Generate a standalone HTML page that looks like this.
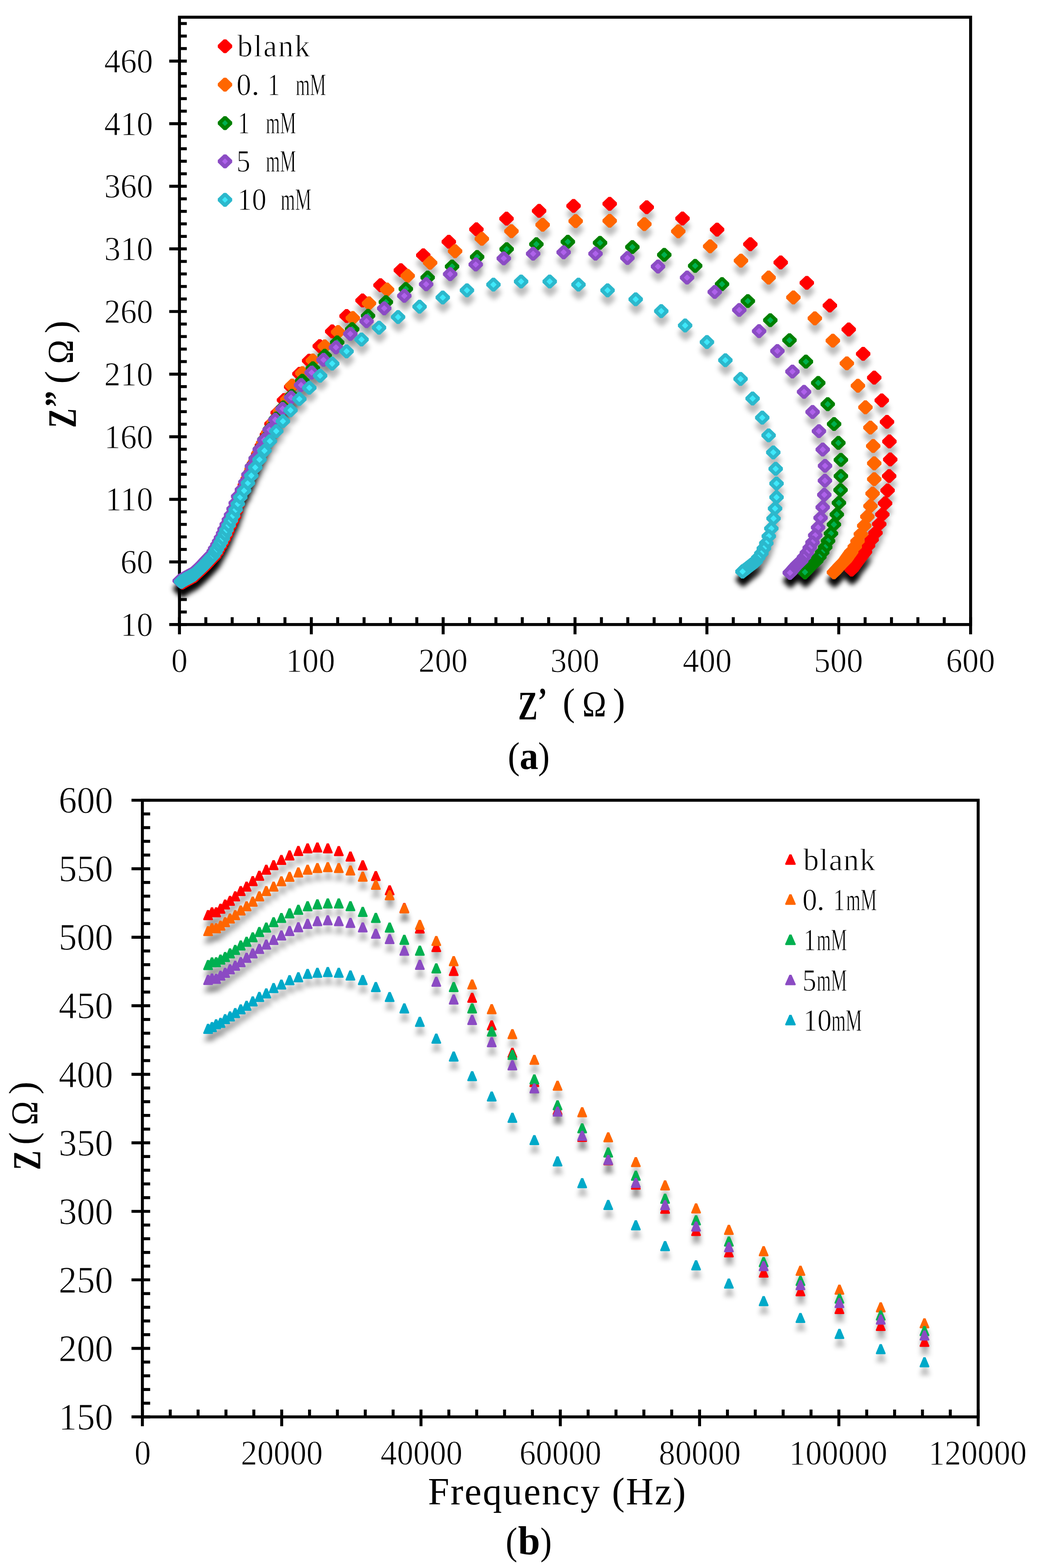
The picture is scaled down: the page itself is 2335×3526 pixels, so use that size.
<!DOCTYPE html>
<html><head><meta charset="utf-8"><title>EIS plots</title><style>html,body{margin:0;padding:0;background:#fff}svg{display:block}text{font-family:"Liberation Serif","Noto Serif CJK SC",serif}text.t{stroke:#fff;stroke-width:1.1px}</style></head><body>
<svg width="2335" height="3526" viewBox="0 0 2335 3526">
<defs><filter id="blur" x="-10%" y="-10%" width="120%" height="120%"><feGaussianBlur stdDeviation="5.5"/></filter></defs>
<rect width="2335" height="3526" fill="#fff"/>
<rect x="403.7" y="38.7" width="1779.7" height="1365.7" fill="none" stroke="#000" stroke-width="6.7"/>
<line x1="403.7" y1="1387.9" x2="403.7" y2="1426.4" stroke="#000" stroke-width="6.7"/><line x1="463.0" y1="1387.9" x2="463.0" y2="1404.4" stroke="#000" stroke-width="6.7"/><line x1="522.3" y1="1387.9" x2="522.3" y2="1404.4" stroke="#000" stroke-width="6.7"/><line x1="581.7" y1="1387.9" x2="581.7" y2="1404.4" stroke="#000" stroke-width="6.7"/><line x1="641.0" y1="1387.9" x2="641.0" y2="1404.4" stroke="#000" stroke-width="6.7"/><line x1="700.3" y1="1387.9" x2="700.3" y2="1426.4" stroke="#000" stroke-width="6.7"/><line x1="759.6" y1="1387.9" x2="759.6" y2="1404.4" stroke="#000" stroke-width="6.7"/><line x1="819.0" y1="1387.9" x2="819.0" y2="1404.4" stroke="#000" stroke-width="6.7"/><line x1="878.3" y1="1387.9" x2="878.3" y2="1404.4" stroke="#000" stroke-width="6.7"/><line x1="937.6" y1="1387.9" x2="937.6" y2="1404.4" stroke="#000" stroke-width="6.7"/><line x1="996.9" y1="1387.9" x2="996.9" y2="1426.4" stroke="#000" stroke-width="6.7"/><line x1="1056.3" y1="1387.9" x2="1056.3" y2="1404.4" stroke="#000" stroke-width="6.7"/><line x1="1115.6" y1="1387.9" x2="1115.6" y2="1404.4" stroke="#000" stroke-width="6.7"/><line x1="1174.9" y1="1387.9" x2="1174.9" y2="1404.4" stroke="#000" stroke-width="6.7"/><line x1="1234.2" y1="1387.9" x2="1234.2" y2="1404.4" stroke="#000" stroke-width="6.7"/><line x1="1293.5" y1="1387.9" x2="1293.5" y2="1426.4" stroke="#000" stroke-width="6.7"/><line x1="1352.9" y1="1387.9" x2="1352.9" y2="1404.4" stroke="#000" stroke-width="6.7"/><line x1="1412.2" y1="1387.9" x2="1412.2" y2="1404.4" stroke="#000" stroke-width="6.7"/><line x1="1471.5" y1="1387.9" x2="1471.5" y2="1404.4" stroke="#000" stroke-width="6.7"/><line x1="1530.8" y1="1387.9" x2="1530.8" y2="1404.4" stroke="#000" stroke-width="6.7"/><line x1="1590.2" y1="1387.9" x2="1590.2" y2="1426.4" stroke="#000" stroke-width="6.7"/><line x1="1649.5" y1="1387.9" x2="1649.5" y2="1404.4" stroke="#000" stroke-width="6.7"/><line x1="1708.8" y1="1387.9" x2="1708.8" y2="1404.4" stroke="#000" stroke-width="6.7"/><line x1="1768.1" y1="1387.9" x2="1768.1" y2="1404.4" stroke="#000" stroke-width="6.7"/><line x1="1827.5" y1="1387.9" x2="1827.5" y2="1404.4" stroke="#000" stroke-width="6.7"/><line x1="1886.8" y1="1387.9" x2="1886.8" y2="1426.4" stroke="#000" stroke-width="6.7"/><line x1="1946.1" y1="1387.9" x2="1946.1" y2="1404.4" stroke="#000" stroke-width="6.7"/><line x1="2005.4" y1="1387.9" x2="2005.4" y2="1404.4" stroke="#000" stroke-width="6.7"/><line x1="2064.8" y1="1387.9" x2="2064.8" y2="1404.4" stroke="#000" stroke-width="6.7"/><line x1="2124.1" y1="1387.9" x2="2124.1" y2="1404.4" stroke="#000" stroke-width="6.7"/><line x1="2183.4" y1="1387.9" x2="2183.4" y2="1426.4" stroke="#000" stroke-width="6.7"/><line x1="380.7" y1="1404.4" x2="420.2" y2="1404.4" stroke="#000" stroke-width="6.7"/><line x1="403.7" y1="1376.2" x2="420.2" y2="1376.2" stroke="#000" stroke-width="6.7"/><line x1="403.7" y1="1348.1" x2="420.2" y2="1348.1" stroke="#000" stroke-width="6.7"/><line x1="403.7" y1="1319.9" x2="420.2" y2="1319.9" stroke="#000" stroke-width="6.7"/><line x1="403.7" y1="1291.8" x2="420.2" y2="1291.8" stroke="#000" stroke-width="6.7"/><line x1="380.7" y1="1263.6" x2="420.2" y2="1263.6" stroke="#000" stroke-width="6.7"/><line x1="403.7" y1="1235.5" x2="420.2" y2="1235.5" stroke="#000" stroke-width="6.7"/><line x1="403.7" y1="1207.3" x2="420.2" y2="1207.3" stroke="#000" stroke-width="6.7"/><line x1="403.7" y1="1179.2" x2="420.2" y2="1179.2" stroke="#000" stroke-width="6.7"/><line x1="403.7" y1="1151.0" x2="420.2" y2="1151.0" stroke="#000" stroke-width="6.7"/><line x1="380.7" y1="1122.8" x2="420.2" y2="1122.8" stroke="#000" stroke-width="6.7"/><line x1="403.7" y1="1094.7" x2="420.2" y2="1094.7" stroke="#000" stroke-width="6.7"/><line x1="403.7" y1="1066.5" x2="420.2" y2="1066.5" stroke="#000" stroke-width="6.7"/><line x1="403.7" y1="1038.4" x2="420.2" y2="1038.4" stroke="#000" stroke-width="6.7"/><line x1="403.7" y1="1010.2" x2="420.2" y2="1010.2" stroke="#000" stroke-width="6.7"/><line x1="380.7" y1="982.1" x2="420.2" y2="982.1" stroke="#000" stroke-width="6.7"/><line x1="403.7" y1="953.9" x2="420.2" y2="953.9" stroke="#000" stroke-width="6.7"/><line x1="403.7" y1="925.7" x2="420.2" y2="925.7" stroke="#000" stroke-width="6.7"/><line x1="403.7" y1="897.6" x2="420.2" y2="897.6" stroke="#000" stroke-width="6.7"/><line x1="403.7" y1="869.4" x2="420.2" y2="869.4" stroke="#000" stroke-width="6.7"/><line x1="380.7" y1="841.3" x2="420.2" y2="841.3" stroke="#000" stroke-width="6.7"/><line x1="403.7" y1="813.1" x2="420.2" y2="813.1" stroke="#000" stroke-width="6.7"/><line x1="403.7" y1="785.0" x2="420.2" y2="785.0" stroke="#000" stroke-width="6.7"/><line x1="403.7" y1="756.8" x2="420.2" y2="756.8" stroke="#000" stroke-width="6.7"/><line x1="403.7" y1="728.7" x2="420.2" y2="728.7" stroke="#000" stroke-width="6.7"/><line x1="380.7" y1="700.5" x2="420.2" y2="700.5" stroke="#000" stroke-width="6.7"/><line x1="403.7" y1="672.3" x2="420.2" y2="672.3" stroke="#000" stroke-width="6.7"/><line x1="403.7" y1="644.2" x2="420.2" y2="644.2" stroke="#000" stroke-width="6.7"/><line x1="403.7" y1="616.0" x2="420.2" y2="616.0" stroke="#000" stroke-width="6.7"/><line x1="403.7" y1="587.9" x2="420.2" y2="587.9" stroke="#000" stroke-width="6.7"/><line x1="380.7" y1="559.7" x2="420.2" y2="559.7" stroke="#000" stroke-width="6.7"/><line x1="403.7" y1="531.6" x2="420.2" y2="531.6" stroke="#000" stroke-width="6.7"/><line x1="403.7" y1="503.4" x2="420.2" y2="503.4" stroke="#000" stroke-width="6.7"/><line x1="403.7" y1="475.3" x2="420.2" y2="475.3" stroke="#000" stroke-width="6.7"/><line x1="403.7" y1="447.1" x2="420.2" y2="447.1" stroke="#000" stroke-width="6.7"/><line x1="380.7" y1="418.9" x2="420.2" y2="418.9" stroke="#000" stroke-width="6.7"/><line x1="403.7" y1="390.8" x2="420.2" y2="390.8" stroke="#000" stroke-width="6.7"/><line x1="403.7" y1="362.6" x2="420.2" y2="362.6" stroke="#000" stroke-width="6.7"/><line x1="403.7" y1="334.5" x2="420.2" y2="334.5" stroke="#000" stroke-width="6.7"/><line x1="403.7" y1="306.3" x2="420.2" y2="306.3" stroke="#000" stroke-width="6.7"/><line x1="380.7" y1="278.2" x2="420.2" y2="278.2" stroke="#000" stroke-width="6.7"/><line x1="403.7" y1="250.0" x2="420.2" y2="250.0" stroke="#000" stroke-width="6.7"/><line x1="403.7" y1="221.8" x2="420.2" y2="221.8" stroke="#000" stroke-width="6.7"/><line x1="403.7" y1="193.7" x2="420.2" y2="193.7" stroke="#000" stroke-width="6.7"/><line x1="403.7" y1="165.5" x2="420.2" y2="165.5" stroke="#000" stroke-width="6.7"/><line x1="380.7" y1="137.4" x2="420.2" y2="137.4" stroke="#000" stroke-width="6.7"/><line x1="403.7" y1="109.2" x2="420.2" y2="109.2" stroke="#000" stroke-width="6.7"/><line x1="403.7" y1="81.1" x2="420.2" y2="81.1" stroke="#000" stroke-width="6.7"/><line x1="403.7" y1="52.9" x2="420.2" y2="52.9" stroke="#000" stroke-width="6.7"/>
<rect x="320.3" y="1799.5" width="1880.1" height="1386.7" fill="none" stroke="#000" stroke-width="6.7"/>
<line x1="320.3" y1="3169.7" x2="320.3" y2="3207.2" stroke="#000" stroke-width="6.7"/><line x1="383.0" y1="3169.7" x2="383.0" y2="3186.2" stroke="#000" stroke-width="6.7"/><line x1="445.6" y1="3169.7" x2="445.6" y2="3186.2" stroke="#000" stroke-width="6.7"/><line x1="508.3" y1="3169.7" x2="508.3" y2="3186.2" stroke="#000" stroke-width="6.7"/><line x1="571.0" y1="3169.7" x2="571.0" y2="3186.2" stroke="#000" stroke-width="6.7"/><line x1="633.7" y1="3169.7" x2="633.7" y2="3207.2" stroke="#000" stroke-width="6.7"/><line x1="696.3" y1="3169.7" x2="696.3" y2="3186.2" stroke="#000" stroke-width="6.7"/><line x1="759.0" y1="3169.7" x2="759.0" y2="3186.2" stroke="#000" stroke-width="6.7"/><line x1="821.7" y1="3169.7" x2="821.7" y2="3186.2" stroke="#000" stroke-width="6.7"/><line x1="884.3" y1="3169.7" x2="884.3" y2="3186.2" stroke="#000" stroke-width="6.7"/><line x1="947.0" y1="3169.7" x2="947.0" y2="3207.2" stroke="#000" stroke-width="6.7"/><line x1="1009.7" y1="3169.7" x2="1009.7" y2="3186.2" stroke="#000" stroke-width="6.7"/><line x1="1072.3" y1="3169.7" x2="1072.3" y2="3186.2" stroke="#000" stroke-width="6.7"/><line x1="1135.0" y1="3169.7" x2="1135.0" y2="3186.2" stroke="#000" stroke-width="6.7"/><line x1="1197.7" y1="3169.7" x2="1197.7" y2="3186.2" stroke="#000" stroke-width="6.7"/><line x1="1260.4" y1="3169.7" x2="1260.4" y2="3207.2" stroke="#000" stroke-width="6.7"/><line x1="1323.0" y1="3169.7" x2="1323.0" y2="3186.2" stroke="#000" stroke-width="6.7"/><line x1="1385.7" y1="3169.7" x2="1385.7" y2="3186.2" stroke="#000" stroke-width="6.7"/><line x1="1448.4" y1="3169.7" x2="1448.4" y2="3186.2" stroke="#000" stroke-width="6.7"/><line x1="1511.0" y1="3169.7" x2="1511.0" y2="3186.2" stroke="#000" stroke-width="6.7"/><line x1="1573.7" y1="3169.7" x2="1573.7" y2="3207.2" stroke="#000" stroke-width="6.7"/><line x1="1636.4" y1="3169.7" x2="1636.4" y2="3186.2" stroke="#000" stroke-width="6.7"/><line x1="1699.0" y1="3169.7" x2="1699.0" y2="3186.2" stroke="#000" stroke-width="6.7"/><line x1="1761.7" y1="3169.7" x2="1761.7" y2="3186.2" stroke="#000" stroke-width="6.7"/><line x1="1824.4" y1="3169.7" x2="1824.4" y2="3186.2" stroke="#000" stroke-width="6.7"/><line x1="1887.0" y1="3169.7" x2="1887.0" y2="3207.2" stroke="#000" stroke-width="6.7"/><line x1="1949.7" y1="3169.7" x2="1949.7" y2="3186.2" stroke="#000" stroke-width="6.7"/><line x1="2012.4" y1="3169.7" x2="2012.4" y2="3186.2" stroke="#000" stroke-width="6.7"/><line x1="2075.1" y1="3169.7" x2="2075.1" y2="3186.2" stroke="#000" stroke-width="6.7"/><line x1="2137.7" y1="3169.7" x2="2137.7" y2="3186.2" stroke="#000" stroke-width="6.7"/><line x1="2200.4" y1="3169.7" x2="2200.4" y2="3207.2" stroke="#000" stroke-width="6.7"/><line x1="295.8" y1="3186.2" x2="337.8" y2="3186.2" stroke="#000" stroke-width="6.7"/><line x1="320.3" y1="3155.4" x2="337.8" y2="3155.4" stroke="#000" stroke-width="6.7"/><line x1="320.3" y1="3124.6" x2="337.8" y2="3124.6" stroke="#000" stroke-width="6.7"/><line x1="320.3" y1="3093.8" x2="337.8" y2="3093.8" stroke="#000" stroke-width="6.7"/><line x1="320.3" y1="3062.9" x2="337.8" y2="3062.9" stroke="#000" stroke-width="6.7"/><line x1="295.8" y1="3032.1" x2="337.8" y2="3032.1" stroke="#000" stroke-width="6.7"/><line x1="320.3" y1="3001.3" x2="337.8" y2="3001.3" stroke="#000" stroke-width="6.7"/><line x1="320.3" y1="2970.5" x2="337.8" y2="2970.5" stroke="#000" stroke-width="6.7"/><line x1="320.3" y1="2939.7" x2="337.8" y2="2939.7" stroke="#000" stroke-width="6.7"/><line x1="320.3" y1="2908.9" x2="337.8" y2="2908.9" stroke="#000" stroke-width="6.7"/><line x1="295.8" y1="2878.0" x2="337.8" y2="2878.0" stroke="#000" stroke-width="6.7"/><line x1="320.3" y1="2847.2" x2="337.8" y2="2847.2" stroke="#000" stroke-width="6.7"/><line x1="320.3" y1="2816.4" x2="337.8" y2="2816.4" stroke="#000" stroke-width="6.7"/><line x1="320.3" y1="2785.6" x2="337.8" y2="2785.6" stroke="#000" stroke-width="6.7"/><line x1="320.3" y1="2754.8" x2="337.8" y2="2754.8" stroke="#000" stroke-width="6.7"/><line x1="295.8" y1="2724.0" x2="337.8" y2="2724.0" stroke="#000" stroke-width="6.7"/><line x1="320.3" y1="2693.2" x2="337.8" y2="2693.2" stroke="#000" stroke-width="6.7"/><line x1="320.3" y1="2662.3" x2="337.8" y2="2662.3" stroke="#000" stroke-width="6.7"/><line x1="320.3" y1="2631.5" x2="337.8" y2="2631.5" stroke="#000" stroke-width="6.7"/><line x1="320.3" y1="2600.7" x2="337.8" y2="2600.7" stroke="#000" stroke-width="6.7"/><line x1="295.8" y1="2569.9" x2="337.8" y2="2569.9" stroke="#000" stroke-width="6.7"/><line x1="320.3" y1="2539.1" x2="337.8" y2="2539.1" stroke="#000" stroke-width="6.7"/><line x1="320.3" y1="2508.3" x2="337.8" y2="2508.3" stroke="#000" stroke-width="6.7"/><line x1="320.3" y1="2477.4" x2="337.8" y2="2477.4" stroke="#000" stroke-width="6.7"/><line x1="320.3" y1="2446.6" x2="337.8" y2="2446.6" stroke="#000" stroke-width="6.7"/><line x1="295.8" y1="2415.8" x2="337.8" y2="2415.8" stroke="#000" stroke-width="6.7"/><line x1="320.3" y1="2385.0" x2="337.8" y2="2385.0" stroke="#000" stroke-width="6.7"/><line x1="320.3" y1="2354.2" x2="337.8" y2="2354.2" stroke="#000" stroke-width="6.7"/><line x1="320.3" y1="2323.4" x2="337.8" y2="2323.4" stroke="#000" stroke-width="6.7"/><line x1="320.3" y1="2292.5" x2="337.8" y2="2292.5" stroke="#000" stroke-width="6.7"/><line x1="295.8" y1="2261.7" x2="337.8" y2="2261.7" stroke="#000" stroke-width="6.7"/><line x1="320.3" y1="2230.9" x2="337.8" y2="2230.9" stroke="#000" stroke-width="6.7"/><line x1="320.3" y1="2200.1" x2="337.8" y2="2200.1" stroke="#000" stroke-width="6.7"/><line x1="320.3" y1="2169.3" x2="337.8" y2="2169.3" stroke="#000" stroke-width="6.7"/><line x1="320.3" y1="2138.5" x2="337.8" y2="2138.5" stroke="#000" stroke-width="6.7"/><line x1="295.8" y1="2107.7" x2="337.8" y2="2107.7" stroke="#000" stroke-width="6.7"/><line x1="320.3" y1="2076.8" x2="337.8" y2="2076.8" stroke="#000" stroke-width="6.7"/><line x1="320.3" y1="2046.0" x2="337.8" y2="2046.0" stroke="#000" stroke-width="6.7"/><line x1="320.3" y1="2015.2" x2="337.8" y2="2015.2" stroke="#000" stroke-width="6.7"/><line x1="320.3" y1="1984.4" x2="337.8" y2="1984.4" stroke="#000" stroke-width="6.7"/><line x1="295.8" y1="1953.6" x2="337.8" y2="1953.6" stroke="#000" stroke-width="6.7"/><line x1="320.3" y1="1922.8" x2="337.8" y2="1922.8" stroke="#000" stroke-width="6.7"/><line x1="320.3" y1="1891.9" x2="337.8" y2="1891.9" stroke="#000" stroke-width="6.7"/><line x1="320.3" y1="1861.1" x2="337.8" y2="1861.1" stroke="#000" stroke-width="6.7"/><line x1="320.3" y1="1830.3" x2="337.8" y2="1830.3" stroke="#000" stroke-width="6.7"/><line x1="295.8" y1="1799.5" x2="337.8" y2="1799.5" stroke="#000" stroke-width="6.7"/>
<g filter="url(#blur)" fill="#000" fill-opacity="0.26"><path d="M408.7,1312.4L414.2,1312.4L427.7,1325.4L427.7,1330.7L414.2,1343.7L408.7,1343.7L395.3,1330.7L395.3,1325.4Z"/><path d="M408.7,1312.4L414.2,1312.4L427.7,1325.4L427.7,1330.7L414.2,1343.7L408.7,1343.7L395.3,1330.7L395.3,1325.4Z"/><path d="M408.7,1312.4L414.2,1312.4L427.7,1325.4L427.7,1330.7L414.2,1343.7L408.7,1343.7L395.3,1330.7L395.3,1325.4Z"/><path d="M408.7,1312.4L414.2,1312.4L427.7,1325.4L427.7,1330.7L414.2,1343.7L408.7,1343.7L395.3,1330.7L395.3,1325.4Z"/><path d="M408.7,1312.4L414.2,1312.4L427.7,1325.4L427.7,1330.7L414.2,1343.7L408.7,1343.7L395.3,1330.7L395.3,1325.4Z"/><path d="M408.7,1312.4L414.2,1312.4L427.7,1325.4L427.7,1330.7L414.2,1343.7L408.7,1343.7L395.3,1330.7L395.3,1325.4Z"/><path d="M408.7,1312.4L414.2,1312.4L427.7,1325.4L427.7,1330.7L414.2,1343.7L408.7,1343.7L395.3,1330.7L395.3,1325.4Z"/><path d="M408.7,1312.4L414.2,1312.4L427.7,1325.4L427.7,1330.7L414.2,1343.7L408.7,1343.7L395.3,1330.7L395.3,1325.4Z"/><path d="M408.7,1312.4L414.2,1312.4L427.7,1325.4L427.7,1330.7L414.2,1343.7L408.7,1343.7L395.3,1330.7L395.3,1325.4Z"/><path d="M411.3,1310.9L416.8,1310.9L430.2,1323.9L430.2,1329.2L416.8,1342.2L411.3,1342.2L397.8,1329.2L397.8,1323.9Z"/><path d="M413.9,1309.4L419.4,1309.4L432.8,1322.4L432.8,1327.7L419.4,1340.7L413.9,1340.7L400.4,1327.7L400.4,1322.4Z"/><path d="M416.5,1307.9L422.0,1307.9L435.4,1320.9L435.4,1326.2L422.0,1339.2L416.5,1339.2L403.0,1326.2L403.0,1320.9Z"/><path d="M419.1,1306.4L424.6,1306.4L438.0,1319.4L438.0,1324.7L424.6,1337.7L419.1,1337.7L405.6,1324.7L405.6,1319.4Z"/><path d="M421.7,1305.0L427.2,1305.0L440.6,1317.9L440.6,1323.3L427.2,1336.2L421.7,1336.2L408.2,1323.3L408.2,1317.9Z"/><path d="M424.3,1303.6L429.8,1303.6L443.3,1316.6L443.3,1321.9L429.8,1334.8L424.3,1334.8L410.9,1321.9L410.9,1316.6Z"/><path d="M427.0,1302.2L432.5,1302.2L445.9,1315.2L445.9,1320.5L432.5,1333.4L427.0,1333.4L413.5,1320.5L413.5,1315.2Z"/><path d="M429.6,1300.8L435.1,1300.8L448.6,1313.8L448.6,1319.1L435.1,1332.0L429.6,1332.0L416.2,1319.1L416.2,1313.8Z"/><path d="M432.3,1299.4L437.8,1299.4L451.2,1312.4L451.2,1317.7L437.8,1330.6L432.3,1330.6L418.8,1317.7L418.8,1312.4Z"/><path d="M434.9,1298.0L440.4,1298.0L453.8,1311.0L453.8,1316.3L440.4,1329.3L434.9,1329.3L421.4,1316.3L421.4,1311.0Z"/><path d="M437.5,1296.5L443.0,1296.5L456.4,1309.5L456.4,1314.8L443.0,1327.7L437.5,1327.7L424.0,1314.8L424.0,1309.5Z"/><path d="M439.7,1294.4L445.2,1294.4L458.6,1307.4L458.6,1312.7L445.2,1325.7L439.7,1325.7L426.2,1312.7L426.2,1307.4Z"/><path d="M441.8,1292.4L447.3,1292.4L460.8,1305.4L460.8,1310.7L447.3,1323.7L441.8,1323.7L428.4,1310.7L428.4,1305.4Z"/><path d="M444.0,1290.4L449.5,1290.4L463.0,1303.4L463.0,1308.7L449.5,1321.6L444.0,1321.6L430.6,1308.7L430.6,1303.4Z"/><path d="M446.2,1288.4L451.7,1288.4L465.2,1301.3L465.2,1306.6L451.7,1319.6L446.2,1319.6L432.8,1306.6L432.8,1301.3Z"/><path d="M448.4,1286.3L453.9,1286.3L467.4,1299.3L467.4,1304.6L453.9,1317.6L448.4,1317.6L435.0,1304.6L435.0,1299.3Z"/><path d="M450.6,1284.3L456.1,1284.3L469.6,1297.3L469.6,1302.6L456.1,1315.6L450.6,1315.6L437.2,1302.6L437.2,1297.3Z"/><path d="M452.8,1282.3L458.3,1282.3L471.7,1295.2L471.7,1300.5L458.3,1313.5L452.8,1313.5L439.3,1300.5L439.3,1295.2Z"/><path d="M455.0,1280.2L460.5,1280.2L473.9,1293.2L473.9,1298.5L460.5,1311.5L455.0,1311.5L441.5,1298.5L441.5,1293.2Z"/><path d="M457.1,1278.1L462.6,1278.1L476.0,1291.1L476.0,1296.4L462.6,1309.4L457.1,1309.4L443.6,1296.4L443.6,1291.1Z"/><path d="M459.1,1275.9L464.6,1275.9L478.1,1288.9L478.1,1294.2L464.6,1307.2L459.1,1307.2L445.7,1294.2L445.7,1288.9Z"/><path d="M461.2,1273.7L466.7,1273.7L480.1,1286.7L480.1,1292.0L466.7,1305.0L461.2,1305.0L447.7,1292.0L447.7,1286.7Z"/><path d="M463.2,1271.6L468.7,1271.6L482.2,1284.6L482.2,1289.9L468.7,1302.8L463.2,1302.8L449.8,1289.9L449.8,1284.6Z"/><path d="M465.2,1269.4L470.7,1269.4L484.2,1282.4L484.2,1287.7L470.7,1300.7L465.2,1300.7L451.8,1287.7L451.8,1282.4Z"/><path d="M467.3,1267.2L472.8,1267.2L486.2,1280.2L486.2,1285.5L472.8,1298.5L467.3,1298.5L453.8,1285.5L453.8,1280.2Z"/><path d="M469.3,1265.0L474.8,1265.0L488.3,1278.0L488.3,1283.3L474.8,1296.3L469.3,1296.3L455.9,1283.3L455.9,1278.0Z"/><path d="M471.4,1262.9L476.9,1262.9L490.3,1275.9L490.3,1281.2L476.9,1294.2L471.4,1294.2L457.9,1281.2L457.9,1275.9Z"/><path d="M473.5,1260.7L479.0,1260.7L492.4,1273.7L492.4,1279.0L479.0,1292.0L473.5,1292.0L460.0,1279.0L460.0,1273.7Z"/><path d="M475.6,1258.6L481.1,1258.6L494.5,1271.6L494.5,1276.9L481.1,1289.9L475.6,1289.9L462.1,1276.9L462.1,1271.6Z"/><path d="M477.6,1256.5L483.1,1256.5L496.6,1269.4L496.6,1274.8L483.1,1287.7L477.6,1287.7L464.2,1274.8L464.2,1269.4Z"/><path d="M480.0,1254.0L485.5,1254.0L499.0,1267.0L499.0,1272.3L485.5,1285.3L480.0,1285.3L466.6,1272.3L466.6,1267.0Z"/><path d="M485.0,1246.6L490.5,1246.6L504.0,1259.5L504.0,1264.8L490.5,1277.8L485.0,1277.8L471.6,1264.8L471.6,1259.5Z"/><path d="M488.3,1240.0L493.8,1240.0L507.2,1253.0L507.2,1258.3L493.8,1271.3L488.3,1271.3L474.8,1258.3L474.8,1253.0Z"/><path d="M493.3,1231.7L498.8,1231.7L512.2,1244.7L512.2,1250.0L498.8,1263.0L493.3,1263.0L479.8,1250.0L479.8,1244.7Z"/><path d="M497.3,1224.3L502.8,1224.3L516.3,1237.3L516.3,1242.6L502.8,1255.6L497.3,1255.6L483.9,1242.6L483.9,1237.3Z"/><path d="M501.5,1216.0L507.0,1216.0L520.5,1229.0L520.5,1234.3L507.0,1247.3L501.5,1247.3L488.1,1234.3L488.1,1229.0Z"/><path d="M506.4,1206.2L511.9,1206.2L525.3,1219.2L525.3,1224.5L511.9,1237.5L506.4,1237.5L492.9,1224.5L492.9,1219.2Z"/><path d="M509.7,1197.1L515.2,1197.1L528.7,1210.0L528.7,1215.4L515.2,1228.3L509.7,1228.3L496.3,1215.4L496.3,1210.0Z"/><path d="M514.6,1186.4L520.1,1186.4L533.6,1199.4L533.6,1204.7L520.1,1217.7L514.6,1217.7L501.2,1204.7L501.2,1199.4Z"/><path d="M519.6,1175.7L525.1,1175.7L538.5,1188.7L538.5,1194.0L525.1,1207.0L519.6,1207.0L506.1,1194.0L506.1,1188.7Z"/><path d="M524.5,1165.0L530.0,1165.0L543.5,1177.9L543.5,1183.3L530.0,1196.2L524.5,1196.2L511.1,1183.3L511.1,1177.9Z"/><path d="M528.7,1151.7L534.2,1151.7L547.7,1164.6L547.7,1170.0L534.2,1182.9L528.7,1182.9L515.3,1170.0L515.3,1164.6Z"/><path d="M532.1,1138.5L537.6,1138.5L551.0,1151.4L551.0,1156.8L537.6,1169.7L532.1,1169.7L518.6,1156.8L518.6,1151.4Z"/><path d="M535.8,1123.5L541.3,1123.5L554.8,1136.4L554.8,1141.8L541.3,1154.7L535.8,1154.7L522.4,1141.8L522.4,1136.4Z"/><path d="M542.8,1108.6L548.3,1108.6L561.7,1121.5L561.7,1126.9L548.3,1139.8L542.8,1139.8L529.3,1126.9L529.3,1121.5Z"/><path d="M549.1,1093.2L554.6,1093.2L568.0,1106.2L568.0,1111.5L554.6,1124.5L549.1,1124.5L535.6,1111.5L535.6,1106.2Z"/><path d="M555.4,1079.3L560.9,1079.3L574.4,1092.3L574.4,1097.6L560.9,1110.6L555.4,1110.6L542.0,1097.6L542.0,1092.3Z"/><path d="M563.2,1062.6L568.7,1062.6L582.1,1075.6L582.1,1080.9L568.7,1093.9L563.2,1093.9L549.7,1080.9L549.7,1075.6Z"/><path d="M569.6,1044.8L575.1,1044.8L588.6,1057.8L588.6,1063.1L575.1,1076.0L569.6,1076.0L556.2,1063.1L556.2,1057.8Z"/><path d="M579.2,1023.2L584.7,1023.2L598.1,1036.2L598.1,1041.5L584.7,1054.5L579.2,1054.5L565.7,1041.5L565.7,1036.2Z"/><path d="M587.4,1004.0L592.9,1004.0L606.3,1016.9L606.3,1022.3L592.9,1035.2L587.4,1035.2L573.9,1022.3L573.9,1016.9Z"/><path d="M598.8,979.7L604.3,979.7L617.7,992.7L617.7,998.0L604.3,1011.0L598.8,1011.0L585.3,998.0L585.3,992.7Z"/><path d="M609.0,955.4L614.5,955.4L627.9,968.4L627.9,973.7L614.5,986.7L609.0,986.7L595.5,973.7L595.5,968.4Z"/><path d="M622.8,930.4L628.3,930.4L641.8,943.4L641.8,948.7L628.3,961.6L622.8,961.6L609.4,948.7L609.4,943.4Z"/><path d="M637.1,901.9L642.6,901.9L656.0,914.9L656.0,920.2L642.6,933.2L637.1,933.2L623.6,920.2L623.6,914.9Z"/><path d="M653.2,872.4L658.8,872.4L672.2,885.3L672.2,890.7L658.8,903.6L653.2,903.6L639.8,890.7L639.8,885.3Z"/><path d="M671.8,843.0L677.2,843.0L690.7,855.9L690.7,861.3L677.2,874.2L671.8,874.2L658.3,861.3L658.3,855.9Z"/><path d="M693.6,813.6L699.1,813.6L712.6,826.5L712.6,831.9L699.1,844.8L693.6,844.8L680.2,831.9L680.2,826.5Z"/><path d="M717.5,780.7L723.0,780.7L736.5,793.6L736.5,799.0L723.0,811.9L717.5,811.9L704.1,799.0L704.1,793.6Z"/><path d="M745.5,747.6L751.0,747.6L764.5,760.5L764.5,765.9L751.0,778.8L745.5,778.8L732.1,765.9L732.1,760.5Z"/><path d="M777.9,713.1L783.4,713.1L796.8,726.0L796.8,731.4L783.4,744.3L777.9,744.3L764.4,731.4L764.4,726.0Z"/><path d="M813.8,678.0L819.2,678.0L832.7,690.9L832.7,696.3L819.2,709.2L813.8,709.2L800.3,696.3L800.3,690.9Z"/><path d="M854.1,643.8L859.6,643.8L873.1,656.7L873.1,662.1L859.6,675.0L854.1,675.0L840.7,662.1L840.7,656.7Z"/><path d="M900.0,610.1L905.5,610.1L918.9,623.0L918.9,628.4L905.5,641.3L900.0,641.3L886.5,628.4L886.5,623.0Z"/><path d="M950.5,576.4L956.0,576.4L969.4,589.3L969.4,594.7L956.0,607.6L950.5,607.6L937.0,594.7L937.0,589.3Z"/><path d="M1007.9,546.1L1013.4,546.1L1026.8,559.0L1026.8,564.4L1013.4,577.3L1007.9,577.3L994.4,564.4L994.4,559.0Z"/><path d="M1070.0,518.1L1075.5,518.1L1088.9,531.0L1088.9,536.4L1075.5,549.3L1070.0,549.3L1056.5,536.4L1056.5,531.0Z"/><path d="M1137.7,494.1L1143.2,494.1L1156.6,507.0L1156.6,512.4L1143.2,525.3L1137.7,525.3L1124.2,512.4L1124.2,507.0Z"/><path d="M1211.0,476.6L1216.5,476.6L1229.9,489.5L1229.9,494.9L1216.5,507.8L1211.0,507.8L1197.5,494.9L1197.5,489.5Z"/><path d="M1288.5,465.4L1294.0,465.4L1307.4,478.3L1307.4,483.7L1294.0,496.6L1288.5,496.6L1275.0,483.7L1275.0,478.3Z"/><path d="M1369.8,460.7L1375.2,460.7L1388.7,473.6L1388.7,479.0L1375.2,491.9L1369.8,491.9L1356.3,479.0L1356.3,473.6Z"/><path d="M1453.0,468.4L1458.5,468.4L1472.0,481.3L1472.0,486.7L1458.5,499.6L1453.0,499.6L1439.6,486.7L1439.6,481.3Z"/><path d="M1533.5,493.7L1539.0,493.7L1552.5,506.6L1552.5,512.0L1539.0,524.9L1533.5,524.9L1520.1,512.0L1520.1,506.6Z"/><path d="M1611.3,518.7L1616.8,518.7L1630.3,531.6L1630.3,537.0L1616.8,549.9L1611.3,549.9L1597.9,537.0L1597.9,531.6Z"/><path d="M1686.2,551.5L1691.7,551.5L1705.1,564.4L1705.1,569.8L1691.7,582.7L1686.2,582.7L1672.7,569.8L1672.7,564.4Z"/><path d="M1754.5,592.6L1760.0,592.6L1773.4,605.5L1773.4,610.9L1760.0,623.8L1754.5,623.8L1741.0,610.9L1741.0,605.5Z"/><path d="M1813.2,638.4L1818.7,638.4L1832.1,651.3L1832.1,656.7L1818.7,669.6L1813.2,669.6L1799.7,656.7L1799.7,651.3Z"/><path d="M1865.0,689.4L1870.5,689.4L1884.0,702.3L1884.0,707.7L1870.5,720.6L1865.0,720.6L1851.6,707.7L1851.6,702.3Z"/><path d="M1907.5,743.2L1913.0,743.2L1926.4,756.1L1926.4,761.5L1913.0,774.4L1907.5,774.4L1894.0,761.5L1894.0,756.1Z"/><path d="M1940.0,798.1L1945.5,798.1L1958.9,811.0L1958.9,816.4L1945.5,829.3L1940.0,829.3L1926.5,816.4L1926.5,811.0Z"/><path d="M1964.8,851.6L1970.3,851.6L1983.8,864.5L1983.8,869.9L1970.3,882.8L1964.8,882.8L1951.4,869.9L1951.4,864.5Z"/><path d="M1981.8,902.7L1987.2,902.7L2000.7,915.6L2000.7,921.0L1987.2,933.9L1981.8,933.9L1968.3,921.0L1968.3,915.6Z"/><path d="M1993.5,951.1L1999.0,951.1L2012.5,964.0L2012.5,969.4L1999.0,982.3L1993.5,982.3L1980.1,969.4L1980.1,964.0Z"/><path d="M1999.0,995.1L2004.5,995.1L2017.9,1008.0L2017.9,1013.4L2004.5,1026.3L1999.0,1026.3L1985.5,1013.4L1985.5,1008.0Z"/><path d="M2000.8,1035.6L2006.3,1035.6L2019.8,1048.5L2019.8,1053.9L2006.3,1066.8L2000.8,1066.8L1987.4,1053.9L1987.4,1048.5Z"/><path d="M1998.5,1072.9L2004.0,1072.9L2017.4,1085.8L2017.4,1091.2L2004.0,1104.1L1998.5,1104.1L1985.0,1091.2L1985.0,1085.8Z"/><path d="M1994.8,1105.2L2000.3,1105.2L2013.8,1118.1L2013.8,1123.5L2000.3,1136.4L1994.8,1136.4L1981.4,1123.5L1981.4,1118.1Z"/><path d="M1989.2,1134.1L1994.8,1134.1L2008.2,1147.0L2008.2,1152.4L1994.8,1165.3L1989.2,1165.3L1975.8,1152.4L1975.8,1147.0Z"/><path d="M1983.0,1159.3L1988.5,1159.3L2002.0,1172.2L2002.0,1177.6L1988.5,1190.5L1983.0,1190.5L1969.6,1177.6L1969.6,1172.2Z"/><path d="M1976.0,1180.9L1981.5,1180.9L1995.0,1193.8L1995.0,1199.2L1981.5,1212.1L1976.0,1212.1L1962.6,1199.2L1962.6,1193.8Z"/><path d="M1967.7,1200.6L1973.2,1200.6L1986.6,1213.5L1986.6,1218.9L1973.2,1231.8L1967.7,1231.8L1954.2,1218.9L1954.2,1213.5Z"/><path d="M1959.0,1215.9L1964.5,1215.9L1977.9,1228.8L1977.9,1234.2L1964.5,1247.1L1959.0,1247.1L1945.5,1234.2L1945.5,1228.8Z"/><path d="M1950.8,1229.6L1956.3,1229.6L1969.8,1242.5L1969.8,1247.9L1956.3,1260.8L1950.8,1260.8L1937.4,1247.9L1937.4,1242.5Z"/><path d="M1944.0,1243.4L1949.5,1243.4L1962.9,1256.3L1962.9,1261.7L1949.5,1274.6L1944.0,1274.6L1930.5,1261.7L1930.5,1256.3Z"/><path d="M1941.8,1246.1L1947.3,1246.1L1960.7,1259.1L1960.7,1264.4L1947.3,1277.4L1941.8,1277.4L1928.3,1264.4L1928.3,1259.1Z"/><path d="M1939.6,1248.9L1945.1,1248.9L1958.6,1261.9L1958.6,1267.2L1945.1,1280.1L1939.6,1280.1L1926.2,1267.2L1926.2,1261.9Z"/><path d="M1937.5,1251.6L1943.0,1251.6L1956.4,1264.6L1956.4,1269.9L1943.0,1282.9L1937.5,1282.9L1924.0,1269.9L1924.0,1264.6Z"/><path d="M1935.3,1254.4L1940.8,1254.4L1954.3,1267.4L1954.3,1272.7L1940.8,1285.7L1935.3,1285.7L1921.9,1272.7L1921.9,1267.4Z"/><path d="M1933.2,1257.1L1938.7,1257.1L1952.1,1270.1L1952.1,1275.4L1938.7,1288.4L1933.2,1288.4L1919.7,1275.4L1919.7,1270.1Z"/><path d="M1931.0,1259.9L1936.5,1259.9L1950.0,1272.9L1950.0,1278.2L1936.5,1291.2L1931.0,1291.2L1917.6,1278.2L1917.6,1272.9Z"/><path d="M1928.9,1262.7L1934.4,1262.7L1947.9,1275.7L1947.9,1281.0L1934.4,1294.0L1928.9,1294.0L1915.5,1281.0L1915.5,1275.7Z"/><path d="M1926.8,1265.5L1932.3,1265.5L1945.8,1278.5L1945.8,1283.8L1932.3,1296.8L1926.8,1296.8L1913.4,1283.8L1913.4,1278.5Z"/><path d="M1924.8,1268.3L1930.3,1268.3L1943.7,1281.3L1943.7,1286.6L1930.3,1299.6L1924.8,1299.6L1911.3,1286.6L1911.3,1281.3Z"/><path d="M1922.7,1271.2L1928.2,1271.2L1941.6,1284.1L1941.6,1289.5L1928.2,1302.4L1922.7,1302.4L1909.2,1289.5L1909.2,1284.1Z"/><path d="M1920.7,1274.0L1926.2,1274.0L1939.6,1287.0L1939.6,1292.3L1926.2,1305.3L1920.7,1305.3L1907.2,1292.3L1907.2,1287.0Z"/><path d="M1918.6,1276.9L1924.1,1276.9L1937.6,1289.9L1937.6,1295.2L1924.1,1308.1L1918.6,1308.1L1905.2,1295.2L1905.2,1289.9Z"/><path d="M1916.6,1279.7L1922.1,1279.7L1935.6,1292.7L1935.6,1298.0L1922.1,1311.0L1916.6,1311.0L1903.2,1298.0L1903.2,1292.7Z"/><path d="M1914.6,1282.6L1920.1,1282.6L1933.5,1295.6L1933.5,1300.9L1920.1,1313.9L1914.6,1313.9L1901.1,1300.9L1901.1,1295.6Z"/><path d="M1914.0,1283.4L1919.5,1283.4L1933.0,1296.3L1933.0,1301.7L1919.5,1314.6L1914.0,1314.6L1900.6,1301.7L1900.6,1296.3Z"/><path d="M1914.0,1283.4L1919.5,1283.4L1933.0,1296.3L1933.0,1301.7L1919.5,1314.6L1914.0,1314.6L1900.6,1301.7L1900.6,1296.3Z"/><path d="M1914.0,1283.4L1919.5,1283.4L1933.0,1296.3L1933.0,1301.7L1919.5,1314.6L1914.0,1314.6L1900.6,1301.7L1900.6,1296.3Z"/><path d="M1914.0,1283.4L1919.5,1283.4L1933.0,1296.3L1933.0,1301.7L1919.5,1314.6L1914.0,1314.6L1900.6,1301.7L1900.6,1296.3Z"/><path d="M1914.0,1283.4L1919.5,1283.4L1933.0,1296.3L1933.0,1301.7L1919.5,1314.6L1914.0,1314.6L1900.6,1301.7L1900.6,1296.3Z"/><path d="M1914.0,1283.4L1919.5,1283.4L1933.0,1296.3L1933.0,1301.7L1919.5,1314.6L1914.0,1314.6L1900.6,1301.7L1900.6,1296.3Z"/><path d="M1914.0,1283.4L1919.5,1283.4L1933.0,1296.3L1933.0,1301.7L1919.5,1314.6L1914.0,1314.6L1900.6,1301.7L1900.6,1296.3Z"/><path d="M1914.0,1283.4L1919.5,1283.4L1933.0,1296.3L1933.0,1301.7L1919.5,1314.6L1914.0,1314.6L1900.6,1301.7L1900.6,1296.3Z"/><path d="M1914.0,1283.4L1919.5,1283.4L1933.0,1296.3L1933.0,1301.7L1919.5,1314.6L1914.0,1314.6L1900.6,1301.7L1900.6,1296.3Z"/><path d="M406.2,1310.4L411.8,1310.4L425.2,1323.4L425.2,1328.7L411.8,1341.7L406.2,1341.7L392.8,1328.7L392.8,1323.4Z"/><path d="M406.2,1310.4L411.8,1310.4L425.2,1323.4L425.2,1328.7L411.8,1341.7L406.2,1341.7L392.8,1328.7L392.8,1323.4Z"/><path d="M406.2,1310.4L411.8,1310.4L425.2,1323.4L425.2,1328.7L411.8,1341.7L406.2,1341.7L392.8,1328.7L392.8,1323.4Z"/><path d="M406.2,1310.4L411.8,1310.4L425.2,1323.4L425.2,1328.7L411.8,1341.7L406.2,1341.7L392.8,1328.7L392.8,1323.4Z"/><path d="M406.2,1310.4L411.8,1310.4L425.2,1323.4L425.2,1328.7L411.8,1341.7L406.2,1341.7L392.8,1328.7L392.8,1323.4Z"/><path d="M406.2,1310.4L411.8,1310.4L425.2,1323.4L425.2,1328.7L411.8,1341.7L406.2,1341.7L392.8,1328.7L392.8,1323.4Z"/><path d="M406.2,1310.4L411.8,1310.4L425.2,1323.4L425.2,1328.7L411.8,1341.7L406.2,1341.7L392.8,1328.7L392.8,1323.4Z"/><path d="M406.2,1310.4L411.8,1310.4L425.2,1323.4L425.2,1328.7L411.8,1341.7L406.2,1341.7L392.8,1328.7L392.8,1323.4Z"/><path d="M406.2,1310.4L411.8,1310.4L425.2,1323.4L425.2,1328.7L411.8,1341.7L406.2,1341.7L392.8,1328.7L392.8,1323.4Z"/><path d="M408.8,1308.9L414.3,1308.9L427.8,1321.9L427.8,1327.2L414.3,1340.2L408.8,1340.2L395.4,1327.2L395.4,1321.9Z"/><path d="M411.4,1307.4L416.9,1307.4L430.4,1320.4L430.4,1325.7L416.9,1338.7L411.4,1338.7L398.0,1325.7L398.0,1320.4Z"/><path d="M414.0,1305.9L419.5,1305.9L433.0,1318.9L433.0,1324.2L419.5,1337.1L414.0,1337.1L400.6,1324.2L400.6,1318.9Z"/><path d="M416.6,1304.4L422.1,1304.4L435.6,1317.4L435.6,1322.7L422.1,1335.6L416.6,1335.6L403.2,1322.7L403.2,1317.4Z"/><path d="M419.2,1302.9L424.7,1302.9L438.2,1315.9L438.2,1321.2L424.7,1334.2L419.2,1334.2L405.8,1321.2L405.8,1315.9Z"/><path d="M421.9,1301.5L427.4,1301.5L440.8,1314.5L440.8,1319.8L427.4,1332.8L421.9,1332.8L408.4,1319.8L408.4,1314.5Z"/><path d="M424.5,1300.1L430.0,1300.1L443.5,1313.1L443.5,1318.4L430.0,1331.4L424.5,1331.4L411.1,1318.4L411.1,1313.1Z"/><path d="M427.2,1298.7L432.7,1298.7L446.1,1311.7L446.1,1317.0L432.7,1330.0L427.2,1330.0L413.7,1317.0L413.7,1311.7Z"/><path d="M429.8,1297.3L435.3,1297.3L448.8,1310.3L448.8,1315.6L435.3,1328.6L429.8,1328.6L416.4,1315.6L416.4,1310.3Z"/><path d="M432.5,1295.9L438.0,1295.9L451.4,1308.9L451.4,1314.2L438.0,1327.2L432.5,1327.2L419.0,1314.2L419.0,1308.9Z"/><path d="M435.0,1294.4L440.5,1294.4L454.0,1307.4L454.0,1312.7L440.5,1325.7L435.0,1325.7L421.6,1312.7L421.6,1307.4Z"/><path d="M437.2,1292.3L442.7,1292.3L456.2,1305.3L456.2,1310.6L442.7,1323.6L437.2,1323.6L423.8,1310.6L423.8,1305.3Z"/><path d="M439.4,1290.3L444.9,1290.3L458.4,1303.3L458.4,1308.6L444.9,1321.6L439.4,1321.6L426.0,1308.6L426.0,1303.3Z"/><path d="M441.6,1288.3L447.1,1288.3L460.6,1301.3L460.6,1306.6L447.1,1319.5L441.6,1319.5L428.2,1306.6L428.2,1301.3Z"/><path d="M443.8,1286.2L449.3,1286.2L462.8,1299.2L462.8,1304.5L449.3,1317.5L443.8,1317.5L430.4,1304.5L430.4,1299.2Z"/><path d="M446.0,1284.2L451.5,1284.2L465.0,1297.2L465.0,1302.5L451.5,1315.5L446.0,1315.5L432.6,1302.5L432.6,1297.2Z"/><path d="M448.2,1282.2L453.7,1282.2L467.2,1295.1L467.2,1300.5L453.7,1313.4L448.2,1313.4L434.8,1300.5L434.8,1295.1Z"/><path d="M450.4,1280.1L455.9,1280.1L469.4,1293.1L469.4,1298.4L455.9,1311.4L450.4,1311.4L437.0,1298.4L437.0,1293.1Z"/><path d="M452.6,1278.1L458.1,1278.1L471.6,1291.1L471.6,1296.4L458.1,1309.4L452.6,1309.4L439.2,1296.4L439.2,1291.1Z"/><path d="M454.7,1276.0L460.2,1276.0L473.7,1288.9L473.7,1294.2L460.2,1307.2L454.7,1307.2L441.3,1294.2L441.3,1288.9Z"/><path d="M456.8,1273.8L462.3,1273.8L475.7,1286.7L475.7,1292.1L462.3,1305.0L456.8,1305.0L443.3,1292.1L443.3,1286.7Z"/><path d="M458.8,1271.6L464.3,1271.6L477.8,1284.6L477.8,1289.9L464.3,1302.9L458.8,1302.9L445.4,1289.9L445.4,1284.6Z"/><path d="M460.9,1269.4L466.4,1269.4L479.8,1282.4L479.8,1287.7L466.4,1300.7L460.9,1300.7L447.4,1287.7L447.4,1282.4Z"/><path d="M462.9,1267.2L468.4,1267.2L481.9,1280.2L481.9,1285.5L468.4,1298.5L462.9,1298.5L449.5,1285.5L449.5,1280.2Z"/><path d="M465.0,1265.0L470.5,1265.0L483.9,1278.0L483.9,1283.3L470.5,1296.3L465.0,1296.3L451.5,1283.3L451.5,1278.0Z"/><path d="M467.0,1262.9L472.5,1262.9L486.0,1275.8L486.0,1281.1L472.5,1294.1L467.0,1294.1L453.6,1281.1L453.6,1275.8Z"/><path d="M469.1,1260.7L474.6,1260.7L488.0,1273.7L488.0,1279.0L474.6,1292.0L469.1,1292.0L455.6,1279.0L455.6,1273.7Z"/><path d="M471.2,1258.5L476.7,1258.5L490.1,1271.5L490.1,1276.8L476.7,1289.8L471.2,1289.8L457.7,1276.8L457.7,1271.5Z"/><path d="M473.3,1256.4L478.8,1256.4L492.2,1269.4L492.2,1274.7L478.8,1287.7L473.3,1287.7L459.8,1274.7L459.8,1269.4Z"/><path d="M475.4,1254.3L480.9,1254.3L494.3,1267.2L494.3,1272.5L480.9,1285.5L475.4,1285.5L461.9,1272.5L461.9,1267.2Z"/><path d="M477.8,1251.8L483.2,1251.8L496.7,1264.8L496.7,1270.1L483.2,1283.1L477.8,1283.1L464.3,1270.1L464.3,1264.8Z"/><path d="M482.8,1244.3L488.2,1244.3L501.7,1257.3L501.7,1262.6L488.2,1275.6L482.8,1275.6L469.3,1262.6L469.3,1257.3Z"/><path d="M486.1,1237.7L491.6,1237.7L505.0,1250.7L505.0,1256.0L491.6,1269.0L486.1,1269.0L472.6,1256.0L472.6,1250.7Z"/><path d="M491.1,1229.5L496.6,1229.5L510.0,1242.4L510.0,1247.7L496.6,1260.7L491.1,1260.7L477.6,1247.7L477.6,1242.4Z"/><path d="M495.1,1222.0L500.6,1222.0L514.1,1235.0L514.1,1240.3L500.6,1253.2L495.1,1253.2L481.7,1240.3L481.7,1235.0Z"/><path d="M499.4,1213.7L504.9,1213.7L518.3,1226.7L518.3,1232.0L504.9,1245.0L499.4,1245.0L485.9,1232.0L485.9,1226.7Z"/><path d="M504.2,1203.8L509.8,1203.8L523.2,1216.8L523.2,1222.1L509.8,1235.1L504.2,1235.1L490.8,1222.1L490.8,1216.8Z"/><path d="M507.6,1194.7L513.1,1194.7L526.6,1207.6L526.6,1213.0L513.1,1225.9L507.6,1225.9L494.2,1213.0L494.2,1207.6Z"/><path d="M512.5,1184.0L518.0,1184.0L531.5,1197.0L531.5,1202.3L518.0,1215.3L512.5,1215.3L499.1,1202.3L499.1,1197.0Z"/><path d="M517.5,1173.2L523.0,1173.2L536.5,1186.2L536.5,1191.5L523.0,1204.5L517.5,1204.5L504.1,1191.5L504.1,1186.2Z"/><path d="M522.5,1162.5L528.0,1162.5L541.5,1175.5L541.5,1180.8L528.0,1193.7L522.5,1193.7L509.1,1180.8L509.1,1175.5Z"/><path d="M527.6,1149.5L533.1,1149.5L546.6,1162.5L546.6,1167.8L533.1,1180.8L527.6,1180.8L514.2,1167.8L514.2,1162.5Z"/><path d="M531.8,1136.7L537.3,1136.7L550.8,1149.7L550.8,1155.0L537.3,1167.9L531.8,1167.9L518.4,1155.0L518.4,1149.7Z"/><path d="M536.5,1122.1L542.0,1122.1L555.5,1135.0L555.5,1140.4L542.0,1153.3L536.5,1153.3L523.1,1140.4L523.1,1135.0Z"/><path d="M544.5,1107.6L550.0,1107.6L563.4,1120.5L563.4,1125.8L550.0,1138.8L544.5,1138.8L531.0,1125.8L531.0,1120.5Z"/><path d="M551.3,1091.4L556.8,1091.4L570.2,1104.4L570.2,1109.7L556.8,1122.6L551.3,1122.6L537.8,1109.7L537.8,1104.4Z"/><path d="M557.2,1075.4L562.7,1075.4L576.2,1088.4L576.2,1093.7L562.7,1106.7L557.2,1106.7L543.8,1093.7L543.8,1088.4Z"/><path d="M564.2,1057.8L569.7,1057.8L583.1,1070.8L583.1,1076.1L569.7,1089.1L564.2,1089.1L550.7,1076.1L550.7,1070.8Z"/><path d="M572.0,1040.8L577.5,1040.8L591.0,1053.8L591.0,1059.1L577.5,1072.1L572.0,1072.1L558.5,1059.1L558.5,1053.8Z"/><path d="M580.7,1020.2L586.2,1020.2L599.6,1033.2L599.6,1038.5L586.2,1051.5L580.7,1051.5L567.2,1038.5L567.2,1033.2Z"/><path d="M590.1,997.9L595.6,997.9L609.1,1010.9L609.1,1016.2L595.6,1029.2L590.1,1029.2L576.7,1016.2L576.7,1010.9Z"/><path d="M601.5,974.8L607.0,974.8L620.5,987.7L620.5,993.0L607.0,1006.0L601.5,1006.0L588.1,993.0L588.1,987.7Z"/><path d="M613.7,951.6L619.2,951.6L632.6,964.6L632.6,969.9L619.2,982.8L613.7,982.8L600.2,969.9L600.2,964.6Z"/><path d="M627.8,926.4L633.3,926.4L646.8,939.4L646.8,944.7L633.3,957.6L627.8,957.6L614.4,944.7L614.4,939.4Z"/><path d="M644.7,900.4L650.2,900.4L663.6,913.4L663.6,918.7L650.2,931.6L644.7,931.6L631.2,918.7L631.2,913.4Z"/><path d="M655.2,869.4L660.8,869.4L674.2,882.3L674.2,887.7L660.8,900.6L655.2,900.6L641.8,887.7L641.8,882.3Z"/><path d="M678.2,841.6L683.8,841.6L697.2,854.5L697.2,859.9L683.8,872.8L678.2,872.8L664.8,859.9L664.8,854.5Z"/><path d="M702.0,813.0L707.5,813.0L721.0,825.9L721.0,831.3L707.5,844.2L702.0,844.2L688.6,831.3L688.6,825.9Z"/><path d="M728.8,781.3L734.2,781.3L747.7,794.2L747.7,799.6L734.2,812.5L728.8,812.5L715.3,799.6L715.3,794.2Z"/><path d="M758.8,749.0L764.2,749.0L777.7,761.9L777.7,767.3L764.2,780.2L758.8,780.2L745.3,767.3L745.3,761.9Z"/><path d="M791.9,717.6L797.4,717.6L810.8,730.5L810.8,735.9L797.4,748.8L791.9,748.8L778.4,735.9L778.4,730.5Z"/><path d="M828.4,684.5L833.9,684.5L847.3,697.4L847.3,702.8L833.9,715.7L828.4,715.7L814.9,702.8L814.9,697.4Z"/><path d="M869.0,653.6L874.5,653.6L888.0,666.5L888.0,671.9L874.5,684.8L869.0,684.8L855.6,671.9L855.6,666.5Z"/><path d="M915.4,622.7L920.9,622.7L934.3,635.6L934.3,641.0L920.9,653.9L915.4,653.9L901.9,641.0L901.9,635.6Z"/><path d="M965.9,593.3L971.4,593.3L984.8,606.2L984.8,611.6L971.4,624.5L965.9,624.5L952.4,611.6L952.4,606.2Z"/><path d="M1022.0,567.2L1027.5,567.2L1041.0,580.1L1041.0,585.5L1027.5,598.4L1022.0,598.4L1008.6,585.5L1008.6,580.1Z"/><path d="M1082.2,539.4L1087.7,539.4L1101.1,552.3L1101.1,557.7L1087.7,570.6L1082.2,570.6L1068.7,557.7L1068.7,552.3Z"/><path d="M1148.8,522.2L1154.2,522.2L1167.7,535.1L1167.7,540.5L1154.2,553.4L1148.8,553.4L1135.3,540.5L1135.3,535.1Z"/><path d="M1219.0,507.9L1224.5,507.9L1237.9,520.8L1237.9,526.2L1224.5,539.1L1219.0,539.1L1205.5,526.2L1205.5,520.8Z"/><path d="M1293.2,499.6L1298.8,499.6L1312.2,512.5L1312.2,517.9L1298.8,530.8L1293.2,530.8L1279.8,517.9L1279.8,512.5Z"/><path d="M1369.8,498.9L1375.2,498.9L1388.7,511.8L1388.7,517.2L1375.2,530.1L1369.8,530.1L1356.3,517.2L1356.3,511.8Z"/><path d="M1447.8,506.4L1453.2,506.4L1466.7,519.3L1466.7,524.7L1453.2,537.6L1447.8,537.6L1434.3,524.7L1434.3,519.3Z"/><path d="M1524.0,522.5L1529.5,522.5L1542.9,535.4L1542.9,540.8L1529.5,553.7L1524.0,553.7L1510.5,540.8L1510.5,535.4Z"/><path d="M1595.8,556.2L1601.2,556.2L1614.7,569.1L1614.7,574.5L1601.2,587.4L1595.8,587.4L1582.3,574.5L1582.3,569.1Z"/><path d="M1665.0,588.5L1670.5,588.5L1684.0,601.4L1684.0,606.8L1670.5,619.7L1665.0,619.7L1651.6,606.8L1651.6,601.4Z"/><path d="M1727.2,626.6L1732.8,626.6L1746.2,639.5L1746.2,644.9L1732.8,657.8L1727.2,657.8L1713.8,644.9L1713.8,639.5Z"/><path d="M1783.0,671.2L1788.5,671.2L1801.9,684.1L1801.9,689.5L1788.5,702.4L1783.0,702.4L1769.5,689.5L1769.5,684.1Z"/><path d="M1831.2,718.2L1836.8,718.2L1850.2,731.1L1850.2,736.5L1836.8,749.4L1831.2,749.4L1817.8,736.5L1817.8,731.1Z"/><path d="M1871.8,768.4L1877.2,768.4L1890.7,781.3L1890.7,786.7L1877.2,799.6L1871.8,799.6L1858.3,786.7L1858.3,781.3Z"/><path d="M1903.2,819.4L1908.8,819.4L1922.2,832.3L1922.2,837.7L1908.8,850.6L1903.2,850.6L1889.8,837.7L1889.8,832.3Z"/><path d="M1928.2,869.8L1933.7,869.8L1947.1,882.7L1947.1,888.1L1933.7,901.0L1928.2,901.0L1914.7,888.1L1914.7,882.7Z"/><path d="M1945.0,918.3L1950.5,918.3L1964.0,931.2L1964.0,936.6L1950.5,949.5L1945.0,949.5L1931.6,936.6L1931.6,931.2Z"/><path d="M1956.2,963.9L1961.8,963.9L1975.2,976.8L1975.2,982.2L1961.8,995.1L1956.2,995.1L1942.8,982.2L1942.8,976.8Z"/><path d="M1962.5,1005.3L1968.0,1005.3L1981.5,1018.2L1981.5,1023.6L1968.0,1036.5L1962.5,1036.5L1949.1,1023.6L1949.1,1018.2Z"/><path d="M1964.8,1044.2L1970.3,1044.2L1983.8,1057.1L1983.8,1062.5L1970.3,1075.4L1964.8,1075.4L1951.4,1062.5L1951.4,1057.1Z"/><path d="M1964.8,1079.9L1970.3,1079.9L1983.8,1092.8L1983.8,1098.2L1970.3,1111.1L1964.8,1111.1L1951.4,1098.2L1951.4,1092.8Z"/><path d="M1961.2,1112.2L1966.7,1112.2L1980.1,1125.1L1980.1,1130.5L1966.7,1143.4L1961.2,1143.4L1947.7,1130.5L1947.7,1125.1Z"/><path d="M1956.3,1140.3L1961.8,1140.3L1975.3,1153.2L1975.3,1158.6L1961.8,1171.5L1956.3,1171.5L1942.9,1158.6L1942.9,1153.2Z"/><path d="M1949.3,1164.1L1954.8,1164.1L1968.3,1177.0L1968.3,1182.4L1954.8,1195.3L1949.3,1195.3L1935.9,1182.4L1935.9,1177.0Z"/><path d="M1942.3,1184.6L1947.8,1184.6L1961.3,1197.5L1961.3,1202.9L1947.8,1215.8L1942.3,1215.8L1928.9,1202.9L1928.9,1197.5Z"/><path d="M1934.8,1203.4L1940.2,1203.4L1953.7,1216.3L1953.7,1221.7L1940.2,1234.6L1934.8,1234.6L1921.3,1221.7L1921.3,1216.3Z"/><path d="M1927.2,1219.4L1932.8,1219.4L1946.2,1232.3L1946.2,1237.7L1932.8,1250.6L1927.2,1250.6L1913.8,1237.7L1913.8,1232.3Z"/><path d="M1921.0,1231.9L1926.5,1231.9L1940.0,1244.8L1940.0,1250.2L1926.5,1263.1L1921.0,1263.1L1907.6,1250.2L1907.6,1244.8Z"/><path d="M1913.0,1243.4L1918.5,1243.4L1932.0,1256.3L1932.0,1261.7L1918.5,1274.6L1913.0,1274.6L1899.6,1261.7L1899.6,1256.3Z"/><path d="M1911.0,1246.2L1916.5,1246.2L1930.0,1259.2L1930.0,1264.5L1916.5,1277.5L1911.0,1277.5L1897.6,1264.5L1897.6,1259.2Z"/><path d="M1909.0,1249.1L1914.5,1249.1L1928.0,1262.1L1928.0,1267.4L1914.5,1280.3L1909.0,1280.3L1895.6,1267.4L1895.6,1262.1Z"/><path d="M1907.0,1251.9L1912.5,1251.9L1925.9,1264.9L1925.9,1270.2L1912.5,1283.2L1907.0,1283.2L1893.5,1270.2L1893.5,1264.9Z"/><path d="M1905.0,1254.8L1910.5,1254.8L1923.9,1267.8L1923.9,1273.1L1910.5,1286.1L1905.0,1286.1L1891.5,1273.1L1891.5,1267.8Z"/><path d="M1902.9,1257.7L1908.4,1257.7L1921.9,1270.6L1921.9,1275.9L1908.4,1288.9L1902.9,1288.9L1889.5,1275.9L1889.5,1270.6Z"/><path d="M1900.9,1260.5L1906.4,1260.5L1919.9,1273.5L1919.9,1278.8L1906.4,1291.8L1900.9,1291.8L1887.5,1278.8L1887.5,1273.5Z"/><path d="M1898.8,1263.3L1904.3,1263.3L1917.8,1276.3L1917.8,1281.6L1904.3,1294.6L1898.8,1294.6L1885.4,1281.6L1885.4,1276.3Z"/><path d="M1896.4,1265.8L1901.9,1265.8L1915.3,1278.8L1915.3,1284.1L1901.9,1297.1L1896.4,1297.1L1882.9,1284.1L1882.9,1278.8Z"/><path d="M1893.9,1268.3L1899.4,1268.3L1912.8,1281.3L1912.8,1286.6L1899.4,1299.5L1893.9,1299.5L1880.4,1286.6L1880.4,1281.3Z"/><path d="M1891.4,1270.8L1896.9,1270.8L1910.4,1283.7L1910.4,1289.0L1896.9,1302.0L1891.4,1302.0L1878.0,1289.0L1878.0,1283.7Z"/><path d="M1889.0,1273.2L1894.5,1273.2L1907.9,1286.2L1907.9,1291.5L1894.5,1304.5L1889.0,1304.5L1875.5,1291.5L1875.5,1286.2Z"/><path d="M1886.6,1275.8L1892.1,1275.8L1905.6,1288.8L1905.6,1294.1L1892.1,1307.1L1886.6,1307.1L1873.2,1294.1L1873.2,1288.8Z"/><path d="M1884.2,1278.4L1889.7,1278.4L1903.2,1291.4L1903.2,1296.7L1889.7,1309.7L1884.2,1309.7L1870.8,1296.7L1870.8,1291.4Z"/><path d="M1881.9,1281.0L1887.4,1281.0L1900.8,1294.0L1900.8,1299.3L1887.4,1312.3L1881.9,1312.3L1868.4,1299.3L1868.4,1294.0Z"/><path d="M1879.5,1283.6L1885.0,1283.6L1898.5,1296.6L1898.5,1301.9L1885.0,1314.9L1879.5,1314.9L1866.1,1301.9L1866.1,1296.6Z"/><path d="M1877.2,1286.2L1882.7,1286.2L1896.1,1299.2L1896.1,1304.5L1882.7,1317.4L1877.2,1317.4L1863.7,1304.5L1863.7,1299.2Z"/><path d="M1874.8,1288.8L1880.3,1288.8L1893.8,1301.7L1893.8,1307.0L1880.3,1320.0L1874.8,1320.0L1861.4,1307.0L1861.4,1301.7Z"/><path d="M1874.2,1289.4L1879.8,1289.4L1893.2,1302.3L1893.2,1307.7L1879.8,1320.6L1874.2,1320.6L1860.8,1307.7L1860.8,1302.3Z"/><path d="M1874.2,1289.4L1879.8,1289.4L1893.2,1302.3L1893.2,1307.7L1879.8,1320.6L1874.2,1320.6L1860.8,1307.7L1860.8,1302.3Z"/><path d="M1874.2,1289.4L1879.8,1289.4L1893.2,1302.3L1893.2,1307.7L1879.8,1320.6L1874.2,1320.6L1860.8,1307.7L1860.8,1302.3Z"/><path d="M1874.2,1289.4L1879.8,1289.4L1893.2,1302.3L1893.2,1307.7L1879.8,1320.6L1874.2,1320.6L1860.8,1307.7L1860.8,1302.3Z"/><path d="M1874.2,1289.4L1879.8,1289.4L1893.2,1302.3L1893.2,1307.7L1879.8,1320.6L1874.2,1320.6L1860.8,1307.7L1860.8,1302.3Z"/><path d="M1874.2,1289.4L1879.8,1289.4L1893.2,1302.3L1893.2,1307.7L1879.8,1320.6L1874.2,1320.6L1860.8,1307.7L1860.8,1302.3Z"/><path d="M1874.2,1289.4L1879.8,1289.4L1893.2,1302.3L1893.2,1307.7L1879.8,1320.6L1874.2,1320.6L1860.8,1307.7L1860.8,1302.3Z"/><path d="M1874.2,1289.4L1879.8,1289.4L1893.2,1302.3L1893.2,1307.7L1879.8,1320.6L1874.2,1320.6L1860.8,1307.7L1860.8,1302.3Z"/><path d="M1874.2,1289.4L1879.8,1289.4L1893.2,1302.3L1893.2,1307.7L1879.8,1320.6L1874.2,1320.6L1860.8,1307.7L1860.8,1302.3Z"/><path d="M405.1,1309.3L410.6,1309.3L424.0,1322.3L424.0,1327.6L410.6,1340.6L405.1,1340.6L391.6,1327.6L391.6,1322.3Z"/><path d="M405.1,1309.3L410.6,1309.3L424.0,1322.3L424.0,1327.6L410.6,1340.6L405.1,1340.6L391.6,1327.6L391.6,1322.3Z"/><path d="M405.1,1309.3L410.6,1309.3L424.0,1322.3L424.0,1327.6L410.6,1340.6L405.1,1340.6L391.6,1327.6L391.6,1322.3Z"/><path d="M405.1,1309.3L410.6,1309.3L424.0,1322.3L424.0,1327.6L410.6,1340.6L405.1,1340.6L391.6,1327.6L391.6,1322.3Z"/><path d="M405.1,1309.3L410.6,1309.3L424.0,1322.3L424.0,1327.6L410.6,1340.6L405.1,1340.6L391.6,1327.6L391.6,1322.3Z"/><path d="M405.1,1309.3L410.6,1309.3L424.0,1322.3L424.0,1327.6L410.6,1340.6L405.1,1340.6L391.6,1327.6L391.6,1322.3Z"/><path d="M405.1,1309.3L410.6,1309.3L424.0,1322.3L424.0,1327.6L410.6,1340.6L405.1,1340.6L391.6,1327.6L391.6,1322.3Z"/><path d="M405.1,1309.3L410.6,1309.3L424.0,1322.3L424.0,1327.6L410.6,1340.6L405.1,1340.6L391.6,1327.6L391.6,1322.3Z"/><path d="M405.1,1309.3L410.6,1309.3L424.0,1322.3L424.0,1327.6L410.6,1340.6L405.1,1340.6L391.6,1327.6L391.6,1322.3Z"/><path d="M407.7,1307.8L413.2,1307.8L426.6,1320.8L426.6,1326.1L413.2,1339.1L407.7,1339.1L394.2,1326.1L394.2,1320.8Z"/><path d="M410.2,1306.3L415.7,1306.3L429.2,1319.3L429.2,1324.6L415.7,1337.5L410.2,1337.5L396.8,1324.6L396.8,1319.3Z"/><path d="M412.8,1304.8L418.3,1304.8L431.7,1317.7L431.7,1323.0L418.3,1336.0L412.8,1336.0L399.3,1323.0L399.3,1317.7Z"/><path d="M415.4,1303.2L420.9,1303.2L434.3,1316.2L434.3,1321.5L420.9,1334.5L415.4,1334.5L401.9,1321.5L401.9,1316.2Z"/><path d="M418.0,1301.8L423.5,1301.8L436.9,1314.7L436.9,1320.0L423.5,1333.0L418.0,1333.0L404.5,1320.0L404.5,1314.7Z"/><path d="M420.6,1300.3L426.1,1300.3L439.5,1313.3L439.5,1318.6L426.1,1331.6L420.6,1331.6L407.1,1318.6L407.1,1313.3Z"/><path d="M423.2,1298.9L428.7,1298.9L442.2,1311.9L442.2,1317.2L428.7,1330.2L423.2,1330.2L409.8,1317.2L409.8,1311.9Z"/><path d="M425.9,1297.5L431.4,1297.5L444.8,1310.5L444.8,1315.8L431.4,1328.8L425.9,1328.8L412.4,1315.8L412.4,1310.5Z"/><path d="M428.5,1296.1L434.0,1296.1L447.4,1309.1L447.4,1314.4L434.0,1327.4L428.5,1327.4L415.0,1314.4L415.0,1309.1Z"/><path d="M431.1,1294.7L436.6,1294.7L450.1,1307.7L450.1,1313.0L436.6,1326.0L431.1,1326.0L417.7,1313.0L417.7,1307.7Z"/><path d="M433.7,1293.2L439.2,1293.2L452.6,1306.1L452.6,1311.5L439.2,1324.4L433.7,1324.4L420.2,1311.5L420.2,1306.1Z"/><path d="M435.8,1291.1L441.3,1291.1L454.8,1304.1L454.8,1309.4L441.3,1322.4L435.8,1322.4L422.4,1309.4L422.4,1304.1Z"/><path d="M438.0,1289.1L443.5,1289.1L456.9,1302.0L456.9,1307.3L443.5,1320.3L438.0,1320.3L424.5,1307.3L424.5,1302.0Z"/><path d="M440.2,1287.0L445.7,1287.0L459.1,1300.0L459.1,1305.3L445.7,1318.3L440.2,1318.3L426.7,1305.3L426.7,1300.0Z"/><path d="M442.3,1285.0L447.8,1285.0L461.3,1297.9L461.3,1303.2L447.8,1316.2L442.3,1316.2L428.9,1303.2L428.9,1297.9Z"/><path d="M444.5,1282.9L450.0,1282.9L463.5,1295.9L463.5,1301.2L450.0,1314.2L444.5,1314.2L431.1,1301.2L431.1,1295.9Z"/><path d="M446.7,1280.9L452.2,1280.9L465.6,1293.8L465.6,1299.1L452.2,1312.1L446.7,1312.1L433.2,1299.1L433.2,1293.8Z"/><path d="M448.8,1278.8L454.3,1278.8L467.8,1291.8L467.8,1297.1L454.3,1310.1L448.8,1310.1L435.4,1297.1L435.4,1291.8Z"/><path d="M451.0,1276.7L456.5,1276.7L470.0,1289.7L470.0,1295.0L456.5,1308.0L451.0,1308.0L437.6,1295.0L437.6,1289.7Z"/><path d="M453.1,1274.6L458.6,1274.6L472.0,1287.6L472.0,1292.9L458.6,1305.9L453.1,1305.9L439.6,1292.9L439.6,1287.6Z"/><path d="M455.1,1272.4L460.6,1272.4L474.0,1285.4L474.0,1290.7L460.6,1303.7L455.1,1303.7L441.6,1290.7L441.6,1285.4Z"/><path d="M457.1,1270.2L462.6,1270.2L476.1,1283.2L476.1,1288.5L462.6,1301.5L457.1,1301.5L443.7,1288.5L443.7,1283.2Z"/><path d="M459.1,1268.0L464.6,1268.0L478.1,1281.0L478.1,1286.3L464.6,1299.3L459.1,1299.3L445.7,1286.3L445.7,1281.0Z"/><path d="M461.2,1265.8L466.7,1265.8L480.1,1278.8L480.1,1284.1L466.7,1297.1L461.2,1297.1L447.7,1284.1L447.7,1278.8Z"/><path d="M463.2,1263.6L468.7,1263.6L482.1,1276.6L482.1,1281.9L468.7,1294.9L463.2,1294.9L449.7,1281.9L449.7,1276.6Z"/><path d="M465.2,1261.4L470.7,1261.4L484.2,1274.4L484.2,1279.7L470.7,1292.7L465.2,1292.7L451.8,1279.7L451.8,1274.4Z"/><path d="M467.2,1259.2L472.7,1259.2L486.2,1272.2L486.2,1277.5L472.7,1290.5L467.2,1290.5L453.8,1277.5L453.8,1272.2Z"/><path d="M469.3,1257.0L474.8,1257.0L488.2,1270.0L488.2,1275.3L474.8,1288.3L469.3,1288.3L455.8,1275.3L455.8,1270.0Z"/><path d="M471.4,1254.9L476.9,1254.9L490.3,1267.9L490.3,1273.2L476.9,1286.2L471.4,1286.2L457.9,1273.2L457.9,1267.9Z"/><path d="M473.4,1252.7L478.9,1252.7L492.4,1265.7L492.4,1271.0L478.9,1284.0L473.4,1284.0L460.0,1271.0L460.0,1265.7Z"/><path d="M475.8,1250.2L481.3,1250.2L494.7,1263.2L494.7,1268.5L481.3,1281.5L475.8,1281.5L462.3,1268.5L462.3,1263.2Z"/><path d="M480.7,1242.7L486.2,1242.7L499.6,1255.7L499.6,1261.0L486.2,1274.0L480.7,1274.0L467.2,1261.0L467.2,1255.7Z"/><path d="M483.9,1236.1L489.4,1236.1L502.8,1249.1L502.8,1254.4L489.4,1267.3L483.9,1267.3L470.4,1254.4L470.4,1249.1Z"/><path d="M488.8,1227.7L494.3,1227.7L507.7,1240.7L507.7,1246.0L494.3,1259.0L488.8,1259.0L475.3,1246.0L475.3,1240.7Z"/><path d="M492.8,1220.2L498.3,1220.2L511.7,1233.2L511.7,1238.5L498.3,1251.5L492.8,1251.5L479.3,1238.5L479.3,1233.2Z"/><path d="M496.8,1211.9L502.3,1211.9L515.8,1224.8L515.8,1230.2L502.3,1243.1L496.8,1243.1L483.4,1230.2L483.4,1224.8Z"/><path d="M501.6,1201.9L507.1,1201.9L520.6,1214.9L520.6,1220.2L507.1,1233.2L501.6,1233.2L488.2,1220.2L488.2,1214.9Z"/><path d="M504.9,1192.7L510.4,1192.7L523.8,1205.7L523.8,1211.0L510.4,1223.9L504.9,1223.9L491.4,1211.0L491.4,1205.7Z"/><path d="M509.6,1181.9L515.1,1181.9L528.6,1194.9L528.6,1200.2L515.1,1213.2L509.6,1213.2L496.2,1200.2L496.2,1194.9Z"/><path d="M514.5,1171.1L520.0,1171.1L533.4,1184.1L533.4,1189.4L520.0,1202.3L514.5,1202.3L501.0,1189.4L501.0,1184.1Z"/><path d="M519.3,1160.2L524.8,1160.2L538.3,1173.2L538.3,1178.5L524.8,1191.5L519.3,1191.5L505.9,1178.5L505.9,1173.2Z"/><path d="M524.9,1146.9L530.4,1146.9L543.9,1159.8L543.9,1165.2L530.4,1178.1L524.9,1178.1L511.5,1165.2L511.5,1159.8Z"/><path d="M529.7,1133.6L535.2,1133.6L548.6,1146.6L548.6,1151.9L535.2,1164.9L529.7,1164.9L516.2,1151.9L516.2,1146.6Z"/><path d="M535.0,1118.5L540.5,1118.5L553.9,1131.5L553.9,1136.8L540.5,1149.8L535.0,1149.8L521.5,1136.8L521.5,1131.5Z"/><path d="M543.5,1103.6L549.0,1103.6L562.4,1116.5L562.4,1121.9L549.0,1134.8L543.5,1134.8L530.0,1121.9L530.0,1116.5Z"/><path d="M551.0,1086.3L556.5,1086.3L569.9,1099.3L569.9,1104.6L556.5,1117.6L551.0,1117.6L537.5,1104.6L537.5,1099.3Z"/><path d="M557.6,1069.3L563.1,1069.3L576.6,1082.2L576.6,1087.5L563.1,1100.5L557.6,1100.5L544.2,1087.5L544.2,1082.2Z"/><path d="M565.4,1050.5L570.9,1050.5L584.3,1063.4L584.3,1068.7L570.9,1081.7L565.4,1081.7L551.9,1068.7L551.9,1063.4Z"/><path d="M574.0,1032.4L579.5,1032.4L592.9,1045.4L592.9,1050.7L579.5,1063.6L574.0,1063.6L560.5,1050.7L560.5,1045.4Z"/><path d="M583.4,1011.8L588.9,1011.8L602.4,1024.8L602.4,1030.1L588.9,1043.1L583.4,1043.1L570.0,1030.1L570.0,1024.8Z"/><path d="M593.8,989.7L599.3,989.7L612.7,1002.7L612.7,1008.0L599.3,1020.9L593.8,1020.9L580.3,1008.0L580.3,1002.7Z"/><path d="M606.1,966.6L611.6,966.6L625.1,979.6L625.1,984.9L611.6,997.9L606.1,997.9L592.7,984.9L592.7,979.6Z"/><path d="M619.2,943.6L624.7,943.6L638.1,956.6L638.1,961.9L624.7,974.8L619.2,974.8L605.7,961.9L605.7,956.6Z"/><path d="M635.5,918.5L641.0,918.5L654.5,931.5L654.5,936.8L641.0,949.7L635.5,949.7L622.1,936.8L622.1,931.5Z"/><path d="M654.7,892.6L660.2,892.6L673.6,905.6L673.6,910.9L660.2,923.8L654.7,923.8L641.2,910.9L641.2,905.6Z"/><path d="M678.2,858.4L683.8,858.4L697.2,871.3L697.2,876.7L683.8,889.6L678.2,889.6L664.8,876.7L664.8,871.3Z"/><path d="M702.0,830.4L707.5,830.4L721.0,843.3L721.0,848.7L707.5,861.6L702.0,861.6L688.6,848.7L688.6,843.3Z"/><path d="M728.8,802.3L734.2,802.3L747.7,815.2L747.7,820.6L734.2,833.5L728.8,833.5L715.3,820.6L715.3,815.2Z"/><path d="M756.8,772.3L762.2,772.3L775.7,785.2L775.7,790.6L762.2,803.5L756.8,803.5L743.3,790.6L743.3,785.2Z"/><path d="M790.5,742.6L796.0,742.6L809.4,755.5L809.4,760.9L796.0,773.8L790.5,773.8L777.0,760.9L777.0,755.5Z"/><path d="M826.1,712.5L831.6,712.5L845.1,725.4L845.1,730.8L831.6,743.7L826.1,743.7L812.7,730.8L812.7,725.4Z"/><path d="M866.2,681.7L871.8,681.7L885.2,694.6L885.2,700.0L871.8,712.9L866.2,712.9L852.8,700.0L852.8,694.6Z"/><path d="M911.1,652.2L916.6,652.2L930.1,665.1L930.1,670.5L916.6,683.4L911.1,683.4L897.7,670.5L897.7,665.1Z"/><path d="M960.2,626.4L965.8,626.4L979.2,639.3L979.2,644.7L965.8,657.6L960.2,657.6L946.8,644.7L946.8,639.3Z"/><path d="M1015.1,601.7L1020.6,601.7L1034.1,614.6L1034.1,620.0L1020.6,632.9L1015.1,632.9L1001.7,620.0L1001.7,614.6Z"/><path d="M1071.5,580.2L1077.0,580.2L1090.5,593.1L1090.5,598.5L1077.0,611.4L1071.5,611.4L1058.1,598.5L1058.1,593.1Z"/><path d="M1138.0,562.7L1143.5,562.7L1156.9,575.6L1156.9,581.0L1143.5,593.9L1138.0,593.9L1124.5,581.0L1124.5,575.6Z"/><path d="M1204.8,551.5L1210.3,551.5L1223.8,564.4L1223.8,569.8L1210.3,582.7L1204.8,582.7L1191.4,569.8L1191.4,564.4Z"/><path d="M1275.7,546.1L1281.2,546.1L1294.6,559.0L1294.6,564.4L1281.2,577.3L1275.7,577.3L1262.2,564.4L1262.2,559.0Z"/><path d="M1348.0,548.4L1353.5,548.4L1367.0,561.3L1367.0,566.7L1353.5,579.6L1348.0,579.6L1334.6,566.7L1334.6,561.3Z"/><path d="M1420.8,557.9L1426.2,557.9L1439.7,570.8L1439.7,576.2L1426.2,589.1L1420.8,589.1L1407.3,576.2L1407.3,570.8Z"/><path d="M1492.5,575.4L1498.0,575.4L1511.5,588.3L1511.5,593.7L1498.0,606.6L1492.5,606.6L1479.1,593.7L1479.1,588.3Z"/><path d="M1562.0,600.2L1567.5,600.2L1581.0,613.1L1581.0,618.5L1567.5,631.4L1562.0,631.4L1548.6,618.5L1548.6,613.1Z"/><path d="M1622.5,641.3L1628.0,641.3L1641.4,654.2L1641.4,659.6L1628.0,672.5L1622.5,672.5L1609.0,659.6L1609.0,654.2Z"/><path d="M1680.5,679.4L1686.0,679.4L1699.5,692.3L1699.5,697.7L1686.0,710.6L1680.5,710.6L1667.1,697.7L1667.1,692.3Z"/><path d="M1731.0,722.4L1736.5,722.4L1750.0,735.3L1750.0,740.7L1736.5,753.6L1731.0,753.6L1717.6,740.7L1717.6,735.3Z"/><path d="M1774.2,767.4L1779.7,767.4L1793.1,780.3L1793.1,785.7L1779.7,798.6L1774.2,798.6L1760.7,785.7L1760.7,780.3Z"/><path d="M1811.2,815.6L1816.7,815.6L1830.1,828.5L1830.1,833.9L1816.7,846.8L1811.2,846.8L1797.7,833.9L1797.7,828.5Z"/><path d="M1838.8,863.4L1844.3,863.4L1857.8,876.3L1857.8,881.7L1844.3,894.6L1838.8,894.6L1825.4,881.7L1825.4,876.3Z"/><path d="M1860.2,911.3L1865.8,911.3L1879.2,924.2L1879.2,929.6L1865.8,942.5L1860.2,942.5L1846.8,929.6L1846.8,924.2Z"/><path d="M1874.5,955.9L1880.0,955.9L1893.5,968.8L1893.5,974.2L1880.0,987.1L1874.5,987.1L1861.1,974.2L1861.1,968.8Z"/><path d="M1884.2,998.3L1889.7,998.3L1903.1,1011.2L1903.1,1016.6L1889.7,1029.5L1884.2,1029.5L1870.7,1016.6L1870.7,1011.2Z"/><path d="M1889.8,1036.5L1895.3,1036.5L1908.8,1049.4L1908.8,1054.8L1895.3,1067.7L1889.8,1067.7L1876.4,1054.8L1876.4,1049.4Z"/><path d="M1889.8,1072.9L1895.3,1072.9L1908.8,1085.8L1908.8,1091.2L1895.3,1104.1L1889.8,1104.1L1876.4,1091.2L1876.4,1085.8Z"/><path d="M1889.0,1104.3L1894.5,1104.3L1908.0,1117.2L1908.0,1122.6L1894.5,1135.5L1889.0,1135.5L1875.6,1122.6L1875.6,1117.2Z"/><path d="M1885.3,1133.2L1890.8,1133.2L1904.3,1146.1L1904.3,1151.5L1890.8,1164.4L1885.3,1164.4L1871.9,1151.5L1871.9,1146.1Z"/><path d="M1880.7,1159.3L1886.2,1159.3L1899.6,1172.2L1899.6,1177.6L1886.2,1190.5L1880.7,1190.5L1867.2,1177.6L1867.2,1172.2Z"/><path d="M1874.2,1181.8L1879.7,1181.8L1893.1,1194.7L1893.1,1200.1L1879.7,1213.0L1874.2,1213.0L1860.7,1200.1L1860.7,1194.7Z"/><path d="M1867.5,1202.0L1873.0,1202.0L1886.4,1214.9L1886.4,1220.3L1873.0,1233.2L1867.5,1233.2L1854.0,1220.3L1854.0,1214.9Z"/><path d="M1861.0,1218.8L1866.5,1218.8L1879.9,1231.7L1879.9,1237.1L1866.5,1250.0L1861.0,1250.0L1847.5,1237.1L1847.5,1231.7Z"/><path d="M1854.5,1232.9L1860.0,1232.9L1873.5,1245.8L1873.5,1251.2L1860.0,1264.1L1854.5,1264.1L1841.1,1251.2L1841.1,1245.8Z"/><path d="M1847.8,1244.6L1853.2,1244.6L1866.7,1257.5L1866.7,1262.9L1853.2,1275.8L1847.8,1275.8L1834.3,1262.9L1834.3,1257.5Z"/><path d="M1841.3,1254.7L1846.8,1254.7L1860.3,1267.6L1860.3,1273.0L1846.8,1285.9L1841.3,1285.9L1827.9,1273.0L1827.9,1267.6Z"/><path d="M1834.3,1263.7L1839.8,1263.7L1853.3,1276.6L1853.3,1282.0L1839.8,1294.9L1834.3,1294.9L1820.9,1282.0L1820.9,1276.6Z"/><path d="M1832.1,1265.6L1837.6,1265.6L1851.0,1278.6L1851.0,1283.9L1837.6,1296.9L1832.1,1296.9L1818.6,1283.9L1818.6,1278.6Z"/><path d="M1829.8,1267.6L1835.3,1267.6L1848.8,1280.6L1848.8,1285.9L1835.3,1298.8L1829.8,1298.8L1816.4,1285.9L1816.4,1280.6Z"/><path d="M1827.5,1269.5L1833.0,1269.5L1846.5,1282.5L1846.5,1287.8L1833.0,1300.8L1827.5,1300.8L1814.1,1287.8L1814.1,1282.5Z"/><path d="M1825.3,1271.5L1830.8,1271.5L1844.2,1284.5L1844.2,1289.8L1830.8,1302.8L1825.3,1302.8L1811.8,1289.8L1811.8,1284.5Z"/><path d="M1823.1,1273.6L1828.6,1273.6L1842.1,1286.6L1842.1,1291.9L1828.6,1304.9L1823.1,1304.9L1809.7,1291.9L1809.7,1286.6Z"/><path d="M1821.1,1275.9L1826.6,1275.9L1840.1,1288.8L1840.1,1294.1L1826.6,1307.1L1821.1,1307.1L1807.7,1294.1L1807.7,1288.8Z"/><path d="M1819.2,1278.1L1824.7,1278.1L1838.1,1291.1L1838.1,1296.4L1824.7,1309.4L1819.2,1309.4L1805.7,1296.4L1805.7,1291.1Z"/><path d="M1817.2,1280.3L1822.7,1280.3L1836.1,1293.3L1836.1,1298.6L1822.7,1311.6L1817.2,1311.6L1803.7,1298.6L1803.7,1293.3Z"/><path d="M1815.1,1282.5L1820.6,1282.5L1834.1,1295.5L1834.1,1300.8L1820.6,1313.8L1815.1,1313.8L1801.7,1300.8L1801.7,1295.5Z"/><path d="M1813.1,1284.7L1818.6,1284.7L1832.0,1297.7L1832.0,1303.0L1818.6,1316.0L1813.1,1316.0L1799.6,1303.0L1799.6,1297.7Z"/><path d="M1811.0,1286.9L1816.5,1286.9L1830.0,1299.9L1830.0,1305.2L1816.5,1318.2L1811.0,1318.2L1797.6,1305.2L1797.6,1299.9Z"/><path d="M1809.0,1289.0L1814.5,1289.0L1828.0,1301.9L1828.0,1307.3L1814.5,1320.2L1809.0,1320.2L1795.6,1307.3L1795.6,1301.9Z"/><path d="M1809.0,1289.0L1814.5,1289.0L1828.0,1301.9L1828.0,1307.3L1814.5,1320.2L1809.0,1320.2L1795.6,1307.3L1795.6,1301.9Z"/><path d="M1809.0,1289.0L1814.5,1289.0L1828.0,1301.9L1828.0,1307.3L1814.5,1320.2L1809.0,1320.2L1795.6,1307.3L1795.6,1301.9Z"/><path d="M1809.0,1289.0L1814.5,1289.0L1828.0,1301.9L1828.0,1307.3L1814.5,1320.2L1809.0,1320.2L1795.6,1307.3L1795.6,1301.9Z"/><path d="M1809.0,1289.0L1814.5,1289.0L1828.0,1301.9L1828.0,1307.3L1814.5,1320.2L1809.0,1320.2L1795.6,1307.3L1795.6,1301.9Z"/><path d="M1809.0,1289.0L1814.5,1289.0L1828.0,1301.9L1828.0,1307.3L1814.5,1320.2L1809.0,1320.2L1795.6,1307.3L1795.6,1301.9Z"/><path d="M1809.0,1289.0L1814.5,1289.0L1828.0,1301.9L1828.0,1307.3L1814.5,1320.2L1809.0,1320.2L1795.6,1307.3L1795.6,1301.9Z"/><path d="M1809.0,1289.0L1814.5,1289.0L1828.0,1301.9L1828.0,1307.3L1814.5,1320.2L1809.0,1320.2L1795.6,1307.3L1795.6,1301.9Z"/><path d="M1809.0,1289.0L1814.5,1289.0L1828.0,1301.9L1828.0,1307.3L1814.5,1320.2L1809.0,1320.2L1795.6,1307.3L1795.6,1301.9Z"/><path d="M403.1,1308.4L408.6,1308.4L422.1,1321.3L422.1,1326.7L408.6,1339.6L403.1,1339.6L389.7,1326.7L389.7,1321.3Z"/><path d="M403.1,1308.4L408.6,1308.4L422.1,1321.3L422.1,1326.7L408.6,1339.6L403.1,1339.6L389.7,1326.7L389.7,1321.3Z"/><path d="M403.1,1308.4L408.6,1308.4L422.1,1321.3L422.1,1326.7L408.6,1339.6L403.1,1339.6L389.7,1326.7L389.7,1321.3Z"/><path d="M403.1,1308.4L408.6,1308.4L422.1,1321.3L422.1,1326.7L408.6,1339.6L403.1,1339.6L389.7,1326.7L389.7,1321.3Z"/><path d="M403.1,1308.4L408.6,1308.4L422.1,1321.3L422.1,1326.7L408.6,1339.6L403.1,1339.6L389.7,1326.7L389.7,1321.3Z"/><path d="M403.1,1308.4L408.6,1308.4L422.1,1321.3L422.1,1326.7L408.6,1339.6L403.1,1339.6L389.7,1326.7L389.7,1321.3Z"/><path d="M403.1,1308.4L408.6,1308.4L422.1,1321.3L422.1,1326.7L408.6,1339.6L403.1,1339.6L389.7,1326.7L389.7,1321.3Z"/><path d="M403.1,1308.4L408.6,1308.4L422.1,1321.3L422.1,1326.7L408.6,1339.6L403.1,1339.6L389.7,1326.7L389.7,1321.3Z"/><path d="M403.1,1308.4L408.6,1308.4L422.1,1321.3L422.1,1326.7L408.6,1339.6L403.1,1339.6L389.7,1326.7L389.7,1321.3Z"/><path d="M405.7,1306.9L411.2,1306.9L424.7,1319.8L424.7,1325.1L411.2,1338.1L405.7,1338.1L392.3,1325.1L392.3,1319.8Z"/><path d="M408.3,1305.3L413.8,1305.3L427.2,1318.3L427.2,1323.6L413.8,1336.6L408.3,1336.6L394.8,1323.6L394.8,1318.3Z"/><path d="M410.9,1303.8L416.4,1303.8L429.8,1316.8L429.8,1322.1L416.4,1335.1L410.9,1335.1L397.4,1322.1L397.4,1316.8Z"/><path d="M413.5,1302.3L419.0,1302.3L432.4,1315.3L432.4,1320.6L419.0,1333.6L413.5,1333.6L400.0,1320.6L400.0,1315.3Z"/><path d="M416.1,1300.8L421.6,1300.8L435.0,1313.8L435.0,1319.1L421.6,1332.1L416.1,1332.1L402.6,1319.1L402.6,1313.8Z"/><path d="M418.7,1299.4L424.2,1299.4L437.6,1312.4L437.6,1317.7L424.2,1330.7L418.7,1330.7L405.2,1317.7L405.2,1312.4Z"/><path d="M421.3,1298.0L426.8,1298.0L440.3,1311.0L440.3,1316.3L426.8,1329.3L421.3,1329.3L407.9,1316.3L407.9,1311.0Z"/><path d="M424.0,1296.6L429.5,1296.6L442.9,1309.6L442.9,1314.9L429.5,1327.9L424.0,1327.9L410.5,1314.9L410.5,1309.6Z"/><path d="M426.6,1295.2L432.1,1295.2L445.6,1308.2L445.6,1313.5L432.1,1326.5L426.6,1326.5L413.2,1313.5L413.2,1308.2Z"/><path d="M429.2,1293.8L434.7,1293.8L448.2,1306.8L448.2,1312.1L434.7,1325.1L429.2,1325.1L415.8,1312.1L415.8,1306.8Z"/><path d="M431.8,1292.3L437.3,1292.3L450.7,1305.3L450.7,1310.6L437.3,1323.6L431.8,1323.6L418.3,1310.6L418.3,1305.3Z"/><path d="M434.0,1290.3L439.5,1290.3L452.9,1303.2L452.9,1308.5L439.5,1321.5L434.0,1321.5L420.5,1308.5L420.5,1303.2Z"/><path d="M436.1,1288.2L441.6,1288.2L455.1,1301.2L455.1,1306.5L441.6,1319.5L436.1,1319.5L422.7,1306.5L422.7,1301.2Z"/><path d="M438.3,1286.2L443.8,1286.2L457.3,1299.1L457.3,1304.5L443.8,1317.4L438.3,1317.4L424.9,1304.5L424.9,1299.1Z"/><path d="M440.5,1284.1L446.0,1284.1L459.5,1297.1L459.5,1302.4L446.0,1315.4L440.5,1315.4L427.1,1302.4L427.1,1297.1Z"/><path d="M442.7,1282.1L448.2,1282.1L461.6,1295.1L461.6,1300.4L448.2,1313.3L442.7,1313.3L429.2,1300.4L429.2,1295.1Z"/><path d="M444.9,1280.0L450.4,1280.0L463.8,1293.0L463.8,1298.3L450.4,1311.3L444.9,1311.3L431.4,1298.3L431.4,1293.0Z"/><path d="M447.0,1278.0L452.5,1278.0L466.0,1291.0L466.0,1296.3L452.5,1309.3L447.0,1309.3L433.6,1296.3L433.6,1291.0Z"/><path d="M449.2,1276.0L454.7,1276.0L468.2,1288.9L468.2,1294.2L454.7,1307.2L449.2,1307.2L435.8,1294.2L435.8,1288.9Z"/><path d="M451.3,1273.8L456.8,1273.8L470.2,1286.8L470.2,1292.1L456.8,1305.1L451.3,1305.1L437.8,1292.1L437.8,1286.8Z"/><path d="M453.3,1271.6L458.8,1271.6L472.3,1284.6L472.3,1289.9L458.8,1302.9L453.3,1302.9L439.9,1289.9L439.9,1284.6Z"/><path d="M455.4,1269.4L460.9,1269.4L474.3,1282.4L474.3,1287.7L460.9,1300.7L455.4,1300.7L441.9,1287.7L441.9,1282.4Z"/><path d="M457.4,1267.2L462.9,1267.2L476.3,1280.2L476.3,1285.5L462.9,1298.5L457.4,1298.5L443.9,1285.5L443.9,1280.2Z"/><path d="M459.4,1265.1L464.9,1265.1L478.4,1278.0L478.4,1283.3L464.9,1296.3L459.4,1296.3L446.0,1283.3L446.0,1278.0Z"/><path d="M461.5,1262.9L467.0,1262.9L480.4,1275.8L480.4,1281.1L467.0,1294.1L461.5,1294.1L448.0,1281.1L448.0,1275.8Z"/><path d="M463.5,1260.7L469.0,1260.7L482.4,1273.7L482.4,1279.0L469.0,1291.9L463.5,1291.9L450.0,1279.0L450.0,1273.7Z"/><path d="M465.5,1258.5L471.0,1258.5L484.5,1271.5L484.5,1276.8L471.0,1289.8L465.5,1289.8L452.1,1276.8L452.1,1271.5Z"/><path d="M467.6,1256.3L473.1,1256.3L486.5,1269.3L486.5,1274.6L473.1,1287.6L467.6,1287.6L454.1,1274.6L454.1,1269.3Z"/><path d="M469.7,1254.2L475.2,1254.2L488.6,1267.2L488.6,1272.5L475.2,1285.5L469.7,1285.5L456.2,1272.5L456.2,1267.2Z"/><path d="M471.7,1252.0L477.2,1252.0L490.7,1265.0L490.7,1270.3L477.2,1283.3L471.7,1283.3L458.3,1270.3L458.3,1265.0Z"/><path d="M474.1,1249.6L479.6,1249.6L493.1,1262.5L493.1,1267.9L479.6,1280.8L474.1,1280.8L460.7,1267.9L460.7,1262.5Z"/><path d="M479.0,1242.1L484.5,1242.1L498.0,1255.0L498.0,1260.4L484.5,1273.3L479.0,1273.3L465.6,1260.4L465.6,1255.0Z"/><path d="M482.3,1235.5L487.8,1235.5L501.2,1248.4L501.2,1253.8L487.8,1266.7L482.3,1266.7L468.8,1253.8L468.8,1248.4Z"/><path d="M487.2,1227.2L492.7,1227.2L506.2,1240.1L506.2,1245.5L492.7,1258.4L487.2,1258.4L473.8,1245.5L473.8,1240.1Z"/><path d="M491.2,1219.7L496.7,1219.7L510.2,1232.6L510.2,1238.0L496.7,1250.9L491.2,1250.9L477.8,1238.0L477.8,1232.6Z"/><path d="M495.4,1211.4L500.9,1211.4L514.3,1224.3L514.3,1229.7L500.9,1242.6L495.4,1242.6L481.9,1229.7L481.9,1224.3Z"/><path d="M500.2,1201.5L505.7,1201.5L519.1,1214.4L519.1,1219.8L505.7,1232.7L500.2,1232.7L486.7,1219.8L486.7,1214.4Z"/><path d="M503.5,1192.3L509.0,1192.3L522.4,1205.2L522.4,1210.6L509.0,1223.5L503.5,1223.5L490.0,1210.6L490.0,1205.2Z"/><path d="M508.3,1181.6L513.8,1181.6L527.2,1194.5L527.2,1199.9L513.8,1212.8L508.3,1212.8L494.8,1199.9L494.8,1194.5Z"/><path d="M513.2,1170.8L518.7,1170.8L532.1,1183.7L532.1,1189.1L518.7,1202.0L513.2,1202.0L499.7,1189.1L499.7,1183.7Z"/><path d="M518.1,1160.0L523.6,1160.0L537.0,1172.9L537.0,1178.3L523.6,1191.2L518.1,1191.2L504.6,1178.3L504.6,1172.9Z"/><path d="M523.8,1146.7L529.3,1146.7L542.7,1159.6L542.7,1165.0L529.3,1177.9L523.8,1177.9L510.3,1165.0L510.3,1159.6Z"/><path d="M528.6,1133.5L534.1,1133.5L547.5,1146.4L547.5,1151.8L534.1,1164.7L528.6,1164.7L515.1,1151.8L515.1,1146.4Z"/><path d="M533.9,1118.5L539.4,1118.5L552.9,1131.4L552.9,1136.8L539.4,1149.7L533.9,1149.7L520.5,1136.8L520.5,1131.4Z"/><path d="M542.5,1103.6L548.0,1103.6L561.4,1116.5L561.4,1121.9L548.0,1134.8L542.5,1134.8L529.0,1121.9L529.0,1116.5Z"/><path d="M550.3,1086.6L555.8,1086.6L569.2,1099.5L569.2,1104.8L555.8,1117.8L550.3,1117.8L536.8,1104.8L536.8,1099.5Z"/><path d="M557.0,1069.7L562.5,1069.7L576.0,1082.7L576.0,1088.0L562.5,1101.0L557.0,1101.0L543.6,1088.0L543.6,1082.7Z"/><path d="M564.9,1051.2L570.4,1051.2L583.9,1064.1L583.9,1069.4L570.4,1082.4L564.9,1082.4L551.5,1069.4L551.5,1064.1Z"/><path d="M573.3,1033.3L578.8,1033.3L592.3,1046.3L592.3,1051.6L578.8,1064.6L573.3,1064.6L559.9,1051.6L559.9,1046.3Z"/><path d="M582.5,1013.1L588.0,1013.1L601.5,1026.1L601.5,1031.4L588.0,1044.4L582.5,1044.4L569.1,1031.4L569.1,1026.1Z"/><path d="M592.6,991.5L598.1,991.5L611.6,1004.4L611.6,1009.7L598.1,1022.7L592.6,1022.7L579.2,1009.7L579.2,1004.4Z"/><path d="M604.7,968.9L610.2,968.9L623.6,981.8L623.6,987.1L610.2,1000.1L604.7,1000.1L591.2,987.1L591.2,981.8Z"/><path d="M617.5,946.3L623.0,946.3L636.4,959.2L636.4,964.6L623.0,977.5L617.5,977.5L604.0,964.6L604.0,959.2Z"/><path d="M633.9,921.7L639.4,921.7L652.9,934.6L652.9,940.0L639.4,952.9L633.9,952.9L620.5,940.0L620.5,934.6Z"/><path d="M653.2,896.3L658.7,896.3L672.1,909.2L672.1,914.6L658.7,927.5L653.2,927.5L639.7,914.6L639.7,909.2Z"/><path d="M675.5,868.3L681.0,868.3L694.4,881.2L694.4,886.6L681.0,899.5L675.5,899.5L662.0,886.6L662.0,881.2Z"/><path d="M699.2,840.2L704.8,840.2L718.2,853.1L718.2,858.5L704.8,871.4L699.2,871.4L685.8,858.5L685.8,853.1Z"/><path d="M726.0,811.6L731.5,811.6L744.9,824.5L744.9,829.9L731.5,842.8L726.0,842.8L712.5,829.9L712.5,824.5Z"/><path d="M754.0,783.5L759.5,783.5L772.9,796.4L772.9,801.8L759.5,814.7L754.0,814.7L740.5,801.8L740.5,796.4Z"/><path d="M786.2,753.2L791.8,753.2L805.2,766.1L805.2,771.5L791.8,784.4L786.2,784.4L772.8,771.5L772.8,766.1Z"/><path d="M822.8,724.6L828.2,724.6L841.7,737.5L841.7,742.9L828.2,755.8L822.8,755.8L809.3,742.9L809.3,737.5Z"/><path d="M862.5,695.7L868.0,695.7L881.5,708.6L881.5,714.0L868.0,726.9L862.5,726.9L849.1,714.0L849.1,708.6Z"/><path d="M907.8,667.6L913.2,667.6L926.7,680.5L926.7,685.9L913.2,698.8L907.8,698.8L894.3,685.9L894.3,680.5Z"/><path d="M956.9,641.5L962.4,641.5L975.8,654.4L975.8,659.8L962.4,672.7L956.9,672.7L943.4,659.8L943.4,654.4Z"/><path d="M1010.9,618.8L1016.4,618.8L1029.8,631.7L1029.8,637.1L1016.4,650.0L1010.9,650.0L997.4,637.1L997.4,631.7Z"/><path d="M1068.5,597.1L1074.0,597.1L1087.4,610.0L1087.4,615.4L1074.0,628.3L1068.5,628.3L1055.0,615.4L1055.0,610.0Z"/><path d="M1131.5,583.4L1137.0,583.4L1150.5,596.3L1150.5,601.7L1137.0,614.6L1131.5,614.6L1118.1,601.7L1118.1,596.3Z"/><path d="M1197.5,572.9L1203.0,572.9L1216.5,585.8L1216.5,591.2L1203.0,604.1L1197.5,604.1L1184.1,591.2L1184.1,585.8Z"/><path d="M1266.2,569.7L1271.7,569.7L1285.1,582.6L1285.1,588.0L1271.7,600.9L1266.2,600.9L1252.7,588.0L1252.7,582.6Z"/><path d="M1337.8,572.9L1343.3,572.9L1356.8,585.8L1356.8,591.2L1343.3,604.1L1337.8,604.1L1324.4,591.2L1324.4,585.8Z"/><path d="M1409.7,582.5L1415.2,582.5L1428.6,595.4L1428.6,600.8L1415.2,613.7L1409.7,613.7L1396.2,600.8L1396.2,595.4Z"/><path d="M1478.5,601.7L1484.0,601.7L1497.4,614.6L1497.4,620.0L1484.0,632.9L1478.5,632.9L1465.0,620.0L1465.0,614.6Z"/><path d="M1543.8,626.6L1549.3,626.6L1562.8,639.5L1562.8,644.9L1549.3,657.8L1543.8,657.8L1530.4,644.9L1530.4,639.5Z"/><path d="M1606.0,658.9L1611.5,658.9L1625.0,671.8L1625.0,677.2L1611.5,690.1L1606.0,690.1L1592.6,677.2L1592.6,671.8Z"/><path d="M1661.2,699.4L1666.8,699.4L1680.2,712.3L1680.2,717.7L1666.8,730.6L1661.2,730.6L1647.8,717.7L1647.8,712.3Z"/><path d="M1705.8,747.0L1711.3,747.0L1724.8,759.9L1724.8,765.3L1711.3,778.2L1705.8,778.2L1692.4,765.3L1692.4,759.9Z"/><path d="M1747.0,791.7L1752.5,791.7L1766.0,804.6L1766.0,810.0L1752.5,822.9L1747.0,822.9L1733.6,810.0L1733.6,804.6Z"/><path d="M1780.8,837.9L1786.3,837.9L1799.8,850.8L1799.8,856.2L1786.3,869.1L1780.8,869.1L1767.4,856.2L1767.4,850.8Z"/><path d="M1807.0,883.5L1812.5,883.5L1825.9,896.4L1825.9,901.8L1812.5,914.7L1807.0,914.7L1793.5,901.8L1793.5,896.4Z"/><path d="M1826.2,928.8L1831.7,928.8L1845.1,941.7L1845.1,947.1L1831.7,960.0L1826.2,960.0L1812.7,947.1L1812.7,941.7Z"/><path d="M1840.5,971.9L1846.0,971.9L1859.4,984.8L1859.4,990.2L1846.0,1003.1L1840.5,1003.1L1827.0,990.2L1827.0,984.8Z"/><path d="M1849.0,1013.3L1854.5,1013.3L1868.0,1026.2L1868.0,1031.6L1854.5,1044.5L1849.0,1044.5L1835.6,1031.6L1835.6,1026.2Z"/><path d="M1854.2,1049.9L1859.7,1049.9L1873.1,1062.8L1873.1,1068.2L1859.7,1081.1L1854.2,1081.1L1840.7,1068.2L1840.7,1062.8Z"/><path d="M1854.0,1083.3L1859.5,1083.3L1872.9,1096.2L1872.9,1101.6L1859.5,1114.5L1854.0,1114.5L1840.5,1101.6L1840.5,1096.2Z"/><path d="M1852.5,1115.0L1858.0,1115.0L1871.5,1127.9L1871.5,1133.3L1858.0,1146.2L1852.5,1146.2L1839.1,1133.3L1839.1,1127.9Z"/><path d="M1849.0,1143.1L1854.5,1143.1L1867.9,1156.0L1867.9,1161.4L1854.5,1174.3L1849.0,1174.3L1835.5,1161.4L1835.5,1156.0Z"/><path d="M1844.2,1166.9L1849.7,1166.9L1863.1,1179.8L1863.1,1185.2L1849.7,1198.1L1844.2,1198.1L1830.7,1185.2L1830.7,1179.8Z"/><path d="M1838.5,1188.5L1844.0,1188.5L1857.5,1201.4L1857.5,1206.8L1844.0,1219.7L1838.5,1219.7L1825.1,1206.8L1825.1,1201.4Z"/><path d="M1832.0,1206.2L1837.5,1206.2L1851.0,1219.1L1851.0,1224.5L1837.5,1237.4L1832.0,1237.4L1818.6,1224.5L1818.6,1219.1Z"/><path d="M1826.0,1222.2L1831.5,1222.2L1844.9,1235.1L1844.9,1240.5L1831.5,1253.4L1826.0,1253.4L1812.5,1240.5L1812.5,1235.1Z"/><path d="M1819.8,1234.3L1825.2,1234.3L1838.7,1247.2L1838.7,1252.6L1825.2,1265.5L1819.8,1265.5L1806.3,1252.6L1806.3,1247.2Z"/><path d="M1813.2,1245.5L1818.8,1245.5L1832.2,1258.4L1832.2,1263.8L1818.8,1276.7L1813.2,1276.7L1799.8,1263.8L1799.8,1258.4Z"/><path d="M1806.8,1255.3L1812.3,1255.3L1825.8,1268.2L1825.8,1273.6L1812.3,1286.5L1806.8,1286.5L1793.4,1273.6L1793.4,1268.2Z"/><path d="M1800.7,1263.7L1806.2,1263.7L1819.6,1276.6L1819.6,1282.0L1806.2,1294.9L1800.7,1294.9L1787.2,1282.0L1787.2,1276.6Z"/><path d="M1798.5,1265.7L1804.0,1265.7L1817.4,1278.7L1817.4,1284.0L1804.0,1297.0L1798.5,1297.0L1785.0,1284.0L1785.0,1278.7Z"/><path d="M1796.3,1267.8L1801.8,1267.8L1815.2,1280.7L1815.2,1286.0L1801.8,1299.0L1796.3,1299.0L1782.8,1286.0L1782.8,1280.7Z"/><path d="M1794.1,1269.8L1799.6,1269.8L1813.0,1282.8L1813.0,1288.1L1799.6,1301.1L1794.1,1301.1L1780.6,1288.1L1780.6,1282.8Z"/><path d="M1791.9,1271.9L1797.4,1271.9L1810.8,1284.8L1810.8,1290.1L1797.4,1303.1L1791.9,1303.1L1778.4,1290.1L1778.4,1284.8Z"/><path d="M1789.7,1273.9L1795.2,1273.9L1808.7,1286.9L1808.7,1292.2L1795.2,1305.2L1789.7,1305.2L1776.3,1292.2L1776.3,1286.9Z"/><path d="M1787.7,1276.2L1793.2,1276.2L1806.7,1289.2L1806.7,1294.5L1793.2,1307.5L1787.7,1307.5L1774.3,1294.5L1774.3,1289.2Z"/><path d="M1785.7,1278.4L1791.2,1278.4L1804.7,1291.4L1804.7,1296.7L1791.2,1309.7L1785.7,1309.7L1772.3,1296.7L1772.3,1291.4Z"/><path d="M1783.8,1280.7L1789.3,1280.7L1802.7,1293.7L1802.7,1299.0L1789.3,1311.9L1783.8,1311.9L1770.3,1299.0L1770.3,1293.7Z"/><path d="M1781.8,1282.9L1787.3,1282.9L1800.7,1295.9L1800.7,1301.2L1787.3,1314.2L1781.8,1314.2L1768.3,1301.2L1768.3,1295.9Z"/><path d="M1779.8,1285.2L1785.3,1285.2L1798.8,1298.2L1798.8,1303.5L1785.3,1316.5L1779.8,1316.5L1766.4,1303.5L1766.4,1298.2Z"/><path d="M1777.8,1287.5L1783.3,1287.5L1796.8,1300.4L1796.8,1305.8L1783.3,1318.7L1777.8,1318.7L1764.4,1305.8L1764.4,1300.4Z"/><path d="M1775.9,1289.7L1781.4,1289.7L1794.8,1302.7L1794.8,1308.0L1781.4,1321.0L1775.9,1321.0L1762.4,1308.0L1762.4,1302.7Z"/><path d="M1775.3,1290.4L1780.8,1290.4L1794.3,1303.3L1794.3,1308.7L1780.8,1321.6L1775.3,1321.6L1761.9,1308.7L1761.9,1303.3Z"/><path d="M1775.3,1290.4L1780.8,1290.4L1794.3,1303.3L1794.3,1308.7L1780.8,1321.6L1775.3,1321.6L1761.9,1308.7L1761.9,1303.3Z"/><path d="M1775.3,1290.4L1780.8,1290.4L1794.3,1303.3L1794.3,1308.7L1780.8,1321.6L1775.3,1321.6L1761.9,1308.7L1761.9,1303.3Z"/><path d="M1775.3,1290.4L1780.8,1290.4L1794.3,1303.3L1794.3,1308.7L1780.8,1321.6L1775.3,1321.6L1761.9,1308.7L1761.9,1303.3Z"/><path d="M1775.3,1290.4L1780.8,1290.4L1794.3,1303.3L1794.3,1308.7L1780.8,1321.6L1775.3,1321.6L1761.9,1308.7L1761.9,1303.3Z"/><path d="M1775.3,1290.4L1780.8,1290.4L1794.3,1303.3L1794.3,1308.7L1780.8,1321.6L1775.3,1321.6L1761.9,1308.7L1761.9,1303.3Z"/><path d="M1775.3,1290.4L1780.8,1290.4L1794.3,1303.3L1794.3,1308.7L1780.8,1321.6L1775.3,1321.6L1761.9,1308.7L1761.9,1303.3Z"/><path d="M1775.3,1290.4L1780.8,1290.4L1794.3,1303.3L1794.3,1308.7L1780.8,1321.6L1775.3,1321.6L1761.9,1308.7L1761.9,1303.3Z"/><path d="M1775.3,1290.4L1780.8,1290.4L1794.3,1303.3L1794.3,1308.7L1780.8,1321.6L1775.3,1321.6L1761.9,1308.7L1761.9,1303.3Z"/><path d="M406.2,1310.4L411.8,1310.4L425.2,1323.3L425.2,1328.7L411.8,1341.6L406.2,1341.6L392.8,1328.7L392.8,1323.3Z"/><path d="M406.2,1310.4L411.8,1310.4L425.2,1323.3L425.2,1328.7L411.8,1341.6L406.2,1341.6L392.8,1328.7L392.8,1323.3Z"/><path d="M406.2,1310.4L411.8,1310.4L425.2,1323.3L425.2,1328.7L411.8,1341.6L406.2,1341.6L392.8,1328.7L392.8,1323.3Z"/><path d="M406.2,1310.4L411.8,1310.4L425.2,1323.3L425.2,1328.7L411.8,1341.6L406.2,1341.6L392.8,1328.7L392.8,1323.3Z"/><path d="M406.2,1310.4L411.8,1310.4L425.2,1323.3L425.2,1328.7L411.8,1341.6L406.2,1341.6L392.8,1328.7L392.8,1323.3Z"/><path d="M406.2,1310.4L411.8,1310.4L425.2,1323.3L425.2,1328.7L411.8,1341.6L406.2,1341.6L392.8,1328.7L392.8,1323.3Z"/><path d="M406.2,1310.4L411.8,1310.4L425.2,1323.3L425.2,1328.7L411.8,1341.6L406.2,1341.6L392.8,1328.7L392.8,1323.3Z"/><path d="M406.2,1310.4L411.8,1310.4L425.2,1323.3L425.2,1328.7L411.8,1341.6L406.2,1341.6L392.8,1328.7L392.8,1323.3Z"/><path d="M406.2,1310.4L411.8,1310.4L425.2,1323.3L425.2,1328.7L411.8,1341.6L406.2,1341.6L392.8,1328.7L392.8,1323.3Z"/><path d="M408.8,1308.9L414.3,1308.9L427.8,1321.8L427.8,1327.1L414.3,1340.1L408.8,1340.1L395.4,1327.1L395.4,1321.8Z"/><path d="M411.4,1307.3L416.9,1307.3L430.4,1320.3L430.4,1325.6L416.9,1338.6L411.4,1338.6L398.0,1325.6L398.0,1320.3Z"/><path d="M414.0,1305.8L419.5,1305.8L433.0,1318.8L433.0,1324.1L419.5,1337.1L414.0,1337.1L400.6,1324.1L400.6,1318.8Z"/><path d="M416.6,1304.3L422.1,1304.3L435.6,1317.3L435.6,1322.6L422.1,1335.6L416.6,1335.6L403.2,1322.6L403.2,1317.3Z"/><path d="M419.2,1302.8L424.7,1302.8L438.2,1315.8L438.2,1321.1L424.7,1334.1L419.2,1334.1L405.8,1321.1L405.8,1315.8Z"/><path d="M421.9,1301.4L427.4,1301.4L440.8,1314.4L440.8,1319.7L427.4,1332.7L421.9,1332.7L408.4,1319.7L408.4,1314.4Z"/><path d="M424.5,1300.0L430.0,1300.0L443.5,1313.0L443.5,1318.3L430.0,1331.3L424.5,1331.3L411.1,1318.3L411.1,1313.0Z"/><path d="M427.2,1298.6L432.7,1298.6L446.1,1311.6L446.1,1316.9L432.7,1329.9L427.2,1329.9L413.7,1316.9L413.7,1311.6Z"/><path d="M429.8,1297.2L435.3,1297.2L448.8,1310.2L448.8,1315.5L435.3,1328.5L429.8,1328.5L416.4,1315.5L416.4,1310.2Z"/><path d="M432.5,1295.8L438.0,1295.8L451.4,1308.8L451.4,1314.1L438.0,1327.1L432.5,1327.1L419.0,1314.1L419.0,1308.8Z"/><path d="M435.0,1294.3L440.5,1294.3L454.0,1307.3L454.0,1312.6L440.5,1325.6L435.0,1325.6L421.6,1312.6L421.6,1307.3Z"/><path d="M437.2,1292.3L442.7,1292.3L456.2,1305.2L456.2,1310.5L442.7,1323.5L437.2,1323.5L423.8,1310.5L423.8,1305.2Z"/><path d="M439.4,1290.2L444.9,1290.2L458.4,1303.2L458.4,1308.5L444.9,1321.5L439.4,1321.5L426.0,1308.5L426.0,1303.2Z"/><path d="M441.6,1288.2L447.1,1288.2L460.6,1301.1L460.6,1306.5L447.1,1319.4L441.6,1319.4L428.2,1306.5L428.2,1301.1Z"/><path d="M443.8,1286.1L449.3,1286.1L462.8,1299.1L462.8,1304.4L449.3,1317.4L443.8,1317.4L430.4,1304.4L430.4,1299.1Z"/><path d="M446.0,1284.1L451.5,1284.1L465.0,1297.1L465.0,1302.4L451.5,1315.3L446.0,1315.3L432.6,1302.4L432.6,1297.1Z"/><path d="M448.2,1282.0L453.7,1282.0L467.2,1295.0L467.2,1300.3L453.7,1313.3L448.2,1313.3L434.8,1300.3L434.8,1295.0Z"/><path d="M450.4,1280.0L455.9,1280.0L469.4,1293.0L469.4,1298.3L455.9,1311.3L450.4,1311.3L437.0,1298.3L437.0,1293.0Z"/><path d="M452.6,1278.0L458.1,1278.0L471.6,1290.9L471.6,1296.2L458.1,1309.2L452.6,1309.2L439.2,1296.2L439.2,1290.9Z"/><path d="M454.7,1275.8L460.2,1275.8L473.7,1288.8L473.7,1294.1L460.2,1307.1L454.7,1307.1L441.3,1294.1L441.3,1288.8Z"/><path d="M456.8,1273.6L462.3,1273.6L475.7,1286.6L475.7,1291.9L462.3,1304.9L456.8,1304.9L443.3,1291.9L443.3,1286.6Z"/><path d="M458.8,1271.4L464.3,1271.4L477.8,1284.4L477.8,1289.7L464.3,1302.7L458.8,1302.7L445.4,1289.7L445.4,1284.4Z"/><path d="M460.9,1269.2L466.4,1269.2L479.8,1282.2L479.8,1287.5L466.4,1300.5L460.9,1300.5L447.4,1287.5L447.4,1282.2Z"/><path d="M462.9,1267.1L468.4,1267.1L481.9,1280.0L481.9,1285.3L468.4,1298.3L462.9,1298.3L449.5,1285.3L449.5,1280.0Z"/><path d="M465.0,1264.9L470.5,1264.9L483.9,1277.8L483.9,1283.1L470.5,1296.1L465.0,1296.1L451.5,1283.1L451.5,1277.8Z"/><path d="M467.0,1262.7L472.5,1262.7L486.0,1275.7L486.0,1281.0L472.5,1293.9L467.0,1293.9L453.6,1281.0L453.6,1275.7Z"/><path d="M469.1,1260.5L474.6,1260.5L488.0,1273.5L488.0,1278.8L474.6,1291.8L469.1,1291.8L455.6,1278.8L455.6,1273.5Z"/><path d="M471.2,1258.3L476.7,1258.3L490.1,1271.3L490.1,1276.6L476.7,1289.6L471.2,1289.6L457.7,1276.6L457.7,1271.3Z"/><path d="M473.3,1256.2L478.8,1256.2L492.2,1269.2L492.2,1274.5L478.8,1287.5L473.3,1287.5L459.8,1274.5L459.8,1269.2Z"/><path d="M475.4,1254.0L480.9,1254.0L494.3,1267.0L494.3,1272.3L480.9,1285.3L475.4,1285.3L461.9,1272.3L461.9,1267.0Z"/><path d="M477.8,1251.6L483.2,1251.6L496.7,1264.5L496.7,1269.9L483.2,1282.8L477.8,1282.8L464.3,1269.9L464.3,1264.5Z"/><path d="M482.8,1244.1L488.2,1244.1L501.7,1257.0L501.7,1262.4L488.2,1275.3L482.8,1275.3L469.3,1262.4L469.3,1257.0Z"/><path d="M486.1,1237.5L491.6,1237.5L505.0,1250.4L505.0,1255.8L491.6,1268.7L486.1,1268.7L472.6,1255.8L472.6,1250.4Z"/><path d="M491.1,1229.2L496.6,1229.2L510.0,1242.1L510.0,1247.5L496.6,1260.4L491.1,1260.4L477.6,1247.5L477.6,1242.1Z"/><path d="M495.1,1221.7L500.6,1221.7L514.1,1234.6L514.1,1240.0L500.6,1252.9L495.1,1252.9L481.7,1240.0L481.7,1234.6Z"/><path d="M499.4,1213.4L504.9,1213.4L518.3,1226.3L518.3,1231.7L504.9,1244.6L499.4,1244.6L485.9,1231.7L485.9,1226.3Z"/><path d="M504.2,1203.5L509.8,1203.5L523.2,1216.4L523.2,1221.8L509.8,1234.7L504.2,1234.7L490.8,1221.8L490.8,1216.4Z"/><path d="M507.6,1194.3L513.1,1194.3L526.6,1207.2L526.6,1212.6L513.1,1225.5L507.6,1225.5L494.2,1212.6L494.2,1207.2Z"/><path d="M512.5,1183.6L518.0,1183.6L531.5,1196.5L531.5,1201.9L518.0,1214.8L512.5,1214.8L499.1,1201.9L499.1,1196.5Z"/><path d="M517.5,1172.8L523.0,1172.8L536.5,1185.7L536.5,1191.1L523.0,1204.0L517.5,1204.0L504.1,1191.1L504.1,1185.7Z"/><path d="M522.5,1162.0L528.0,1162.0L541.5,1174.9L541.5,1180.3L528.0,1193.2L522.5,1193.2L509.1,1180.3L509.1,1174.9Z"/><path d="M528.4,1148.7L533.9,1148.7L547.3,1161.6L547.3,1167.0L533.9,1179.9L528.4,1179.9L514.9,1167.0L514.9,1161.6Z"/><path d="M533.2,1135.5L538.8,1135.5L552.2,1148.4L552.2,1153.8L538.8,1166.7L533.2,1166.7L519.8,1153.8L519.8,1148.4Z"/><path d="M538.8,1120.5L544.2,1120.5L557.7,1133.4L557.7,1138.8L544.2,1151.7L538.8,1151.7L525.3,1138.8L525.3,1133.4Z"/><path d="M547.5,1105.6L553.0,1105.6L566.4,1118.5L566.4,1123.9L553.0,1136.8L547.5,1136.8L534.0,1123.9L534.0,1118.5Z"/><path d="M556.0,1088.7L561.5,1088.7L574.9,1101.6L574.9,1107.0L561.5,1119.9L556.0,1119.9L542.5,1107.0L542.5,1101.6Z"/><path d="M563.5,1072.0L569.0,1072.0L582.5,1084.9L582.5,1090.3L569.0,1103.2L563.5,1103.2L550.1,1090.3L550.1,1084.9Z"/><path d="M572.4,1053.6L577.9,1053.6L591.3,1066.5L591.3,1071.9L577.9,1084.8L572.4,1084.8L558.9,1071.9L558.9,1066.5Z"/><path d="M582.0,1035.9L587.5,1035.9L600.9,1048.8L600.9,1054.2L587.5,1067.1L582.0,1067.1L568.5,1054.2L568.5,1048.8Z"/><path d="M593.1,1015.9L598.6,1015.9L612.1,1028.8L612.1,1034.2L598.6,1047.1L593.1,1047.1L579.7,1034.2L579.7,1028.8Z"/><path d="M605.4,994.4L610.9,994.4L624.3,1007.3L624.3,1012.7L610.9,1025.6L605.4,1025.6L591.9,1012.7L591.9,1007.3Z"/><path d="M619.6,972.0L625.1,972.0L638.6,984.9L638.6,990.3L625.1,1003.2L619.6,1003.2L606.2,990.3L606.2,984.9Z"/><path d="M634.6,949.6L640.1,949.6L653.6,962.5L653.6,967.9L640.1,980.8L634.6,980.8L621.2,967.9L621.2,962.5Z"/><path d="M651.8,925.0L657.2,925.0L670.7,937.9L670.7,943.3L657.2,956.2L651.8,956.2L638.3,943.3L638.3,937.9Z"/><path d="M671.6,899.6L677.1,899.6L690.6,912.5L690.6,917.9L677.1,930.8L671.6,930.8L658.2,917.9L658.2,912.5Z"/><path d="M694.0,874.4L699.5,874.4L713.0,887.3L713.0,892.7L699.5,905.6L694.0,905.6L680.6,892.7L680.6,887.3Z"/><path d="M718.4,847.2L723.9,847.2L737.3,860.1L737.3,865.5L723.9,878.4L718.4,878.4L704.9,865.5L704.9,860.1Z"/><path d="M745.5,820.0L751.0,820.0L764.5,832.9L764.5,838.3L751.0,851.2L745.5,851.2L732.1,838.3L732.1,832.9Z"/><path d="M777.9,792.5L783.4,792.5L796.8,805.4L796.8,810.8L783.4,823.7L777.9,823.7L764.4,810.8L764.4,805.4Z"/><path d="M811.5,765.8L817.0,765.8L830.5,778.7L830.5,784.1L817.0,797.0L811.5,797.0L798.1,784.1L798.1,778.7Z"/><path d="M850.9,739.2L856.4,739.2L869.8,752.1L869.8,757.5L856.4,770.4L850.9,770.4L837.4,757.5L837.4,752.1Z"/><path d="M893.8,715.3L899.2,715.3L912.7,728.2L912.7,733.6L899.2,746.5L893.8,746.5L880.3,733.6L880.3,728.2Z"/><path d="M942.0,692.0L947.5,692.0L961.0,704.9L961.0,710.3L947.5,723.2L942.0,723.2L928.6,710.3L928.6,704.9Z"/><path d="M994.2,671.4L999.8,671.4L1013.2,684.3L1013.2,689.7L999.8,702.6L994.2,702.6L980.8,689.7L980.8,684.3Z"/><path d="M1048.7,655.2L1054.2,655.2L1067.6,668.1L1067.6,673.5L1054.2,686.4L1048.7,686.4L1035.2,673.5L1035.2,668.1Z"/><path d="M1108.2,642.4L1113.8,642.4L1127.2,655.3L1127.2,660.7L1113.8,673.6L1108.2,673.6L1094.8,660.7L1094.8,655.3Z"/><path d="M1170.5,635.4L1176.0,635.4L1189.4,648.3L1189.4,653.7L1176.0,666.6L1170.5,666.6L1157.0,653.7L1157.0,648.3Z"/><path d="M1234.8,635.4L1240.3,635.4L1253.8,648.3L1253.8,653.7L1240.3,666.6L1234.8,666.6L1221.4,653.7L1221.4,648.3Z"/><path d="M1299.5,642.4L1305.0,642.4L1318.5,655.3L1318.5,660.7L1305.0,673.6L1299.5,673.6L1286.1,660.7L1286.1,655.3Z"/><path d="M1365.0,655.2L1370.5,655.2L1383.9,668.1L1383.9,673.5L1370.5,686.4L1365.0,686.4L1351.5,673.5L1351.5,668.1Z"/><path d="M1428.2,675.4L1433.8,675.4L1447.2,688.3L1447.2,693.7L1433.8,706.6L1428.2,706.6L1414.8,693.7L1414.8,688.3Z"/><path d="M1485.8,702.0L1491.2,702.0L1504.7,714.9L1504.7,720.3L1491.2,733.2L1485.8,733.2L1472.3,720.3L1472.3,714.9Z"/><path d="M1539.5,734.3L1545.0,734.3L1558.4,747.2L1558.4,752.6L1545.0,765.5L1539.5,765.5L1526.0,752.6L1526.0,747.2Z"/><path d="M1588.5,771.6L1594.0,771.6L1607.5,784.5L1607.5,789.9L1594.0,802.8L1588.5,802.8L1575.1,789.9L1575.1,784.5Z"/><path d="M1630.0,812.4L1635.5,812.4L1648.9,825.3L1648.9,830.7L1635.5,843.6L1630.0,843.6L1616.5,830.7L1616.5,825.3Z"/><path d="M1664.2,854.5L1669.7,854.5L1683.1,867.4L1683.1,872.8L1669.7,885.7L1664.2,885.7L1650.7,872.8L1650.7,867.4Z"/><path d="M1691.2,898.5L1696.8,898.5L1710.2,911.4L1710.2,916.8L1696.8,929.7L1691.2,929.7L1677.8,916.8L1677.8,911.4Z"/><path d="M1713.0,941.6L1718.5,941.6L1731.9,954.5L1731.9,959.9L1718.5,972.8L1713.0,972.8L1699.5,959.9L1699.5,954.5Z"/><path d="M1727.2,981.4L1732.8,981.4L1746.2,994.3L1746.2,999.7L1732.8,1012.6L1727.2,1012.6L1713.8,999.7L1713.8,994.3Z"/><path d="M1737.8,1019.7L1743.2,1019.7L1756.7,1032.6L1756.7,1038.0L1743.2,1050.9L1737.8,1050.9L1724.3,1038.0L1724.3,1032.6Z"/><path d="M1743.2,1056.6L1748.7,1056.6L1762.1,1069.5L1762.1,1074.9L1748.7,1087.8L1743.2,1087.8L1729.7,1074.9L1729.7,1069.5Z"/><path d="M1745.0,1089.7L1750.5,1089.7L1764.0,1102.6L1764.0,1108.0L1750.5,1120.9L1745.0,1120.9L1731.6,1108.0L1731.6,1102.6Z"/><path d="M1745.0,1120.6L1750.5,1120.6L1764.0,1133.5L1764.0,1138.9L1750.5,1151.8L1745.0,1151.8L1731.6,1138.9L1731.6,1133.5Z"/><path d="M1741.8,1145.9L1747.2,1145.9L1760.7,1158.8L1760.7,1164.2L1747.2,1177.1L1741.8,1177.1L1728.3,1164.2L1728.3,1158.8Z"/><path d="M1738.3,1168.3L1743.8,1168.3L1757.3,1181.2L1757.3,1186.6L1743.8,1199.5L1738.3,1199.5L1724.9,1186.6L1724.9,1181.2Z"/><path d="M1733.3,1190.8L1738.8,1190.8L1752.3,1203.7L1752.3,1209.1L1738.8,1222.0L1733.3,1222.0L1719.9,1209.1L1719.9,1203.7Z"/><path d="M1727.7,1208.2L1733.2,1208.2L1746.6,1221.1L1746.6,1226.5L1733.2,1239.4L1727.7,1239.4L1714.2,1226.5L1714.2,1221.1Z"/><path d="M1722.0,1223.9L1727.5,1223.9L1741.0,1236.8L1741.0,1242.2L1727.5,1255.1L1722.0,1255.1L1708.6,1242.2L1708.6,1236.8Z"/><path d="M1716.5,1235.7L1722.0,1235.7L1735.4,1248.6L1735.4,1254.0L1722.0,1266.9L1716.5,1266.9L1703.0,1254.0L1703.0,1248.6Z"/><path d="M1710.8,1246.9L1716.3,1246.9L1729.8,1259.8L1729.8,1265.2L1716.3,1278.1L1710.8,1278.1L1697.4,1265.2L1697.4,1259.8Z"/><path d="M1703.8,1256.7L1709.3,1256.7L1722.8,1269.6L1722.8,1275.0L1709.3,1287.9L1703.8,1287.9L1690.4,1275.0L1690.4,1269.6Z"/><path d="M1698.2,1265.1L1703.8,1265.1L1717.2,1278.0L1717.2,1283.4L1703.8,1296.3L1698.2,1296.3L1684.8,1283.4L1684.8,1278.0Z"/><path d="M1695.8,1266.8L1701.3,1266.8L1714.8,1279.8L1714.8,1285.1L1701.3,1298.1L1695.8,1298.1L1682.4,1285.1L1682.4,1279.8Z"/><path d="M1693.4,1268.6L1698.9,1268.6L1712.4,1281.6L1712.4,1286.9L1698.9,1299.9L1693.4,1299.9L1680.0,1286.9L1680.0,1281.6Z"/><path d="M1691.0,1270.4L1696.5,1270.4L1709.9,1283.4L1709.9,1288.7L1696.5,1301.6L1691.0,1301.6L1677.5,1288.7L1677.5,1283.4Z"/><path d="M1688.6,1272.1L1694.1,1272.1L1707.5,1285.1L1707.5,1290.4L1694.1,1303.4L1688.6,1303.4L1675.1,1290.4L1675.1,1285.1Z"/><path d="M1686.2,1274.0L1691.7,1274.0L1705.2,1287.0L1705.2,1292.3L1691.7,1305.3L1686.2,1305.3L1672.8,1292.3L1672.8,1287.0Z"/><path d="M1683.9,1275.9L1689.4,1275.9L1702.8,1288.9L1702.8,1294.2L1689.4,1307.1L1683.9,1307.1L1670.4,1294.2L1670.4,1288.9Z"/><path d="M1681.5,1277.8L1687.0,1277.8L1700.5,1290.7L1700.5,1296.0L1687.0,1309.0L1681.5,1309.0L1668.1,1296.0L1668.1,1290.7Z"/><path d="M1679.2,1279.6L1684.7,1279.6L1698.1,1292.6L1698.1,1297.9L1684.7,1310.9L1679.2,1310.9L1665.7,1297.9L1665.7,1292.6Z"/><path d="M1676.8,1281.5L1682.3,1281.5L1695.8,1294.4L1695.8,1299.7L1682.3,1312.7L1676.8,1312.7L1663.4,1299.7L1663.4,1294.4Z"/><path d="M1674.4,1283.3L1679.9,1283.3L1693.4,1296.3L1693.4,1301.6L1679.9,1314.5L1674.4,1314.5L1661.0,1301.6L1661.0,1296.3Z"/><path d="M1672.0,1285.1L1677.5,1285.1L1691.0,1298.1L1691.0,1303.4L1677.5,1316.4L1672.0,1316.4L1658.6,1303.4L1658.6,1298.1Z"/><path d="M1669.6,1286.9L1675.1,1286.9L1688.6,1299.9L1688.6,1305.2L1675.1,1318.2L1669.6,1318.2L1656.2,1305.2L1656.2,1299.9Z"/><path d="M1668.8,1287.6L1674.2,1287.6L1687.7,1300.5L1687.7,1305.9L1674.2,1318.8L1668.8,1318.8L1655.3,1305.9L1655.3,1300.5Z"/><path d="M1668.8,1287.6L1674.2,1287.6L1687.7,1300.5L1687.7,1305.9L1674.2,1318.8L1668.8,1318.8L1655.3,1305.9L1655.3,1300.5Z"/><path d="M1668.8,1287.6L1674.2,1287.6L1687.7,1300.5L1687.7,1305.9L1674.2,1318.8L1668.8,1318.8L1655.3,1305.9L1655.3,1300.5Z"/><path d="M1668.8,1287.6L1674.2,1287.6L1687.7,1300.5L1687.7,1305.9L1674.2,1318.8L1668.8,1318.8L1655.3,1305.9L1655.3,1300.5Z"/><path d="M1668.8,1287.6L1674.2,1287.6L1687.7,1300.5L1687.7,1305.9L1674.2,1318.8L1668.8,1318.8L1655.3,1305.9L1655.3,1300.5Z"/><path d="M1668.8,1287.6L1674.2,1287.6L1687.7,1300.5L1687.7,1305.9L1674.2,1318.8L1668.8,1318.8L1655.3,1305.9L1655.3,1300.5Z"/><path d="M1668.8,1287.6L1674.2,1287.6L1687.7,1300.5L1687.7,1305.9L1674.2,1318.8L1668.8,1318.8L1655.3,1305.9L1655.3,1300.5Z"/><path d="M1668.8,1287.6L1674.2,1287.6L1687.7,1300.5L1687.7,1305.9L1674.2,1318.8L1668.8,1318.8L1655.3,1305.9L1655.3,1300.5Z"/><path d="M1668.8,1287.6L1674.2,1287.6L1687.7,1300.5L1687.7,1305.9L1674.2,1318.8L1668.8,1318.8L1655.3,1305.9L1655.3,1300.5Z"/></g>
<path d="M407.7,1294.4L413.2,1294.4L426.7,1307.4L426.7,1312.7L413.2,1325.7L407.7,1325.7L394.3,1312.7L394.3,1307.4ZM407.7,1294.4L413.2,1294.4L426.7,1307.4L426.7,1312.7L413.2,1325.7L407.7,1325.7L394.3,1312.7L394.3,1307.4ZM407.7,1294.4L413.2,1294.4L426.7,1307.4L426.7,1312.7L413.2,1325.7L407.7,1325.7L394.3,1312.7L394.3,1307.4ZM407.7,1294.4L413.2,1294.4L426.7,1307.4L426.7,1312.7L413.2,1325.7L407.7,1325.7L394.3,1312.7L394.3,1307.4ZM407.7,1294.4L413.2,1294.4L426.7,1307.4L426.7,1312.7L413.2,1325.7L407.7,1325.7L394.3,1312.7L394.3,1307.4ZM407.7,1294.4L413.2,1294.4L426.7,1307.4L426.7,1312.7L413.2,1325.7L407.7,1325.7L394.3,1312.7L394.3,1307.4ZM407.7,1294.4L413.2,1294.4L426.7,1307.4L426.7,1312.7L413.2,1325.7L407.7,1325.7L394.3,1312.7L394.3,1307.4ZM407.7,1294.4L413.2,1294.4L426.7,1307.4L426.7,1312.7L413.2,1325.7L407.7,1325.7L394.3,1312.7L394.3,1307.4ZM407.7,1294.4L413.2,1294.4L426.7,1307.4L426.7,1312.7L413.2,1325.7L407.7,1325.7L394.3,1312.7L394.3,1307.4ZM410.3,1292.9L415.8,1292.9L429.2,1305.9L429.2,1311.2L415.8,1324.2L410.3,1324.2L396.8,1311.2L396.8,1305.9ZM412.9,1291.4L418.4,1291.4L431.8,1304.4L431.8,1309.7L418.4,1322.7L412.9,1322.7L399.4,1309.7L399.4,1304.4ZM415.5,1289.9L421.0,1289.9L434.4,1302.9L434.4,1308.2L421.0,1321.2L415.5,1321.2L402.0,1308.2L402.0,1302.9ZM418.1,1288.4L423.6,1288.4L437.0,1301.4L437.0,1306.7L423.6,1319.7L418.1,1319.7L404.6,1306.7L404.6,1301.4ZM420.7,1287.0L426.2,1287.0L439.6,1299.9L439.6,1305.3L426.2,1318.2L420.7,1318.2L407.2,1305.3L407.2,1299.9ZM423.3,1285.6L428.8,1285.6L442.3,1298.6L442.3,1303.9L428.8,1316.8L423.3,1316.8L409.9,1303.9L409.9,1298.6ZM426.0,1284.2L431.5,1284.2L444.9,1297.2L444.9,1302.5L431.5,1315.4L426.0,1315.4L412.5,1302.5L412.5,1297.2ZM428.6,1282.8L434.1,1282.8L447.6,1295.8L447.6,1301.1L434.1,1314.0L428.6,1314.0L415.2,1301.1L415.2,1295.8ZM431.3,1281.4L436.8,1281.4L450.2,1294.4L450.2,1299.7L436.8,1312.6L431.3,1312.6L417.8,1299.7L417.8,1294.4ZM433.9,1280.0L439.4,1280.0L452.8,1293.0L452.8,1298.3L439.4,1311.3L433.9,1311.3L420.4,1298.3L420.4,1293.0ZM436.5,1278.5L442.0,1278.5L455.4,1291.5L455.4,1296.8L442.0,1309.7L436.5,1309.7L423.0,1296.8L423.0,1291.5ZM438.7,1276.4L444.2,1276.4L457.6,1289.4L457.6,1294.7L444.2,1307.7L438.7,1307.7L425.2,1294.7L425.2,1289.4ZM440.8,1274.4L446.3,1274.4L459.8,1287.4L459.8,1292.7L446.3,1305.7L440.8,1305.7L427.4,1292.7L427.4,1287.4ZM443.0,1272.4L448.5,1272.4L462.0,1285.4L462.0,1290.7L448.5,1303.6L443.0,1303.6L429.6,1290.7L429.6,1285.4ZM445.2,1270.4L450.7,1270.4L464.2,1283.3L464.2,1288.6L450.7,1301.6L445.2,1301.6L431.8,1288.6L431.8,1283.3ZM447.4,1268.3L452.9,1268.3L466.4,1281.3L466.4,1286.6L452.9,1299.6L447.4,1299.6L434.0,1286.6L434.0,1281.3ZM449.6,1266.3L455.1,1266.3L468.6,1279.3L468.6,1284.6L455.1,1297.6L449.6,1297.6L436.2,1284.6L436.2,1279.3ZM451.8,1264.3L457.3,1264.3L470.7,1277.2L470.7,1282.5L457.3,1295.5L451.8,1295.5L438.3,1282.5L438.3,1277.2ZM454.0,1262.2L459.5,1262.2L472.9,1275.2L472.9,1280.5L459.5,1293.5L454.0,1293.5L440.5,1280.5L440.5,1275.2ZM456.1,1260.1L461.6,1260.1L475.0,1273.1L475.0,1278.4L461.6,1291.4L456.1,1291.4L442.6,1278.4L442.6,1273.1ZM458.1,1257.9L463.6,1257.9L477.1,1270.9L477.1,1276.2L463.6,1289.2L458.1,1289.2L444.7,1276.2L444.7,1270.9ZM460.2,1255.7L465.7,1255.7L479.1,1268.7L479.1,1274.0L465.7,1287.0L460.2,1287.0L446.7,1274.0L446.7,1268.7ZM462.2,1253.6L467.7,1253.6L481.2,1266.6L481.2,1271.9L467.7,1284.8L462.2,1284.8L448.8,1271.9L448.8,1266.6ZM464.2,1251.4L469.7,1251.4L483.2,1264.4L483.2,1269.7L469.7,1282.7L464.2,1282.7L450.8,1269.7L450.8,1264.4ZM466.3,1249.2L471.8,1249.2L485.2,1262.2L485.2,1267.5L471.8,1280.5L466.3,1280.5L452.8,1267.5L452.8,1262.2ZM468.3,1247.0L473.8,1247.0L487.3,1260.0L487.3,1265.3L473.8,1278.3L468.3,1278.3L454.9,1265.3L454.9,1260.0ZM470.4,1244.9L475.9,1244.9L489.3,1257.9L489.3,1263.2L475.9,1276.2L470.4,1276.2L456.9,1263.2L456.9,1257.9ZM472.5,1242.7L478.0,1242.7L491.4,1255.7L491.4,1261.0L478.0,1274.0L472.5,1274.0L459.0,1261.0L459.0,1255.7ZM474.6,1240.6L480.1,1240.6L493.5,1253.6L493.5,1258.9L480.1,1271.9L474.6,1271.9L461.1,1258.9L461.1,1253.6ZM476.6,1238.5L482.1,1238.5L495.6,1251.4L495.6,1256.8L482.1,1269.7L476.6,1269.7L463.2,1256.8L463.2,1251.4ZM479.0,1236.0L484.5,1236.0L498.0,1249.0L498.0,1254.3L484.5,1267.3L479.0,1267.3L465.6,1254.3L465.6,1249.0ZM484.0,1228.6L489.5,1228.6L503.0,1241.5L503.0,1246.8L489.5,1259.8L484.0,1259.8L470.6,1246.8L470.6,1241.5ZM487.3,1222.0L492.8,1222.0L506.2,1235.0L506.2,1240.3L492.8,1253.3L487.3,1253.3L473.8,1240.3L473.8,1235.0ZM492.3,1213.7L497.8,1213.7L511.2,1226.7L511.2,1232.0L497.8,1245.0L492.3,1245.0L478.8,1232.0L478.8,1226.7ZM496.3,1206.3L501.8,1206.3L515.3,1219.3L515.3,1224.6L501.8,1237.6L496.3,1237.6L482.9,1224.6L482.9,1219.3ZM500.5,1198.0L506.0,1198.0L519.5,1211.0L519.5,1216.3L506.0,1229.3L500.5,1229.3L487.1,1216.3L487.1,1211.0ZM505.4,1188.2L510.9,1188.2L524.3,1201.2L524.3,1206.5L510.9,1219.5L505.4,1219.5L491.9,1206.5L491.9,1201.2ZM508.7,1179.1L514.2,1179.1L527.7,1192.0L527.7,1197.4L514.2,1210.3L508.7,1210.3L495.3,1197.4L495.3,1192.0ZM513.6,1168.4L519.1,1168.4L532.6,1181.4L532.6,1186.7L519.1,1199.7L513.6,1199.7L500.2,1186.7L500.2,1181.4ZM518.6,1157.7L524.1,1157.7L537.5,1170.7L537.5,1176.0L524.1,1189.0L518.6,1189.0L505.1,1176.0L505.1,1170.7ZM523.5,1147.0L529.0,1147.0L542.5,1159.9L542.5,1165.3L529.0,1178.2L523.5,1178.2L510.1,1165.3L510.1,1159.9ZM527.7,1133.7L533.2,1133.7L546.7,1146.6L546.7,1152.0L533.2,1164.9L527.7,1164.9L514.3,1152.0L514.3,1146.6ZM531.1,1120.5L536.6,1120.5L550.0,1133.4L550.0,1138.8L536.6,1151.7L531.1,1151.7L517.6,1138.8L517.6,1133.4ZM534.8,1105.5L540.3,1105.5L553.8,1118.4L553.8,1123.8L540.3,1136.7L534.8,1136.7L521.4,1123.8L521.4,1118.4ZM541.8,1090.6L547.3,1090.6L560.7,1103.5L560.7,1108.9L547.3,1121.8L541.8,1121.8L528.3,1108.9L528.3,1103.5ZM548.1,1075.2L553.6,1075.2L567.0,1088.2L567.0,1093.5L553.6,1106.5L548.1,1106.5L534.6,1093.5L534.6,1088.2ZM554.4,1061.3L559.9,1061.3L573.4,1074.3L573.4,1079.6L559.9,1092.6L554.4,1092.6L541.0,1079.6L541.0,1074.3ZM562.2,1044.6L567.7,1044.6L581.1,1057.6L581.1,1062.9L567.7,1075.9L562.2,1075.9L548.7,1062.9L548.7,1057.6ZM568.6,1026.8L574.1,1026.8L587.6,1039.8L587.6,1045.1L574.1,1058.0L568.6,1058.0L555.2,1045.1L555.2,1039.8ZM578.2,1005.2L583.7,1005.2L597.1,1018.2L597.1,1023.5L583.7,1036.5L578.2,1036.5L564.7,1023.5L564.7,1018.2ZM586.4,986.0L591.9,986.0L605.3,998.9L605.3,1004.3L591.9,1017.2L586.4,1017.2L572.9,1004.3L572.9,998.9ZM597.8,961.7L603.3,961.7L616.7,974.7L616.7,980.0L603.3,993.0L597.8,993.0L584.3,980.0L584.3,974.7ZM608.0,937.4L613.5,937.4L626.9,950.4L626.9,955.7L613.5,968.7L608.0,968.7L594.5,955.7L594.5,950.4ZM621.8,912.4L627.3,912.4L640.8,925.4L640.8,930.7L627.3,943.6L621.8,943.6L608.4,930.7L608.4,925.4ZM636.1,883.9L641.6,883.9L655.0,896.9L655.0,902.2L641.6,915.2L636.1,915.2L622.6,902.2L622.6,896.9ZM652.2,854.4L657.8,854.4L671.2,867.3L671.2,872.7L657.8,885.6L652.2,885.6L638.8,872.7L638.8,867.3ZM670.8,825.0L676.2,825.0L689.7,837.9L689.7,843.3L676.2,856.2L670.8,856.2L657.3,843.3L657.3,837.9ZM692.6,795.6L698.1,795.6L711.6,808.5L711.6,813.9L698.1,826.8L692.6,826.8L679.2,813.9L679.2,808.5ZM716.5,762.7L722.0,762.7L735.5,775.6L735.5,781.0L722.0,793.9L716.5,793.9L703.1,781.0L703.1,775.6ZM744.5,729.6L750.0,729.6L763.5,742.5L763.5,747.9L750.0,760.8L744.5,760.8L731.1,747.9L731.1,742.5ZM776.9,695.1L782.4,695.1L795.8,708.0L795.8,713.4L782.4,726.3L776.9,726.3L763.4,713.4L763.4,708.0ZM812.8,660.0L818.2,660.0L831.7,672.9L831.7,678.3L818.2,691.2L812.8,691.2L799.3,678.3L799.3,672.9ZM853.1,625.8L858.6,625.8L872.1,638.7L872.1,644.1L858.6,657.0L853.1,657.0L839.7,644.1L839.7,638.7ZM899.0,592.1L904.5,592.1L917.9,605.0L917.9,610.4L904.5,623.3L899.0,623.3L885.5,610.4L885.5,605.0ZM949.5,558.4L955.0,558.4L968.4,571.3L968.4,576.7L955.0,589.6L949.5,589.6L936.0,576.7L936.0,571.3ZM1006.9,528.1L1012.4,528.1L1025.8,541.0L1025.8,546.4L1012.4,559.3L1006.9,559.3L993.4,546.4L993.4,541.0ZM1069.0,500.1L1074.5,500.1L1087.9,513.0L1087.9,518.4L1074.5,531.3L1069.0,531.3L1055.5,518.4L1055.5,513.0ZM1136.7,476.1L1142.2,476.1L1155.6,489.0L1155.6,494.4L1142.2,507.3L1136.7,507.3L1123.2,494.4L1123.2,489.0ZM1210.0,458.6L1215.5,458.6L1228.9,471.5L1228.9,476.9L1215.5,489.8L1210.0,489.8L1196.5,476.9L1196.5,471.5ZM1287.5,447.4L1293.0,447.4L1306.4,460.3L1306.4,465.7L1293.0,478.6L1287.5,478.6L1274.0,465.7L1274.0,460.3ZM1368.8,442.7L1374.2,442.7L1387.7,455.6L1387.7,461.0L1374.2,473.9L1368.8,473.9L1355.3,461.0L1355.3,455.6ZM1452.0,450.4L1457.5,450.4L1471.0,463.3L1471.0,468.7L1457.5,481.6L1452.0,481.6L1438.6,468.7L1438.6,463.3ZM1532.5,475.7L1538.0,475.7L1551.5,488.6L1551.5,494.0L1538.0,506.9L1532.5,506.9L1519.1,494.0L1519.1,488.6ZM1610.3,500.7L1615.8,500.7L1629.3,513.6L1629.3,519.0L1615.8,531.9L1610.3,531.9L1596.9,519.0L1596.9,513.6ZM1685.2,533.5L1690.7,533.5L1704.1,546.4L1704.1,551.8L1690.7,564.7L1685.2,564.7L1671.7,551.8L1671.7,546.4ZM1753.5,574.6L1759.0,574.6L1772.4,587.5L1772.4,592.9L1759.0,605.8L1753.5,605.8L1740.0,592.9L1740.0,587.5ZM1812.2,620.4L1817.7,620.4L1831.1,633.3L1831.1,638.7L1817.7,651.6L1812.2,651.6L1798.7,638.7L1798.7,633.3ZM1864.0,671.4L1869.5,671.4L1883.0,684.3L1883.0,689.7L1869.5,702.6L1864.0,702.6L1850.6,689.7L1850.6,684.3ZM1906.5,725.2L1912.0,725.2L1925.4,738.1L1925.4,743.5L1912.0,756.4L1906.5,756.4L1893.0,743.5L1893.0,738.1ZM1939.0,780.1L1944.5,780.1L1957.9,793.0L1957.9,798.4L1944.5,811.3L1939.0,811.3L1925.5,798.4L1925.5,793.0ZM1963.8,833.6L1969.3,833.6L1982.8,846.5L1982.8,851.9L1969.3,864.8L1963.8,864.8L1950.4,851.9L1950.4,846.5ZM1980.8,884.7L1986.2,884.7L1999.7,897.6L1999.7,903.0L1986.2,915.9L1980.8,915.9L1967.3,903.0L1967.3,897.6ZM1992.5,933.1L1998.0,933.1L2011.5,946.0L2011.5,951.4L1998.0,964.3L1992.5,964.3L1979.1,951.4L1979.1,946.0ZM1998.0,977.1L2003.5,977.1L2016.9,990.0L2016.9,995.4L2003.5,1008.3L1998.0,1008.3L1984.5,995.4L1984.5,990.0ZM1999.8,1017.6L2005.3,1017.6L2018.8,1030.5L2018.8,1035.9L2005.3,1048.8L1999.8,1048.8L1986.4,1035.9L1986.4,1030.5ZM1997.5,1054.9L2003.0,1054.9L2016.4,1067.8L2016.4,1073.2L2003.0,1086.1L1997.5,1086.1L1984.0,1073.2L1984.0,1067.8ZM1993.8,1087.2L1999.3,1087.2L2012.8,1100.1L2012.8,1105.5L1999.3,1118.4L1993.8,1118.4L1980.4,1105.5L1980.4,1100.1ZM1988.2,1116.1L1993.8,1116.1L2007.2,1129.0L2007.2,1134.4L1993.8,1147.3L1988.2,1147.3L1974.8,1134.4L1974.8,1129.0ZM1982.0,1141.3L1987.5,1141.3L2001.0,1154.2L2001.0,1159.6L1987.5,1172.5L1982.0,1172.5L1968.6,1159.6L1968.6,1154.2ZM1975.0,1162.9L1980.5,1162.9L1994.0,1175.8L1994.0,1181.2L1980.5,1194.1L1975.0,1194.1L1961.6,1181.2L1961.6,1175.8ZM1966.7,1182.6L1972.2,1182.6L1985.6,1195.5L1985.6,1200.9L1972.2,1213.8L1966.7,1213.8L1953.2,1200.9L1953.2,1195.5ZM1958.0,1197.9L1963.5,1197.9L1976.9,1210.8L1976.9,1216.2L1963.5,1229.1L1958.0,1229.1L1944.5,1216.2L1944.5,1210.8ZM1949.8,1211.6L1955.3,1211.6L1968.8,1224.5L1968.8,1229.9L1955.3,1242.8L1949.8,1242.8L1936.4,1229.9L1936.4,1224.5ZM1943.0,1225.4L1948.5,1225.4L1961.9,1238.3L1961.9,1243.7L1948.5,1256.6L1943.0,1256.6L1929.5,1243.7L1929.5,1238.3ZM1940.8,1228.1L1946.3,1228.1L1959.7,1241.1L1959.7,1246.4L1946.3,1259.4L1940.8,1259.4L1927.3,1246.4L1927.3,1241.1ZM1938.6,1230.9L1944.1,1230.9L1957.6,1243.9L1957.6,1249.2L1944.1,1262.1L1938.6,1262.1L1925.2,1249.2L1925.2,1243.9ZM1936.5,1233.6L1942.0,1233.6L1955.4,1246.6L1955.4,1251.9L1942.0,1264.9L1936.5,1264.9L1923.0,1251.9L1923.0,1246.6ZM1934.3,1236.4L1939.8,1236.4L1953.3,1249.4L1953.3,1254.7L1939.8,1267.7L1934.3,1267.7L1920.9,1254.7L1920.9,1249.4ZM1932.2,1239.1L1937.7,1239.1L1951.1,1252.1L1951.1,1257.4L1937.7,1270.4L1932.2,1270.4L1918.7,1257.4L1918.7,1252.1ZM1930.0,1241.9L1935.5,1241.9L1949.0,1254.9L1949.0,1260.2L1935.5,1273.2L1930.0,1273.2L1916.6,1260.2L1916.6,1254.9ZM1927.9,1244.7L1933.4,1244.7L1946.9,1257.7L1946.9,1263.0L1933.4,1276.0L1927.9,1276.0L1914.5,1263.0L1914.5,1257.7ZM1925.8,1247.5L1931.3,1247.5L1944.8,1260.5L1944.8,1265.8L1931.3,1278.8L1925.8,1278.8L1912.4,1265.8L1912.4,1260.5ZM1923.8,1250.3L1929.3,1250.3L1942.7,1263.3L1942.7,1268.6L1929.3,1281.6L1923.8,1281.6L1910.3,1268.6L1910.3,1263.3ZM1921.7,1253.2L1927.2,1253.2L1940.6,1266.1L1940.6,1271.5L1927.2,1284.4L1921.7,1284.4L1908.2,1271.5L1908.2,1266.1ZM1919.7,1256.0L1925.2,1256.0L1938.6,1269.0L1938.6,1274.3L1925.2,1287.3L1919.7,1287.3L1906.2,1274.3L1906.2,1269.0ZM1917.6,1258.9L1923.1,1258.9L1936.6,1271.9L1936.6,1277.2L1923.1,1290.1L1917.6,1290.1L1904.2,1277.2L1904.2,1271.9ZM1915.6,1261.7L1921.1,1261.7L1934.6,1274.7L1934.6,1280.0L1921.1,1293.0L1915.6,1293.0L1902.2,1280.0L1902.2,1274.7ZM1913.6,1264.6L1919.1,1264.6L1932.5,1277.6L1932.5,1282.9L1919.1,1295.9L1913.6,1295.9L1900.1,1282.9L1900.1,1277.6ZM1913.0,1265.4L1918.5,1265.4L1932.0,1278.3L1932.0,1283.7L1918.5,1296.6L1913.0,1296.6L1899.6,1283.7L1899.6,1278.3ZM1913.0,1265.4L1918.5,1265.4L1932.0,1278.3L1932.0,1283.7L1918.5,1296.6L1913.0,1296.6L1899.6,1283.7L1899.6,1278.3ZM1913.0,1265.4L1918.5,1265.4L1932.0,1278.3L1932.0,1283.7L1918.5,1296.6L1913.0,1296.6L1899.6,1283.7L1899.6,1278.3ZM1913.0,1265.4L1918.5,1265.4L1932.0,1278.3L1932.0,1283.7L1918.5,1296.6L1913.0,1296.6L1899.6,1283.7L1899.6,1278.3ZM1913.0,1265.4L1918.5,1265.4L1932.0,1278.3L1932.0,1283.7L1918.5,1296.6L1913.0,1296.6L1899.6,1283.7L1899.6,1278.3ZM1913.0,1265.4L1918.5,1265.4L1932.0,1278.3L1932.0,1283.7L1918.5,1296.6L1913.0,1296.6L1899.6,1283.7L1899.6,1278.3ZM1913.0,1265.4L1918.5,1265.4L1932.0,1278.3L1932.0,1283.7L1918.5,1296.6L1913.0,1296.6L1899.6,1283.7L1899.6,1278.3ZM1913.0,1265.4L1918.5,1265.4L1932.0,1278.3L1932.0,1283.7L1918.5,1296.6L1913.0,1296.6L1899.6,1283.7L1899.6,1278.3ZM1913.0,1265.4L1918.5,1265.4L1932.0,1278.3L1932.0,1283.7L1918.5,1296.6L1913.0,1296.6L1899.6,1283.7L1899.6,1278.3Z" fill="#ff0000"/>
<path d="M405.2,1292.4L410.8,1292.4L424.2,1305.4L424.2,1310.7L410.8,1323.7L405.2,1323.7L391.8,1310.7L391.8,1305.4ZM405.2,1292.4L410.8,1292.4L424.2,1305.4L424.2,1310.7L410.8,1323.7L405.2,1323.7L391.8,1310.7L391.8,1305.4ZM405.2,1292.4L410.8,1292.4L424.2,1305.4L424.2,1310.7L410.8,1323.7L405.2,1323.7L391.8,1310.7L391.8,1305.4ZM405.2,1292.4L410.8,1292.4L424.2,1305.4L424.2,1310.7L410.8,1323.7L405.2,1323.7L391.8,1310.7L391.8,1305.4ZM405.2,1292.4L410.8,1292.4L424.2,1305.4L424.2,1310.7L410.8,1323.7L405.2,1323.7L391.8,1310.7L391.8,1305.4ZM405.2,1292.4L410.8,1292.4L424.2,1305.4L424.2,1310.7L410.8,1323.7L405.2,1323.7L391.8,1310.7L391.8,1305.4ZM405.2,1292.4L410.8,1292.4L424.2,1305.4L424.2,1310.7L410.8,1323.7L405.2,1323.7L391.8,1310.7L391.8,1305.4ZM405.2,1292.4L410.8,1292.4L424.2,1305.4L424.2,1310.7L410.8,1323.7L405.2,1323.7L391.8,1310.7L391.8,1305.4ZM405.2,1292.4L410.8,1292.4L424.2,1305.4L424.2,1310.7L410.8,1323.7L405.2,1323.7L391.8,1310.7L391.8,1305.4ZM407.8,1290.9L413.3,1290.9L426.8,1303.9L426.8,1309.2L413.3,1322.2L407.8,1322.2L394.4,1309.2L394.4,1303.9ZM410.4,1289.4L415.9,1289.4L429.4,1302.4L429.4,1307.7L415.9,1320.7L410.4,1320.7L397.0,1307.7L397.0,1302.4ZM413.0,1287.9L418.5,1287.9L432.0,1300.9L432.0,1306.2L418.5,1319.1L413.0,1319.1L399.6,1306.2L399.6,1300.9ZM415.6,1286.4L421.1,1286.4L434.6,1299.4L434.6,1304.7L421.1,1317.6L415.6,1317.6L402.2,1304.7L402.2,1299.4ZM418.2,1284.9L423.7,1284.9L437.2,1297.9L437.2,1303.2L423.7,1316.2L418.2,1316.2L404.8,1303.2L404.8,1297.9ZM420.9,1283.5L426.4,1283.5L439.8,1296.5L439.8,1301.8L426.4,1314.8L420.9,1314.8L407.4,1301.8L407.4,1296.5ZM423.5,1282.1L429.0,1282.1L442.5,1295.1L442.5,1300.4L429.0,1313.4L423.5,1313.4L410.1,1300.4L410.1,1295.1ZM426.2,1280.7L431.7,1280.7L445.1,1293.7L445.1,1299.0L431.7,1312.0L426.2,1312.0L412.7,1299.0L412.7,1293.7ZM428.8,1279.3L434.3,1279.3L447.8,1292.3L447.8,1297.6L434.3,1310.6L428.8,1310.6L415.4,1297.6L415.4,1292.3ZM431.5,1277.9L437.0,1277.9L450.4,1290.9L450.4,1296.2L437.0,1309.2L431.5,1309.2L418.0,1296.2L418.0,1290.9ZM434.0,1276.4L439.5,1276.4L453.0,1289.4L453.0,1294.7L439.5,1307.7L434.0,1307.7L420.6,1294.7L420.6,1289.4ZM436.2,1274.3L441.7,1274.3L455.2,1287.3L455.2,1292.6L441.7,1305.6L436.2,1305.6L422.8,1292.6L422.8,1287.3ZM438.4,1272.3L443.9,1272.3L457.4,1285.3L457.4,1290.6L443.9,1303.6L438.4,1303.6L425.0,1290.6L425.0,1285.3ZM440.6,1270.3L446.1,1270.3L459.6,1283.3L459.6,1288.6L446.1,1301.5L440.6,1301.5L427.2,1288.6L427.2,1283.3ZM442.8,1268.2L448.3,1268.2L461.8,1281.2L461.8,1286.5L448.3,1299.5L442.8,1299.5L429.4,1286.5L429.4,1281.2ZM445.0,1266.2L450.5,1266.2L464.0,1279.2L464.0,1284.5L450.5,1297.5L445.0,1297.5L431.6,1284.5L431.6,1279.2ZM447.2,1264.2L452.7,1264.2L466.2,1277.1L466.2,1282.5L452.7,1295.4L447.2,1295.4L433.8,1282.5L433.8,1277.1ZM449.4,1262.1L454.9,1262.1L468.4,1275.1L468.4,1280.4L454.9,1293.4L449.4,1293.4L436.0,1280.4L436.0,1275.1ZM451.6,1260.1L457.1,1260.1L470.6,1273.1L470.6,1278.4L457.1,1291.4L451.6,1291.4L438.2,1278.4L438.2,1273.1ZM453.7,1258.0L459.2,1258.0L472.7,1270.9L472.7,1276.2L459.2,1289.2L453.7,1289.2L440.3,1276.2L440.3,1270.9ZM455.8,1255.8L461.3,1255.8L474.7,1268.7L474.7,1274.1L461.3,1287.0L455.8,1287.0L442.3,1274.1L442.3,1268.7ZM457.8,1253.6L463.3,1253.6L476.8,1266.6L476.8,1271.9L463.3,1284.9L457.8,1284.9L444.4,1271.9L444.4,1266.6ZM459.9,1251.4L465.4,1251.4L478.8,1264.4L478.8,1269.7L465.4,1282.7L459.9,1282.7L446.4,1269.7L446.4,1264.4ZM461.9,1249.2L467.4,1249.2L480.9,1262.2L480.9,1267.5L467.4,1280.5L461.9,1280.5L448.5,1267.5L448.5,1262.2ZM464.0,1247.0L469.5,1247.0L482.9,1260.0L482.9,1265.3L469.5,1278.3L464.0,1278.3L450.5,1265.3L450.5,1260.0ZM466.0,1244.9L471.5,1244.9L485.0,1257.8L485.0,1263.1L471.5,1276.1L466.0,1276.1L452.6,1263.1L452.6,1257.8ZM468.1,1242.7L473.6,1242.7L487.0,1255.7L487.0,1261.0L473.6,1274.0L468.1,1274.0L454.6,1261.0L454.6,1255.7ZM470.2,1240.5L475.7,1240.5L489.1,1253.5L489.1,1258.8L475.7,1271.8L470.2,1271.8L456.7,1258.8L456.7,1253.5ZM472.3,1238.4L477.8,1238.4L491.2,1251.4L491.2,1256.7L477.8,1269.7L472.3,1269.7L458.8,1256.7L458.8,1251.4ZM474.4,1236.3L479.9,1236.3L493.3,1249.2L493.3,1254.5L479.9,1267.5L474.4,1267.5L460.9,1254.5L460.9,1249.2ZM476.8,1233.8L482.2,1233.8L495.7,1246.8L495.7,1252.1L482.2,1265.1L476.8,1265.1L463.3,1252.1L463.3,1246.8ZM481.8,1226.3L487.2,1226.3L500.7,1239.3L500.7,1244.6L487.2,1257.6L481.8,1257.6L468.3,1244.6L468.3,1239.3ZM485.1,1219.7L490.6,1219.7L504.0,1232.7L504.0,1238.0L490.6,1251.0L485.1,1251.0L471.6,1238.0L471.6,1232.7ZM490.1,1211.5L495.6,1211.5L509.0,1224.4L509.0,1229.7L495.6,1242.7L490.1,1242.7L476.6,1229.7L476.6,1224.4ZM494.1,1204.0L499.6,1204.0L513.1,1217.0L513.1,1222.3L499.6,1235.2L494.1,1235.2L480.7,1222.3L480.7,1217.0ZM498.4,1195.7L503.9,1195.7L517.3,1208.7L517.3,1214.0L503.9,1227.0L498.4,1227.0L484.9,1214.0L484.9,1208.7ZM503.2,1185.8L508.8,1185.8L522.2,1198.8L522.2,1204.1L508.8,1217.1L503.2,1217.1L489.8,1204.1L489.8,1198.8ZM506.6,1176.7L512.1,1176.7L525.6,1189.6L525.6,1195.0L512.1,1207.9L506.6,1207.9L493.2,1195.0L493.2,1189.6ZM511.5,1166.0L517.0,1166.0L530.5,1179.0L530.5,1184.3L517.0,1197.3L511.5,1197.3L498.1,1184.3L498.1,1179.0ZM516.5,1155.2L522.0,1155.2L535.5,1168.2L535.5,1173.5L522.0,1186.5L516.5,1186.5L503.1,1173.5L503.1,1168.2ZM521.5,1144.5L527.0,1144.5L540.5,1157.5L540.5,1162.8L527.0,1175.7L521.5,1175.7L508.1,1162.8L508.1,1157.5ZM526.6,1131.5L532.1,1131.5L545.6,1144.5L545.6,1149.8L532.1,1162.8L526.6,1162.8L513.2,1149.8L513.2,1144.5ZM530.8,1118.7L536.3,1118.7L549.8,1131.7L549.8,1137.0L536.3,1149.9L530.8,1149.9L517.4,1137.0L517.4,1131.7ZM535.5,1104.1L541.0,1104.1L554.5,1117.0L554.5,1122.4L541.0,1135.3L535.5,1135.3L522.1,1122.4L522.1,1117.0ZM543.5,1089.6L549.0,1089.6L562.4,1102.5L562.4,1107.8L549.0,1120.8L543.5,1120.8L530.0,1107.8L530.0,1102.5ZM550.3,1073.4L555.8,1073.4L569.2,1086.4L569.2,1091.7L555.8,1104.6L550.3,1104.6L536.8,1091.7L536.8,1086.4ZM556.2,1057.4L561.7,1057.4L575.2,1070.4L575.2,1075.7L561.7,1088.7L556.2,1088.7L542.8,1075.7L542.8,1070.4ZM563.2,1039.8L568.7,1039.8L582.1,1052.8L582.1,1058.1L568.7,1071.1L563.2,1071.1L549.7,1058.1L549.7,1052.8ZM571.0,1022.8L576.5,1022.8L590.0,1035.8L590.0,1041.1L576.5,1054.1L571.0,1054.1L557.5,1041.1L557.5,1035.8ZM579.7,1002.2L585.2,1002.2L598.6,1015.2L598.6,1020.5L585.2,1033.5L579.7,1033.5L566.2,1020.5L566.2,1015.2ZM589.1,979.9L594.6,979.9L608.1,992.9L608.1,998.2L594.6,1011.2L589.1,1011.2L575.7,998.2L575.7,992.9ZM600.5,956.8L606.0,956.8L619.5,969.7L619.5,975.0L606.0,988.0L600.5,988.0L587.1,975.0L587.1,969.7ZM612.7,933.6L618.2,933.6L631.6,946.6L631.6,951.9L618.2,964.8L612.7,964.8L599.2,951.9L599.2,946.6ZM626.8,908.4L632.3,908.4L645.8,921.4L645.8,926.7L632.3,939.6L626.8,939.6L613.4,926.7L613.4,921.4ZM643.7,882.4L649.2,882.4L662.6,895.4L662.6,900.7L649.2,913.6L643.7,913.6L630.2,900.7L630.2,895.4ZM654.2,851.4L659.8,851.4L673.2,864.3L673.2,869.7L659.8,882.6L654.2,882.6L640.8,869.7L640.8,864.3ZM677.2,823.6L682.8,823.6L696.2,836.5L696.2,841.9L682.8,854.8L677.2,854.8L663.8,841.9L663.8,836.5ZM701.0,795.0L706.5,795.0L720.0,807.9L720.0,813.3L706.5,826.2L701.0,826.2L687.6,813.3L687.6,807.9ZM727.8,763.3L733.2,763.3L746.7,776.2L746.7,781.6L733.2,794.5L727.8,794.5L714.3,781.6L714.3,776.2ZM757.8,731.0L763.2,731.0L776.7,743.9L776.7,749.3L763.2,762.2L757.8,762.2L744.3,749.3L744.3,743.9ZM790.9,699.6L796.4,699.6L809.8,712.5L809.8,717.9L796.4,730.8L790.9,730.8L777.4,717.9L777.4,712.5ZM827.4,666.5L832.9,666.5L846.3,679.4L846.3,684.8L832.9,697.7L827.4,697.7L813.9,684.8L813.9,679.4ZM868.0,635.6L873.5,635.6L887.0,648.5L887.0,653.9L873.5,666.8L868.0,666.8L854.6,653.9L854.6,648.5ZM914.4,604.7L919.9,604.7L933.3,617.6L933.3,623.0L919.9,635.9L914.4,635.9L900.9,623.0L900.9,617.6ZM964.9,575.3L970.4,575.3L983.8,588.2L983.8,593.6L970.4,606.5L964.9,606.5L951.4,593.6L951.4,588.2ZM1021.0,549.2L1026.5,549.2L1040.0,562.1L1040.0,567.5L1026.5,580.4L1021.0,580.4L1007.6,567.5L1007.6,562.1ZM1081.2,521.4L1086.7,521.4L1100.1,534.3L1100.1,539.7L1086.7,552.6L1081.2,552.6L1067.7,539.7L1067.7,534.3ZM1147.8,504.2L1153.2,504.2L1166.7,517.1L1166.7,522.5L1153.2,535.4L1147.8,535.4L1134.3,522.5L1134.3,517.1ZM1218.0,489.9L1223.5,489.9L1236.9,502.8L1236.9,508.2L1223.5,521.1L1218.0,521.1L1204.5,508.2L1204.5,502.8ZM1292.2,481.6L1297.8,481.6L1311.2,494.5L1311.2,499.9L1297.8,512.8L1292.2,512.8L1278.8,499.9L1278.8,494.5ZM1368.8,480.9L1374.2,480.9L1387.7,493.8L1387.7,499.2L1374.2,512.1L1368.8,512.1L1355.3,499.2L1355.3,493.8ZM1446.8,488.4L1452.2,488.4L1465.7,501.3L1465.7,506.7L1452.2,519.6L1446.8,519.6L1433.3,506.7L1433.3,501.3ZM1523.0,504.5L1528.5,504.5L1541.9,517.4L1541.9,522.8L1528.5,535.7L1523.0,535.7L1509.5,522.8L1509.5,517.4ZM1594.8,538.2L1600.2,538.2L1613.7,551.1L1613.7,556.5L1600.2,569.4L1594.8,569.4L1581.3,556.5L1581.3,551.1ZM1664.0,570.5L1669.5,570.5L1683.0,583.4L1683.0,588.8L1669.5,601.7L1664.0,601.7L1650.6,588.8L1650.6,583.4ZM1726.2,608.6L1731.8,608.6L1745.2,621.5L1745.2,626.9L1731.8,639.8L1726.2,639.8L1712.8,626.9L1712.8,621.5ZM1782.0,653.2L1787.5,653.2L1800.9,666.1L1800.9,671.5L1787.5,684.4L1782.0,684.4L1768.5,671.5L1768.5,666.1ZM1830.2,700.2L1835.8,700.2L1849.2,713.1L1849.2,718.5L1835.8,731.4L1830.2,731.4L1816.8,718.5L1816.8,713.1ZM1870.8,750.4L1876.2,750.4L1889.7,763.3L1889.7,768.7L1876.2,781.6L1870.8,781.6L1857.3,768.7L1857.3,763.3ZM1902.2,801.4L1907.8,801.4L1921.2,814.3L1921.2,819.7L1907.8,832.6L1902.2,832.6L1888.8,819.7L1888.8,814.3ZM1927.2,851.8L1932.7,851.8L1946.1,864.7L1946.1,870.1L1932.7,883.0L1927.2,883.0L1913.7,870.1L1913.7,864.7ZM1944.0,900.3L1949.5,900.3L1963.0,913.2L1963.0,918.6L1949.5,931.5L1944.0,931.5L1930.6,918.6L1930.6,913.2ZM1955.2,945.9L1960.8,945.9L1974.2,958.8L1974.2,964.2L1960.8,977.1L1955.2,977.1L1941.8,964.2L1941.8,958.8ZM1961.5,987.3L1967.0,987.3L1980.5,1000.2L1980.5,1005.6L1967.0,1018.5L1961.5,1018.5L1948.1,1005.6L1948.1,1000.2ZM1963.8,1026.2L1969.3,1026.2L1982.8,1039.1L1982.8,1044.5L1969.3,1057.4L1963.8,1057.4L1950.4,1044.5L1950.4,1039.1ZM1963.8,1061.9L1969.3,1061.9L1982.8,1074.8L1982.8,1080.2L1969.3,1093.1L1963.8,1093.1L1950.4,1080.2L1950.4,1074.8ZM1960.2,1094.2L1965.7,1094.2L1979.1,1107.1L1979.1,1112.5L1965.7,1125.4L1960.2,1125.4L1946.7,1112.5L1946.7,1107.1ZM1955.3,1122.3L1960.8,1122.3L1974.3,1135.2L1974.3,1140.6L1960.8,1153.5L1955.3,1153.5L1941.9,1140.6L1941.9,1135.2ZM1948.3,1146.1L1953.8,1146.1L1967.3,1159.0L1967.3,1164.4L1953.8,1177.3L1948.3,1177.3L1934.9,1164.4L1934.9,1159.0ZM1941.3,1166.6L1946.8,1166.6L1960.3,1179.5L1960.3,1184.9L1946.8,1197.8L1941.3,1197.8L1927.9,1184.9L1927.9,1179.5ZM1933.8,1185.4L1939.2,1185.4L1952.7,1198.3L1952.7,1203.7L1939.2,1216.6L1933.8,1216.6L1920.3,1203.7L1920.3,1198.3ZM1926.2,1201.4L1931.8,1201.4L1945.2,1214.3L1945.2,1219.7L1931.8,1232.6L1926.2,1232.6L1912.8,1219.7L1912.8,1214.3ZM1920.0,1213.9L1925.5,1213.9L1939.0,1226.8L1939.0,1232.2L1925.5,1245.1L1920.0,1245.1L1906.6,1232.2L1906.6,1226.8ZM1912.0,1225.4L1917.5,1225.4L1931.0,1238.3L1931.0,1243.7L1917.5,1256.6L1912.0,1256.6L1898.6,1243.7L1898.6,1238.3ZM1910.0,1228.2L1915.5,1228.2L1929.0,1241.2L1929.0,1246.5L1915.5,1259.5L1910.0,1259.5L1896.6,1246.5L1896.6,1241.2ZM1908.0,1231.1L1913.5,1231.1L1927.0,1244.1L1927.0,1249.4L1913.5,1262.3L1908.0,1262.3L1894.6,1249.4L1894.6,1244.1ZM1906.0,1233.9L1911.5,1233.9L1924.9,1246.9L1924.9,1252.2L1911.5,1265.2L1906.0,1265.2L1892.5,1252.2L1892.5,1246.9ZM1904.0,1236.8L1909.5,1236.8L1922.9,1249.8L1922.9,1255.1L1909.5,1268.1L1904.0,1268.1L1890.5,1255.1L1890.5,1249.8ZM1901.9,1239.7L1907.4,1239.7L1920.9,1252.6L1920.9,1257.9L1907.4,1270.9L1901.9,1270.9L1888.5,1257.9L1888.5,1252.6ZM1899.9,1242.5L1905.4,1242.5L1918.9,1255.5L1918.9,1260.8L1905.4,1273.8L1899.9,1273.8L1886.5,1260.8L1886.5,1255.5ZM1897.8,1245.3L1903.3,1245.3L1916.8,1258.3L1916.8,1263.6L1903.3,1276.6L1897.8,1276.6L1884.4,1263.6L1884.4,1258.3ZM1895.4,1247.8L1900.9,1247.8L1914.3,1260.8L1914.3,1266.1L1900.9,1279.1L1895.4,1279.1L1881.9,1266.1L1881.9,1260.8ZM1892.9,1250.3L1898.4,1250.3L1911.8,1263.3L1911.8,1268.6L1898.4,1281.5L1892.9,1281.5L1879.4,1268.6L1879.4,1263.3ZM1890.4,1252.8L1895.9,1252.8L1909.4,1265.7L1909.4,1271.0L1895.9,1284.0L1890.4,1284.0L1877.0,1271.0L1877.0,1265.7ZM1888.0,1255.2L1893.5,1255.2L1906.9,1268.2L1906.9,1273.5L1893.5,1286.5L1888.0,1286.5L1874.5,1273.5L1874.5,1268.2ZM1885.6,1257.8L1891.1,1257.8L1904.6,1270.8L1904.6,1276.1L1891.1,1289.1L1885.6,1289.1L1872.2,1276.1L1872.2,1270.8ZM1883.2,1260.4L1888.7,1260.4L1902.2,1273.4L1902.2,1278.7L1888.7,1291.7L1883.2,1291.7L1869.8,1278.7L1869.8,1273.4ZM1880.9,1263.0L1886.4,1263.0L1899.8,1276.0L1899.8,1281.3L1886.4,1294.3L1880.9,1294.3L1867.4,1281.3L1867.4,1276.0ZM1878.5,1265.6L1884.0,1265.6L1897.5,1278.6L1897.5,1283.9L1884.0,1296.9L1878.5,1296.9L1865.1,1283.9L1865.1,1278.6ZM1876.2,1268.2L1881.7,1268.2L1895.1,1281.2L1895.1,1286.5L1881.7,1299.4L1876.2,1299.4L1862.7,1286.5L1862.7,1281.2ZM1873.8,1270.8L1879.3,1270.8L1892.8,1283.7L1892.8,1289.0L1879.3,1302.0L1873.8,1302.0L1860.4,1289.0L1860.4,1283.7ZM1873.2,1271.4L1878.8,1271.4L1892.2,1284.3L1892.2,1289.7L1878.8,1302.6L1873.2,1302.6L1859.8,1289.7L1859.8,1284.3ZM1873.2,1271.4L1878.8,1271.4L1892.2,1284.3L1892.2,1289.7L1878.8,1302.6L1873.2,1302.6L1859.8,1289.7L1859.8,1284.3ZM1873.2,1271.4L1878.8,1271.4L1892.2,1284.3L1892.2,1289.7L1878.8,1302.6L1873.2,1302.6L1859.8,1289.7L1859.8,1284.3ZM1873.2,1271.4L1878.8,1271.4L1892.2,1284.3L1892.2,1289.7L1878.8,1302.6L1873.2,1302.6L1859.8,1289.7L1859.8,1284.3ZM1873.2,1271.4L1878.8,1271.4L1892.2,1284.3L1892.2,1289.7L1878.8,1302.6L1873.2,1302.6L1859.8,1289.7L1859.8,1284.3ZM1873.2,1271.4L1878.8,1271.4L1892.2,1284.3L1892.2,1289.7L1878.8,1302.6L1873.2,1302.6L1859.8,1289.7L1859.8,1284.3ZM1873.2,1271.4L1878.8,1271.4L1892.2,1284.3L1892.2,1289.7L1878.8,1302.6L1873.2,1302.6L1859.8,1289.7L1859.8,1284.3ZM1873.2,1271.4L1878.8,1271.4L1892.2,1284.3L1892.2,1289.7L1878.8,1302.6L1873.2,1302.6L1859.8,1289.7L1859.8,1284.3ZM1873.2,1271.4L1878.8,1271.4L1892.2,1284.3L1892.2,1289.7L1878.8,1302.6L1873.2,1302.6L1859.8,1289.7L1859.8,1284.3Z" fill="#ff6600"/>
<g><path d="M404.1,1291.3L409.6,1291.3L423.0,1304.3L423.0,1309.6L409.6,1322.6L404.1,1322.6L390.6,1309.6L390.6,1304.3Z" fill="#008000"/><path d="M406.3,1300.1L407.3,1300.1L413.6,1306.4L413.6,1307.4L407.3,1313.7L406.3,1313.7L400.0,1307.4L400.0,1306.4Z" fill="#00b050"/><path d="M404.1,1291.3L409.6,1291.3L423.0,1304.3L423.0,1309.6L409.6,1322.6L404.1,1322.6L390.6,1309.6L390.6,1304.3Z" fill="#008000"/><path d="M406.3,1300.1L407.3,1300.1L413.6,1306.4L413.6,1307.4L407.3,1313.7L406.3,1313.7L400.0,1307.4L400.0,1306.4Z" fill="#00b050"/><path d="M404.1,1291.3L409.6,1291.3L423.0,1304.3L423.0,1309.6L409.6,1322.6L404.1,1322.6L390.6,1309.6L390.6,1304.3Z" fill="#008000"/><path d="M406.3,1300.1L407.3,1300.1L413.6,1306.4L413.6,1307.4L407.3,1313.7L406.3,1313.7L400.0,1307.4L400.0,1306.4Z" fill="#00b050"/><path d="M404.1,1291.3L409.6,1291.3L423.0,1304.3L423.0,1309.6L409.6,1322.6L404.1,1322.6L390.6,1309.6L390.6,1304.3Z" fill="#008000"/><path d="M406.3,1300.1L407.3,1300.1L413.6,1306.4L413.6,1307.4L407.3,1313.7L406.3,1313.7L400.0,1307.4L400.0,1306.4Z" fill="#00b050"/><path d="M404.1,1291.3L409.6,1291.3L423.0,1304.3L423.0,1309.6L409.6,1322.6L404.1,1322.6L390.6,1309.6L390.6,1304.3Z" fill="#008000"/><path d="M406.3,1300.1L407.3,1300.1L413.6,1306.4L413.6,1307.4L407.3,1313.7L406.3,1313.7L400.0,1307.4L400.0,1306.4Z" fill="#00b050"/><path d="M404.1,1291.3L409.6,1291.3L423.0,1304.3L423.0,1309.6L409.6,1322.6L404.1,1322.6L390.6,1309.6L390.6,1304.3Z" fill="#008000"/><path d="M406.3,1300.1L407.3,1300.1L413.6,1306.4L413.6,1307.4L407.3,1313.7L406.3,1313.7L400.0,1307.4L400.0,1306.4Z" fill="#00b050"/><path d="M404.1,1291.3L409.6,1291.3L423.0,1304.3L423.0,1309.6L409.6,1322.6L404.1,1322.6L390.6,1309.6L390.6,1304.3Z" fill="#008000"/><path d="M406.3,1300.1L407.3,1300.1L413.6,1306.4L413.6,1307.4L407.3,1313.7L406.3,1313.7L400.0,1307.4L400.0,1306.4Z" fill="#00b050"/><path d="M404.1,1291.3L409.6,1291.3L423.0,1304.3L423.0,1309.6L409.6,1322.6L404.1,1322.6L390.6,1309.6L390.6,1304.3Z" fill="#008000"/><path d="M406.3,1300.1L407.3,1300.1L413.6,1306.4L413.6,1307.4L407.3,1313.7L406.3,1313.7L400.0,1307.4L400.0,1306.4Z" fill="#00b050"/><path d="M404.1,1291.3L409.6,1291.3L423.0,1304.3L423.0,1309.6L409.6,1322.6L404.1,1322.6L390.6,1309.6L390.6,1304.3Z" fill="#008000"/><path d="M406.3,1300.1L407.3,1300.1L413.6,1306.4L413.6,1307.4L407.3,1313.7L406.3,1313.7L400.0,1307.4L400.0,1306.4Z" fill="#00b050"/><path d="M406.7,1289.8L412.2,1289.8L425.6,1302.8L425.6,1308.1L412.2,1321.1L406.7,1321.1L393.2,1308.1L393.2,1302.8Z" fill="#008000"/><path d="M408.9,1298.6L409.9,1298.6L416.2,1304.9L416.2,1305.9L409.9,1312.2L408.9,1312.2L402.6,1305.9L402.6,1304.9Z" fill="#00b050"/><path d="M409.2,1288.3L414.7,1288.3L428.2,1301.3L428.2,1306.6L414.7,1319.5L409.2,1319.5L395.8,1306.6L395.8,1301.3Z" fill="#008000"/><path d="M411.5,1297.1L412.5,1297.1L418.8,1303.4L418.8,1304.4L412.5,1310.7L411.5,1310.7L405.2,1304.4L405.2,1303.4Z" fill="#00b050"/><path d="M411.8,1286.8L417.3,1286.8L430.7,1299.7L430.7,1305.0L417.3,1318.0L411.8,1318.0L398.3,1305.0L398.3,1299.7Z" fill="#008000"/><path d="M414.0,1295.6L415.0,1295.6L421.3,1301.9L421.3,1302.9L415.0,1309.2L414.0,1309.2L407.7,1302.9L407.7,1301.9Z" fill="#00b050"/><path d="M414.4,1285.2L419.9,1285.2L433.3,1298.2L433.3,1303.5L419.9,1316.5L414.4,1316.5L400.9,1303.5L400.9,1298.2Z" fill="#008000"/><path d="M416.6,1294.1L417.6,1294.1L423.9,1300.4L423.9,1301.4L417.6,1307.7L416.6,1307.7L410.3,1301.4L410.3,1300.4Z" fill="#00b050"/><path d="M417.0,1283.8L422.5,1283.8L435.9,1296.7L435.9,1302.0L422.5,1315.0L417.0,1315.0L403.5,1302.0L403.5,1296.7Z" fill="#008000"/><path d="M419.2,1292.6L420.2,1292.6L426.5,1298.9L426.5,1299.9L420.2,1306.2L419.2,1306.2L412.9,1299.9L412.9,1298.9Z" fill="#00b050"/><path d="M419.6,1282.3L425.1,1282.3L438.5,1295.3L438.5,1300.6L425.1,1313.6L419.6,1313.6L406.1,1300.6L406.1,1295.3Z" fill="#008000"/><path d="M421.8,1291.2L422.8,1291.2L429.1,1297.5L429.1,1298.5L422.8,1304.8L421.8,1304.8L415.5,1298.5L415.5,1297.5Z" fill="#00b050"/><path d="M422.2,1280.9L427.7,1280.9L441.2,1293.9L441.2,1299.2L427.7,1312.2L422.2,1312.2L408.8,1299.2L408.8,1293.9Z" fill="#008000"/><path d="M424.5,1289.8L425.5,1289.8L431.8,1296.1L431.8,1297.1L425.5,1303.4L424.5,1303.4L418.2,1297.1L418.2,1296.1Z" fill="#00b050"/><path d="M424.9,1279.5L430.4,1279.5L443.8,1292.5L443.8,1297.8L430.4,1310.8L424.9,1310.8L411.4,1297.8L411.4,1292.5Z" fill="#008000"/><path d="M427.1,1288.4L428.1,1288.4L434.4,1294.7L434.4,1295.7L428.1,1302.0L427.1,1302.0L420.8,1295.7L420.8,1294.7Z" fill="#00b050"/><path d="M427.5,1278.1L433.0,1278.1L446.4,1291.1L446.4,1296.4L433.0,1309.4L427.5,1309.4L414.0,1296.4L414.0,1291.1Z" fill="#008000"/><path d="M429.7,1286.9L430.7,1286.9L437.0,1293.2L437.0,1294.2L430.7,1300.5L429.7,1300.5L423.4,1294.2L423.4,1293.2Z" fill="#00b050"/><path d="M430.1,1276.7L435.6,1276.7L449.1,1289.7L449.1,1295.0L435.6,1308.0L430.1,1308.0L416.7,1295.0L416.7,1289.7Z" fill="#008000"/><path d="M432.4,1285.5L433.4,1285.5L439.7,1291.8L439.7,1292.8L433.4,1299.1L432.4,1299.1L426.1,1292.8L426.1,1291.8Z" fill="#00b050"/><path d="M432.7,1275.2L438.2,1275.2L451.6,1288.1L451.6,1293.5L438.2,1306.4L432.7,1306.4L419.2,1293.5L419.2,1288.1Z" fill="#008000"/><path d="M434.9,1284.0L435.9,1284.0L442.2,1290.3L442.2,1291.3L435.9,1297.6L434.9,1297.6L428.6,1291.3L428.6,1290.3Z" fill="#00b050"/><path d="M434.8,1273.1L440.3,1273.1L453.8,1286.1L453.8,1291.4L440.3,1304.4L434.8,1304.4L421.4,1291.4L421.4,1286.1Z" fill="#008000"/><path d="M437.1,1281.9L438.1,1281.9L444.4,1288.2L444.4,1289.2L438.1,1295.5L437.1,1295.5L430.8,1289.2L430.8,1288.2Z" fill="#00b050"/><path d="M437.0,1271.1L442.5,1271.1L455.9,1284.0L455.9,1289.3L442.5,1302.3L437.0,1302.3L423.5,1289.3L423.5,1284.0Z" fill="#008000"/><path d="M439.2,1279.9L440.2,1279.9L446.5,1286.2L446.5,1287.2L440.2,1293.5L439.2,1293.5L432.9,1287.2L432.9,1286.2Z" fill="#00b050"/><path d="M439.2,1269.0L444.7,1269.0L458.1,1282.0L458.1,1287.3L444.7,1300.3L439.2,1300.3L425.7,1287.3L425.7,1282.0Z" fill="#008000"/><path d="M441.4,1277.8L442.4,1277.8L448.7,1284.1L448.7,1285.1L442.4,1291.4L441.4,1291.4L435.1,1285.1L435.1,1284.1Z" fill="#00b050"/><path d="M441.3,1267.0L446.8,1267.0L460.3,1279.9L460.3,1285.2L446.8,1298.2L441.3,1298.2L427.9,1285.2L427.9,1279.9Z" fill="#008000"/><path d="M443.6,1275.8L444.6,1275.8L450.9,1282.1L450.9,1283.1L444.6,1289.4L443.6,1289.4L437.3,1283.1L437.3,1282.1Z" fill="#00b050"/><path d="M443.5,1264.9L449.0,1264.9L462.5,1277.9L462.5,1283.2L449.0,1296.2L443.5,1296.2L430.1,1283.2L430.1,1277.9Z" fill="#008000"/><path d="M445.8,1273.7L446.8,1273.7L453.1,1280.0L453.1,1281.0L446.8,1287.3L445.8,1287.3L439.5,1281.0L439.5,1280.0Z" fill="#00b050"/><path d="M445.7,1262.9L451.2,1262.9L464.6,1275.8L464.6,1281.1L451.2,1294.1L445.7,1294.1L432.2,1281.1L432.2,1275.8Z" fill="#008000"/><path d="M447.9,1271.7L448.9,1271.7L455.2,1278.0L455.2,1279.0L448.9,1285.3L447.9,1285.3L441.6,1279.0L441.6,1278.0Z" fill="#00b050"/><path d="M447.8,1260.8L453.3,1260.8L466.8,1273.8L466.8,1279.1L453.3,1292.1L447.8,1292.1L434.4,1279.1L434.4,1273.8Z" fill="#008000"/><path d="M450.1,1269.6L451.1,1269.6L457.4,1275.9L457.4,1276.9L451.1,1283.2L450.1,1283.2L443.8,1276.9L443.8,1275.9Z" fill="#00b050"/><path d="M450.0,1258.7L455.5,1258.7L469.0,1271.7L469.0,1277.0L455.5,1290.0L450.0,1290.0L436.6,1277.0L436.6,1271.7Z" fill="#008000"/><path d="M452.3,1267.6L453.3,1267.6L459.6,1273.9L459.6,1274.9L453.3,1281.2L452.3,1281.2L446.0,1274.9L446.0,1273.9Z" fill="#00b050"/><path d="M452.1,1256.6L457.6,1256.6L471.0,1269.6L471.0,1274.9L457.6,1287.9L452.1,1287.9L438.6,1274.9L438.6,1269.6Z" fill="#008000"/><path d="M454.3,1265.4L455.3,1265.4L461.6,1271.7L461.6,1272.7L455.3,1279.0L454.3,1279.0L448.0,1272.7L448.0,1271.7Z" fill="#00b050"/><path d="M454.1,1254.4L459.6,1254.4L473.0,1267.4L473.0,1272.7L459.6,1285.7L454.1,1285.7L440.6,1272.7L440.6,1267.4Z" fill="#008000"/><path d="M456.3,1263.2L457.3,1263.2L463.6,1269.5L463.6,1270.5L457.3,1276.8L456.3,1276.8L450.0,1270.5L450.0,1269.5Z" fill="#00b050"/><path d="M456.1,1252.2L461.6,1252.2L475.1,1265.2L475.1,1270.5L461.6,1283.5L456.1,1283.5L442.7,1270.5L442.7,1265.2Z" fill="#008000"/><path d="M458.4,1261.0L459.4,1261.0L465.7,1267.3L465.7,1268.3L459.4,1274.6L458.4,1274.6L452.1,1268.3L452.1,1267.3Z" fill="#00b050"/><path d="M458.1,1250.0L463.6,1250.0L477.1,1263.0L477.1,1268.3L463.6,1281.3L458.1,1281.3L444.7,1268.3L444.7,1263.0Z" fill="#008000"/><path d="M460.4,1258.8L461.4,1258.8L467.7,1265.1L467.7,1266.1L461.4,1272.4L460.4,1272.4L454.1,1266.1L454.1,1265.1Z" fill="#00b050"/><path d="M460.2,1247.8L465.7,1247.8L479.1,1260.8L479.1,1266.1L465.7,1279.1L460.2,1279.1L446.7,1266.1L446.7,1260.8Z" fill="#008000"/><path d="M462.4,1256.6L463.4,1256.6L469.7,1262.9L469.7,1263.9L463.4,1270.2L462.4,1270.2L456.1,1263.9L456.1,1262.9Z" fill="#00b050"/><path d="M462.2,1245.6L467.7,1245.6L481.1,1258.6L481.1,1263.9L467.7,1276.9L462.2,1276.9L448.7,1263.9L448.7,1258.6Z" fill="#008000"/><path d="M464.4,1254.4L465.4,1254.4L471.7,1260.7L471.7,1261.7L465.4,1268.0L464.4,1268.0L458.1,1261.7L458.1,1260.7Z" fill="#00b050"/><path d="M464.2,1243.4L469.7,1243.4L483.2,1256.4L483.2,1261.7L469.7,1274.7L464.2,1274.7L450.8,1261.7L450.8,1256.4Z" fill="#008000"/><path d="M466.5,1252.2L467.5,1252.2L473.8,1258.5L473.8,1259.5L467.5,1265.8L466.5,1265.8L460.2,1259.5L460.2,1258.5Z" fill="#00b050"/><path d="M466.2,1241.2L471.7,1241.2L485.2,1254.2L485.2,1259.5L471.7,1272.5L466.2,1272.5L452.8,1259.5L452.8,1254.2Z" fill="#008000"/><path d="M468.5,1250.0L469.5,1250.0L475.8,1256.3L475.8,1257.3L469.5,1263.6L468.5,1263.6L462.2,1257.3L462.2,1256.3Z" fill="#00b050"/><path d="M468.3,1239.0L473.8,1239.0L487.2,1252.0L487.2,1257.3L473.8,1270.3L468.3,1270.3L454.8,1257.3L454.8,1252.0Z" fill="#008000"/><path d="M470.5,1247.9L471.5,1247.9L477.8,1254.2L477.8,1255.2L471.5,1261.5L470.5,1261.5L464.2,1255.2L464.2,1254.2Z" fill="#00b050"/><path d="M470.4,1236.9L475.9,1236.9L489.3,1249.9L489.3,1255.2L475.9,1268.2L470.4,1268.2L456.9,1255.2L456.9,1249.9Z" fill="#008000"/><path d="M472.6,1245.7L473.6,1245.7L479.9,1252.0L479.9,1253.0L473.6,1259.3L472.6,1259.3L466.3,1253.0L466.3,1252.0Z" fill="#00b050"/><path d="M472.4,1234.7L477.9,1234.7L491.4,1247.7L491.4,1253.0L477.9,1266.0L472.4,1266.0L459.0,1253.0L459.0,1247.7Z" fill="#008000"/><path d="M474.7,1243.6L475.7,1243.6L482.0,1249.9L482.0,1250.9L475.7,1257.2L474.7,1257.2L468.4,1250.9L468.4,1249.9Z" fill="#00b050"/><path d="M474.8,1232.2L480.3,1232.2L493.7,1245.2L493.7,1250.5L480.3,1263.5L474.8,1263.5L461.3,1250.5L461.3,1245.2Z" fill="#008000"/><path d="M477.0,1241.1L478.0,1241.1L484.3,1247.4L484.3,1248.4L478.0,1254.7L477.0,1254.7L470.7,1248.4L470.7,1247.4Z" fill="#00b050"/><path d="M479.7,1224.7L485.2,1224.7L498.6,1237.7L498.6,1243.0L485.2,1256.0L479.7,1256.0L466.2,1243.0L466.2,1237.7Z" fill="#008000"/><path d="M481.9,1233.5L482.9,1233.5L489.2,1239.8L489.2,1240.8L482.9,1247.1L481.9,1247.1L475.6,1240.8L475.6,1239.8Z" fill="#00b050"/><path d="M482.9,1218.1L488.4,1218.1L501.8,1231.1L501.8,1236.4L488.4,1249.3L482.9,1249.3L469.4,1236.4L469.4,1231.1Z" fill="#008000"/><path d="M485.1,1226.9L486.1,1226.9L492.4,1233.2L492.4,1234.2L486.1,1240.5L485.1,1240.5L478.8,1234.2L478.8,1233.2Z" fill="#00b050"/><path d="M487.8,1209.7L493.3,1209.7L506.7,1222.7L506.7,1228.0L493.3,1241.0L487.8,1241.0L474.3,1228.0L474.3,1222.7Z" fill="#008000"/><path d="M490.0,1218.6L491.0,1218.6L497.3,1224.9L497.3,1225.9L491.0,1232.2L490.0,1232.2L483.7,1225.9L483.7,1224.9Z" fill="#00b050"/><path d="M491.8,1202.2L497.3,1202.2L510.7,1215.2L510.7,1220.5L497.3,1233.5L491.8,1233.5L478.3,1220.5L478.3,1215.2Z" fill="#008000"/><path d="M494.0,1211.0L495.0,1211.0L501.3,1217.3L501.3,1218.3L495.0,1224.6L494.0,1224.6L487.7,1218.3L487.7,1217.3Z" fill="#00b050"/><path d="M495.8,1193.9L501.3,1193.9L514.8,1206.8L514.8,1212.2L501.3,1225.1L495.8,1225.1L482.4,1212.2L482.4,1206.8Z" fill="#008000"/><path d="M498.1,1202.7L499.1,1202.7L505.4,1209.0L505.4,1210.0L499.1,1216.3L498.1,1216.3L491.8,1210.0L491.8,1209.0Z" fill="#00b050"/><path d="M500.6,1183.9L506.1,1183.9L519.6,1196.9L519.6,1202.2L506.1,1215.2L500.6,1215.2L487.2,1202.2L487.2,1196.9Z" fill="#008000"/><path d="M502.9,1192.8L503.9,1192.8L510.2,1199.1L510.2,1200.1L503.9,1206.4L502.9,1206.4L496.6,1200.1L496.6,1199.1Z" fill="#00b050"/><path d="M503.9,1174.7L509.4,1174.7L522.8,1187.7L522.8,1193.0L509.4,1205.9L503.9,1205.9L490.4,1193.0L490.4,1187.7Z" fill="#008000"/><path d="M506.1,1183.5L507.1,1183.5L513.4,1189.8L513.4,1190.8L507.1,1197.1L506.1,1197.1L499.8,1190.8L499.8,1189.8Z" fill="#00b050"/><path d="M508.6,1163.9L514.1,1163.9L527.6,1176.9L527.6,1182.2L514.1,1195.2L508.6,1195.2L495.2,1182.2L495.2,1176.9Z" fill="#008000"/><path d="M510.9,1172.8L511.9,1172.8L518.2,1179.1L518.2,1180.1L511.9,1186.4L510.9,1186.4L504.6,1180.1L504.6,1179.1Z" fill="#00b050"/><path d="M513.5,1153.1L519.0,1153.1L532.4,1166.1L532.4,1171.4L519.0,1184.3L513.5,1184.3L500.0,1171.4L500.0,1166.1Z" fill="#008000"/><path d="M515.7,1161.9L516.7,1161.9L523.0,1168.2L523.0,1169.2L516.7,1175.5L515.7,1175.5L509.4,1169.2L509.4,1168.2Z" fill="#00b050"/><path d="M518.3,1142.2L523.8,1142.2L537.3,1155.2L537.3,1160.5L523.8,1173.5L518.3,1173.5L504.9,1160.5L504.9,1155.2Z" fill="#008000"/><path d="M520.6,1151.1L521.6,1151.1L527.9,1157.4L527.9,1158.4L521.6,1164.7L520.6,1164.7L514.3,1158.4L514.3,1157.4Z" fill="#00b050"/><path d="M523.9,1128.9L529.4,1128.9L542.9,1141.8L542.9,1147.2L529.4,1160.1L523.9,1160.1L510.5,1147.2L510.5,1141.8Z" fill="#008000"/><path d="M526.2,1137.7L527.2,1137.7L533.5,1144.0L533.5,1145.0L527.2,1151.3L526.2,1151.3L519.9,1145.0L519.9,1144.0Z" fill="#00b050"/><path d="M528.7,1115.6L534.2,1115.6L547.6,1128.6L547.6,1133.9L534.2,1146.9L528.7,1146.9L515.2,1133.9L515.2,1128.6Z" fill="#008000"/><path d="M530.9,1124.4L531.9,1124.4L538.2,1130.7L538.2,1131.7L531.9,1138.0L530.9,1138.0L524.6,1131.7L524.6,1130.7Z" fill="#00b050"/><path d="M534.0,1100.5L539.5,1100.5L552.9,1113.5L552.9,1118.8L539.5,1131.8L534.0,1131.8L520.5,1118.8L520.5,1113.5Z" fill="#008000"/><path d="M536.2,1109.4L537.2,1109.4L543.5,1115.7L543.5,1116.7L537.2,1123.0L536.2,1123.0L529.9,1116.7L529.9,1115.7Z" fill="#00b050"/><path d="M542.5,1085.6L548.0,1085.6L561.4,1098.5L561.4,1103.9L548.0,1116.8L542.5,1116.8L529.0,1103.9L529.0,1098.5Z" fill="#008000"/><path d="M544.7,1094.4L545.7,1094.4L552.0,1100.7L552.0,1101.7L545.7,1108.0L544.7,1108.0L538.4,1101.7L538.4,1100.7Z" fill="#00b050"/><path d="M550.0,1068.3L555.5,1068.3L568.9,1081.3L568.9,1086.6L555.5,1099.6L550.0,1099.6L536.5,1086.6L536.5,1081.3Z" fill="#008000"/><path d="M552.2,1077.1L553.2,1077.1L559.5,1083.4L559.5,1084.4L553.2,1090.7L552.2,1090.7L545.9,1084.4L545.9,1083.4Z" fill="#00b050"/><path d="M556.6,1051.3L562.1,1051.3L575.6,1064.2L575.6,1069.5L562.1,1082.5L556.6,1082.5L543.2,1069.5L543.2,1064.2Z" fill="#008000"/><path d="M558.9,1060.1L559.9,1060.1L566.2,1066.4L566.2,1067.4L559.9,1073.7L558.9,1073.7L552.6,1067.4L552.6,1066.4Z" fill="#00b050"/><path d="M564.4,1032.5L569.9,1032.5L583.3,1045.4L583.3,1050.7L569.9,1063.7L564.4,1063.7L550.9,1050.7L550.9,1045.4Z" fill="#008000"/><path d="M566.6,1041.3L567.6,1041.3L573.9,1047.6L573.9,1048.6L567.6,1054.9L566.6,1054.9L560.3,1048.6L560.3,1047.6Z" fill="#00b050"/><path d="M573.0,1014.4L578.5,1014.4L591.9,1027.4L591.9,1032.7L578.5,1045.6L573.0,1045.6L559.5,1032.7L559.5,1027.4Z" fill="#008000"/><path d="M575.2,1023.2L576.2,1023.2L582.5,1029.5L582.5,1030.5L576.2,1036.8L575.2,1036.8L568.9,1030.5L568.9,1029.5Z" fill="#00b050"/><path d="M582.4,993.8L587.9,993.8L601.4,1006.8L601.4,1012.1L587.9,1025.1L582.4,1025.1L569.0,1012.1L569.0,1006.8Z" fill="#008000"/><path d="M584.7,1002.6L585.7,1002.6L592.0,1008.9L592.0,1009.9L585.7,1016.2L584.7,1016.2L578.4,1009.9L578.4,1008.9Z" fill="#00b050"/><path d="M592.8,971.7L598.3,971.7L611.7,984.7L611.7,990.0L598.3,1002.9L592.8,1002.9L579.3,990.0L579.3,984.7Z" fill="#008000"/><path d="M595.0,980.5L596.0,980.5L602.3,986.8L602.3,987.8L596.0,994.1L595.0,994.1L588.7,987.8L588.7,986.8Z" fill="#00b050"/><path d="M605.1,948.6L610.6,948.6L624.1,961.6L624.1,966.9L610.6,979.9L605.1,979.9L591.7,966.9L591.7,961.6Z" fill="#008000"/><path d="M607.4,957.5L608.4,957.5L614.7,963.8L614.7,964.8L608.4,971.1L607.4,971.1L601.1,964.8L601.1,963.8Z" fill="#00b050"/><path d="M618.2,925.6L623.7,925.6L637.1,938.6L637.1,943.9L623.7,956.8L618.2,956.8L604.7,943.9L604.7,938.6Z" fill="#008000"/><path d="M620.4,934.4L621.4,934.4L627.7,940.7L627.7,941.7L621.4,948.0L620.4,948.0L614.1,941.7L614.1,940.7Z" fill="#00b050"/><path d="M634.5,900.5L640.0,900.5L653.5,913.5L653.5,918.8L640.0,931.7L634.5,931.7L621.1,918.8L621.1,913.5Z" fill="#008000"/><path d="M636.8,909.3L637.8,909.3L644.1,915.6L644.1,916.6L637.8,922.9L636.8,922.9L630.5,916.6L630.5,915.6Z" fill="#00b050"/><path d="M653.7,874.6L659.2,874.6L672.6,887.6L672.6,892.9L659.2,905.8L653.7,905.8L640.2,892.9L640.2,887.6Z" fill="#008000"/><path d="M655.9,883.4L656.9,883.4L663.2,889.7L663.2,890.7L656.9,897.0L655.9,897.0L649.6,890.7L649.6,889.7Z" fill="#00b050"/><path d="M677.2,840.4L682.8,840.4L696.2,853.3L696.2,858.7L682.8,871.6L677.2,871.6L663.8,858.7L663.8,853.3Z" fill="#008000"/><path d="M679.5,849.2L680.5,849.2L686.8,855.5L686.8,856.5L680.5,862.8L679.5,862.8L673.2,856.5L673.2,855.5Z" fill="#00b050"/><path d="M701.0,812.4L706.5,812.4L720.0,825.3L720.0,830.7L706.5,843.6L701.0,843.6L687.6,830.7L687.6,825.3Z" fill="#008000"/><path d="M703.3,821.2L704.3,821.2L710.6,827.5L710.6,828.5L704.3,834.8L703.3,834.8L697.0,828.5L697.0,827.5Z" fill="#00b050"/><path d="M727.8,784.3L733.2,784.3L746.7,797.2L746.7,802.6L733.2,815.5L727.8,815.5L714.3,802.6L714.3,797.2Z" fill="#008000"/><path d="M730.0,793.1L731.0,793.1L737.3,799.4L737.3,800.4L731.0,806.7L730.0,806.7L723.7,800.4L723.7,799.4Z" fill="#00b050"/><path d="M755.8,754.3L761.2,754.3L774.7,767.2L774.7,772.6L761.2,785.5L755.8,785.5L742.3,772.6L742.3,767.2Z" fill="#008000"/><path d="M758.0,763.1L759.0,763.1L765.3,769.4L765.3,770.4L759.0,776.7L758.0,776.7L751.7,770.4L751.7,769.4Z" fill="#00b050"/><path d="M789.5,724.6L795.0,724.6L808.4,737.5L808.4,742.9L795.0,755.8L789.5,755.8L776.0,742.9L776.0,737.5Z" fill="#008000"/><path d="M791.7,733.4L792.7,733.4L799.0,739.7L799.0,740.7L792.7,747.0L791.7,747.0L785.4,740.7L785.4,739.7Z" fill="#00b050"/><path d="M825.1,694.5L830.6,694.5L844.1,707.4L844.1,712.8L830.6,725.7L825.1,725.7L811.7,712.8L811.7,707.4Z" fill="#008000"/><path d="M827.4,703.3L828.4,703.3L834.7,709.6L834.7,710.6L828.4,716.9L827.4,716.9L821.1,710.6L821.1,709.6Z" fill="#00b050"/><path d="M865.2,663.7L870.8,663.7L884.2,676.6L884.2,682.0L870.8,694.9L865.2,694.9L851.8,682.0L851.8,676.6Z" fill="#008000"/><path d="M867.5,672.5L868.5,672.5L874.8,678.8L874.8,679.8L868.5,686.1L867.5,686.1L861.2,679.8L861.2,678.8Z" fill="#00b050"/><path d="M910.1,634.2L915.6,634.2L929.1,647.1L929.1,652.5L915.6,665.4L910.1,665.4L896.7,652.5L896.7,647.1Z" fill="#008000"/><path d="M912.4,643.0L913.4,643.0L919.7,649.3L919.7,650.3L913.4,656.6L912.4,656.6L906.1,650.3L906.1,649.3Z" fill="#00b050"/><path d="M959.2,608.4L964.8,608.4L978.2,621.3L978.2,626.7L964.8,639.6L959.2,639.6L945.8,626.7L945.8,621.3Z" fill="#008000"/><path d="M961.5,617.2L962.5,617.2L968.8,623.5L968.8,624.5L962.5,630.8L961.5,630.8L955.2,624.5L955.2,623.5Z" fill="#00b050"/><path d="M1014.1,583.7L1019.6,583.7L1033.1,596.6L1033.1,602.0L1019.6,614.9L1014.1,614.9L1000.7,602.0L1000.7,596.6Z" fill="#008000"/><path d="M1016.4,592.5L1017.4,592.5L1023.7,598.8L1023.7,599.8L1017.4,606.1L1016.4,606.1L1010.1,599.8L1010.1,598.8Z" fill="#00b050"/><path d="M1070.5,562.2L1076.0,562.2L1089.5,575.1L1089.5,580.5L1076.0,593.4L1070.5,593.4L1057.1,580.5L1057.1,575.1Z" fill="#008000"/><path d="M1072.8,571.0L1073.8,571.0L1080.1,577.3L1080.1,578.3L1073.8,584.6L1072.8,584.6L1066.5,578.3L1066.5,577.3Z" fill="#00b050"/><path d="M1137.0,544.7L1142.5,544.7L1155.9,557.6L1155.9,563.0L1142.5,575.9L1137.0,575.9L1123.5,563.0L1123.5,557.6Z" fill="#008000"/><path d="M1139.2,553.5L1140.2,553.5L1146.5,559.8L1146.5,560.8L1140.2,567.1L1139.2,567.1L1132.9,560.8L1132.9,559.8Z" fill="#00b050"/><path d="M1203.8,533.5L1209.3,533.5L1222.8,546.4L1222.8,551.8L1209.3,564.7L1203.8,564.7L1190.4,551.8L1190.4,546.4Z" fill="#008000"/><path d="M1206.1,542.3L1207.1,542.3L1213.4,548.6L1213.4,549.6L1207.1,555.9L1206.1,555.9L1199.8,549.6L1199.8,548.6Z" fill="#00b050"/><path d="M1274.7,528.1L1280.2,528.1L1293.6,541.0L1293.6,546.4L1280.2,559.3L1274.7,559.3L1261.2,546.4L1261.2,541.0Z" fill="#008000"/><path d="M1276.9,536.9L1277.9,536.9L1284.2,543.2L1284.2,544.2L1277.9,550.5L1276.9,550.5L1270.6,544.2L1270.6,543.2Z" fill="#00b050"/><path d="M1347.0,530.4L1352.5,530.4L1366.0,543.3L1366.0,548.7L1352.5,561.6L1347.0,561.6L1333.6,548.7L1333.6,543.3Z" fill="#008000"/><path d="M1349.3,539.2L1350.3,539.2L1356.6,545.5L1356.6,546.5L1350.3,552.8L1349.3,552.8L1343.0,546.5L1343.0,545.5Z" fill="#00b050"/><path d="M1419.8,539.9L1425.2,539.9L1438.7,552.8L1438.7,558.2L1425.2,571.1L1419.8,571.1L1406.3,558.2L1406.3,552.8Z" fill="#008000"/><path d="M1422.0,548.7L1423.0,548.7L1429.3,555.0L1429.3,556.0L1423.0,562.3L1422.0,562.3L1415.7,556.0L1415.7,555.0Z" fill="#00b050"/><path d="M1491.5,557.4L1497.0,557.4L1510.5,570.3L1510.5,575.7L1497.0,588.6L1491.5,588.6L1478.1,575.7L1478.1,570.3Z" fill="#008000"/><path d="M1493.8,566.2L1494.8,566.2L1501.1,572.5L1501.1,573.5L1494.8,579.8L1493.8,579.8L1487.5,573.5L1487.5,572.5Z" fill="#00b050"/><path d="M1561.0,582.2L1566.5,582.2L1580.0,595.1L1580.0,600.5L1566.5,613.4L1561.0,613.4L1547.6,600.5L1547.6,595.1Z" fill="#008000"/><path d="M1563.3,591.0L1564.3,591.0L1570.6,597.3L1570.6,598.3L1564.3,604.6L1563.3,604.6L1557.0,598.3L1557.0,597.3Z" fill="#00b050"/><path d="M1621.5,623.3L1627.0,623.3L1640.4,636.2L1640.4,641.6L1627.0,654.5L1621.5,654.5L1608.0,641.6L1608.0,636.2Z" fill="#008000"/><path d="M1623.7,632.1L1624.7,632.1L1631.0,638.4L1631.0,639.4L1624.7,645.7L1623.7,645.7L1617.4,639.4L1617.4,638.4Z" fill="#00b050"/><path d="M1679.5,661.4L1685.0,661.4L1698.5,674.3L1698.5,679.7L1685.0,692.6L1679.5,692.6L1666.1,679.7L1666.1,674.3Z" fill="#008000"/><path d="M1681.8,670.2L1682.8,670.2L1689.1,676.5L1689.1,677.5L1682.8,683.8L1681.8,683.8L1675.5,677.5L1675.5,676.5Z" fill="#00b050"/><path d="M1730.0,704.4L1735.5,704.4L1749.0,717.3L1749.0,722.7L1735.5,735.6L1730.0,735.6L1716.6,722.7L1716.6,717.3Z" fill="#008000"/><path d="M1732.3,713.2L1733.3,713.2L1739.6,719.5L1739.6,720.5L1733.3,726.8L1732.3,726.8L1726.0,720.5L1726.0,719.5Z" fill="#00b050"/><path d="M1773.2,749.4L1778.7,749.4L1792.1,762.3L1792.1,767.7L1778.7,780.6L1773.2,780.6L1759.7,767.7L1759.7,762.3Z" fill="#008000"/><path d="M1775.4,758.2L1776.4,758.2L1782.7,764.5L1782.7,765.5L1776.4,771.8L1775.4,771.8L1769.1,765.5L1769.1,764.5Z" fill="#00b050"/><path d="M1810.2,797.6L1815.7,797.6L1829.1,810.5L1829.1,815.9L1815.7,828.8L1810.2,828.8L1796.7,815.9L1796.7,810.5Z" fill="#008000"/><path d="M1812.4,806.4L1813.4,806.4L1819.7,812.7L1819.7,813.7L1813.4,820.0L1812.4,820.0L1806.1,813.7L1806.1,812.7Z" fill="#00b050"/><path d="M1837.8,845.4L1843.3,845.4L1856.8,858.3L1856.8,863.7L1843.3,876.6L1837.8,876.6L1824.4,863.7L1824.4,858.3Z" fill="#008000"/><path d="M1840.1,854.2L1841.1,854.2L1847.4,860.5L1847.4,861.5L1841.1,867.8L1840.1,867.8L1833.8,861.5L1833.8,860.5Z" fill="#00b050"/><path d="M1859.2,893.3L1864.8,893.3L1878.2,906.2L1878.2,911.6L1864.8,924.5L1859.2,924.5L1845.8,911.6L1845.8,906.2Z" fill="#008000"/><path d="M1861.5,902.1L1862.5,902.1L1868.8,908.4L1868.8,909.4L1862.5,915.7L1861.5,915.7L1855.2,909.4L1855.2,908.4Z" fill="#00b050"/><path d="M1873.5,937.9L1879.0,937.9L1892.5,950.8L1892.5,956.2L1879.0,969.1L1873.5,969.1L1860.1,956.2L1860.1,950.8Z" fill="#008000"/><path d="M1875.8,946.7L1876.8,946.7L1883.1,953.0L1883.1,954.0L1876.8,960.3L1875.8,960.3L1869.5,954.0L1869.5,953.0Z" fill="#00b050"/><path d="M1883.2,980.3L1888.7,980.3L1902.1,993.2L1902.1,998.6L1888.7,1011.5L1883.2,1011.5L1869.7,998.6L1869.7,993.2Z" fill="#008000"/><path d="M1885.4,989.1L1886.4,989.1L1892.7,995.4L1892.7,996.4L1886.4,1002.7L1885.4,1002.7L1879.1,996.4L1879.1,995.4Z" fill="#00b050"/><path d="M1888.8,1018.5L1894.3,1018.5L1907.8,1031.4L1907.8,1036.8L1894.3,1049.7L1888.8,1049.7L1875.4,1036.8L1875.4,1031.4Z" fill="#008000"/><path d="M1891.1,1027.3L1892.1,1027.3L1898.4,1033.6L1898.4,1034.6L1892.1,1040.9L1891.1,1040.9L1884.8,1034.6L1884.8,1033.6Z" fill="#00b050"/><path d="M1888.8,1054.9L1894.3,1054.9L1907.8,1067.8L1907.8,1073.2L1894.3,1086.1L1888.8,1086.1L1875.4,1073.2L1875.4,1067.8Z" fill="#008000"/><path d="M1891.1,1063.7L1892.1,1063.7L1898.4,1070.0L1898.4,1071.0L1892.1,1077.3L1891.1,1077.3L1884.8,1071.0L1884.8,1070.0Z" fill="#00b050"/><path d="M1888.0,1086.3L1893.5,1086.3L1907.0,1099.2L1907.0,1104.6L1893.5,1117.5L1888.0,1117.5L1874.6,1104.6L1874.6,1099.2Z" fill="#008000"/><path d="M1890.3,1095.1L1891.3,1095.1L1897.6,1101.4L1897.6,1102.4L1891.3,1108.7L1890.3,1108.7L1884.0,1102.4L1884.0,1101.4Z" fill="#00b050"/><path d="M1884.3,1115.2L1889.8,1115.2L1903.3,1128.1L1903.3,1133.5L1889.8,1146.4L1884.3,1146.4L1870.9,1133.5L1870.9,1128.1Z" fill="#008000"/><path d="M1886.6,1124.0L1887.6,1124.0L1893.9,1130.3L1893.9,1131.3L1887.6,1137.6L1886.6,1137.6L1880.3,1131.3L1880.3,1130.3Z" fill="#00b050"/><path d="M1879.7,1141.3L1885.2,1141.3L1898.6,1154.2L1898.6,1159.6L1885.2,1172.5L1879.7,1172.5L1866.2,1159.6L1866.2,1154.2Z" fill="#008000"/><path d="M1881.9,1150.1L1882.9,1150.1L1889.2,1156.4L1889.2,1157.4L1882.9,1163.7L1881.9,1163.7L1875.6,1157.4L1875.6,1156.4Z" fill="#00b050"/><path d="M1873.2,1163.8L1878.7,1163.8L1892.1,1176.7L1892.1,1182.1L1878.7,1195.0L1873.2,1195.0L1859.7,1182.1L1859.7,1176.7Z" fill="#008000"/><path d="M1875.4,1172.6L1876.4,1172.6L1882.7,1178.9L1882.7,1179.9L1876.4,1186.2L1875.4,1186.2L1869.1,1179.9L1869.1,1178.9Z" fill="#00b050"/><path d="M1866.5,1184.0L1872.0,1184.0L1885.4,1196.9L1885.4,1202.3L1872.0,1215.2L1866.5,1215.2L1853.0,1202.3L1853.0,1196.9Z" fill="#008000"/><path d="M1868.7,1192.8L1869.7,1192.8L1876.0,1199.1L1876.0,1200.1L1869.7,1206.4L1868.7,1206.4L1862.4,1200.1L1862.4,1199.1Z" fill="#00b050"/><path d="M1860.0,1200.8L1865.5,1200.8L1878.9,1213.7L1878.9,1219.1L1865.5,1232.0L1860.0,1232.0L1846.5,1219.1L1846.5,1213.7Z" fill="#008000"/><path d="M1862.2,1209.6L1863.2,1209.6L1869.5,1215.9L1869.5,1216.9L1863.2,1223.2L1862.2,1223.2L1855.9,1216.9L1855.9,1215.9Z" fill="#00b050"/><path d="M1853.5,1214.9L1859.0,1214.9L1872.5,1227.8L1872.5,1233.2L1859.0,1246.1L1853.5,1246.1L1840.1,1233.2L1840.1,1227.8Z" fill="#008000"/><path d="M1855.8,1223.7L1856.8,1223.7L1863.1,1230.0L1863.1,1231.0L1856.8,1237.3L1855.8,1237.3L1849.5,1231.0L1849.5,1230.0Z" fill="#00b050"/><path d="M1846.8,1226.6L1852.2,1226.6L1865.7,1239.5L1865.7,1244.9L1852.2,1257.8L1846.8,1257.8L1833.3,1244.9L1833.3,1239.5Z" fill="#008000"/><path d="M1849.0,1235.4L1850.0,1235.4L1856.3,1241.7L1856.3,1242.7L1850.0,1249.0L1849.0,1249.0L1842.7,1242.7L1842.7,1241.7Z" fill="#00b050"/><path d="M1840.3,1236.7L1845.8,1236.7L1859.3,1249.6L1859.3,1255.0L1845.8,1267.9L1840.3,1267.9L1826.9,1255.0L1826.9,1249.6Z" fill="#008000"/><path d="M1842.6,1245.5L1843.6,1245.5L1849.9,1251.8L1849.9,1252.8L1843.6,1259.1L1842.6,1259.1L1836.3,1252.8L1836.3,1251.8Z" fill="#00b050"/><path d="M1833.3,1245.7L1838.8,1245.7L1852.3,1258.6L1852.3,1264.0L1838.8,1276.9L1833.3,1276.9L1819.9,1264.0L1819.9,1258.6Z" fill="#008000"/><path d="M1835.6,1254.5L1836.6,1254.5L1842.9,1260.8L1842.9,1261.8L1836.6,1268.1L1835.6,1268.1L1829.3,1261.8L1829.3,1260.8Z" fill="#00b050"/><path d="M1831.1,1247.6L1836.6,1247.6L1850.0,1260.6L1850.0,1265.9L1836.6,1278.9L1831.1,1278.9L1817.6,1265.9L1817.6,1260.6Z" fill="#008000"/><path d="M1833.3,1256.5L1834.3,1256.5L1840.6,1262.8L1840.6,1263.8L1834.3,1270.1L1833.3,1270.1L1827.0,1263.8L1827.0,1262.8Z" fill="#00b050"/><path d="M1828.8,1249.6L1834.3,1249.6L1847.8,1262.6L1847.8,1267.9L1834.3,1280.8L1828.8,1280.8L1815.4,1267.9L1815.4,1262.6Z" fill="#008000"/><path d="M1831.1,1258.4L1832.1,1258.4L1838.4,1264.7L1838.4,1265.7L1832.1,1272.0L1831.1,1272.0L1824.8,1265.7L1824.8,1264.7Z" fill="#00b050"/><path d="M1826.5,1251.5L1832.0,1251.5L1845.5,1264.5L1845.5,1269.8L1832.0,1282.8L1826.5,1282.8L1813.1,1269.8L1813.1,1264.5Z" fill="#008000"/><path d="M1828.8,1260.4L1829.8,1260.4L1836.1,1266.7L1836.1,1267.7L1829.8,1274.0L1828.8,1274.0L1822.5,1267.7L1822.5,1266.7Z" fill="#00b050"/><path d="M1824.3,1253.5L1829.8,1253.5L1843.2,1266.5L1843.2,1271.8L1829.8,1284.8L1824.3,1284.8L1810.8,1271.8L1810.8,1266.5Z" fill="#008000"/><path d="M1826.5,1262.3L1827.5,1262.3L1833.8,1268.6L1833.8,1269.6L1827.5,1275.9L1826.5,1275.9L1820.2,1269.6L1820.2,1268.6Z" fill="#00b050"/><path d="M1822.1,1255.6L1827.6,1255.6L1841.1,1268.6L1841.1,1273.9L1827.6,1286.9L1822.1,1286.9L1808.7,1273.9L1808.7,1268.6Z" fill="#008000"/><path d="M1824.4,1264.4L1825.4,1264.4L1831.7,1270.7L1831.7,1271.7L1825.4,1278.0L1824.4,1278.0L1818.1,1271.7L1818.1,1270.7Z" fill="#00b050"/><path d="M1820.1,1257.9L1825.6,1257.9L1839.1,1270.8L1839.1,1276.1L1825.6,1289.1L1820.1,1289.1L1806.7,1276.1L1806.7,1270.8Z" fill="#008000"/><path d="M1822.4,1266.7L1823.4,1266.7L1829.7,1273.0L1829.7,1274.0L1823.4,1280.3L1822.4,1280.3L1816.1,1274.0L1816.1,1273.0Z" fill="#00b050"/><path d="M1818.2,1260.1L1823.7,1260.1L1837.1,1273.1L1837.1,1278.4L1823.7,1291.4L1818.2,1291.4L1804.7,1278.4L1804.7,1273.1Z" fill="#008000"/><path d="M1820.4,1268.9L1821.4,1268.9L1827.7,1275.2L1827.7,1276.2L1821.4,1282.5L1820.4,1282.5L1814.1,1276.2L1814.1,1275.2Z" fill="#00b050"/><path d="M1816.2,1262.3L1821.7,1262.3L1835.1,1275.3L1835.1,1280.6L1821.7,1293.6L1816.2,1293.6L1802.7,1280.6L1802.7,1275.3Z" fill="#008000"/><path d="M1818.4,1271.2L1819.4,1271.2L1825.7,1277.5L1825.7,1278.5L1819.4,1284.8L1818.4,1284.8L1812.1,1278.5L1812.1,1277.5Z" fill="#00b050"/><path d="M1814.1,1264.5L1819.6,1264.5L1833.1,1277.5L1833.1,1282.8L1819.6,1295.8L1814.1,1295.8L1800.7,1282.8L1800.7,1277.5Z" fill="#008000"/><path d="M1816.4,1273.4L1817.4,1273.4L1823.7,1279.7L1823.7,1280.7L1817.4,1287.0L1816.4,1287.0L1810.1,1280.7L1810.1,1279.7Z" fill="#00b050"/><path d="M1812.1,1266.7L1817.6,1266.7L1831.0,1279.7L1831.0,1285.0L1817.6,1298.0L1812.1,1298.0L1798.6,1285.0L1798.6,1279.7Z" fill="#008000"/><path d="M1814.3,1275.6L1815.3,1275.6L1821.6,1281.9L1821.6,1282.9L1815.3,1289.2L1814.3,1289.2L1808.0,1282.9L1808.0,1281.9Z" fill="#00b050"/><path d="M1810.0,1268.9L1815.5,1268.9L1829.0,1281.9L1829.0,1287.2L1815.5,1300.2L1810.0,1300.2L1796.6,1287.2L1796.6,1281.9Z" fill="#008000"/><path d="M1812.3,1277.7L1813.3,1277.7L1819.6,1284.0L1819.6,1285.0L1813.3,1291.3L1812.3,1291.3L1806.0,1285.0L1806.0,1284.0Z" fill="#00b050"/><path d="M1808.0,1271.0L1813.5,1271.0L1827.0,1283.9L1827.0,1289.3L1813.5,1302.2L1808.0,1302.2L1794.6,1289.3L1794.6,1283.9Z" fill="#008000"/><path d="M1810.3,1279.8L1811.3,1279.8L1817.6,1286.1L1817.6,1287.1L1811.3,1293.4L1810.3,1293.4L1804.0,1287.1L1804.0,1286.1Z" fill="#00b050"/><path d="M1808.0,1271.0L1813.5,1271.0L1827.0,1283.9L1827.0,1289.3L1813.5,1302.2L1808.0,1302.2L1794.6,1289.3L1794.6,1283.9Z" fill="#008000"/><path d="M1810.3,1279.8L1811.3,1279.8L1817.6,1286.1L1817.6,1287.1L1811.3,1293.4L1810.3,1293.4L1804.0,1287.1L1804.0,1286.1Z" fill="#00b050"/><path d="M1808.0,1271.0L1813.5,1271.0L1827.0,1283.9L1827.0,1289.3L1813.5,1302.2L1808.0,1302.2L1794.6,1289.3L1794.6,1283.9Z" fill="#008000"/><path d="M1810.3,1279.8L1811.3,1279.8L1817.6,1286.1L1817.6,1287.1L1811.3,1293.4L1810.3,1293.4L1804.0,1287.1L1804.0,1286.1Z" fill="#00b050"/><path d="M1808.0,1271.0L1813.5,1271.0L1827.0,1283.9L1827.0,1289.3L1813.5,1302.2L1808.0,1302.2L1794.6,1289.3L1794.6,1283.9Z" fill="#008000"/><path d="M1810.3,1279.8L1811.3,1279.8L1817.6,1286.1L1817.6,1287.1L1811.3,1293.4L1810.3,1293.4L1804.0,1287.1L1804.0,1286.1Z" fill="#00b050"/><path d="M1808.0,1271.0L1813.5,1271.0L1827.0,1283.9L1827.0,1289.3L1813.5,1302.2L1808.0,1302.2L1794.6,1289.3L1794.6,1283.9Z" fill="#008000"/><path d="M1810.3,1279.8L1811.3,1279.8L1817.6,1286.1L1817.6,1287.1L1811.3,1293.4L1810.3,1293.4L1804.0,1287.1L1804.0,1286.1Z" fill="#00b050"/><path d="M1808.0,1271.0L1813.5,1271.0L1827.0,1283.9L1827.0,1289.3L1813.5,1302.2L1808.0,1302.2L1794.6,1289.3L1794.6,1283.9Z" fill="#008000"/><path d="M1810.3,1279.8L1811.3,1279.8L1817.6,1286.1L1817.6,1287.1L1811.3,1293.4L1810.3,1293.4L1804.0,1287.1L1804.0,1286.1Z" fill="#00b050"/><path d="M1808.0,1271.0L1813.5,1271.0L1827.0,1283.9L1827.0,1289.3L1813.5,1302.2L1808.0,1302.2L1794.6,1289.3L1794.6,1283.9Z" fill="#008000"/><path d="M1810.3,1279.8L1811.3,1279.8L1817.6,1286.1L1817.6,1287.1L1811.3,1293.4L1810.3,1293.4L1804.0,1287.1L1804.0,1286.1Z" fill="#00b050"/><path d="M1808.0,1271.0L1813.5,1271.0L1827.0,1283.9L1827.0,1289.3L1813.5,1302.2L1808.0,1302.2L1794.6,1289.3L1794.6,1283.9Z" fill="#008000"/><path d="M1810.3,1279.8L1811.3,1279.8L1817.6,1286.1L1817.6,1287.1L1811.3,1293.4L1810.3,1293.4L1804.0,1287.1L1804.0,1286.1Z" fill="#00b050"/><path d="M1808.0,1271.0L1813.5,1271.0L1827.0,1283.9L1827.0,1289.3L1813.5,1302.2L1808.0,1302.2L1794.6,1289.3L1794.6,1283.9Z" fill="#008000"/><path d="M1810.3,1279.8L1811.3,1279.8L1817.6,1286.1L1817.6,1287.1L1811.3,1293.4L1810.3,1293.4L1804.0,1287.1L1804.0,1286.1Z" fill="#00b050"/></g>
<g><path d="M402.1,1290.4L407.6,1290.4L421.1,1303.3L421.1,1308.7L407.6,1321.6L402.1,1321.6L388.7,1308.7L388.7,1303.3Z" fill="#8b4cc4"/><path d="M404.4,1299.2L405.4,1299.2L411.7,1305.5L411.7,1306.5L405.4,1312.8L404.4,1312.8L398.1,1306.5L398.1,1305.5Z" fill="#ae62ea"/><path d="M402.1,1290.4L407.6,1290.4L421.1,1303.3L421.1,1308.7L407.6,1321.6L402.1,1321.6L388.7,1308.7L388.7,1303.3Z" fill="#8b4cc4"/><path d="M404.4,1299.2L405.4,1299.2L411.7,1305.5L411.7,1306.5L405.4,1312.8L404.4,1312.8L398.1,1306.5L398.1,1305.5Z" fill="#ae62ea"/><path d="M402.1,1290.4L407.6,1290.4L421.1,1303.3L421.1,1308.7L407.6,1321.6L402.1,1321.6L388.7,1308.7L388.7,1303.3Z" fill="#8b4cc4"/><path d="M404.4,1299.2L405.4,1299.2L411.7,1305.5L411.7,1306.5L405.4,1312.8L404.4,1312.8L398.1,1306.5L398.1,1305.5Z" fill="#ae62ea"/><path d="M402.1,1290.4L407.6,1290.4L421.1,1303.3L421.1,1308.7L407.6,1321.6L402.1,1321.6L388.7,1308.7L388.7,1303.3Z" fill="#8b4cc4"/><path d="M404.4,1299.2L405.4,1299.2L411.7,1305.5L411.7,1306.5L405.4,1312.8L404.4,1312.8L398.1,1306.5L398.1,1305.5Z" fill="#ae62ea"/><path d="M402.1,1290.4L407.6,1290.4L421.1,1303.3L421.1,1308.7L407.6,1321.6L402.1,1321.6L388.7,1308.7L388.7,1303.3Z" fill="#8b4cc4"/><path d="M404.4,1299.2L405.4,1299.2L411.7,1305.5L411.7,1306.5L405.4,1312.8L404.4,1312.8L398.1,1306.5L398.1,1305.5Z" fill="#ae62ea"/><path d="M402.1,1290.4L407.6,1290.4L421.1,1303.3L421.1,1308.7L407.6,1321.6L402.1,1321.6L388.7,1308.7L388.7,1303.3Z" fill="#8b4cc4"/><path d="M404.4,1299.2L405.4,1299.2L411.7,1305.5L411.7,1306.5L405.4,1312.8L404.4,1312.8L398.1,1306.5L398.1,1305.5Z" fill="#ae62ea"/><path d="M402.1,1290.4L407.6,1290.4L421.1,1303.3L421.1,1308.7L407.6,1321.6L402.1,1321.6L388.7,1308.7L388.7,1303.3Z" fill="#8b4cc4"/><path d="M404.4,1299.2L405.4,1299.2L411.7,1305.5L411.7,1306.5L405.4,1312.8L404.4,1312.8L398.1,1306.5L398.1,1305.5Z" fill="#ae62ea"/><path d="M402.1,1290.4L407.6,1290.4L421.1,1303.3L421.1,1308.7L407.6,1321.6L402.1,1321.6L388.7,1308.7L388.7,1303.3Z" fill="#8b4cc4"/><path d="M404.4,1299.2L405.4,1299.2L411.7,1305.5L411.7,1306.5L405.4,1312.8L404.4,1312.8L398.1,1306.5L398.1,1305.5Z" fill="#ae62ea"/><path d="M402.1,1290.4L407.6,1290.4L421.1,1303.3L421.1,1308.7L407.6,1321.6L402.1,1321.6L388.7,1308.7L388.7,1303.3Z" fill="#8b4cc4"/><path d="M404.4,1299.2L405.4,1299.2L411.7,1305.5L411.7,1306.5L405.4,1312.8L404.4,1312.8L398.1,1306.5L398.1,1305.5Z" fill="#ae62ea"/><path d="M404.7,1288.9L410.2,1288.9L423.7,1301.8L423.7,1307.1L410.2,1320.1L404.7,1320.1L391.3,1307.1L391.3,1301.8Z" fill="#8b4cc4"/><path d="M407.0,1297.7L408.0,1297.7L414.3,1304.0L414.3,1305.0L408.0,1311.3L407.0,1311.3L400.7,1305.0L400.7,1304.0Z" fill="#ae62ea"/><path d="M407.3,1287.3L412.8,1287.3L426.2,1300.3L426.2,1305.6L412.8,1318.6L407.3,1318.6L393.8,1305.6L393.8,1300.3Z" fill="#8b4cc4"/><path d="M409.5,1296.2L410.5,1296.2L416.8,1302.5L416.8,1303.5L410.5,1309.8L409.5,1309.8L403.2,1303.5L403.2,1302.5Z" fill="#ae62ea"/><path d="M409.9,1285.8L415.4,1285.8L428.8,1298.8L428.8,1304.1L415.4,1317.1L409.9,1317.1L396.4,1304.1L396.4,1298.8Z" fill="#8b4cc4"/><path d="M412.1,1294.7L413.1,1294.7L419.4,1301.0L419.4,1302.0L413.1,1308.3L412.1,1308.3L405.8,1302.0L405.8,1301.0Z" fill="#ae62ea"/><path d="M412.5,1284.3L418.0,1284.3L431.4,1297.3L431.4,1302.6L418.0,1315.6L412.5,1315.6L399.0,1302.6L399.0,1297.3Z" fill="#8b4cc4"/><path d="M414.7,1293.2L415.7,1293.2L422.0,1299.5L422.0,1300.5L415.7,1306.8L414.7,1306.8L408.4,1300.5L408.4,1299.5Z" fill="#ae62ea"/><path d="M415.1,1282.8L420.6,1282.8L434.0,1295.8L434.0,1301.1L420.6,1314.1L415.1,1314.1L401.6,1301.1L401.6,1295.8Z" fill="#8b4cc4"/><path d="M417.3,1291.7L418.3,1291.7L424.6,1298.0L424.6,1299.0L418.3,1305.3L417.3,1305.3L411.0,1299.0L411.0,1298.0Z" fill="#ae62ea"/><path d="M417.7,1281.4L423.2,1281.4L436.6,1294.4L436.6,1299.7L423.2,1312.7L417.7,1312.7L404.2,1299.7L404.2,1294.4Z" fill="#8b4cc4"/><path d="M419.9,1290.3L420.9,1290.3L427.2,1296.6L427.2,1297.6L420.9,1303.9L419.9,1303.9L413.6,1297.6L413.6,1296.6Z" fill="#ae62ea"/><path d="M420.3,1280.0L425.8,1280.0L439.3,1293.0L439.3,1298.3L425.8,1311.3L420.3,1311.3L406.9,1298.3L406.9,1293.0Z" fill="#8b4cc4"/><path d="M422.6,1288.9L423.6,1288.9L429.9,1295.2L429.9,1296.2L423.6,1302.5L422.6,1302.5L416.3,1296.2L416.3,1295.2Z" fill="#ae62ea"/><path d="M423.0,1278.6L428.5,1278.6L441.9,1291.6L441.9,1296.9L428.5,1309.9L423.0,1309.9L409.5,1296.9L409.5,1291.6Z" fill="#8b4cc4"/><path d="M425.2,1287.5L426.2,1287.5L432.5,1293.8L432.5,1294.8L426.2,1301.1L425.2,1301.1L418.9,1294.8L418.9,1293.8Z" fill="#ae62ea"/><path d="M425.6,1277.2L431.1,1277.2L444.6,1290.2L444.6,1295.5L431.1,1308.5L425.6,1308.5L412.2,1295.5L412.2,1290.2Z" fill="#8b4cc4"/><path d="M427.9,1286.1L428.9,1286.1L435.2,1292.4L435.2,1293.4L428.9,1299.7L427.9,1299.7L421.6,1293.4L421.6,1292.4Z" fill="#ae62ea"/><path d="M428.2,1275.8L433.7,1275.8L447.2,1288.8L447.2,1294.1L433.7,1307.1L428.2,1307.1L414.8,1294.1L414.8,1288.8Z" fill="#8b4cc4"/><path d="M430.5,1284.7L431.5,1284.7L437.8,1291.0L437.8,1292.0L431.5,1298.3L430.5,1298.3L424.2,1292.0L424.2,1291.0Z" fill="#ae62ea"/><path d="M430.8,1274.3L436.3,1274.3L449.7,1287.3L449.7,1292.6L436.3,1305.6L430.8,1305.6L417.3,1292.6L417.3,1287.3Z" fill="#8b4cc4"/><path d="M433.0,1283.1L434.0,1283.1L440.3,1289.4L440.3,1290.4L434.0,1296.7L433.0,1296.7L426.7,1290.4L426.7,1289.4Z" fill="#ae62ea"/><path d="M433.0,1272.3L438.5,1272.3L451.9,1285.2L451.9,1290.5L438.5,1303.5L433.0,1303.5L419.5,1290.5L419.5,1285.2Z" fill="#8b4cc4"/><path d="M435.2,1281.1L436.2,1281.1L442.5,1287.4L442.5,1288.4L436.2,1294.7L435.2,1294.7L428.9,1288.4L428.9,1287.4Z" fill="#ae62ea"/><path d="M435.1,1270.2L440.6,1270.2L454.1,1283.2L454.1,1288.5L440.6,1301.5L435.1,1301.5L421.7,1288.5L421.7,1283.2Z" fill="#8b4cc4"/><path d="M437.4,1279.0L438.4,1279.0L444.7,1285.3L444.7,1286.3L438.4,1292.6L437.4,1292.6L431.1,1286.3L431.1,1285.3Z" fill="#ae62ea"/><path d="M437.3,1268.2L442.8,1268.2L456.3,1281.1L456.3,1286.5L442.8,1299.4L437.3,1299.4L423.9,1286.5L423.9,1281.1Z" fill="#8b4cc4"/><path d="M439.6,1277.0L440.6,1277.0L446.9,1283.3L446.9,1284.3L440.6,1290.6L439.6,1290.6L433.3,1284.3L433.3,1283.3Z" fill="#ae62ea"/><path d="M439.5,1266.1L445.0,1266.1L458.5,1279.1L458.5,1284.4L445.0,1297.4L439.5,1297.4L426.1,1284.4L426.1,1279.1Z" fill="#8b4cc4"/><path d="M441.8,1275.0L442.8,1275.0L449.1,1281.3L449.1,1282.3L442.8,1288.6L441.8,1288.6L435.5,1282.3L435.5,1281.3Z" fill="#ae62ea"/><path d="M441.7,1264.1L447.2,1264.1L460.6,1277.1L460.6,1282.4L447.2,1295.3L441.7,1295.3L428.2,1282.4L428.2,1277.1Z" fill="#8b4cc4"/><path d="M443.9,1272.9L444.9,1272.9L451.2,1279.2L451.2,1280.2L444.9,1286.5L443.9,1286.5L437.6,1280.2L437.6,1279.2Z" fill="#ae62ea"/><path d="M443.9,1262.0L449.4,1262.0L462.8,1275.0L462.8,1280.3L449.4,1293.3L443.9,1293.3L430.4,1280.3L430.4,1275.0Z" fill="#8b4cc4"/><path d="M446.1,1270.9L447.1,1270.9L453.4,1277.2L453.4,1278.2L447.1,1284.5L446.1,1284.5L439.8,1278.2L439.8,1277.2Z" fill="#ae62ea"/><path d="M446.0,1260.0L451.5,1260.0L465.0,1273.0L465.0,1278.3L451.5,1291.3L446.0,1291.3L432.6,1278.3L432.6,1273.0Z" fill="#8b4cc4"/><path d="M448.3,1268.8L449.3,1268.8L455.6,1275.1L455.6,1276.1L449.3,1282.4L448.3,1282.4L442.0,1276.1L442.0,1275.1Z" fill="#ae62ea"/><path d="M448.2,1258.0L453.7,1258.0L467.2,1270.9L467.2,1276.2L453.7,1289.2L448.2,1289.2L434.8,1276.2L434.8,1270.9Z" fill="#8b4cc4"/><path d="M450.5,1266.8L451.5,1266.8L457.8,1273.1L457.8,1274.1L451.5,1280.4L450.5,1280.4L444.2,1274.1L444.2,1273.1Z" fill="#ae62ea"/><path d="M450.3,1255.8L455.8,1255.8L469.2,1268.8L469.2,1274.1L455.8,1287.1L450.3,1287.1L436.8,1274.1L436.8,1268.8Z" fill="#8b4cc4"/><path d="M452.5,1264.6L453.5,1264.6L459.8,1270.9L459.8,1271.9L453.5,1278.2L452.5,1278.2L446.2,1271.9L446.2,1270.9Z" fill="#ae62ea"/><path d="M452.3,1253.6L457.8,1253.6L471.3,1266.6L471.3,1271.9L457.8,1284.9L452.3,1284.9L438.9,1271.9L438.9,1266.6Z" fill="#8b4cc4"/><path d="M454.6,1262.4L455.6,1262.4L461.9,1268.7L461.9,1269.7L455.6,1276.0L454.6,1276.0L448.3,1269.7L448.3,1268.7Z" fill="#ae62ea"/><path d="M454.4,1251.4L459.9,1251.4L473.3,1264.4L473.3,1269.7L459.9,1282.7L454.4,1282.7L440.9,1269.7L440.9,1264.4Z" fill="#8b4cc4"/><path d="M456.6,1260.3L457.6,1260.3L463.9,1266.6L463.9,1267.6L457.6,1273.9L456.6,1273.9L450.3,1267.6L450.3,1266.6Z" fill="#ae62ea"/><path d="M456.4,1249.2L461.9,1249.2L475.3,1262.2L475.3,1267.5L461.9,1280.5L456.4,1280.5L442.9,1267.5L442.9,1262.2Z" fill="#8b4cc4"/><path d="M458.6,1258.1L459.6,1258.1L465.9,1264.4L465.9,1265.4L459.6,1271.7L458.6,1271.7L452.3,1265.4L452.3,1264.4Z" fill="#ae62ea"/><path d="M458.4,1247.1L463.9,1247.1L477.4,1260.0L477.4,1265.3L463.9,1278.3L458.4,1278.3L445.0,1265.3L445.0,1260.0Z" fill="#8b4cc4"/><path d="M460.7,1255.9L461.7,1255.9L468.0,1262.2L468.0,1263.2L461.7,1269.5L460.7,1269.5L454.4,1263.2L454.4,1262.2Z" fill="#ae62ea"/><path d="M460.5,1244.9L466.0,1244.9L479.4,1257.8L479.4,1263.1L466.0,1276.1L460.5,1276.1L447.0,1263.1L447.0,1257.8Z" fill="#8b4cc4"/><path d="M462.7,1253.7L463.7,1253.7L470.0,1260.0L470.0,1261.0L463.7,1267.3L462.7,1267.3L456.4,1261.0L456.4,1260.0Z" fill="#ae62ea"/><path d="M462.5,1242.7L468.0,1242.7L481.4,1255.7L481.4,1261.0L468.0,1273.9L462.5,1273.9L449.0,1261.0L449.0,1255.7Z" fill="#8b4cc4"/><path d="M464.7,1251.5L465.7,1251.5L472.0,1257.8L472.0,1258.8L465.7,1265.1L464.7,1265.1L458.4,1258.8L458.4,1257.8Z" fill="#ae62ea"/><path d="M464.5,1240.5L470.0,1240.5L483.5,1253.5L483.5,1258.8L470.0,1271.8L464.5,1271.8L451.1,1258.8L451.1,1253.5Z" fill="#8b4cc4"/><path d="M466.8,1249.3L467.8,1249.3L474.1,1255.6L474.1,1256.6L467.8,1262.9L466.8,1262.9L460.5,1256.6L460.5,1255.6Z" fill="#ae62ea"/><path d="M466.6,1238.3L472.1,1238.3L485.5,1251.3L485.5,1256.6L472.1,1269.6L466.6,1269.6L453.1,1256.6L453.1,1251.3Z" fill="#8b4cc4"/><path d="M468.8,1247.2L469.8,1247.2L476.1,1253.5L476.1,1254.5L469.8,1260.8L468.8,1260.8L462.5,1254.5L462.5,1253.5Z" fill="#ae62ea"/><path d="M468.7,1236.2L474.2,1236.2L487.6,1249.2L487.6,1254.5L474.2,1267.5L468.7,1267.5L455.2,1254.5L455.2,1249.2Z" fill="#8b4cc4"/><path d="M470.9,1245.0L471.9,1245.0L478.2,1251.3L478.2,1252.3L471.9,1258.6L470.9,1258.6L464.6,1252.3L464.6,1251.3Z" fill="#ae62ea"/><path d="M470.7,1234.0L476.2,1234.0L489.7,1247.0L489.7,1252.3L476.2,1265.3L470.7,1265.3L457.3,1252.3L457.3,1247.0Z" fill="#8b4cc4"/><path d="M473.0,1242.9L474.0,1242.9L480.3,1249.2L480.3,1250.2L474.0,1256.5L473.0,1256.5L466.7,1250.2L466.7,1249.2Z" fill="#ae62ea"/><path d="M473.1,1231.6L478.6,1231.6L492.1,1244.5L492.1,1249.9L478.6,1262.8L473.1,1262.8L459.7,1249.9L459.7,1244.5Z" fill="#8b4cc4"/><path d="M475.4,1240.4L476.4,1240.4L482.7,1246.7L482.7,1247.7L476.4,1254.0L475.4,1254.0L469.1,1247.7L469.1,1246.7Z" fill="#ae62ea"/><path d="M478.0,1224.1L483.5,1224.1L497.0,1237.0L497.0,1242.4L483.5,1255.3L478.0,1255.3L464.6,1242.4L464.6,1237.0Z" fill="#8b4cc4"/><path d="M480.3,1232.9L481.3,1232.9L487.6,1239.2L487.6,1240.2L481.3,1246.5L480.3,1246.5L474.0,1240.2L474.0,1239.2Z" fill="#ae62ea"/><path d="M481.3,1217.5L486.8,1217.5L500.2,1230.4L500.2,1235.8L486.8,1248.7L481.3,1248.7L467.8,1235.8L467.8,1230.4Z" fill="#8b4cc4"/><path d="M483.5,1226.3L484.5,1226.3L490.8,1232.6L490.8,1233.6L484.5,1239.9L483.5,1239.9L477.2,1233.6L477.2,1232.6Z" fill="#ae62ea"/><path d="M486.2,1209.2L491.7,1209.2L505.2,1222.1L505.2,1227.5L491.7,1240.4L486.2,1240.4L472.8,1227.5L472.8,1222.1Z" fill="#8b4cc4"/><path d="M488.5,1218.0L489.5,1218.0L495.8,1224.3L495.8,1225.3L489.5,1231.6L488.5,1231.6L482.2,1225.3L482.2,1224.3Z" fill="#ae62ea"/><path d="M490.2,1201.7L495.7,1201.7L509.2,1214.6L509.2,1220.0L495.7,1232.9L490.2,1232.9L476.8,1220.0L476.8,1214.6Z" fill="#8b4cc4"/><path d="M492.5,1210.5L493.5,1210.5L499.8,1216.8L499.8,1217.8L493.5,1224.1L492.5,1224.1L486.2,1217.8L486.2,1216.8Z" fill="#ae62ea"/><path d="M494.4,1193.4L499.9,1193.4L513.3,1206.3L513.3,1211.7L499.9,1224.6L494.4,1224.6L480.9,1211.7L480.9,1206.3Z" fill="#8b4cc4"/><path d="M496.6,1202.2L497.6,1202.2L503.9,1208.5L503.9,1209.5L497.6,1215.8L496.6,1215.8L490.3,1209.5L490.3,1208.5Z" fill="#ae62ea"/><path d="M499.2,1183.5L504.7,1183.5L518.1,1196.4L518.1,1201.8L504.7,1214.7L499.2,1214.7L485.7,1201.8L485.7,1196.4Z" fill="#8b4cc4"/><path d="M501.4,1192.3L502.4,1192.3L508.7,1198.6L508.7,1199.6L502.4,1205.9L501.4,1205.9L495.1,1199.6L495.1,1198.6Z" fill="#ae62ea"/><path d="M502.5,1174.3L508.0,1174.3L521.4,1187.2L521.4,1192.6L508.0,1205.5L502.5,1205.5L489.0,1192.6L489.0,1187.2Z" fill="#8b4cc4"/><path d="M504.7,1183.1L505.7,1183.1L512.0,1189.4L512.0,1190.4L505.7,1196.7L504.7,1196.7L498.4,1190.4L498.4,1189.4Z" fill="#ae62ea"/><path d="M507.3,1163.6L512.8,1163.6L526.2,1176.5L526.2,1181.9L512.8,1194.8L507.3,1194.8L493.8,1181.9L493.8,1176.5Z" fill="#8b4cc4"/><path d="M509.5,1172.4L510.5,1172.4L516.8,1178.7L516.8,1179.7L510.5,1186.0L509.5,1186.0L503.2,1179.7L503.2,1178.7Z" fill="#ae62ea"/><path d="M512.2,1152.8L517.7,1152.8L531.1,1165.7L531.1,1171.1L517.7,1184.0L512.2,1184.0L498.7,1171.1L498.7,1165.7Z" fill="#8b4cc4"/><path d="M514.4,1161.6L515.4,1161.6L521.7,1167.9L521.7,1168.9L515.4,1175.2L514.4,1175.2L508.1,1168.9L508.1,1167.9Z" fill="#ae62ea"/><path d="M517.1,1142.0L522.6,1142.0L536.0,1154.9L536.0,1160.3L522.6,1173.2L517.1,1173.2L503.6,1160.3L503.6,1154.9Z" fill="#8b4cc4"/><path d="M519.3,1150.8L520.3,1150.8L526.6,1157.1L526.6,1158.1L520.3,1164.4L519.3,1164.4L513.0,1158.1L513.0,1157.1Z" fill="#ae62ea"/><path d="M522.8,1128.7L528.3,1128.7L541.7,1141.6L541.7,1147.0L528.3,1159.9L522.8,1159.9L509.3,1147.0L509.3,1141.6Z" fill="#8b4cc4"/><path d="M525.0,1137.5L526.0,1137.5L532.3,1143.8L532.3,1144.8L526.0,1151.1L525.0,1151.1L518.7,1144.8L518.7,1143.8Z" fill="#ae62ea"/><path d="M527.6,1115.5L533.1,1115.5L546.5,1128.4L546.5,1133.8L533.1,1146.7L527.6,1146.7L514.1,1133.8L514.1,1128.4Z" fill="#8b4cc4"/><path d="M529.8,1124.3L530.8,1124.3L537.1,1130.6L537.1,1131.6L530.8,1137.9L529.8,1137.9L523.5,1131.6L523.5,1130.6Z" fill="#ae62ea"/><path d="M532.9,1100.5L538.4,1100.5L551.9,1113.4L551.9,1118.8L538.4,1131.7L532.9,1131.7L519.5,1118.8L519.5,1113.4Z" fill="#8b4cc4"/><path d="M535.2,1109.3L536.2,1109.3L542.5,1115.6L542.5,1116.6L536.2,1122.9L535.2,1122.9L528.9,1116.6L528.9,1115.6Z" fill="#ae62ea"/><path d="M541.5,1085.6L547.0,1085.6L560.4,1098.5L560.4,1103.9L547.0,1116.8L541.5,1116.8L528.0,1103.9L528.0,1098.5Z" fill="#8b4cc4"/><path d="M543.7,1094.4L544.7,1094.4L551.0,1100.7L551.0,1101.7L544.7,1108.0L543.7,1108.0L537.4,1101.7L537.4,1100.7Z" fill="#ae62ea"/><path d="M549.3,1068.6L554.8,1068.6L568.2,1081.5L568.2,1086.8L554.8,1099.8L549.3,1099.8L535.8,1086.8L535.8,1081.5Z" fill="#8b4cc4"/><path d="M551.5,1077.4L552.5,1077.4L558.8,1083.7L558.8,1084.7L552.5,1091.0L551.5,1091.0L545.2,1084.7L545.2,1083.7Z" fill="#ae62ea"/><path d="M556.0,1051.7L561.5,1051.7L575.0,1064.7L575.0,1070.0L561.5,1083.0L556.0,1083.0L542.6,1070.0L542.6,1064.7Z" fill="#8b4cc4"/><path d="M558.3,1060.5L559.3,1060.5L565.6,1066.8L565.6,1067.8L559.3,1074.1L558.3,1074.1L552.0,1067.8L552.0,1066.8Z" fill="#ae62ea"/><path d="M563.9,1033.2L569.4,1033.2L582.9,1046.1L582.9,1051.4L569.4,1064.4L563.9,1064.4L550.5,1051.4L550.5,1046.1Z" fill="#8b4cc4"/><path d="M566.2,1042.0L567.2,1042.0L573.5,1048.3L573.5,1049.3L567.2,1055.6L566.2,1055.6L559.9,1049.3L559.9,1048.3Z" fill="#ae62ea"/><path d="M572.3,1015.3L577.8,1015.3L591.3,1028.3L591.3,1033.6L577.8,1046.6L572.3,1046.6L558.9,1033.6L558.9,1028.3Z" fill="#8b4cc4"/><path d="M574.6,1024.1L575.6,1024.1L581.9,1030.4L581.9,1031.4L575.6,1037.7L574.6,1037.7L568.3,1031.4L568.3,1030.4Z" fill="#ae62ea"/><path d="M581.5,995.1L587.0,995.1L600.5,1008.1L600.5,1013.4L587.0,1026.4L581.5,1026.4L568.1,1013.4L568.1,1008.1Z" fill="#8b4cc4"/><path d="M583.8,1004.0L584.8,1004.0L591.1,1010.3L591.1,1011.3L584.8,1017.6L583.8,1017.6L577.5,1011.3L577.5,1010.3Z" fill="#ae62ea"/><path d="M591.6,973.5L597.1,973.5L610.6,986.4L610.6,991.7L597.1,1004.7L591.6,1004.7L578.2,991.7L578.2,986.4Z" fill="#8b4cc4"/><path d="M593.9,982.3L594.9,982.3L601.2,988.6L601.2,989.6L594.9,995.9L593.9,995.9L587.6,989.6L587.6,988.6Z" fill="#ae62ea"/><path d="M603.7,950.9L609.2,950.9L622.6,963.8L622.6,969.1L609.2,982.1L603.7,982.1L590.2,969.1L590.2,963.8Z" fill="#8b4cc4"/><path d="M605.9,959.7L606.9,959.7L613.2,966.0L613.2,967.0L606.9,973.3L605.9,973.3L599.6,967.0L599.6,966.0Z" fill="#ae62ea"/><path d="M616.5,928.3L622.0,928.3L635.4,941.2L635.4,946.6L622.0,959.5L616.5,959.5L603.0,946.6L603.0,941.2Z" fill="#8b4cc4"/><path d="M618.7,937.1L619.7,937.1L626.0,943.4L626.0,944.4L619.7,950.7L618.7,950.7L612.4,944.4L612.4,943.4Z" fill="#ae62ea"/><path d="M632.9,903.7L638.4,903.7L651.9,916.6L651.9,922.0L638.4,934.9L632.9,934.9L619.5,922.0L619.5,916.6Z" fill="#8b4cc4"/><path d="M635.2,912.5L636.2,912.5L642.5,918.8L642.5,919.8L636.2,926.1L635.2,926.1L628.9,919.8L628.9,918.8Z" fill="#ae62ea"/><path d="M652.2,878.3L657.7,878.3L671.1,891.2L671.1,896.6L657.7,909.5L652.2,909.5L638.7,896.6L638.7,891.2Z" fill="#8b4cc4"/><path d="M654.4,887.1L655.4,887.1L661.7,893.4L661.7,894.4L655.4,900.7L654.4,900.7L648.1,894.4L648.1,893.4Z" fill="#ae62ea"/><path d="M674.5,850.3L680.0,850.3L693.4,863.2L693.4,868.6L680.0,881.5L674.5,881.5L661.0,868.6L661.0,863.2Z" fill="#8b4cc4"/><path d="M676.7,859.1L677.7,859.1L684.0,865.4L684.0,866.4L677.7,872.7L676.7,872.7L670.4,866.4L670.4,865.4Z" fill="#ae62ea"/><path d="M698.2,822.2L703.8,822.2L717.2,835.1L717.2,840.5L703.8,853.4L698.2,853.4L684.8,840.5L684.8,835.1Z" fill="#8b4cc4"/><path d="M700.5,831.0L701.5,831.0L707.8,837.3L707.8,838.3L701.5,844.6L700.5,844.6L694.2,838.3L694.2,837.3Z" fill="#ae62ea"/><path d="M725.0,793.6L730.5,793.6L743.9,806.5L743.9,811.9L730.5,824.8L725.0,824.8L711.5,811.9L711.5,806.5Z" fill="#8b4cc4"/><path d="M727.2,802.4L728.2,802.4L734.5,808.7L734.5,809.7L728.2,816.0L727.2,816.0L720.9,809.7L720.9,808.7Z" fill="#ae62ea"/><path d="M753.0,765.5L758.5,765.5L771.9,778.4L771.9,783.8L758.5,796.7L753.0,796.7L739.5,783.8L739.5,778.4Z" fill="#8b4cc4"/><path d="M755.2,774.3L756.2,774.3L762.5,780.6L762.5,781.6L756.2,787.9L755.2,787.9L748.9,781.6L748.9,780.6Z" fill="#ae62ea"/><path d="M785.2,735.2L790.8,735.2L804.2,748.1L804.2,753.5L790.8,766.4L785.2,766.4L771.8,753.5L771.8,748.1Z" fill="#8b4cc4"/><path d="M787.5,744.0L788.5,744.0L794.8,750.3L794.8,751.3L788.5,757.6L787.5,757.6L781.2,751.3L781.2,750.3Z" fill="#ae62ea"/><path d="M821.8,706.6L827.2,706.6L840.7,719.5L840.7,724.9L827.2,737.8L821.8,737.8L808.3,724.9L808.3,719.5Z" fill="#8b4cc4"/><path d="M824.0,715.4L825.0,715.4L831.3,721.7L831.3,722.7L825.0,729.0L824.0,729.0L817.7,722.7L817.7,721.7Z" fill="#ae62ea"/><path d="M861.5,677.7L867.0,677.7L880.5,690.6L880.5,696.0L867.0,708.9L861.5,708.9L848.1,696.0L848.1,690.6Z" fill="#8b4cc4"/><path d="M863.8,686.5L864.8,686.5L871.1,692.8L871.1,693.8L864.8,700.1L863.8,700.1L857.5,693.8L857.5,692.8Z" fill="#ae62ea"/><path d="M906.8,649.6L912.2,649.6L925.7,662.5L925.7,667.9L912.2,680.8L906.8,680.8L893.3,667.9L893.3,662.5Z" fill="#8b4cc4"/><path d="M909.0,658.4L910.0,658.4L916.3,664.7L916.3,665.7L910.0,672.0L909.0,672.0L902.7,665.7L902.7,664.7Z" fill="#ae62ea"/><path d="M955.9,623.5L961.4,623.5L974.8,636.4L974.8,641.8L961.4,654.7L955.9,654.7L942.4,641.8L942.4,636.4Z" fill="#8b4cc4"/><path d="M958.1,632.3L959.1,632.3L965.4,638.6L965.4,639.6L959.1,645.9L958.1,645.9L951.8,639.6L951.8,638.6Z" fill="#ae62ea"/><path d="M1009.9,600.8L1015.4,600.8L1028.8,613.7L1028.8,619.1L1015.4,632.0L1009.9,632.0L996.4,619.1L996.4,613.7Z" fill="#8b4cc4"/><path d="M1012.1,609.6L1013.1,609.6L1019.4,615.9L1019.4,616.9L1013.1,623.2L1012.1,623.2L1005.8,616.9L1005.8,615.9Z" fill="#ae62ea"/><path d="M1067.5,579.1L1073.0,579.1L1086.4,592.0L1086.4,597.4L1073.0,610.3L1067.5,610.3L1054.0,597.4L1054.0,592.0Z" fill="#8b4cc4"/><path d="M1069.7,587.9L1070.7,587.9L1077.0,594.2L1077.0,595.2L1070.7,601.5L1069.7,601.5L1063.4,595.2L1063.4,594.2Z" fill="#ae62ea"/><path d="M1130.5,565.4L1136.0,565.4L1149.5,578.3L1149.5,583.7L1136.0,596.6L1130.5,596.6L1117.1,583.7L1117.1,578.3Z" fill="#8b4cc4"/><path d="M1132.8,574.2L1133.8,574.2L1140.1,580.5L1140.1,581.5L1133.8,587.8L1132.8,587.8L1126.5,581.5L1126.5,580.5Z" fill="#ae62ea"/><path d="M1196.5,554.9L1202.0,554.9L1215.5,567.8L1215.5,573.2L1202.0,586.1L1196.5,586.1L1183.1,573.2L1183.1,567.8Z" fill="#8b4cc4"/><path d="M1198.8,563.7L1199.8,563.7L1206.1,570.0L1206.1,571.0L1199.8,577.3L1198.8,577.3L1192.5,571.0L1192.5,570.0Z" fill="#ae62ea"/><path d="M1265.2,551.7L1270.7,551.7L1284.1,564.6L1284.1,570.0L1270.7,582.9L1265.2,582.9L1251.7,570.0L1251.7,564.6Z" fill="#8b4cc4"/><path d="M1267.4,560.5L1268.4,560.5L1274.7,566.8L1274.7,567.8L1268.4,574.1L1267.4,574.1L1261.1,567.8L1261.1,566.8Z" fill="#ae62ea"/><path d="M1336.8,554.9L1342.3,554.9L1355.8,567.8L1355.8,573.2L1342.3,586.1L1336.8,586.1L1323.4,573.2L1323.4,567.8Z" fill="#8b4cc4"/><path d="M1339.1,563.7L1340.1,563.7L1346.4,570.0L1346.4,571.0L1340.1,577.3L1339.1,577.3L1332.8,571.0L1332.8,570.0Z" fill="#ae62ea"/><path d="M1408.7,564.5L1414.2,564.5L1427.6,577.4L1427.6,582.8L1414.2,595.7L1408.7,595.7L1395.2,582.8L1395.2,577.4Z" fill="#8b4cc4"/><path d="M1410.9,573.3L1411.9,573.3L1418.2,579.6L1418.2,580.6L1411.9,586.9L1410.9,586.9L1404.6,580.6L1404.6,579.6Z" fill="#ae62ea"/><path d="M1477.5,583.7L1483.0,583.7L1496.4,596.6L1496.4,602.0L1483.0,614.9L1477.5,614.9L1464.0,602.0L1464.0,596.6Z" fill="#8b4cc4"/><path d="M1479.7,592.5L1480.7,592.5L1487.0,598.8L1487.0,599.8L1480.7,606.1L1479.7,606.1L1473.4,599.8L1473.4,598.8Z" fill="#ae62ea"/><path d="M1542.8,608.6L1548.3,608.6L1561.8,621.5L1561.8,626.9L1548.3,639.8L1542.8,639.8L1529.4,626.9L1529.4,621.5Z" fill="#8b4cc4"/><path d="M1545.1,617.4L1546.1,617.4L1552.4,623.7L1552.4,624.7L1546.1,631.0L1545.1,631.0L1538.8,624.7L1538.8,623.7Z" fill="#ae62ea"/><path d="M1605.0,640.9L1610.5,640.9L1624.0,653.8L1624.0,659.2L1610.5,672.1L1605.0,672.1L1591.6,659.2L1591.6,653.8Z" fill="#8b4cc4"/><path d="M1607.3,649.7L1608.3,649.7L1614.6,656.0L1614.6,657.0L1608.3,663.3L1607.3,663.3L1601.0,657.0L1601.0,656.0Z" fill="#ae62ea"/><path d="M1660.2,681.4L1665.8,681.4L1679.2,694.3L1679.2,699.7L1665.8,712.6L1660.2,712.6L1646.8,699.7L1646.8,694.3Z" fill="#8b4cc4"/><path d="M1662.5,690.2L1663.5,690.2L1669.8,696.5L1669.8,697.5L1663.5,703.8L1662.5,703.8L1656.2,697.5L1656.2,696.5Z" fill="#ae62ea"/><path d="M1704.8,729.0L1710.3,729.0L1723.8,741.9L1723.8,747.3L1710.3,760.2L1704.8,760.2L1691.4,747.3L1691.4,741.9Z" fill="#8b4cc4"/><path d="M1707.1,737.8L1708.1,737.8L1714.4,744.1L1714.4,745.1L1708.1,751.4L1707.1,751.4L1700.8,745.1L1700.8,744.1Z" fill="#ae62ea"/><path d="M1746.0,773.7L1751.5,773.7L1765.0,786.6L1765.0,792.0L1751.5,804.9L1746.0,804.9L1732.6,792.0L1732.6,786.6Z" fill="#8b4cc4"/><path d="M1748.3,782.5L1749.3,782.5L1755.6,788.8L1755.6,789.8L1749.3,796.1L1748.3,796.1L1742.0,789.8L1742.0,788.8Z" fill="#ae62ea"/><path d="M1779.8,819.9L1785.3,819.9L1798.8,832.8L1798.8,838.2L1785.3,851.1L1779.8,851.1L1766.4,838.2L1766.4,832.8Z" fill="#8b4cc4"/><path d="M1782.1,828.7L1783.1,828.7L1789.4,835.0L1789.4,836.0L1783.1,842.3L1782.1,842.3L1775.8,836.0L1775.8,835.0Z" fill="#ae62ea"/><path d="M1806.0,865.5L1811.5,865.5L1824.9,878.4L1824.9,883.8L1811.5,896.7L1806.0,896.7L1792.5,883.8L1792.5,878.4Z" fill="#8b4cc4"/><path d="M1808.2,874.3L1809.2,874.3L1815.5,880.6L1815.5,881.6L1809.2,887.9L1808.2,887.9L1801.9,881.6L1801.9,880.6Z" fill="#ae62ea"/><path d="M1825.2,910.8L1830.7,910.8L1844.1,923.7L1844.1,929.1L1830.7,942.0L1825.2,942.0L1811.7,929.1L1811.7,923.7Z" fill="#8b4cc4"/><path d="M1827.4,919.6L1828.4,919.6L1834.7,925.9L1834.7,926.9L1828.4,933.2L1827.4,933.2L1821.1,926.9L1821.1,925.9Z" fill="#ae62ea"/><path d="M1839.5,953.9L1845.0,953.9L1858.4,966.8L1858.4,972.2L1845.0,985.1L1839.5,985.1L1826.0,972.2L1826.0,966.8Z" fill="#8b4cc4"/><path d="M1841.7,962.7L1842.7,962.7L1849.0,969.0L1849.0,970.0L1842.7,976.3L1841.7,976.3L1835.4,970.0L1835.4,969.0Z" fill="#ae62ea"/><path d="M1848.0,995.3L1853.5,995.3L1867.0,1008.2L1867.0,1013.6L1853.5,1026.5L1848.0,1026.5L1834.6,1013.6L1834.6,1008.2Z" fill="#8b4cc4"/><path d="M1850.3,1004.1L1851.3,1004.1L1857.6,1010.4L1857.6,1011.4L1851.3,1017.7L1850.3,1017.7L1844.0,1011.4L1844.0,1010.4Z" fill="#ae62ea"/><path d="M1853.2,1031.9L1858.7,1031.9L1872.1,1044.8L1872.1,1050.2L1858.7,1063.1L1853.2,1063.1L1839.7,1050.2L1839.7,1044.8Z" fill="#8b4cc4"/><path d="M1855.4,1040.7L1856.4,1040.7L1862.7,1047.0L1862.7,1048.0L1856.4,1054.3L1855.4,1054.3L1849.1,1048.0L1849.1,1047.0Z" fill="#ae62ea"/><path d="M1853.0,1065.3L1858.5,1065.3L1871.9,1078.2L1871.9,1083.6L1858.5,1096.5L1853.0,1096.5L1839.5,1083.6L1839.5,1078.2Z" fill="#8b4cc4"/><path d="M1855.2,1074.1L1856.2,1074.1L1862.5,1080.4L1862.5,1081.4L1856.2,1087.7L1855.2,1087.7L1848.9,1081.4L1848.9,1080.4Z" fill="#ae62ea"/><path d="M1851.5,1097.0L1857.0,1097.0L1870.5,1109.9L1870.5,1115.3L1857.0,1128.2L1851.5,1128.2L1838.1,1115.3L1838.1,1109.9Z" fill="#8b4cc4"/><path d="M1853.8,1105.8L1854.8,1105.8L1861.1,1112.1L1861.1,1113.1L1854.8,1119.4L1853.8,1119.4L1847.5,1113.1L1847.5,1112.1Z" fill="#ae62ea"/><path d="M1848.0,1125.1L1853.5,1125.1L1866.9,1138.0L1866.9,1143.4L1853.5,1156.3L1848.0,1156.3L1834.5,1143.4L1834.5,1138.0Z" fill="#8b4cc4"/><path d="M1850.2,1133.9L1851.2,1133.9L1857.5,1140.2L1857.5,1141.2L1851.2,1147.5L1850.2,1147.5L1843.9,1141.2L1843.9,1140.2Z" fill="#ae62ea"/><path d="M1843.2,1148.9L1848.7,1148.9L1862.1,1161.8L1862.1,1167.2L1848.7,1180.1L1843.2,1180.1L1829.7,1167.2L1829.7,1161.8Z" fill="#8b4cc4"/><path d="M1845.4,1157.7L1846.4,1157.7L1852.7,1164.0L1852.7,1165.0L1846.4,1171.3L1845.4,1171.3L1839.1,1165.0L1839.1,1164.0Z" fill="#ae62ea"/><path d="M1837.5,1170.5L1843.0,1170.5L1856.5,1183.4L1856.5,1188.8L1843.0,1201.7L1837.5,1201.7L1824.1,1188.8L1824.1,1183.4Z" fill="#8b4cc4"/><path d="M1839.8,1179.3L1840.8,1179.3L1847.1,1185.6L1847.1,1186.6L1840.8,1192.9L1839.8,1192.9L1833.5,1186.6L1833.5,1185.6Z" fill="#ae62ea"/><path d="M1831.0,1188.2L1836.5,1188.2L1850.0,1201.1L1850.0,1206.5L1836.5,1219.4L1831.0,1219.4L1817.6,1206.5L1817.6,1201.1Z" fill="#8b4cc4"/><path d="M1833.3,1197.0L1834.3,1197.0L1840.6,1203.3L1840.6,1204.3L1834.3,1210.6L1833.3,1210.6L1827.0,1204.3L1827.0,1203.3Z" fill="#ae62ea"/><path d="M1825.0,1204.2L1830.5,1204.2L1843.9,1217.1L1843.9,1222.5L1830.5,1235.4L1825.0,1235.4L1811.5,1222.5L1811.5,1217.1Z" fill="#8b4cc4"/><path d="M1827.2,1213.0L1828.2,1213.0L1834.5,1219.3L1834.5,1220.3L1828.2,1226.6L1827.2,1226.6L1820.9,1220.3L1820.9,1219.3Z" fill="#ae62ea"/><path d="M1818.8,1216.3L1824.2,1216.3L1837.7,1229.2L1837.7,1234.6L1824.2,1247.5L1818.8,1247.5L1805.3,1234.6L1805.3,1229.2Z" fill="#8b4cc4"/><path d="M1821.0,1225.1L1822.0,1225.1L1828.3,1231.4L1828.3,1232.4L1822.0,1238.7L1821.0,1238.7L1814.7,1232.4L1814.7,1231.4Z" fill="#ae62ea"/><path d="M1812.2,1227.5L1817.8,1227.5L1831.2,1240.4L1831.2,1245.8L1817.8,1258.7L1812.2,1258.7L1798.8,1245.8L1798.8,1240.4Z" fill="#8b4cc4"/><path d="M1814.5,1236.3L1815.5,1236.3L1821.8,1242.6L1821.8,1243.6L1815.5,1249.9L1814.5,1249.9L1808.2,1243.6L1808.2,1242.6Z" fill="#ae62ea"/><path d="M1805.8,1237.3L1811.3,1237.3L1824.8,1250.2L1824.8,1255.6L1811.3,1268.5L1805.8,1268.5L1792.4,1255.6L1792.4,1250.2Z" fill="#8b4cc4"/><path d="M1808.1,1246.1L1809.1,1246.1L1815.4,1252.4L1815.4,1253.4L1809.1,1259.7L1808.1,1259.7L1801.8,1253.4L1801.8,1252.4Z" fill="#ae62ea"/><path d="M1799.7,1245.7L1805.2,1245.7L1818.6,1258.6L1818.6,1264.0L1805.2,1276.9L1799.7,1276.9L1786.2,1264.0L1786.2,1258.6Z" fill="#8b4cc4"/><path d="M1801.9,1254.5L1802.9,1254.5L1809.2,1260.8L1809.2,1261.8L1802.9,1268.1L1801.9,1268.1L1795.6,1261.8L1795.6,1260.8Z" fill="#ae62ea"/><path d="M1797.5,1247.7L1803.0,1247.7L1816.4,1260.7L1816.4,1266.0L1803.0,1279.0L1797.5,1279.0L1784.0,1266.0L1784.0,1260.7Z" fill="#8b4cc4"/><path d="M1799.7,1256.5L1800.7,1256.5L1807.0,1262.8L1807.0,1263.8L1800.7,1270.1L1799.7,1270.1L1793.4,1263.8L1793.4,1262.8Z" fill="#ae62ea"/><path d="M1795.3,1249.8L1800.8,1249.8L1814.2,1262.7L1814.2,1268.0L1800.8,1281.0L1795.3,1281.0L1781.8,1268.0L1781.8,1262.7Z" fill="#8b4cc4"/><path d="M1797.5,1258.6L1798.5,1258.6L1804.8,1264.9L1804.8,1265.9L1798.5,1272.2L1797.5,1272.2L1791.2,1265.9L1791.2,1264.9Z" fill="#ae62ea"/><path d="M1793.1,1251.8L1798.6,1251.8L1812.0,1264.8L1812.0,1270.1L1798.6,1283.1L1793.1,1283.1L1779.6,1270.1L1779.6,1264.8Z" fill="#8b4cc4"/><path d="M1795.3,1260.6L1796.3,1260.6L1802.6,1266.9L1802.6,1267.9L1796.3,1274.2L1795.3,1274.2L1789.0,1267.9L1789.0,1266.9Z" fill="#ae62ea"/><path d="M1790.9,1253.9L1796.4,1253.9L1809.8,1266.8L1809.8,1272.1L1796.4,1285.1L1790.9,1285.1L1777.4,1272.1L1777.4,1266.8Z" fill="#8b4cc4"/><path d="M1793.1,1262.7L1794.1,1262.7L1800.4,1269.0L1800.4,1270.0L1794.1,1276.3L1793.1,1276.3L1786.8,1270.0L1786.8,1269.0Z" fill="#ae62ea"/><path d="M1788.7,1255.9L1794.2,1255.9L1807.7,1268.9L1807.7,1274.2L1794.2,1287.2L1788.7,1287.2L1775.3,1274.2L1775.3,1268.9Z" fill="#8b4cc4"/><path d="M1791.0,1264.8L1792.0,1264.8L1798.3,1271.1L1798.3,1272.1L1792.0,1278.4L1791.0,1278.4L1784.7,1272.1L1784.7,1271.1Z" fill="#ae62ea"/><path d="M1786.7,1258.2L1792.2,1258.2L1805.7,1271.2L1805.7,1276.5L1792.2,1289.5L1786.7,1289.5L1773.3,1276.5L1773.3,1271.2Z" fill="#8b4cc4"/><path d="M1789.0,1267.0L1790.0,1267.0L1796.3,1273.3L1796.3,1274.3L1790.0,1280.6L1789.0,1280.6L1782.7,1274.3L1782.7,1273.3Z" fill="#ae62ea"/><path d="M1784.7,1260.4L1790.2,1260.4L1803.7,1273.4L1803.7,1278.7L1790.2,1291.7L1784.7,1291.7L1771.3,1278.7L1771.3,1273.4Z" fill="#8b4cc4"/><path d="M1787.0,1269.3L1788.0,1269.3L1794.3,1275.6L1794.3,1276.6L1788.0,1282.9L1787.0,1282.9L1780.7,1276.6L1780.7,1275.6Z" fill="#ae62ea"/><path d="M1782.8,1262.7L1788.3,1262.7L1801.7,1275.7L1801.7,1281.0L1788.3,1293.9L1782.8,1293.9L1769.3,1281.0L1769.3,1275.7Z" fill="#8b4cc4"/><path d="M1785.0,1271.5L1786.0,1271.5L1792.3,1277.8L1792.3,1278.8L1786.0,1285.1L1785.0,1285.1L1778.7,1278.8L1778.7,1277.8Z" fill="#ae62ea"/><path d="M1780.8,1264.9L1786.3,1264.9L1799.7,1277.9L1799.7,1283.2L1786.3,1296.2L1780.8,1296.2L1767.3,1283.2L1767.3,1277.9Z" fill="#8b4cc4"/><path d="M1783.0,1273.8L1784.0,1273.8L1790.3,1280.1L1790.3,1281.1L1784.0,1287.4L1783.0,1287.4L1776.7,1281.1L1776.7,1280.1Z" fill="#ae62ea"/><path d="M1778.8,1267.2L1784.3,1267.2L1797.8,1280.2L1797.8,1285.5L1784.3,1298.5L1778.8,1298.5L1765.4,1285.5L1765.4,1280.2Z" fill="#8b4cc4"/><path d="M1781.1,1276.0L1782.1,1276.0L1788.4,1282.3L1788.4,1283.3L1782.1,1289.6L1781.1,1289.6L1774.8,1283.3L1774.8,1282.3Z" fill="#ae62ea"/><path d="M1776.8,1269.5L1782.3,1269.5L1795.8,1282.4L1795.8,1287.8L1782.3,1300.7L1776.8,1300.7L1763.4,1287.8L1763.4,1282.4Z" fill="#8b4cc4"/><path d="M1779.1,1278.3L1780.1,1278.3L1786.4,1284.6L1786.4,1285.6L1780.1,1291.9L1779.1,1291.9L1772.8,1285.6L1772.8,1284.6Z" fill="#ae62ea"/><path d="M1774.9,1271.7L1780.4,1271.7L1793.8,1284.7L1793.8,1290.0L1780.4,1303.0L1774.9,1303.0L1761.4,1290.0L1761.4,1284.7Z" fill="#8b4cc4"/><path d="M1777.1,1280.6L1778.1,1280.6L1784.4,1286.9L1784.4,1287.9L1778.1,1294.2L1777.1,1294.2L1770.8,1287.9L1770.8,1286.9Z" fill="#ae62ea"/><path d="M1774.3,1272.4L1779.8,1272.4L1793.3,1285.3L1793.3,1290.7L1779.8,1303.6L1774.3,1303.6L1760.9,1290.7L1760.9,1285.3Z" fill="#8b4cc4"/><path d="M1776.6,1281.2L1777.6,1281.2L1783.9,1287.5L1783.9,1288.5L1777.6,1294.8L1776.6,1294.8L1770.3,1288.5L1770.3,1287.5Z" fill="#ae62ea"/><path d="M1774.3,1272.4L1779.8,1272.4L1793.3,1285.3L1793.3,1290.7L1779.8,1303.6L1774.3,1303.6L1760.9,1290.7L1760.9,1285.3Z" fill="#8b4cc4"/><path d="M1776.6,1281.2L1777.6,1281.2L1783.9,1287.5L1783.9,1288.5L1777.6,1294.8L1776.6,1294.8L1770.3,1288.5L1770.3,1287.5Z" fill="#ae62ea"/><path d="M1774.3,1272.4L1779.8,1272.4L1793.3,1285.3L1793.3,1290.7L1779.8,1303.6L1774.3,1303.6L1760.9,1290.7L1760.9,1285.3Z" fill="#8b4cc4"/><path d="M1776.6,1281.2L1777.6,1281.2L1783.9,1287.5L1783.9,1288.5L1777.6,1294.8L1776.6,1294.8L1770.3,1288.5L1770.3,1287.5Z" fill="#ae62ea"/><path d="M1774.3,1272.4L1779.8,1272.4L1793.3,1285.3L1793.3,1290.7L1779.8,1303.6L1774.3,1303.6L1760.9,1290.7L1760.9,1285.3Z" fill="#8b4cc4"/><path d="M1776.6,1281.2L1777.6,1281.2L1783.9,1287.5L1783.9,1288.5L1777.6,1294.8L1776.6,1294.8L1770.3,1288.5L1770.3,1287.5Z" fill="#ae62ea"/><path d="M1774.3,1272.4L1779.8,1272.4L1793.3,1285.3L1793.3,1290.7L1779.8,1303.6L1774.3,1303.6L1760.9,1290.7L1760.9,1285.3Z" fill="#8b4cc4"/><path d="M1776.6,1281.2L1777.6,1281.2L1783.9,1287.5L1783.9,1288.5L1777.6,1294.8L1776.6,1294.8L1770.3,1288.5L1770.3,1287.5Z" fill="#ae62ea"/><path d="M1774.3,1272.4L1779.8,1272.4L1793.3,1285.3L1793.3,1290.7L1779.8,1303.6L1774.3,1303.6L1760.9,1290.7L1760.9,1285.3Z" fill="#8b4cc4"/><path d="M1776.6,1281.2L1777.6,1281.2L1783.9,1287.5L1783.9,1288.5L1777.6,1294.8L1776.6,1294.8L1770.3,1288.5L1770.3,1287.5Z" fill="#ae62ea"/><path d="M1774.3,1272.4L1779.8,1272.4L1793.3,1285.3L1793.3,1290.7L1779.8,1303.6L1774.3,1303.6L1760.9,1290.7L1760.9,1285.3Z" fill="#8b4cc4"/><path d="M1776.6,1281.2L1777.6,1281.2L1783.9,1287.5L1783.9,1288.5L1777.6,1294.8L1776.6,1294.8L1770.3,1288.5L1770.3,1287.5Z" fill="#ae62ea"/><path d="M1774.3,1272.4L1779.8,1272.4L1793.3,1285.3L1793.3,1290.7L1779.8,1303.6L1774.3,1303.6L1760.9,1290.7L1760.9,1285.3Z" fill="#8b4cc4"/><path d="M1776.6,1281.2L1777.6,1281.2L1783.9,1287.5L1783.9,1288.5L1777.6,1294.8L1776.6,1294.8L1770.3,1288.5L1770.3,1287.5Z" fill="#ae62ea"/><path d="M1774.3,1272.4L1779.8,1272.4L1793.3,1285.3L1793.3,1290.7L1779.8,1303.6L1774.3,1303.6L1760.9,1290.7L1760.9,1285.3Z" fill="#8b4cc4"/><path d="M1776.6,1281.2L1777.6,1281.2L1783.9,1287.5L1783.9,1288.5L1777.6,1294.8L1776.6,1294.8L1770.3,1288.5L1770.3,1287.5Z" fill="#ae62ea"/></g>
<g><path d="M405.2,1292.4L410.8,1292.4L424.2,1305.3L424.2,1310.7L410.8,1323.6L405.2,1323.6L391.8,1310.7L391.8,1305.3Z" fill="#2cb8cc"/><path d="M407.5,1301.2L408.5,1301.2L414.8,1307.5L414.8,1308.5L408.5,1314.8L407.5,1314.8L401.2,1308.5L401.2,1307.5Z" fill="#3ee8fa"/><path d="M405.2,1292.4L410.8,1292.4L424.2,1305.3L424.2,1310.7L410.8,1323.6L405.2,1323.6L391.8,1310.7L391.8,1305.3Z" fill="#2cb8cc"/><path d="M407.5,1301.2L408.5,1301.2L414.8,1307.5L414.8,1308.5L408.5,1314.8L407.5,1314.8L401.2,1308.5L401.2,1307.5Z" fill="#3ee8fa"/><path d="M405.2,1292.4L410.8,1292.4L424.2,1305.3L424.2,1310.7L410.8,1323.6L405.2,1323.6L391.8,1310.7L391.8,1305.3Z" fill="#2cb8cc"/><path d="M407.5,1301.2L408.5,1301.2L414.8,1307.5L414.8,1308.5L408.5,1314.8L407.5,1314.8L401.2,1308.5L401.2,1307.5Z" fill="#3ee8fa"/><path d="M405.2,1292.4L410.8,1292.4L424.2,1305.3L424.2,1310.7L410.8,1323.6L405.2,1323.6L391.8,1310.7L391.8,1305.3Z" fill="#2cb8cc"/><path d="M407.5,1301.2L408.5,1301.2L414.8,1307.5L414.8,1308.5L408.5,1314.8L407.5,1314.8L401.2,1308.5L401.2,1307.5Z" fill="#3ee8fa"/><path d="M405.2,1292.4L410.8,1292.4L424.2,1305.3L424.2,1310.7L410.8,1323.6L405.2,1323.6L391.8,1310.7L391.8,1305.3Z" fill="#2cb8cc"/><path d="M407.5,1301.2L408.5,1301.2L414.8,1307.5L414.8,1308.5L408.5,1314.8L407.5,1314.8L401.2,1308.5L401.2,1307.5Z" fill="#3ee8fa"/><path d="M405.2,1292.4L410.8,1292.4L424.2,1305.3L424.2,1310.7L410.8,1323.6L405.2,1323.6L391.8,1310.7L391.8,1305.3Z" fill="#2cb8cc"/><path d="M407.5,1301.2L408.5,1301.2L414.8,1307.5L414.8,1308.5L408.5,1314.8L407.5,1314.8L401.2,1308.5L401.2,1307.5Z" fill="#3ee8fa"/><path d="M405.2,1292.4L410.8,1292.4L424.2,1305.3L424.2,1310.7L410.8,1323.6L405.2,1323.6L391.8,1310.7L391.8,1305.3Z" fill="#2cb8cc"/><path d="M407.5,1301.2L408.5,1301.2L414.8,1307.5L414.8,1308.5L408.5,1314.8L407.5,1314.8L401.2,1308.5L401.2,1307.5Z" fill="#3ee8fa"/><path d="M405.2,1292.4L410.8,1292.4L424.2,1305.3L424.2,1310.7L410.8,1323.6L405.2,1323.6L391.8,1310.7L391.8,1305.3Z" fill="#2cb8cc"/><path d="M407.5,1301.2L408.5,1301.2L414.8,1307.5L414.8,1308.5L408.5,1314.8L407.5,1314.8L401.2,1308.5L401.2,1307.5Z" fill="#3ee8fa"/><path d="M405.2,1292.4L410.8,1292.4L424.2,1305.3L424.2,1310.7L410.8,1323.6L405.2,1323.6L391.8,1310.7L391.8,1305.3Z" fill="#2cb8cc"/><path d="M407.5,1301.2L408.5,1301.2L414.8,1307.5L414.8,1308.5L408.5,1314.8L407.5,1314.8L401.2,1308.5L401.2,1307.5Z" fill="#3ee8fa"/><path d="M407.8,1290.9L413.3,1290.9L426.8,1303.8L426.8,1309.1L413.3,1322.1L407.8,1322.1L394.4,1309.1L394.4,1303.8Z" fill="#2cb8cc"/><path d="M410.1,1299.7L411.1,1299.7L417.4,1306.0L417.4,1307.0L411.1,1313.3L410.1,1313.3L403.8,1307.0L403.8,1306.0Z" fill="#3ee8fa"/><path d="M410.4,1289.3L415.9,1289.3L429.4,1302.3L429.4,1307.6L415.9,1320.6L410.4,1320.6L397.0,1307.6L397.0,1302.3Z" fill="#2cb8cc"/><path d="M412.7,1298.2L413.7,1298.2L420.0,1304.5L420.0,1305.5L413.7,1311.8L412.7,1311.8L406.4,1305.5L406.4,1304.5Z" fill="#3ee8fa"/><path d="M413.0,1287.8L418.5,1287.8L432.0,1300.8L432.0,1306.1L418.5,1319.1L413.0,1319.1L399.6,1306.1L399.6,1300.8Z" fill="#2cb8cc"/><path d="M415.3,1296.7L416.3,1296.7L422.6,1303.0L422.6,1304.0L416.3,1310.3L415.3,1310.3L409.0,1304.0L409.0,1303.0Z" fill="#3ee8fa"/><path d="M415.6,1286.3L421.1,1286.3L434.6,1299.3L434.6,1304.6L421.1,1317.6L415.6,1317.6L402.2,1304.6L402.2,1299.3Z" fill="#2cb8cc"/><path d="M417.9,1295.2L418.9,1295.2L425.2,1301.5L425.2,1302.5L418.9,1308.8L417.9,1308.8L411.6,1302.5L411.6,1301.5Z" fill="#3ee8fa"/><path d="M418.2,1284.8L423.7,1284.8L437.2,1297.8L437.2,1303.1L423.7,1316.1L418.2,1316.1L404.8,1303.1L404.8,1297.8Z" fill="#2cb8cc"/><path d="M420.5,1293.7L421.5,1293.7L427.8,1300.0L427.8,1301.0L421.5,1307.3L420.5,1307.3L414.2,1301.0L414.2,1300.0Z" fill="#3ee8fa"/><path d="M420.9,1283.4L426.4,1283.4L439.8,1296.4L439.8,1301.7L426.4,1314.7L420.9,1314.7L407.4,1301.7L407.4,1296.4Z" fill="#2cb8cc"/><path d="M423.1,1292.3L424.1,1292.3L430.4,1298.6L430.4,1299.6L424.1,1305.9L423.1,1305.9L416.8,1299.6L416.8,1298.6Z" fill="#3ee8fa"/><path d="M423.5,1282.0L429.0,1282.0L442.5,1295.0L442.5,1300.3L429.0,1313.3L423.5,1313.3L410.1,1300.3L410.1,1295.0Z" fill="#2cb8cc"/><path d="M425.8,1290.9L426.8,1290.9L433.1,1297.2L433.1,1298.2L426.8,1304.5L425.8,1304.5L419.5,1298.2L419.5,1297.2Z" fill="#3ee8fa"/><path d="M426.2,1280.6L431.7,1280.6L445.1,1293.6L445.1,1298.9L431.7,1311.9L426.2,1311.9L412.7,1298.9L412.7,1293.6Z" fill="#2cb8cc"/><path d="M428.4,1289.5L429.4,1289.5L435.7,1295.8L435.7,1296.8L429.4,1303.1L428.4,1303.1L422.1,1296.8L422.1,1295.8Z" fill="#3ee8fa"/><path d="M428.8,1279.2L434.3,1279.2L447.8,1292.2L447.8,1297.5L434.3,1310.5L428.8,1310.5L415.4,1297.5L415.4,1292.2Z" fill="#2cb8cc"/><path d="M431.1,1288.1L432.1,1288.1L438.4,1294.4L438.4,1295.4L432.1,1301.7L431.1,1301.7L424.8,1295.4L424.8,1294.4Z" fill="#3ee8fa"/><path d="M431.5,1277.8L437.0,1277.8L450.4,1290.8L450.4,1296.1L437.0,1309.1L431.5,1309.1L418.0,1296.1L418.0,1290.8Z" fill="#2cb8cc"/><path d="M433.7,1286.7L434.7,1286.7L441.0,1293.0L441.0,1294.0L434.7,1300.3L433.7,1300.3L427.4,1294.0L427.4,1293.0Z" fill="#3ee8fa"/><path d="M434.0,1276.3L439.5,1276.3L453.0,1289.3L453.0,1294.6L439.5,1307.6L434.0,1307.6L420.6,1294.6L420.6,1289.3Z" fill="#2cb8cc"/><path d="M436.3,1285.1L437.3,1285.1L443.6,1291.4L443.6,1292.4L437.3,1298.7L436.3,1298.7L430.0,1292.4L430.0,1291.4Z" fill="#3ee8fa"/><path d="M436.2,1274.3L441.7,1274.3L455.2,1287.2L455.2,1292.5L441.7,1305.5L436.2,1305.5L422.8,1292.5L422.8,1287.2Z" fill="#2cb8cc"/><path d="M438.5,1283.1L439.5,1283.1L445.8,1289.4L445.8,1290.4L439.5,1296.7L438.5,1296.7L432.2,1290.4L432.2,1289.4Z" fill="#3ee8fa"/><path d="M438.4,1272.2L443.9,1272.2L457.4,1285.2L457.4,1290.5L443.9,1303.5L438.4,1303.5L425.0,1290.5L425.0,1285.2Z" fill="#2cb8cc"/><path d="M440.7,1281.0L441.7,1281.0L448.0,1287.3L448.0,1288.3L441.7,1294.6L440.7,1294.6L434.4,1288.3L434.4,1287.3Z" fill="#3ee8fa"/><path d="M440.6,1270.2L446.1,1270.2L459.6,1283.1L459.6,1288.5L446.1,1301.4L440.6,1301.4L427.2,1288.5L427.2,1283.1Z" fill="#2cb8cc"/><path d="M442.9,1279.0L443.9,1279.0L450.2,1285.3L450.2,1286.3L443.9,1292.6L442.9,1292.6L436.6,1286.3L436.6,1285.3Z" fill="#3ee8fa"/><path d="M442.8,1268.1L448.3,1268.1L461.8,1281.1L461.8,1286.4L448.3,1299.4L442.8,1299.4L429.4,1286.4L429.4,1281.1Z" fill="#2cb8cc"/><path d="M445.1,1277.0L446.1,1277.0L452.4,1283.3L452.4,1284.3L446.1,1290.6L445.1,1290.6L438.8,1284.3L438.8,1283.3Z" fill="#3ee8fa"/><path d="M445.0,1266.1L450.5,1266.1L464.0,1279.1L464.0,1284.4L450.5,1297.3L445.0,1297.3L431.6,1284.4L431.6,1279.1Z" fill="#2cb8cc"/><path d="M447.3,1274.9L448.3,1274.9L454.6,1281.2L454.6,1282.2L448.3,1288.5L447.3,1288.5L441.0,1282.2L441.0,1281.2Z" fill="#3ee8fa"/><path d="M447.2,1264.0L452.7,1264.0L466.2,1277.0L466.2,1282.3L452.7,1295.3L447.2,1295.3L433.8,1282.3L433.8,1277.0Z" fill="#2cb8cc"/><path d="M449.5,1272.9L450.5,1272.9L456.8,1279.2L456.8,1280.2L450.5,1286.5L449.5,1286.5L443.2,1280.2L443.2,1279.2Z" fill="#3ee8fa"/><path d="M449.4,1262.0L454.9,1262.0L468.4,1275.0L468.4,1280.3L454.9,1293.3L449.4,1293.3L436.0,1280.3L436.0,1275.0Z" fill="#2cb8cc"/><path d="M451.7,1270.8L452.7,1270.8L459.0,1277.1L459.0,1278.1L452.7,1284.4L451.7,1284.4L445.4,1278.1L445.4,1277.1Z" fill="#3ee8fa"/><path d="M451.6,1260.0L457.1,1260.0L470.6,1272.9L470.6,1278.2L457.1,1291.2L451.6,1291.2L438.2,1278.2L438.2,1272.9Z" fill="#2cb8cc"/><path d="M453.9,1268.8L454.9,1268.8L461.2,1275.1L461.2,1276.1L454.9,1282.4L453.9,1282.4L447.6,1276.1L447.6,1275.1Z" fill="#3ee8fa"/><path d="M453.7,1257.8L459.2,1257.8L472.7,1270.8L472.7,1276.1L459.2,1289.1L453.7,1289.1L440.3,1276.1L440.3,1270.8Z" fill="#2cb8cc"/><path d="M456.0,1266.6L457.0,1266.6L463.3,1272.9L463.3,1273.9L457.0,1280.2L456.0,1280.2L449.7,1273.9L449.7,1272.9Z" fill="#3ee8fa"/><path d="M455.8,1255.6L461.3,1255.6L474.7,1268.6L474.7,1273.9L461.3,1286.9L455.8,1286.9L442.3,1273.9L442.3,1268.6Z" fill="#2cb8cc"/><path d="M458.0,1264.4L459.0,1264.4L465.3,1270.7L465.3,1271.7L459.0,1278.0L458.0,1278.0L451.7,1271.7L451.7,1270.7Z" fill="#3ee8fa"/><path d="M457.8,1253.4L463.3,1253.4L476.8,1266.4L476.8,1271.7L463.3,1284.7L457.8,1284.7L444.4,1271.7L444.4,1266.4Z" fill="#2cb8cc"/><path d="M460.1,1262.3L461.1,1262.3L467.4,1268.6L467.4,1269.6L461.1,1275.9L460.1,1275.9L453.8,1269.6L453.8,1268.6Z" fill="#3ee8fa"/><path d="M459.9,1251.2L465.4,1251.2L478.8,1264.2L478.8,1269.5L465.4,1282.5L459.9,1282.5L446.4,1269.5L446.4,1264.2Z" fill="#2cb8cc"/><path d="M462.1,1260.1L463.1,1260.1L469.4,1266.4L469.4,1267.4L463.1,1273.7L462.1,1273.7L455.8,1267.4L455.8,1266.4Z" fill="#3ee8fa"/><path d="M461.9,1249.1L467.4,1249.1L480.9,1262.0L480.9,1267.3L467.4,1280.3L461.9,1280.3L448.5,1267.3L448.5,1262.0Z" fill="#2cb8cc"/><path d="M464.2,1257.9L465.2,1257.9L471.5,1264.2L471.5,1265.2L465.2,1271.5L464.2,1271.5L457.9,1265.2L457.9,1264.2Z" fill="#3ee8fa"/><path d="M464.0,1246.9L469.5,1246.9L482.9,1259.8L482.9,1265.1L469.5,1278.1L464.0,1278.1L450.5,1265.1L450.5,1259.8Z" fill="#2cb8cc"/><path d="M466.2,1255.7L467.2,1255.7L473.5,1262.0L473.5,1263.0L467.2,1269.3L466.2,1269.3L459.9,1263.0L459.9,1262.0Z" fill="#3ee8fa"/><path d="M466.0,1244.7L471.5,1244.7L485.0,1257.7L485.0,1263.0L471.5,1275.9L466.0,1275.9L452.6,1263.0L452.6,1257.7Z" fill="#2cb8cc"/><path d="M468.3,1253.5L469.3,1253.5L475.6,1259.8L475.6,1260.8L469.3,1267.1L468.3,1267.1L462.0,1260.8L462.0,1259.8Z" fill="#3ee8fa"/><path d="M468.1,1242.5L473.6,1242.5L487.0,1255.5L487.0,1260.8L473.6,1273.8L468.1,1273.8L454.6,1260.8L454.6,1255.5Z" fill="#2cb8cc"/><path d="M470.3,1251.3L471.3,1251.3L477.6,1257.6L477.6,1258.6L471.3,1264.9L470.3,1264.9L464.0,1258.6L464.0,1257.6Z" fill="#3ee8fa"/><path d="M470.2,1240.3L475.7,1240.3L489.1,1253.3L489.1,1258.6L475.7,1271.6L470.2,1271.6L456.7,1258.6L456.7,1253.3Z" fill="#2cb8cc"/><path d="M472.4,1249.2L473.4,1249.2L479.7,1255.5L479.7,1256.5L473.4,1262.8L472.4,1262.8L466.1,1256.5L466.1,1255.5Z" fill="#3ee8fa"/><path d="M472.3,1238.2L477.8,1238.2L491.2,1251.2L491.2,1256.5L477.8,1269.5L472.3,1269.5L458.8,1256.5L458.8,1251.2Z" fill="#2cb8cc"/><path d="M474.5,1247.0L475.5,1247.0L481.8,1253.3L481.8,1254.3L475.5,1260.6L474.5,1260.6L468.2,1254.3L468.2,1253.3Z" fill="#3ee8fa"/><path d="M474.4,1236.0L479.9,1236.0L493.3,1249.0L493.3,1254.3L479.9,1267.3L474.4,1267.3L460.9,1254.3L460.9,1249.0Z" fill="#2cb8cc"/><path d="M476.6,1244.9L477.6,1244.9L483.9,1251.2L483.9,1252.2L477.6,1258.5L476.6,1258.5L470.3,1252.2L470.3,1251.2Z" fill="#3ee8fa"/><path d="M476.8,1233.6L482.2,1233.6L495.7,1246.5L495.7,1251.9L482.2,1264.8L476.8,1264.8L463.3,1251.9L463.3,1246.5Z" fill="#2cb8cc"/><path d="M479.0,1242.4L480.0,1242.4L486.3,1248.7L486.3,1249.7L480.0,1256.0L479.0,1256.0L472.7,1249.7L472.7,1248.7Z" fill="#3ee8fa"/><path d="M481.8,1226.1L487.2,1226.1L500.7,1239.0L500.7,1244.4L487.2,1257.3L481.8,1257.3L468.3,1244.4L468.3,1239.0Z" fill="#2cb8cc"/><path d="M484.0,1234.9L485.0,1234.9L491.3,1241.2L491.3,1242.2L485.0,1248.5L484.0,1248.5L477.7,1242.2L477.7,1241.2Z" fill="#3ee8fa"/><path d="M485.1,1219.5L490.6,1219.5L504.0,1232.4L504.0,1237.8L490.6,1250.7L485.1,1250.7L471.6,1237.8L471.6,1232.4Z" fill="#2cb8cc"/><path d="M487.3,1228.3L488.3,1228.3L494.6,1234.6L494.6,1235.6L488.3,1241.9L487.3,1241.9L481.0,1235.6L481.0,1234.6Z" fill="#3ee8fa"/><path d="M490.1,1211.2L495.6,1211.2L509.0,1224.1L509.0,1229.5L495.6,1242.4L490.1,1242.4L476.6,1229.5L476.6,1224.1Z" fill="#2cb8cc"/><path d="M492.3,1220.0L493.3,1220.0L499.6,1226.3L499.6,1227.3L493.3,1233.6L492.3,1233.6L486.0,1227.3L486.0,1226.3Z" fill="#3ee8fa"/><path d="M494.1,1203.7L499.6,1203.7L513.1,1216.6L513.1,1222.0L499.6,1234.9L494.1,1234.9L480.7,1222.0L480.7,1216.6Z" fill="#2cb8cc"/><path d="M496.4,1212.5L497.4,1212.5L503.7,1218.8L503.7,1219.8L497.4,1226.1L496.4,1226.1L490.1,1219.8L490.1,1218.8Z" fill="#3ee8fa"/><path d="M498.4,1195.4L503.9,1195.4L517.3,1208.3L517.3,1213.7L503.9,1226.6L498.4,1226.6L484.9,1213.7L484.9,1208.3Z" fill="#2cb8cc"/><path d="M500.6,1204.2L501.6,1204.2L507.9,1210.5L507.9,1211.5L501.6,1217.8L500.6,1217.8L494.3,1211.5L494.3,1210.5Z" fill="#3ee8fa"/><path d="M503.2,1185.5L508.8,1185.5L522.2,1198.4L522.2,1203.8L508.8,1216.7L503.2,1216.7L489.8,1203.8L489.8,1198.4Z" fill="#2cb8cc"/><path d="M505.5,1194.3L506.5,1194.3L512.8,1200.6L512.8,1201.6L506.5,1207.9L505.5,1207.9L499.2,1201.6L499.2,1200.6Z" fill="#3ee8fa"/><path d="M506.6,1176.3L512.1,1176.3L525.6,1189.2L525.6,1194.6L512.1,1207.5L506.6,1207.5L493.2,1194.6L493.2,1189.2Z" fill="#2cb8cc"/><path d="M508.9,1185.1L509.9,1185.1L516.2,1191.4L516.2,1192.4L509.9,1198.7L508.9,1198.7L502.6,1192.4L502.6,1191.4Z" fill="#3ee8fa"/><path d="M511.5,1165.6L517.0,1165.6L530.5,1178.5L530.5,1183.9L517.0,1196.8L511.5,1196.8L498.1,1183.9L498.1,1178.5Z" fill="#2cb8cc"/><path d="M513.8,1174.4L514.8,1174.4L521.1,1180.7L521.1,1181.7L514.8,1188.0L513.8,1188.0L507.5,1181.7L507.5,1180.7Z" fill="#3ee8fa"/><path d="M516.5,1154.8L522.0,1154.8L535.5,1167.7L535.5,1173.1L522.0,1186.0L516.5,1186.0L503.1,1173.1L503.1,1167.7Z" fill="#2cb8cc"/><path d="M518.8,1163.6L519.8,1163.6L526.1,1169.9L526.1,1170.9L519.8,1177.2L518.8,1177.2L512.5,1170.9L512.5,1169.9Z" fill="#3ee8fa"/><path d="M521.5,1144.0L527.0,1144.0L540.5,1156.9L540.5,1162.3L527.0,1175.2L521.5,1175.2L508.1,1162.3L508.1,1156.9Z" fill="#2cb8cc"/><path d="M523.8,1152.8L524.8,1152.8L531.1,1159.1L531.1,1160.1L524.8,1166.4L523.8,1166.4L517.5,1160.1L517.5,1159.1Z" fill="#3ee8fa"/><path d="M527.4,1130.7L532.9,1130.7L546.3,1143.6L546.3,1149.0L532.9,1161.9L527.4,1161.9L513.9,1149.0L513.9,1143.6Z" fill="#2cb8cc"/><path d="M529.6,1139.5L530.6,1139.5L536.9,1145.8L536.9,1146.8L530.6,1153.1L529.6,1153.1L523.3,1146.8L523.3,1145.8Z" fill="#3ee8fa"/><path d="M532.2,1117.5L537.8,1117.5L551.2,1130.4L551.2,1135.8L537.8,1148.7L532.2,1148.7L518.8,1135.8L518.8,1130.4Z" fill="#2cb8cc"/><path d="M534.5,1126.3L535.5,1126.3L541.8,1132.6L541.8,1133.6L535.5,1139.9L534.5,1139.9L528.2,1133.6L528.2,1132.6Z" fill="#3ee8fa"/><path d="M537.8,1102.5L543.2,1102.5L556.7,1115.4L556.7,1120.8L543.2,1133.7L537.8,1133.7L524.3,1120.8L524.3,1115.4Z" fill="#2cb8cc"/><path d="M540.0,1111.3L541.0,1111.3L547.3,1117.6L547.3,1118.6L541.0,1124.9L540.0,1124.9L533.7,1118.6L533.7,1117.6Z" fill="#3ee8fa"/><path d="M546.5,1087.6L552.0,1087.6L565.4,1100.5L565.4,1105.9L552.0,1118.8L546.5,1118.8L533.0,1105.9L533.0,1100.5Z" fill="#2cb8cc"/><path d="M548.7,1096.4L549.7,1096.4L556.0,1102.7L556.0,1103.7L549.7,1110.0L548.7,1110.0L542.4,1103.7L542.4,1102.7Z" fill="#3ee8fa"/><path d="M555.0,1070.7L560.5,1070.7L573.9,1083.6L573.9,1089.0L560.5,1101.9L555.0,1101.9L541.5,1089.0L541.5,1083.6Z" fill="#2cb8cc"/><path d="M557.2,1079.5L558.2,1079.5L564.5,1085.8L564.5,1086.8L558.2,1093.1L557.2,1093.1L550.9,1086.8L550.9,1085.8Z" fill="#3ee8fa"/><path d="M562.5,1054.0L568.0,1054.0L581.5,1066.9L581.5,1072.3L568.0,1085.2L562.5,1085.2L549.1,1072.3L549.1,1066.9Z" fill="#2cb8cc"/><path d="M564.8,1062.8L565.8,1062.8L572.1,1069.1L572.1,1070.1L565.8,1076.4L564.8,1076.4L558.5,1070.1L558.5,1069.1Z" fill="#3ee8fa"/><path d="M571.4,1035.6L576.9,1035.6L590.3,1048.5L590.3,1053.9L576.9,1066.8L571.4,1066.8L557.9,1053.9L557.9,1048.5Z" fill="#2cb8cc"/><path d="M573.6,1044.4L574.6,1044.4L580.9,1050.7L580.9,1051.7L574.6,1058.0L573.6,1058.0L567.3,1051.7L567.3,1050.7Z" fill="#3ee8fa"/><path d="M581.0,1017.9L586.5,1017.9L599.9,1030.8L599.9,1036.2L586.5,1049.1L581.0,1049.1L567.5,1036.2L567.5,1030.8Z" fill="#2cb8cc"/><path d="M583.2,1026.7L584.2,1026.7L590.5,1033.0L590.5,1034.0L584.2,1040.3L583.2,1040.3L576.9,1034.0L576.9,1033.0Z" fill="#3ee8fa"/><path d="M592.1,997.9L597.6,997.9L611.1,1010.8L611.1,1016.2L597.6,1029.1L592.1,1029.1L578.7,1016.2L578.7,1010.8Z" fill="#2cb8cc"/><path d="M594.4,1006.7L595.4,1006.7L601.7,1013.0L601.7,1014.0L595.4,1020.3L594.4,1020.3L588.1,1014.0L588.1,1013.0Z" fill="#3ee8fa"/><path d="M604.4,976.4L609.9,976.4L623.3,989.3L623.3,994.7L609.9,1007.6L604.4,1007.6L590.9,994.7L590.9,989.3Z" fill="#2cb8cc"/><path d="M606.6,985.2L607.6,985.2L613.9,991.5L613.9,992.5L607.6,998.8L606.6,998.8L600.3,992.5L600.3,991.5Z" fill="#3ee8fa"/><path d="M618.6,954.0L624.1,954.0L637.6,966.9L637.6,972.3L624.1,985.2L618.6,985.2L605.2,972.3L605.2,966.9Z" fill="#2cb8cc"/><path d="M620.9,962.8L621.9,962.8L628.2,969.1L628.2,970.1L621.9,976.4L620.9,976.4L614.6,970.1L614.6,969.1Z" fill="#3ee8fa"/><path d="M633.6,931.6L639.1,931.6L652.6,944.5L652.6,949.9L639.1,962.8L633.6,962.8L620.2,949.9L620.2,944.5Z" fill="#2cb8cc"/><path d="M635.9,940.4L636.9,940.4L643.2,946.7L643.2,947.7L636.9,954.0L635.9,954.0L629.6,947.7L629.6,946.7Z" fill="#3ee8fa"/><path d="M650.8,907.0L656.2,907.0L669.7,919.9L669.7,925.3L656.2,938.2L650.8,938.2L637.3,925.3L637.3,919.9Z" fill="#2cb8cc"/><path d="M653.0,915.8L654.0,915.8L660.3,922.1L660.3,923.1L654.0,929.4L653.0,929.4L646.7,923.1L646.7,922.1Z" fill="#3ee8fa"/><path d="M670.6,881.6L676.1,881.6L689.6,894.5L689.6,899.9L676.1,912.8L670.6,912.8L657.2,899.9L657.2,894.5Z" fill="#2cb8cc"/><path d="M672.9,890.4L673.9,890.4L680.2,896.7L680.2,897.7L673.9,904.0L672.9,904.0L666.6,897.7L666.6,896.7Z" fill="#3ee8fa"/><path d="M693.0,856.4L698.5,856.4L712.0,869.3L712.0,874.7L698.5,887.6L693.0,887.6L679.6,874.7L679.6,869.3Z" fill="#2cb8cc"/><path d="M695.3,865.2L696.3,865.2L702.6,871.5L702.6,872.5L696.3,878.8L695.3,878.8L689.0,872.5L689.0,871.5Z" fill="#3ee8fa"/><path d="M717.4,829.2L722.9,829.2L736.3,842.1L736.3,847.5L722.9,860.4L717.4,860.4L703.9,847.5L703.9,842.1Z" fill="#2cb8cc"/><path d="M719.6,838.0L720.6,838.0L726.9,844.3L726.9,845.3L720.6,851.6L719.6,851.6L713.3,845.3L713.3,844.3Z" fill="#3ee8fa"/><path d="M744.5,802.0L750.0,802.0L763.5,814.9L763.5,820.3L750.0,833.2L744.5,833.2L731.1,820.3L731.1,814.9Z" fill="#2cb8cc"/><path d="M746.8,810.8L747.8,810.8L754.1,817.1L754.1,818.1L747.8,824.4L746.8,824.4L740.5,818.1L740.5,817.1Z" fill="#3ee8fa"/><path d="M776.9,774.5L782.4,774.5L795.8,787.4L795.8,792.8L782.4,805.7L776.9,805.7L763.4,792.8L763.4,787.4Z" fill="#2cb8cc"/><path d="M779.1,783.3L780.1,783.3L786.4,789.6L786.4,790.6L780.1,796.9L779.1,796.9L772.8,790.6L772.8,789.6Z" fill="#3ee8fa"/><path d="M810.5,747.8L816.0,747.8L829.5,760.7L829.5,766.1L816.0,779.0L810.5,779.0L797.1,766.1L797.1,760.7Z" fill="#2cb8cc"/><path d="M812.8,756.6L813.8,756.6L820.1,762.9L820.1,763.9L813.8,770.2L812.8,770.2L806.5,763.9L806.5,762.9Z" fill="#3ee8fa"/><path d="M849.9,721.2L855.4,721.2L868.8,734.1L868.8,739.5L855.4,752.4L849.9,752.4L836.4,739.5L836.4,734.1Z" fill="#2cb8cc"/><path d="M852.1,730.0L853.1,730.0L859.4,736.3L859.4,737.3L853.1,743.6L852.1,743.6L845.8,737.3L845.8,736.3Z" fill="#3ee8fa"/><path d="M892.8,697.3L898.2,697.3L911.7,710.2L911.7,715.6L898.2,728.5L892.8,728.5L879.3,715.6L879.3,710.2Z" fill="#2cb8cc"/><path d="M895.0,706.1L896.0,706.1L902.3,712.4L902.3,713.4L896.0,719.7L895.0,719.7L888.7,713.4L888.7,712.4Z" fill="#3ee8fa"/><path d="M941.0,674.0L946.5,674.0L960.0,686.9L960.0,692.3L946.5,705.2L941.0,705.2L927.6,692.3L927.6,686.9Z" fill="#2cb8cc"/><path d="M943.3,682.8L944.3,682.8L950.6,689.1L950.6,690.1L944.3,696.4L943.3,696.4L937.0,690.1L937.0,689.1Z" fill="#3ee8fa"/><path d="M993.2,653.4L998.8,653.4L1012.2,666.3L1012.2,671.7L998.8,684.6L993.2,684.6L979.8,671.7L979.8,666.3Z" fill="#2cb8cc"/><path d="M995.5,662.2L996.5,662.2L1002.8,668.5L1002.8,669.5L996.5,675.8L995.5,675.8L989.2,669.5L989.2,668.5Z" fill="#3ee8fa"/><path d="M1047.7,637.2L1053.2,637.2L1066.6,650.1L1066.6,655.5L1053.2,668.4L1047.7,668.4L1034.2,655.5L1034.2,650.1Z" fill="#2cb8cc"/><path d="M1049.9,646.0L1050.9,646.0L1057.2,652.3L1057.2,653.3L1050.9,659.6L1049.9,659.6L1043.6,653.3L1043.6,652.3Z" fill="#3ee8fa"/><path d="M1107.2,624.4L1112.8,624.4L1126.2,637.3L1126.2,642.7L1112.8,655.6L1107.2,655.6L1093.8,642.7L1093.8,637.3Z" fill="#2cb8cc"/><path d="M1109.5,633.2L1110.5,633.2L1116.8,639.5L1116.8,640.5L1110.5,646.8L1109.5,646.8L1103.2,640.5L1103.2,639.5Z" fill="#3ee8fa"/><path d="M1169.5,617.4L1175.0,617.4L1188.4,630.3L1188.4,635.7L1175.0,648.6L1169.5,648.6L1156.0,635.7L1156.0,630.3Z" fill="#2cb8cc"/><path d="M1171.7,626.2L1172.7,626.2L1179.0,632.5L1179.0,633.5L1172.7,639.8L1171.7,639.8L1165.4,633.5L1165.4,632.5Z" fill="#3ee8fa"/><path d="M1233.8,617.4L1239.3,617.4L1252.8,630.3L1252.8,635.7L1239.3,648.6L1233.8,648.6L1220.4,635.7L1220.4,630.3Z" fill="#2cb8cc"/><path d="M1236.1,626.2L1237.1,626.2L1243.4,632.5L1243.4,633.5L1237.1,639.8L1236.1,639.8L1229.8,633.5L1229.8,632.5Z" fill="#3ee8fa"/><path d="M1298.5,624.4L1304.0,624.4L1317.5,637.3L1317.5,642.7L1304.0,655.6L1298.5,655.6L1285.1,642.7L1285.1,637.3Z" fill="#2cb8cc"/><path d="M1300.8,633.2L1301.8,633.2L1308.1,639.5L1308.1,640.5L1301.8,646.8L1300.8,646.8L1294.5,640.5L1294.5,639.5Z" fill="#3ee8fa"/><path d="M1364.0,637.2L1369.5,637.2L1382.9,650.1L1382.9,655.5L1369.5,668.4L1364.0,668.4L1350.5,655.5L1350.5,650.1Z" fill="#2cb8cc"/><path d="M1366.2,646.0L1367.2,646.0L1373.5,652.3L1373.5,653.3L1367.2,659.6L1366.2,659.6L1359.9,653.3L1359.9,652.3Z" fill="#3ee8fa"/><path d="M1427.2,657.4L1432.8,657.4L1446.2,670.3L1446.2,675.7L1432.8,688.6L1427.2,688.6L1413.8,675.7L1413.8,670.3Z" fill="#2cb8cc"/><path d="M1429.5,666.2L1430.5,666.2L1436.8,672.5L1436.8,673.5L1430.5,679.8L1429.5,679.8L1423.2,673.5L1423.2,672.5Z" fill="#3ee8fa"/><path d="M1484.8,684.0L1490.2,684.0L1503.7,696.9L1503.7,702.3L1490.2,715.2L1484.8,715.2L1471.3,702.3L1471.3,696.9Z" fill="#2cb8cc"/><path d="M1487.0,692.8L1488.0,692.8L1494.3,699.1L1494.3,700.1L1488.0,706.4L1487.0,706.4L1480.7,700.1L1480.7,699.1Z" fill="#3ee8fa"/><path d="M1538.5,716.3L1544.0,716.3L1557.4,729.2L1557.4,734.6L1544.0,747.5L1538.5,747.5L1525.0,734.6L1525.0,729.2Z" fill="#2cb8cc"/><path d="M1540.7,725.1L1541.7,725.1L1548.0,731.4L1548.0,732.4L1541.7,738.7L1540.7,738.7L1534.4,732.4L1534.4,731.4Z" fill="#3ee8fa"/><path d="M1587.5,753.6L1593.0,753.6L1606.5,766.5L1606.5,771.9L1593.0,784.8L1587.5,784.8L1574.1,771.9L1574.1,766.5Z" fill="#2cb8cc"/><path d="M1589.8,762.4L1590.8,762.4L1597.1,768.7L1597.1,769.7L1590.8,776.0L1589.8,776.0L1583.5,769.7L1583.5,768.7Z" fill="#3ee8fa"/><path d="M1629.0,794.4L1634.5,794.4L1647.9,807.3L1647.9,812.7L1634.5,825.6L1629.0,825.6L1615.5,812.7L1615.5,807.3Z" fill="#2cb8cc"/><path d="M1631.2,803.2L1632.2,803.2L1638.5,809.5L1638.5,810.5L1632.2,816.8L1631.2,816.8L1624.9,810.5L1624.9,809.5Z" fill="#3ee8fa"/><path d="M1663.2,836.5L1668.7,836.5L1682.1,849.4L1682.1,854.8L1668.7,867.7L1663.2,867.7L1649.7,854.8L1649.7,849.4Z" fill="#2cb8cc"/><path d="M1665.4,845.3L1666.4,845.3L1672.7,851.6L1672.7,852.6L1666.4,858.9L1665.4,858.9L1659.1,852.6L1659.1,851.6Z" fill="#3ee8fa"/><path d="M1690.2,880.5L1695.8,880.5L1709.2,893.4L1709.2,898.8L1695.8,911.7L1690.2,911.7L1676.8,898.8L1676.8,893.4Z" fill="#2cb8cc"/><path d="M1692.5,889.3L1693.5,889.3L1699.8,895.6L1699.8,896.6L1693.5,902.9L1692.5,902.9L1686.2,896.6L1686.2,895.6Z" fill="#3ee8fa"/><path d="M1712.0,923.6L1717.5,923.6L1730.9,936.5L1730.9,941.9L1717.5,954.8L1712.0,954.8L1698.5,941.9L1698.5,936.5Z" fill="#2cb8cc"/><path d="M1714.2,932.4L1715.2,932.4L1721.5,938.7L1721.5,939.7L1715.2,946.0L1714.2,946.0L1707.9,939.7L1707.9,938.7Z" fill="#3ee8fa"/><path d="M1726.2,963.4L1731.8,963.4L1745.2,976.3L1745.2,981.7L1731.8,994.6L1726.2,994.6L1712.8,981.7L1712.8,976.3Z" fill="#2cb8cc"/><path d="M1728.5,972.2L1729.5,972.2L1735.8,978.5L1735.8,979.5L1729.5,985.8L1728.5,985.8L1722.2,979.5L1722.2,978.5Z" fill="#3ee8fa"/><path d="M1736.8,1001.7L1742.2,1001.7L1755.7,1014.6L1755.7,1020.0L1742.2,1032.9L1736.8,1032.9L1723.3,1020.0L1723.3,1014.6Z" fill="#2cb8cc"/><path d="M1739.0,1010.5L1740.0,1010.5L1746.3,1016.8L1746.3,1017.8L1740.0,1024.1L1739.0,1024.1L1732.7,1017.8L1732.7,1016.8Z" fill="#3ee8fa"/><path d="M1742.2,1038.6L1747.7,1038.6L1761.1,1051.5L1761.1,1056.9L1747.7,1069.8L1742.2,1069.8L1728.7,1056.9L1728.7,1051.5Z" fill="#2cb8cc"/><path d="M1744.4,1047.4L1745.4,1047.4L1751.7,1053.7L1751.7,1054.7L1745.4,1061.0L1744.4,1061.0L1738.1,1054.7L1738.1,1053.7Z" fill="#3ee8fa"/><path d="M1744.0,1071.7L1749.5,1071.7L1763.0,1084.6L1763.0,1090.0L1749.5,1102.9L1744.0,1102.9L1730.6,1090.0L1730.6,1084.6Z" fill="#2cb8cc"/><path d="M1746.3,1080.5L1747.3,1080.5L1753.6,1086.8L1753.6,1087.8L1747.3,1094.1L1746.3,1094.1L1740.0,1087.8L1740.0,1086.8Z" fill="#3ee8fa"/><path d="M1744.0,1102.6L1749.5,1102.6L1763.0,1115.5L1763.0,1120.9L1749.5,1133.8L1744.0,1133.8L1730.6,1120.9L1730.6,1115.5Z" fill="#2cb8cc"/><path d="M1746.3,1111.4L1747.3,1111.4L1753.6,1117.7L1753.6,1118.7L1747.3,1125.0L1746.3,1125.0L1740.0,1118.7L1740.0,1117.7Z" fill="#3ee8fa"/><path d="M1740.8,1127.9L1746.2,1127.9L1759.7,1140.8L1759.7,1146.2L1746.2,1159.1L1740.8,1159.1L1727.3,1146.2L1727.3,1140.8Z" fill="#2cb8cc"/><path d="M1743.0,1136.7L1744.0,1136.7L1750.3,1143.0L1750.3,1144.0L1744.0,1150.3L1743.0,1150.3L1736.7,1144.0L1736.7,1143.0Z" fill="#3ee8fa"/><path d="M1737.3,1150.3L1742.8,1150.3L1756.3,1163.2L1756.3,1168.6L1742.8,1181.5L1737.3,1181.5L1723.9,1168.6L1723.9,1163.2Z" fill="#2cb8cc"/><path d="M1739.6,1159.1L1740.6,1159.1L1746.9,1165.4L1746.9,1166.4L1740.6,1172.7L1739.6,1172.7L1733.3,1166.4L1733.3,1165.4Z" fill="#3ee8fa"/><path d="M1732.3,1172.8L1737.8,1172.8L1751.3,1185.7L1751.3,1191.1L1737.8,1204.0L1732.3,1204.0L1718.9,1191.1L1718.9,1185.7Z" fill="#2cb8cc"/><path d="M1734.6,1181.6L1735.6,1181.6L1741.9,1187.9L1741.9,1188.9L1735.6,1195.2L1734.6,1195.2L1728.3,1188.9L1728.3,1187.9Z" fill="#3ee8fa"/><path d="M1726.7,1190.2L1732.2,1190.2L1745.6,1203.1L1745.6,1208.5L1732.2,1221.4L1726.7,1221.4L1713.2,1208.5L1713.2,1203.1Z" fill="#2cb8cc"/><path d="M1728.9,1199.0L1729.9,1199.0L1736.2,1205.3L1736.2,1206.3L1729.9,1212.6L1728.9,1212.6L1722.6,1206.3L1722.6,1205.3Z" fill="#3ee8fa"/><path d="M1721.0,1205.9L1726.5,1205.9L1740.0,1218.8L1740.0,1224.2L1726.5,1237.1L1721.0,1237.1L1707.6,1224.2L1707.6,1218.8Z" fill="#2cb8cc"/><path d="M1723.3,1214.7L1724.3,1214.7L1730.6,1221.0L1730.6,1222.0L1724.3,1228.3L1723.3,1228.3L1717.0,1222.0L1717.0,1221.0Z" fill="#3ee8fa"/><path d="M1715.5,1217.7L1721.0,1217.7L1734.4,1230.6L1734.4,1236.0L1721.0,1248.9L1715.5,1248.9L1702.0,1236.0L1702.0,1230.6Z" fill="#2cb8cc"/><path d="M1717.7,1226.5L1718.7,1226.5L1725.0,1232.8L1725.0,1233.8L1718.7,1240.1L1717.7,1240.1L1711.4,1233.8L1711.4,1232.8Z" fill="#3ee8fa"/><path d="M1709.8,1228.9L1715.3,1228.9L1728.8,1241.8L1728.8,1247.2L1715.3,1260.1L1709.8,1260.1L1696.4,1247.2L1696.4,1241.8Z" fill="#2cb8cc"/><path d="M1712.1,1237.7L1713.1,1237.7L1719.4,1244.0L1719.4,1245.0L1713.1,1251.3L1712.1,1251.3L1705.8,1245.0L1705.8,1244.0Z" fill="#3ee8fa"/><path d="M1702.8,1238.7L1708.3,1238.7L1721.8,1251.6L1721.8,1257.0L1708.3,1269.9L1702.8,1269.9L1689.4,1257.0L1689.4,1251.6Z" fill="#2cb8cc"/><path d="M1705.1,1247.5L1706.1,1247.5L1712.4,1253.8L1712.4,1254.8L1706.1,1261.1L1705.1,1261.1L1698.8,1254.8L1698.8,1253.8Z" fill="#3ee8fa"/><path d="M1697.2,1247.1L1702.8,1247.1L1716.2,1260.0L1716.2,1265.4L1702.8,1278.3L1697.2,1278.3L1683.8,1265.4L1683.8,1260.0Z" fill="#2cb8cc"/><path d="M1699.5,1255.9L1700.5,1255.9L1706.8,1262.2L1706.8,1263.2L1700.5,1269.5L1699.5,1269.5L1693.2,1263.2L1693.2,1262.2Z" fill="#3ee8fa"/><path d="M1694.8,1248.8L1700.3,1248.8L1713.8,1261.8L1713.8,1267.1L1700.3,1280.1L1694.8,1280.1L1681.4,1267.1L1681.4,1261.8Z" fill="#2cb8cc"/><path d="M1697.1,1257.7L1698.1,1257.7L1704.4,1264.0L1704.4,1265.0L1698.1,1271.3L1697.1,1271.3L1690.8,1265.0L1690.8,1264.0Z" fill="#3ee8fa"/><path d="M1692.4,1250.6L1697.9,1250.6L1711.4,1263.6L1711.4,1268.9L1697.9,1281.9L1692.4,1281.9L1679.0,1268.9L1679.0,1263.6Z" fill="#2cb8cc"/><path d="M1694.7,1259.4L1695.7,1259.4L1702.0,1265.7L1702.0,1266.7L1695.7,1273.0L1694.7,1273.0L1688.4,1266.7L1688.4,1265.7Z" fill="#3ee8fa"/><path d="M1690.0,1252.4L1695.5,1252.4L1708.9,1265.4L1708.9,1270.7L1695.5,1283.6L1690.0,1283.6L1676.5,1270.7L1676.5,1265.4Z" fill="#2cb8cc"/><path d="M1692.2,1261.2L1693.2,1261.2L1699.5,1267.5L1699.5,1268.5L1693.2,1274.8L1692.2,1274.8L1685.9,1268.5L1685.9,1267.5Z" fill="#3ee8fa"/><path d="M1687.6,1254.1L1693.1,1254.1L1706.5,1267.1L1706.5,1272.4L1693.1,1285.4L1687.6,1285.4L1674.1,1272.4L1674.1,1267.1Z" fill="#2cb8cc"/><path d="M1689.8,1263.0L1690.8,1263.0L1697.1,1269.3L1697.1,1270.3L1690.8,1276.6L1689.8,1276.6L1683.5,1270.3L1683.5,1269.3Z" fill="#3ee8fa"/><path d="M1685.2,1256.0L1690.7,1256.0L1704.2,1269.0L1704.2,1274.3L1690.7,1287.3L1685.2,1287.3L1671.8,1274.3L1671.8,1269.0Z" fill="#2cb8cc"/><path d="M1687.5,1264.8L1688.5,1264.8L1694.8,1271.1L1694.8,1272.1L1688.5,1278.4L1687.5,1278.4L1681.2,1272.1L1681.2,1271.1Z" fill="#3ee8fa"/><path d="M1682.9,1257.9L1688.4,1257.9L1701.8,1270.9L1701.8,1276.2L1688.4,1289.1L1682.9,1289.1L1669.4,1276.2L1669.4,1270.9Z" fill="#2cb8cc"/><path d="M1685.1,1266.7L1686.1,1266.7L1692.4,1273.0L1692.4,1274.0L1686.1,1280.3L1685.1,1280.3L1678.8,1274.0L1678.8,1273.0Z" fill="#3ee8fa"/><path d="M1680.5,1259.8L1686.0,1259.8L1699.5,1272.7L1699.5,1278.0L1686.0,1291.0L1680.5,1291.0L1667.1,1278.0L1667.1,1272.7Z" fill="#2cb8cc"/><path d="M1682.8,1268.6L1683.8,1268.6L1690.1,1274.9L1690.1,1275.9L1683.8,1282.2L1682.8,1282.2L1676.5,1275.9L1676.5,1274.9Z" fill="#3ee8fa"/><path d="M1678.2,1261.6L1683.7,1261.6L1697.1,1274.6L1697.1,1279.9L1683.7,1292.9L1678.2,1292.9L1664.7,1279.9L1664.7,1274.6Z" fill="#2cb8cc"/><path d="M1680.4,1270.5L1681.4,1270.5L1687.7,1276.8L1687.7,1277.8L1681.4,1284.1L1680.4,1284.1L1674.1,1277.8L1674.1,1276.8Z" fill="#3ee8fa"/><path d="M1675.8,1263.5L1681.3,1263.5L1694.8,1276.4L1694.8,1281.7L1681.3,1294.7L1675.8,1294.7L1662.4,1281.7L1662.4,1276.4Z" fill="#2cb8cc"/><path d="M1678.1,1272.3L1679.1,1272.3L1685.4,1278.6L1685.4,1279.6L1679.1,1285.9L1678.1,1285.9L1671.8,1279.6L1671.8,1278.6Z" fill="#3ee8fa"/><path d="M1673.4,1265.3L1678.9,1265.3L1692.4,1278.3L1692.4,1283.6L1678.9,1296.5L1673.4,1296.5L1660.0,1283.6L1660.0,1278.3Z" fill="#2cb8cc"/><path d="M1675.7,1274.1L1676.7,1274.1L1683.0,1280.4L1683.0,1281.4L1676.7,1287.7L1675.7,1287.7L1669.4,1281.4L1669.4,1280.4Z" fill="#3ee8fa"/><path d="M1671.0,1267.1L1676.5,1267.1L1690.0,1280.1L1690.0,1285.4L1676.5,1298.4L1671.0,1298.4L1657.6,1285.4L1657.6,1280.1Z" fill="#2cb8cc"/><path d="M1673.3,1275.9L1674.3,1275.9L1680.6,1282.2L1680.6,1283.2L1674.3,1289.5L1673.3,1289.5L1667.0,1283.2L1667.0,1282.2Z" fill="#3ee8fa"/><path d="M1668.6,1268.9L1674.1,1268.9L1687.6,1281.9L1687.6,1287.2L1674.1,1300.2L1668.6,1300.2L1655.2,1287.2L1655.2,1281.9Z" fill="#2cb8cc"/><path d="M1670.9,1277.7L1671.9,1277.7L1678.2,1284.0L1678.2,1285.0L1671.9,1291.3L1670.9,1291.3L1664.6,1285.0L1664.6,1284.0Z" fill="#3ee8fa"/><path d="M1667.8,1269.6L1673.2,1269.6L1686.7,1282.5L1686.7,1287.9L1673.2,1300.8L1667.8,1300.8L1654.3,1287.9L1654.3,1282.5Z" fill="#2cb8cc"/><path d="M1670.0,1278.4L1671.0,1278.4L1677.3,1284.7L1677.3,1285.7L1671.0,1292.0L1670.0,1292.0L1663.7,1285.7L1663.7,1284.7Z" fill="#3ee8fa"/><path d="M1667.8,1269.6L1673.2,1269.6L1686.7,1282.5L1686.7,1287.9L1673.2,1300.8L1667.8,1300.8L1654.3,1287.9L1654.3,1282.5Z" fill="#2cb8cc"/><path d="M1670.0,1278.4L1671.0,1278.4L1677.3,1284.7L1677.3,1285.7L1671.0,1292.0L1670.0,1292.0L1663.7,1285.7L1663.7,1284.7Z" fill="#3ee8fa"/><path d="M1667.8,1269.6L1673.2,1269.6L1686.7,1282.5L1686.7,1287.9L1673.2,1300.8L1667.8,1300.8L1654.3,1287.9L1654.3,1282.5Z" fill="#2cb8cc"/><path d="M1670.0,1278.4L1671.0,1278.4L1677.3,1284.7L1677.3,1285.7L1671.0,1292.0L1670.0,1292.0L1663.7,1285.7L1663.7,1284.7Z" fill="#3ee8fa"/><path d="M1667.8,1269.6L1673.2,1269.6L1686.7,1282.5L1686.7,1287.9L1673.2,1300.8L1667.8,1300.8L1654.3,1287.9L1654.3,1282.5Z" fill="#2cb8cc"/><path d="M1670.0,1278.4L1671.0,1278.4L1677.3,1284.7L1677.3,1285.7L1671.0,1292.0L1670.0,1292.0L1663.7,1285.7L1663.7,1284.7Z" fill="#3ee8fa"/><path d="M1667.8,1269.6L1673.2,1269.6L1686.7,1282.5L1686.7,1287.9L1673.2,1300.8L1667.8,1300.8L1654.3,1287.9L1654.3,1282.5Z" fill="#2cb8cc"/><path d="M1670.0,1278.4L1671.0,1278.4L1677.3,1284.7L1677.3,1285.7L1671.0,1292.0L1670.0,1292.0L1663.7,1285.7L1663.7,1284.7Z" fill="#3ee8fa"/><path d="M1667.8,1269.6L1673.2,1269.6L1686.7,1282.5L1686.7,1287.9L1673.2,1300.8L1667.8,1300.8L1654.3,1287.9L1654.3,1282.5Z" fill="#2cb8cc"/><path d="M1670.0,1278.4L1671.0,1278.4L1677.3,1284.7L1677.3,1285.7L1671.0,1292.0L1670.0,1292.0L1663.7,1285.7L1663.7,1284.7Z" fill="#3ee8fa"/><path d="M1667.8,1269.6L1673.2,1269.6L1686.7,1282.5L1686.7,1287.9L1673.2,1300.8L1667.8,1300.8L1654.3,1287.9L1654.3,1282.5Z" fill="#2cb8cc"/><path d="M1670.0,1278.4L1671.0,1278.4L1677.3,1284.7L1677.3,1285.7L1671.0,1292.0L1670.0,1292.0L1663.7,1285.7L1663.7,1284.7Z" fill="#3ee8fa"/><path d="M1667.8,1269.6L1673.2,1269.6L1686.7,1282.5L1686.7,1287.9L1673.2,1300.8L1667.8,1300.8L1654.3,1287.9L1654.3,1282.5Z" fill="#2cb8cc"/><path d="M1670.0,1278.4L1671.0,1278.4L1677.3,1284.7L1677.3,1285.7L1671.0,1292.0L1670.0,1292.0L1663.7,1285.7L1663.7,1284.7Z" fill="#3ee8fa"/><path d="M1667.8,1269.6L1673.2,1269.6L1686.7,1282.5L1686.7,1287.9L1673.2,1300.8L1667.8,1300.8L1654.3,1287.9L1654.3,1282.5Z" fill="#2cb8cc"/><path d="M1670.0,1278.4L1671.0,1278.4L1677.3,1284.7L1677.3,1285.7L1671.0,1292.0L1670.0,1292.0L1663.7,1285.7L1663.7,1284.7Z" fill="#3ee8fa"/></g>
<g filter="url(#blur)" fill="#000" fill-opacity="0.26"><path d="M2078.2,3024.2L2083.0,3024.2L2091.7,3044.8L2090.7,3046.8L2070.5,3046.8L2069.5,3044.8Z"/><path d="M1979.8,2988.2L1984.6,2988.2L1993.3,3008.9L1992.3,3010.9L1972.1,3010.9L1971.1,3008.9Z"/><path d="M1886.9,2950.3L1891.7,2950.3L1900.4,2971.0L1899.4,2973.0L1879.2,2973.0L1878.2,2971.0Z"/><path d="M1799.2,2910.4L1804.0,2910.4L1812.7,2931.1L1811.7,2933.1L1791.5,2933.1L1790.5,2931.1Z"/><path d="M1716.4,2868.3L1721.2,2868.3L1729.9,2889.0L1728.9,2891.0L1708.7,2891.0L1707.7,2889.0Z"/><path d="M1638.2,2822.9L1643.0,2822.9L1651.7,2843.6L1650.7,2845.6L1630.5,2845.6L1629.5,2843.6Z"/><path d="M1564.4,2774.9L1569.2,2774.9L1577.9,2795.6L1576.9,2797.6L1556.7,2797.6L1555.7,2795.6Z"/><path d="M1494.7,2724.8L1499.5,2724.8L1508.2,2745.4L1507.2,2747.4L1487.0,2747.4L1486.0,2745.4Z"/><path d="M1428.9,2670.7L1433.7,2670.7L1442.4,2691.3L1441.4,2693.3L1421.2,2693.3L1420.2,2691.3Z"/><path d="M1366.8,2615.8L1371.6,2615.8L1380.3,2636.5L1379.3,2638.5L1359.1,2638.5L1358.1,2636.5Z"/><path d="M1308.2,2563.3L1313.0,2563.3L1321.7,2584.0L1320.7,2586.0L1300.5,2586.0L1299.5,2584.0Z"/><path d="M1252.8,2502.8L1257.6,2502.8L1266.3,2523.5L1265.3,2525.5L1245.1,2525.5L1244.1,2523.5Z"/><path d="M1200.6,2439.8L1205.4,2439.8L1214.1,2460.5L1213.1,2462.5L1192.9,2462.5L1191.9,2460.5Z"/><path d="M1151.2,2374.2L1156.0,2374.2L1164.7,2394.9L1163.7,2396.9L1143.5,2396.9L1142.5,2394.9Z"/><path d="M1104.7,2312.4L1109.5,2312.4L1118.2,2333.1L1117.2,2335.1L1097.0,2335.1L1096.0,2333.1Z"/><path d="M1060.7,2250.4L1065.5,2250.4L1074.2,2271.1L1073.2,2273.1L1053.0,2273.1L1052.0,2271.1Z"/><path d="M1019.2,2190.2L1024.0,2190.2L1032.7,2210.8L1031.7,2212.8L1011.5,2212.8L1010.5,2210.8Z"/><path d="M980.0,2136.2L984.8,2136.2L993.5,2156.9L992.5,2158.9L972.3,2158.9L971.3,2156.9Z"/><path d="M943.0,2094.5L947.8,2094.5L956.5,2115.2L955.5,2117.2L935.3,2117.2L934.3,2115.2Z"/><path d="M908.1,2048.5L912.9,2048.5L921.6,2069.2L920.6,2071.2L900.4,2071.2L899.4,2069.2Z"/><path d="M875.1,2008.7L879.9,2008.7L888.6,2029.3L887.6,2031.3L867.4,2031.3L866.4,2029.3Z"/><path d="M844.0,1976.7L848.8,1976.7L857.5,1997.3L856.5,1999.3L836.3,1999.3L835.3,1997.3Z"/><path d="M814.6,1952.6L819.4,1952.6L828.1,1973.2L827.1,1975.2L806.9,1975.2L805.9,1973.2Z"/><path d="M786.9,1932.8L791.7,1932.8L800.4,1953.5L799.4,1955.5L779.2,1955.5L778.2,1953.5Z"/><path d="M760.7,1920.6L765.5,1920.6L774.2,1941.2L773.2,1943.2L753.0,1943.2L752.0,1941.2Z"/><path d="M736.0,1914.4L740.8,1914.4L749.5,1935.0L748.5,1937.0L728.3,1937.0L727.3,1935.0Z"/><path d="M712.6,1912.4L717.4,1912.4L726.1,1933.0L725.1,1935.0L704.9,1935.0L703.9,1933.0Z"/><path d="M690.6,1914.4L695.4,1914.4L704.1,1935.0L703.1,1937.0L682.9,1937.0L681.9,1935.0Z"/><path d="M669.8,1920.3L674.6,1920.3L683.3,1941.0L682.3,1943.0L662.1,1943.0L661.1,1941.0Z"/><path d="M650.1,1930.3L654.9,1930.3L663.6,1951.0L662.6,1953.0L642.4,1953.0L641.4,1951.0Z"/><path d="M631.6,1940.5L636.4,1940.5L645.1,1961.1L644.1,1963.1L623.9,1963.1L622.9,1961.1Z"/><path d="M614.1,1952.2L618.9,1952.2L627.6,1972.8L626.6,1974.8L606.4,1974.8L605.4,1972.8Z"/><path d="M597.6,1962.5L602.4,1962.5L611.1,1983.1L610.1,1985.1L589.9,1985.1L588.9,1983.1Z"/><path d="M582.0,1976.1L586.8,1976.1L595.5,1996.8L594.5,1998.8L574.3,1998.8L573.3,1996.8Z"/><path d="M567.2,1988.1L572.0,1988.1L580.7,2008.8L579.7,2010.8L559.5,2010.8L558.5,2008.8Z"/><path d="M553.3,2000.5L558.1,2000.5L566.8,2021.1L565.8,2023.1L545.6,2023.1L544.6,2021.1Z"/><path d="M540.2,2010.4L545.0,2010.4L553.7,2031.0L552.7,2033.0L532.5,2033.0L531.5,2031.0Z"/><path d="M527.8,2022.3L532.6,2022.3L541.3,2043.0L540.3,2045.0L520.1,2045.0L519.1,2043.0Z"/><path d="M516.1,2032.4L520.9,2032.4L529.6,2053.1L528.6,2055.1L508.4,2055.1L507.4,2053.1Z"/><path d="M505.1,2040.7L509.9,2040.7L518.6,2061.3L517.6,2063.3L497.4,2063.3L496.4,2061.3Z"/><path d="M494.7,2050.2L499.5,2050.2L508.2,2070.8L507.2,2072.8L487.0,2072.8L486.0,2070.8Z"/><path d="M484.8,2058.2L489.6,2058.2L498.3,2078.8L497.3,2080.8L477.1,2080.8L476.1,2078.8Z"/><path d="M475.5,2058.2L480.3,2058.2L489.0,2078.8L488.0,2080.8L467.8,2080.8L466.8,2078.8Z"/><path d="M466.7,2064.6L471.5,2064.6L480.2,2085.2L479.2,2087.2L459.0,2087.2L458.0,2085.2Z"/><path d="M2078.2,2982.4L2083.0,2982.4L2091.7,3003.1L2090.7,3005.1L2070.5,3005.1L2069.5,3003.1Z"/><path d="M1979.8,2946.5L1984.6,2946.5L1993.3,2967.2L1992.3,2969.2L1972.1,2969.2L1971.1,2967.2Z"/><path d="M1886.9,2906.8L1891.7,2906.8L1900.4,2927.4L1899.4,2929.4L1879.2,2929.4L1878.2,2927.4Z"/><path d="M1799.2,2864.3L1804.0,2864.3L1812.7,2885.0L1811.7,2887.0L1791.5,2887.0L1790.5,2885.0Z"/><path d="M1716.4,2820.2L1721.2,2820.2L1729.9,2840.9L1728.9,2842.9L1708.7,2842.9L1707.7,2840.9Z"/><path d="M1638.2,2772.2L1643.0,2772.2L1651.7,2792.9L1650.7,2794.9L1630.5,2794.9L1629.5,2792.9Z"/><path d="M1564.4,2724.0L1569.2,2724.0L1577.9,2744.7L1576.9,2746.7L1556.7,2746.7L1555.7,2744.7Z"/><path d="M1494.7,2672.2L1499.5,2672.2L1508.2,2692.9L1507.2,2694.9L1487.0,2694.9L1486.0,2692.9Z"/><path d="M1428.9,2619.9L1433.7,2619.9L1442.4,2640.6L1441.4,2642.6L1421.2,2642.6L1420.2,2640.6Z"/><path d="M1366.8,2564.2L1371.6,2564.2L1380.3,2584.8L1379.3,2586.8L1359.1,2586.8L1358.1,2584.8Z"/><path d="M1308.2,2507.8L1313.0,2507.8L1321.7,2528.5L1320.7,2530.5L1300.5,2530.5L1299.5,2528.5Z"/><path d="M1252.8,2448.2L1257.6,2448.2L1266.3,2468.8L1265.3,2470.8L1245.1,2470.8L1244.1,2468.8Z"/><path d="M1200.6,2389.9L1205.4,2389.9L1214.1,2410.6L1213.1,2412.6L1192.9,2412.6L1191.9,2410.6Z"/><path d="M1151.2,2332.2L1156.0,2332.2L1164.7,2352.8L1163.7,2354.8L1143.5,2354.8L1142.5,2352.8Z"/><path d="M1104.7,2276.0L1109.5,2276.0L1118.2,2296.7L1117.2,2298.7L1097.0,2298.7L1096.0,2296.7Z"/><path d="M1060.7,2220.4L1065.5,2220.4L1074.2,2241.1L1073.2,2243.1L1053.0,2243.1L1052.0,2241.1Z"/><path d="M1019.2,2168.0L1024.0,2168.0L1032.7,2188.7L1031.7,2190.7L1011.5,2190.7L1010.5,2188.7Z"/><path d="M980.0,2122.7L984.8,2122.7L993.5,2143.3L992.5,2145.3L972.3,2145.3L971.3,2143.3Z"/><path d="M943.0,2086.4L947.8,2086.4L956.5,2107.1L955.5,2109.1L935.3,2109.1L934.3,2107.1Z"/><path d="M908.1,2049.3L912.9,2049.3L921.6,2070.0L920.6,2072.0L900.4,2072.0L899.4,2070.0Z"/><path d="M875.1,2019.9L879.9,2019.9L888.6,2040.5L887.6,2042.5L867.4,2042.5L866.4,2040.5Z"/><path d="M844.0,1996.5L848.8,1996.5L857.5,2017.1L856.5,2019.1L836.3,2019.1L835.3,2017.1Z"/><path d="M814.6,1978.1L819.4,1978.1L828.1,1998.8L827.1,2000.8L806.9,2000.8L805.9,1998.8Z"/><path d="M786.9,1964.2L791.7,1964.2L800.4,1984.8L799.4,1986.8L779.2,1986.8L778.2,1984.8Z"/><path d="M760.7,1958.7L765.5,1958.7L774.2,1979.3L773.2,1981.3L753.0,1981.3L752.0,1979.3Z"/><path d="M736.0,1956.7L740.8,1956.7L749.5,1977.3L748.5,1979.3L728.3,1979.3L727.3,1977.3Z"/><path d="M712.6,1958.7L717.4,1958.7L726.1,1979.3L725.1,1981.3L704.9,1981.3L703.9,1979.3Z"/><path d="M690.6,1962.4L695.4,1962.4L704.1,1983.0L703.1,1985.0L682.9,1985.0L681.9,1983.0Z"/><path d="M669.8,1968.6L674.6,1968.6L683.3,1989.2L682.3,1991.2L662.1,1991.2L661.1,1989.2Z"/><path d="M650.1,1978.5L654.9,1978.5L663.6,1999.1L662.6,2001.1L642.4,2001.1L641.4,1999.1Z"/><path d="M631.6,1988.4L636.4,1988.4L645.1,2009.0L644.1,2011.0L623.9,2011.0L622.9,2009.0Z"/><path d="M614.1,2000.5L618.9,2000.5L627.6,2021.1L626.6,2023.1L606.4,2023.1L605.4,2021.1Z"/><path d="M597.6,2010.4L602.4,2010.4L611.1,2031.0L610.1,2033.0L589.9,2033.0L588.9,2031.0Z"/><path d="M582.0,2022.3L586.8,2022.3L595.5,2043.0L594.5,2045.0L574.3,2045.0L573.3,2043.0Z"/><path d="M567.2,2034.3L572.0,2034.3L580.7,2055.0L579.7,2057.0L559.5,2057.0L558.5,2055.0Z"/><path d="M553.3,2044.7L558.1,2044.7L566.8,2065.3L565.8,2067.3L545.6,2067.3L544.6,2065.3Z"/><path d="M540.2,2054.2L545.0,2054.2L553.7,2074.8L552.7,2076.8L532.5,2076.8L531.5,2074.8Z"/><path d="M527.8,2064.6L532.6,2064.6L541.3,2085.2L540.3,2087.2L520.1,2087.2L519.1,2085.2Z"/><path d="M516.1,2072.2L520.9,2072.2L529.6,2092.8L528.6,2094.8L508.4,2094.8L507.4,2092.8Z"/><path d="M505.1,2080.4L509.9,2080.4L518.6,2101.1L517.6,2103.1L497.4,2103.1L496.4,2101.1Z"/><path d="M494.7,2088.2L499.5,2088.2L508.2,2108.8L507.2,2110.8L487.0,2110.8L486.0,2108.8Z"/><path d="M484.8,2094.0L489.6,2094.0L498.3,2114.7L497.3,2116.7L477.1,2116.7L476.1,2114.7Z"/><path d="M475.5,2094.0L480.3,2094.0L489.0,2114.7L488.0,2116.7L467.8,2116.7L466.8,2114.7Z"/><path d="M466.7,2100.4L471.5,2100.4L480.2,2121.1L479.2,2123.1L459.0,2123.1L458.0,2121.1Z"/><path d="M2078.2,2999.8L2083.0,2999.8L2091.7,3020.5L2090.7,3022.5L2070.5,3022.5L2069.5,3020.5Z"/><path d="M1979.8,2964.8L1984.6,2964.8L1993.3,2985.5L1992.3,2987.5L1972.1,2987.5L1971.1,2985.5Z"/><path d="M1886.9,2926.9L1891.7,2926.9L1900.4,2947.6L1899.4,2949.6L1879.2,2949.6L1878.2,2947.6Z"/><path d="M1799.2,2887.0L1804.0,2887.0L1812.7,2907.7L1811.7,2909.7L1791.5,2909.7L1790.5,2907.7Z"/><path d="M1716.4,2844.8L1721.2,2844.8L1729.9,2865.4L1728.9,2867.4L1708.7,2867.4L1707.7,2865.4Z"/><path d="M1638.2,2798.5L1643.0,2798.5L1651.7,2819.2L1650.7,2821.2L1630.5,2821.2L1629.5,2819.2Z"/><path d="M1564.4,2750.8L1569.2,2750.8L1577.9,2771.5L1576.9,2773.5L1556.7,2773.5L1555.7,2771.5Z"/><path d="M1494.7,2702.3L1499.5,2702.3L1508.2,2723.0L1507.2,2725.0L1487.0,2725.0L1486.0,2723.0Z"/><path d="M1428.9,2650.5L1433.7,2650.5L1442.4,2671.2L1441.4,2673.2L1421.2,2673.2L1420.2,2671.2Z"/><path d="M1366.8,2598.2L1371.6,2598.2L1380.3,2618.9L1379.3,2620.9L1359.1,2620.9L1358.1,2618.9Z"/><path d="M1308.2,2543.9L1313.0,2543.9L1321.7,2564.6L1320.7,2566.6L1300.5,2566.6L1299.5,2564.6Z"/><path d="M1252.8,2492.2L1257.6,2492.2L1266.3,2512.8L1265.3,2514.8L1245.1,2514.8L1244.1,2512.8Z"/><path d="M1200.6,2434.0L1205.4,2434.0L1214.1,2454.7L1213.1,2456.7L1192.9,2456.7L1191.9,2454.7Z"/><path d="M1151.2,2378.8L1156.0,2378.8L1164.7,2399.4L1163.7,2401.4L1143.5,2401.4L1142.5,2399.4Z"/><path d="M1104.7,2326.3L1109.5,2326.3L1118.2,2347.0L1117.2,2349.0L1097.0,2349.0L1096.0,2347.0Z"/><path d="M1060.7,2274.3L1065.5,2274.3L1074.2,2295.0L1073.2,2297.0L1053.0,2297.0L1052.0,2295.0Z"/><path d="M1019.2,2226.3L1024.0,2226.3L1032.7,2247.0L1031.7,2249.0L1011.5,2249.0L1010.5,2247.0Z"/><path d="M980.0,2184.3L984.8,2184.3L993.5,2205.0L992.5,2207.0L972.3,2207.0L971.3,2205.0Z"/><path d="M943.0,2144.5L947.8,2144.5L956.5,2165.2L955.5,2167.2L935.3,2167.2L934.3,2165.2Z"/><path d="M908.1,2120.0L912.9,2120.0L921.6,2140.7L920.6,2142.7L900.4,2142.7L899.4,2140.7Z"/><path d="M875.1,2092.5L879.9,2092.5L888.6,2113.2L887.6,2115.2L867.4,2115.2L866.4,2113.2Z"/><path d="M844.0,2070.8L848.8,2070.8L857.5,2091.4L856.5,2093.4L836.3,2093.4L835.3,2091.4Z"/><path d="M814.6,2057.2L819.4,2057.2L828.1,2077.9L827.1,2079.9L806.9,2079.9L805.9,2077.9Z"/><path d="M786.9,2044.3L791.7,2044.3L800.4,2065.0L799.4,2067.0L779.2,2067.0L778.2,2065.0Z"/><path d="M760.7,2038.3L765.5,2038.3L774.2,2059.0L773.2,2061.0L753.0,2061.0L752.0,2059.0Z"/><path d="M736.0,2038.3L740.8,2038.3L749.5,2059.0L748.5,2061.0L728.3,2061.0L727.3,2059.0Z"/><path d="M712.6,2040.3L717.4,2040.3L726.1,2061.0L725.1,2063.0L704.9,2063.0L703.9,2061.0Z"/><path d="M690.6,2044.5L695.4,2044.5L704.1,2065.2L703.1,2067.2L682.9,2067.2L681.9,2065.2Z"/><path d="M669.8,2052.6L674.6,2052.6L683.3,2073.2L682.3,2075.2L662.1,2075.2L661.1,2073.2Z"/><path d="M650.1,2060.6L654.9,2060.6L663.6,2081.2L662.6,2083.2L642.4,2083.2L641.4,2081.2Z"/><path d="M631.6,2070.9L636.4,2070.9L645.1,2091.6L644.1,2093.6L623.9,2093.6L622.9,2091.6Z"/><path d="M614.1,2080.4L618.9,2080.4L627.6,2101.1L626.6,2103.1L606.4,2103.1L605.4,2101.1Z"/><path d="M597.6,2092.5L602.4,2092.5L611.1,2113.2L610.1,2115.2L589.9,2115.2L588.9,2113.2Z"/><path d="M582.0,2102.5L586.8,2102.5L595.5,2123.2L594.5,2125.2L574.3,2125.2L573.3,2123.2Z"/><path d="M567.2,2114.4L572.0,2114.4L580.7,2135.1L579.7,2137.1L559.5,2137.1L558.5,2135.1Z"/><path d="M553.3,2124.5L558.1,2124.5L566.8,2145.2L565.8,2147.2L545.6,2147.2L544.6,2145.2Z"/><path d="M540.2,2132.8L545.0,2132.8L553.7,2153.4L552.7,2155.4L532.5,2155.4L531.5,2153.4Z"/><path d="M527.8,2142.8L532.6,2142.8L541.3,2163.4L540.3,2165.4L520.1,2165.4L519.1,2163.4Z"/><path d="M516.1,2150.5L520.9,2150.5L529.6,2171.2L528.6,2173.2L508.4,2173.2L507.4,2171.2Z"/><path d="M505.1,2158.8L509.9,2158.8L518.6,2179.4L517.6,2181.4L497.4,2181.4L496.4,2179.4Z"/><path d="M494.7,2164.5L499.5,2164.5L508.2,2185.2L507.2,2187.2L487.0,2187.2L486.0,2185.2Z"/><path d="M484.8,2170.4L489.6,2170.4L498.3,2191.1L497.3,2193.1L477.1,2193.1L476.1,2191.1Z"/><path d="M475.5,2170.7L480.3,2170.7L489.0,2191.3L488.0,2193.3L467.8,2193.3L466.8,2191.3Z"/><path d="M466.7,2176.8L471.5,2176.8L480.2,2197.4L479.2,2199.4L459.0,2199.4L458.0,2197.4Z"/><path d="M2078.2,3009.8L2083.0,3009.8L2091.7,3030.4L2090.7,3032.4L2070.5,3032.4L2069.5,3030.4Z"/><path d="M1979.8,2974.0L1984.6,2974.0L1993.3,2994.7L1992.3,2996.7L1972.1,2996.7L1971.1,2994.7Z"/><path d="M1886.9,2936.8L1891.7,2936.8L1900.4,2957.4L1899.4,2959.4L1879.2,2959.4L1878.2,2957.4Z"/><path d="M1799.2,2896.7L1804.0,2896.7L1812.7,2917.3L1811.7,2919.3L1791.5,2919.3L1790.5,2917.3Z"/><path d="M1716.4,2853.9L1721.2,2853.9L1729.9,2874.6L1728.9,2876.6L1708.7,2876.6L1707.7,2874.6Z"/><path d="M1638.2,2811.2L1643.0,2811.2L1651.7,2831.9L1650.7,2833.9L1630.5,2833.9L1629.5,2831.9Z"/><path d="M1564.4,2764.8L1569.2,2764.8L1577.9,2785.5L1576.9,2787.5L1556.7,2787.5L1555.7,2785.5Z"/><path d="M1494.7,2716.8L1499.5,2716.8L1508.2,2737.5L1507.2,2739.5L1487.0,2739.5L1486.0,2737.5Z"/><path d="M1428.9,2666.7L1433.7,2666.7L1442.4,2687.3L1441.4,2689.3L1421.2,2689.3L1420.2,2687.3Z"/><path d="M1366.8,2615.0L1371.6,2615.0L1380.3,2635.7L1379.3,2637.7L1359.1,2637.7L1358.1,2635.7Z"/><path d="M1308.2,2560.8L1313.0,2560.8L1321.7,2581.5L1320.7,2583.5L1300.5,2583.5L1299.5,2581.5Z"/><path d="M1252.8,2506.4L1257.6,2506.4L1266.3,2527.1L1265.3,2529.1L1245.1,2529.1L1244.1,2527.1Z"/><path d="M1200.6,2454.2L1205.4,2454.2L1214.1,2474.8L1213.1,2476.8L1192.9,2476.8L1191.9,2474.8Z"/><path d="M1151.2,2402.3L1156.0,2402.3L1164.7,2423.0L1163.7,2425.0L1143.5,2425.0L1142.5,2423.0Z"/><path d="M1104.7,2350.3L1109.5,2350.3L1118.2,2371.0L1117.2,2373.0L1097.0,2373.0L1096.0,2371.0Z"/><path d="M1060.7,2300.2L1065.5,2300.2L1074.2,2320.9L1073.2,2322.9L1053.0,2322.9L1052.0,2320.9Z"/><path d="M1019.2,2254.2L1024.0,2254.2L1032.7,2274.9L1031.7,2276.9L1011.5,2276.9L1010.5,2274.9Z"/><path d="M980.0,2214.4L984.8,2214.4L993.5,2235.1L992.5,2237.1L972.3,2237.1L971.3,2235.1Z"/><path d="M943.0,2176.2L947.8,2176.2L956.5,2196.9L955.5,2198.9L935.3,2198.9L934.3,2196.9Z"/><path d="M908.1,2144.5L912.9,2144.5L921.6,2165.2L920.6,2167.2L900.4,2167.2L899.4,2165.2Z"/><path d="M875.1,2118.4L879.9,2118.4L888.6,2139.1L887.6,2141.1L867.4,2141.1L866.4,2139.1Z"/><path d="M844.0,2106.4L848.8,2106.4L857.5,2127.1L856.5,2129.1L836.3,2129.1L835.3,2127.1Z"/><path d="M814.6,2092.2L819.4,2092.2L828.1,2112.8L827.1,2114.8L806.9,2114.8L805.9,2112.8Z"/><path d="M786.9,2082.0L791.7,2082.0L800.4,2102.7L799.4,2104.7L779.2,2104.7L778.2,2102.7Z"/><path d="M760.7,2078.2L765.5,2078.2L774.2,2098.8L773.2,2100.8L753.0,2100.8L752.0,2098.8Z"/><path d="M736.0,2076.2L740.8,2076.2L749.5,2096.8L748.5,2098.8L728.3,2098.8L727.3,2096.8Z"/><path d="M712.6,2078.2L717.4,2078.2L726.1,2098.8L725.1,2100.8L704.9,2100.8L703.9,2098.8Z"/><path d="M690.6,2084.2L695.4,2084.2L704.1,2104.9L703.1,2106.9L682.9,2106.9L681.9,2104.9Z"/><path d="M669.8,2091.8L674.6,2091.8L683.3,2112.5L682.3,2114.5L662.1,2114.5L661.1,2112.5Z"/><path d="M650.1,2100.2L654.9,2100.2L663.6,2120.9L662.6,2122.9L642.4,2122.9L641.4,2120.9Z"/><path d="M631.6,2110.3L636.4,2110.3L645.1,2131.0L644.1,2133.0L623.9,2133.0L622.9,2131.0Z"/><path d="M614.1,2120.4L618.9,2120.4L627.6,2141.1L626.6,2143.1L606.4,2143.1L605.4,2141.1Z"/><path d="M597.6,2130.8L602.4,2130.8L611.1,2151.4L610.1,2153.4L589.9,2153.4L588.9,2151.4Z"/><path d="M582.0,2140.5L586.8,2140.5L595.5,2161.2L594.5,2163.2L574.3,2163.2L573.3,2161.2Z"/><path d="M567.2,2150.7L572.0,2150.7L580.7,2171.3L579.7,2173.3L559.5,2173.3L558.5,2171.3Z"/><path d="M553.3,2160.5L558.1,2160.5L566.8,2181.2L565.8,2183.2L545.6,2183.2L544.6,2181.2Z"/><path d="M540.2,2170.3L545.0,2170.3L553.7,2191.0L552.7,2193.0L532.5,2193.0L531.5,2191.0Z"/><path d="M527.8,2178.3L532.6,2178.3L541.3,2199.0L540.3,2201.0L520.1,2201.0L519.1,2199.0Z"/><path d="M516.1,2186.3L520.9,2186.3L529.6,2207.0L528.6,2209.0L508.4,2209.0L507.4,2207.0Z"/><path d="M505.1,2194.3L509.9,2194.3L518.6,2215.0L517.6,2217.0L497.4,2217.0L496.4,2215.0Z"/><path d="M494.7,2200.7L499.5,2200.7L508.2,2221.3L507.2,2223.3L487.0,2223.3L486.0,2221.3Z"/><path d="M484.8,2207.8L489.6,2207.8L498.3,2228.5L497.3,2230.5L477.1,2230.5L476.1,2228.5Z"/><path d="M475.5,2207.0L480.3,2207.0L489.0,2227.7L488.0,2229.7L467.8,2229.7L466.8,2227.7Z"/><path d="M466.7,2210.2L471.5,2210.2L480.2,2230.9L479.2,2232.9L459.0,2232.9L458.0,2230.9Z"/><path d="M2078.2,3070.0L2083.0,3070.0L2091.7,3090.7L2090.7,3092.7L2070.5,3092.7L2069.5,3090.7Z"/><path d="M1979.8,3040.5L1984.6,3040.5L1993.3,3061.2L1992.3,3063.2L1972.1,3063.2L1971.1,3061.2Z"/><path d="M1886.9,3006.3L1891.7,3006.3L1900.4,3027.0L1899.4,3029.0L1879.2,3029.0L1878.2,3027.0Z"/><path d="M1799.2,2970.4L1804.0,2970.4L1812.7,2991.1L1811.7,2993.1L1791.5,2993.1L1790.5,2991.1Z"/><path d="M1716.4,2932.5L1721.2,2932.5L1729.9,2953.2L1728.9,2955.2L1708.7,2955.2L1707.7,2953.2Z"/><path d="M1638.2,2893.0L1643.0,2893.0L1651.7,2913.7L1650.7,2915.7L1630.5,2915.7L1629.5,2913.7Z"/><path d="M1564.4,2852.0L1569.2,2852.0L1577.9,2872.7L1576.9,2874.7L1556.7,2874.7L1555.7,2872.7Z"/><path d="M1494.7,2808.8L1499.5,2808.8L1508.2,2829.4L1507.2,2831.4L1487.0,2831.4L1486.0,2829.4Z"/><path d="M1428.9,2762.0L1433.7,2762.0L1442.4,2782.7L1441.4,2784.7L1421.2,2784.7L1420.2,2782.7Z"/><path d="M1366.8,2716.3L1371.6,2716.3L1380.3,2737.0L1379.3,2739.0L1359.1,2739.0L1358.1,2737.0Z"/><path d="M1308.2,2667.3L1313.0,2667.3L1321.7,2688.0L1320.7,2690.0L1300.5,2690.0L1299.5,2688.0Z"/><path d="M1252.8,2618.3L1257.6,2618.3L1266.3,2639.0L1265.3,2641.0L1245.1,2641.0L1244.1,2639.0Z"/><path d="M1200.6,2570.4L1205.4,2570.4L1214.1,2591.1L1213.1,2593.1L1192.9,2593.1L1191.9,2591.1Z"/><path d="M1151.2,2520.2L1156.0,2520.2L1164.7,2540.9L1163.7,2542.9L1143.5,2542.9L1142.5,2540.9Z"/><path d="M1104.7,2472.4L1109.5,2472.4L1118.2,2493.1L1117.2,2495.1L1097.0,2495.1L1096.0,2493.1Z"/><path d="M1060.7,2426.7L1065.5,2426.7L1074.2,2447.3L1073.2,2449.3L1053.0,2449.3L1052.0,2447.3Z"/><path d="M1019.2,2382.5L1024.0,2382.5L1032.7,2403.2L1031.7,2405.2L1011.5,2405.2L1010.5,2403.2Z"/><path d="M980.0,2342.2L984.8,2342.2L993.5,2362.9L992.5,2364.9L972.3,2364.9L971.3,2362.9Z"/><path d="M943.0,2304.5L947.8,2304.5L956.5,2325.2L955.5,2327.2L935.3,2327.2L934.3,2325.2Z"/><path d="M908.1,2274.3L912.9,2274.3L921.6,2295.0L920.6,2297.0L900.4,2297.0L899.4,2295.0Z"/><path d="M875.1,2248.7L879.9,2248.7L888.6,2269.3L887.6,2271.3L867.4,2271.3L866.4,2269.3Z"/><path d="M844.0,2226.2L848.8,2226.2L857.5,2246.9L856.5,2248.9L836.3,2248.9L835.3,2246.9Z"/><path d="M814.6,2210.5L819.4,2210.5L828.1,2231.2L827.1,2233.2L806.9,2233.2L805.9,2231.2Z"/><path d="M786.9,2200.2L791.7,2200.2L800.4,2220.9L799.4,2222.9L779.2,2222.9L778.2,2220.9Z"/><path d="M760.7,2194.2L765.5,2194.2L774.2,2214.8L773.2,2216.8L753.0,2216.8L752.0,2214.8Z"/><path d="M736.0,2192.5L740.8,2192.5L749.5,2213.2L748.5,2215.2L728.3,2215.2L727.3,2213.2Z"/><path d="M712.6,2194.2L717.4,2194.2L726.1,2214.8L725.1,2216.8L704.9,2216.8L703.9,2214.8Z"/><path d="M690.6,2196.7L695.4,2196.7L704.1,2217.3L703.1,2219.3L682.9,2219.3L681.9,2217.3Z"/><path d="M669.8,2204.3L674.6,2204.3L683.3,2225.0L682.3,2227.0L662.1,2227.0L661.1,2225.0Z"/><path d="M650.1,2210.8L654.9,2210.8L663.6,2231.4L662.6,2233.4L642.4,2233.4L641.4,2231.4Z"/><path d="M631.6,2220.7L636.4,2220.7L645.1,2241.3L644.1,2243.3L623.9,2243.3L622.9,2241.3Z"/><path d="M614.1,2228.5L618.9,2228.5L627.6,2249.2L626.6,2251.2L606.4,2251.2L605.4,2249.2Z"/><path d="M597.6,2240.5L602.4,2240.5L611.1,2261.2L610.1,2263.2L589.9,2263.2L588.9,2261.2Z"/><path d="M582.0,2248.5L586.8,2248.5L595.5,2269.2L594.5,2271.2L574.3,2271.2L573.3,2269.2Z"/><path d="M567.2,2258.5L572.0,2258.5L580.7,2279.2L579.7,2281.2L559.5,2281.2L558.5,2279.2Z"/><path d="M553.3,2268.4L558.1,2268.4L566.8,2289.1L565.8,2291.1L545.6,2291.1L544.6,2289.1Z"/><path d="M540.2,2276.4L545.0,2276.4L553.7,2297.1L552.7,2299.1L532.5,2299.1L531.5,2297.1Z"/><path d="M527.8,2284.8L532.6,2284.8L541.3,2305.4L540.3,2307.4L520.1,2307.4L519.1,2305.4Z"/><path d="M516.1,2292.3L520.9,2292.3L529.6,2313.0L528.6,2315.0L508.4,2315.0L507.4,2313.0Z"/><path d="M505.1,2298.4L509.9,2298.4L518.6,2319.1L517.6,2321.1L497.4,2321.1L496.4,2319.1Z"/><path d="M494.7,2306.8L499.5,2306.8L508.2,2327.4L507.2,2329.4L487.0,2329.4L486.0,2327.4Z"/><path d="M484.8,2309.9L489.6,2309.9L498.3,2330.6L497.3,2332.6L477.1,2332.6L476.1,2330.6Z"/><path d="M475.5,2316.2L480.3,2316.2L489.0,2336.9L488.0,2338.9L467.8,2338.9L466.8,2336.9Z"/><path d="M466.7,2320.2L471.5,2320.2L480.2,2340.9L479.2,2342.9L459.0,2342.9L458.0,2340.9Z"/></g>
<path d="M2077.2,3006.2L2082.0,3006.2L2090.7,3026.8L2089.7,3028.8L2069.5,3028.8L2068.5,3026.8ZM1978.8,2970.2L1983.6,2970.2L1992.3,2990.9L1991.3,2992.9L1971.1,2992.9L1970.1,2990.9ZM1885.9,2932.3L1890.7,2932.3L1899.4,2953.0L1898.4,2955.0L1878.2,2955.0L1877.2,2953.0ZM1798.2,2892.4L1803.0,2892.4L1811.7,2913.1L1810.7,2915.1L1790.5,2915.1L1789.5,2913.1ZM1715.4,2850.3L1720.2,2850.3L1728.9,2871.0L1727.9,2873.0L1707.7,2873.0L1706.7,2871.0ZM1637.2,2804.9L1642.0,2804.9L1650.7,2825.6L1649.7,2827.6L1629.5,2827.6L1628.5,2825.6ZM1563.4,2756.9L1568.2,2756.9L1576.9,2777.6L1575.9,2779.6L1555.7,2779.6L1554.7,2777.6ZM1493.7,2706.8L1498.5,2706.8L1507.2,2727.4L1506.2,2729.4L1486.0,2729.4L1485.0,2727.4ZM1427.9,2652.7L1432.7,2652.7L1441.4,2673.3L1440.4,2675.3L1420.2,2675.3L1419.2,2673.3ZM1365.8,2597.8L1370.6,2597.8L1379.3,2618.5L1378.3,2620.5L1358.1,2620.5L1357.1,2618.5ZM1307.2,2545.3L1312.0,2545.3L1320.7,2566.0L1319.7,2568.0L1299.5,2568.0L1298.5,2566.0ZM1251.8,2484.8L1256.6,2484.8L1265.3,2505.5L1264.3,2507.5L1244.1,2507.5L1243.1,2505.5ZM1199.6,2421.8L1204.4,2421.8L1213.1,2442.5L1212.1,2444.5L1191.9,2444.5L1190.9,2442.5ZM1150.2,2356.2L1155.0,2356.2L1163.7,2376.9L1162.7,2378.9L1142.5,2378.9L1141.5,2376.9ZM1103.7,2294.4L1108.5,2294.4L1117.2,2315.1L1116.2,2317.1L1096.0,2317.1L1095.0,2315.1ZM1059.7,2232.4L1064.5,2232.4L1073.2,2253.1L1072.2,2255.1L1052.0,2255.1L1051.0,2253.1ZM1018.2,2172.2L1023.0,2172.2L1031.7,2192.8L1030.7,2194.8L1010.5,2194.8L1009.5,2192.8ZM979.0,2118.2L983.8,2118.2L992.5,2138.9L991.5,2140.9L971.3,2140.9L970.3,2138.9ZM942.0,2076.5L946.8,2076.5L955.5,2097.2L954.5,2099.2L934.3,2099.2L933.3,2097.2ZM907.1,2030.5L911.9,2030.5L920.6,2051.2L919.6,2053.2L899.4,2053.2L898.4,2051.2ZM874.1,1990.7L878.9,1990.7L887.6,2011.3L886.6,2013.3L866.4,2013.3L865.4,2011.3ZM843.0,1958.7L847.8,1958.7L856.5,1979.3L855.5,1981.3L835.3,1981.3L834.3,1979.3ZM813.6,1934.6L818.4,1934.6L827.1,1955.2L826.1,1957.2L805.9,1957.2L804.9,1955.2ZM785.9,1914.8L790.7,1914.8L799.4,1935.5L798.4,1937.5L778.2,1937.5L777.2,1935.5ZM759.7,1902.6L764.5,1902.6L773.2,1923.2L772.2,1925.2L752.0,1925.2L751.0,1923.2ZM735.0,1896.4L739.8,1896.4L748.5,1917.0L747.5,1919.0L727.3,1919.0L726.3,1917.0ZM711.6,1894.4L716.4,1894.4L725.1,1915.0L724.1,1917.0L703.9,1917.0L702.9,1915.0ZM689.6,1896.4L694.4,1896.4L703.1,1917.0L702.1,1919.0L681.9,1919.0L680.9,1917.0ZM668.8,1902.3L673.6,1902.3L682.3,1923.0L681.3,1925.0L661.1,1925.0L660.1,1923.0ZM649.1,1912.3L653.9,1912.3L662.6,1933.0L661.6,1935.0L641.4,1935.0L640.4,1933.0ZM630.6,1922.5L635.4,1922.5L644.1,1943.1L643.1,1945.1L622.9,1945.1L621.9,1943.1ZM613.1,1934.2L617.9,1934.2L626.6,1954.8L625.6,1956.8L605.4,1956.8L604.4,1954.8ZM596.6,1944.5L601.4,1944.5L610.1,1965.1L609.1,1967.1L588.9,1967.1L587.9,1965.1ZM581.0,1958.1L585.8,1958.1L594.5,1978.8L593.5,1980.8L573.3,1980.8L572.3,1978.8ZM566.2,1970.1L571.0,1970.1L579.7,1990.8L578.7,1992.8L558.5,1992.8L557.5,1990.8ZM552.3,1982.5L557.1,1982.5L565.8,2003.1L564.8,2005.1L544.6,2005.1L543.6,2003.1ZM539.2,1992.4L544.0,1992.4L552.7,2013.0L551.7,2015.0L531.5,2015.0L530.5,2013.0ZM526.8,2004.3L531.6,2004.3L540.3,2025.0L539.3,2027.0L519.1,2027.0L518.1,2025.0ZM515.1,2014.4L519.9,2014.4L528.6,2035.0L527.6,2037.0L507.4,2037.0L506.4,2035.0ZM504.1,2022.7L508.9,2022.7L517.6,2043.3L516.6,2045.3L496.4,2045.3L495.4,2043.3ZM493.7,2032.2L498.5,2032.2L507.2,2052.8L506.2,2054.8L486.0,2054.8L485.0,2052.8ZM483.8,2040.2L488.6,2040.2L497.3,2060.8L496.3,2062.8L476.1,2062.8L475.1,2060.8ZM474.5,2040.2L479.3,2040.2L488.0,2060.8L487.0,2062.8L466.8,2062.8L465.8,2060.8ZM465.7,2046.6L470.5,2046.6L479.2,2067.2L478.2,2069.2L458.0,2069.2L457.0,2067.2Z" fill="#ff0000"/>
<path d="M2077.2,2964.4L2082.0,2964.4L2090.7,2985.1L2089.7,2987.1L2069.5,2987.1L2068.5,2985.1ZM1978.8,2928.5L1983.6,2928.5L1992.3,2949.2L1991.3,2951.2L1971.1,2951.2L1970.1,2949.2ZM1885.9,2888.8L1890.7,2888.8L1899.4,2909.4L1898.4,2911.4L1878.2,2911.4L1877.2,2909.4ZM1798.2,2846.3L1803.0,2846.3L1811.7,2867.0L1810.7,2869.0L1790.5,2869.0L1789.5,2867.0ZM1715.4,2802.2L1720.2,2802.2L1728.9,2822.9L1727.9,2824.9L1707.7,2824.9L1706.7,2822.9ZM1637.2,2754.2L1642.0,2754.2L1650.7,2774.9L1649.7,2776.9L1629.5,2776.9L1628.5,2774.9ZM1563.4,2706.0L1568.2,2706.0L1576.9,2726.7L1575.9,2728.7L1555.7,2728.7L1554.7,2726.7ZM1493.7,2654.2L1498.5,2654.2L1507.2,2674.9L1506.2,2676.9L1486.0,2676.9L1485.0,2674.9ZM1427.9,2601.9L1432.7,2601.9L1441.4,2622.6L1440.4,2624.6L1420.2,2624.6L1419.2,2622.6ZM1365.8,2546.2L1370.6,2546.2L1379.3,2566.8L1378.3,2568.8L1358.1,2568.8L1357.1,2566.8ZM1307.2,2489.8L1312.0,2489.8L1320.7,2510.5L1319.7,2512.5L1299.5,2512.5L1298.5,2510.5ZM1251.8,2430.2L1256.6,2430.2L1265.3,2450.8L1264.3,2452.8L1244.1,2452.8L1243.1,2450.8ZM1199.6,2371.9L1204.4,2371.9L1213.1,2392.6L1212.1,2394.6L1191.9,2394.6L1190.9,2392.6ZM1150.2,2314.2L1155.0,2314.2L1163.7,2334.8L1162.7,2336.8L1142.5,2336.8L1141.5,2334.8ZM1103.7,2258.0L1108.5,2258.0L1117.2,2278.7L1116.2,2280.7L1096.0,2280.7L1095.0,2278.7ZM1059.7,2202.4L1064.5,2202.4L1073.2,2223.1L1072.2,2225.1L1052.0,2225.1L1051.0,2223.1ZM1018.2,2150.0L1023.0,2150.0L1031.7,2170.7L1030.7,2172.7L1010.5,2172.7L1009.5,2170.7ZM979.0,2104.7L983.8,2104.7L992.5,2125.3L991.5,2127.3L971.3,2127.3L970.3,2125.3ZM942.0,2068.4L946.8,2068.4L955.5,2089.1L954.5,2091.1L934.3,2091.1L933.3,2089.1ZM907.1,2031.4L911.9,2031.4L920.6,2052.1L919.6,2054.1L899.4,2054.1L898.4,2052.1ZM874.1,2001.9L878.9,2001.9L887.6,2022.5L886.6,2024.5L866.4,2024.5L865.4,2022.5ZM843.0,1978.5L847.8,1978.5L856.5,1999.1L855.5,2001.1L835.3,2001.1L834.3,1999.1ZM813.6,1960.1L818.4,1960.1L827.1,1980.8L826.1,1982.8L805.9,1982.8L804.9,1980.8ZM785.9,1946.2L790.7,1946.2L799.4,1966.8L798.4,1968.8L778.2,1968.8L777.2,1966.8ZM759.7,1940.7L764.5,1940.7L773.2,1961.3L772.2,1963.3L752.0,1963.3L751.0,1961.3ZM735.0,1938.7L739.8,1938.7L748.5,1959.3L747.5,1961.3L727.3,1961.3L726.3,1959.3ZM711.6,1940.7L716.4,1940.7L725.1,1961.3L724.1,1963.3L703.9,1963.3L702.9,1961.3ZM689.6,1944.4L694.4,1944.4L703.1,1965.0L702.1,1967.0L681.9,1967.0L680.9,1965.0ZM668.8,1950.6L673.6,1950.6L682.3,1971.2L681.3,1973.2L661.1,1973.2L660.1,1971.2ZM649.1,1960.5L653.9,1960.5L662.6,1981.1L661.6,1983.1L641.4,1983.1L640.4,1981.1ZM630.6,1970.4L635.4,1970.4L644.1,1991.0L643.1,1993.0L622.9,1993.0L621.9,1991.0ZM613.1,1982.5L617.9,1982.5L626.6,2003.1L625.6,2005.1L605.4,2005.1L604.4,2003.1ZM596.6,1992.4L601.4,1992.4L610.1,2013.0L609.1,2015.0L588.9,2015.0L587.9,2013.0ZM581.0,2004.3L585.8,2004.3L594.5,2025.0L593.5,2027.0L573.3,2027.0L572.3,2025.0ZM566.2,2016.3L571.0,2016.3L579.7,2037.0L578.7,2039.0L558.5,2039.0L557.5,2037.0ZM552.3,2026.7L557.1,2026.7L565.8,2047.3L564.8,2049.3L544.6,2049.3L543.6,2047.3ZM539.2,2036.2L544.0,2036.2L552.7,2056.8L551.7,2058.8L531.5,2058.8L530.5,2056.8ZM526.8,2046.6L531.6,2046.6L540.3,2067.2L539.3,2069.2L519.1,2069.2L518.1,2067.2ZM515.1,2054.2L519.9,2054.2L528.6,2074.8L527.6,2076.8L507.4,2076.8L506.4,2074.8ZM504.1,2062.4L508.9,2062.4L517.6,2083.1L516.6,2085.1L496.4,2085.1L495.4,2083.1ZM493.7,2070.2L498.5,2070.2L507.2,2090.8L506.2,2092.8L486.0,2092.8L485.0,2090.8ZM483.8,2076.0L488.6,2076.0L497.3,2096.7L496.3,2098.7L476.1,2098.7L475.1,2096.7ZM474.5,2076.0L479.3,2076.0L488.0,2096.7L487.0,2098.7L466.8,2098.7L465.8,2096.7ZM465.7,2082.4L470.5,2082.4L479.2,2103.1L478.2,2105.1L458.0,2105.1L457.0,2103.1Z" fill="#ff6600"/>
<path d="M2077.2,2981.8L2082.0,2981.8L2090.7,3002.5L2089.7,3004.5L2069.5,3004.5L2068.5,3002.5ZM1978.8,2946.8L1983.6,2946.8L1992.3,2967.5L1991.3,2969.5L1971.1,2969.5L1970.1,2967.5ZM1885.9,2908.9L1890.7,2908.9L1899.4,2929.6L1898.4,2931.6L1878.2,2931.6L1877.2,2929.6ZM1798.2,2869.0L1803.0,2869.0L1811.7,2889.7L1810.7,2891.7L1790.5,2891.7L1789.5,2889.7ZM1715.4,2826.8L1720.2,2826.8L1728.9,2847.4L1727.9,2849.4L1707.7,2849.4L1706.7,2847.4ZM1637.2,2780.5L1642.0,2780.5L1650.7,2801.2L1649.7,2803.2L1629.5,2803.2L1628.5,2801.2ZM1563.4,2732.8L1568.2,2732.8L1576.9,2753.5L1575.9,2755.5L1555.7,2755.5L1554.7,2753.5ZM1493.7,2684.3L1498.5,2684.3L1507.2,2705.0L1506.2,2707.0L1486.0,2707.0L1485.0,2705.0ZM1427.9,2632.5L1432.7,2632.5L1441.4,2653.2L1440.4,2655.2L1420.2,2655.2L1419.2,2653.2ZM1365.8,2580.2L1370.6,2580.2L1379.3,2600.9L1378.3,2602.9L1358.1,2602.9L1357.1,2600.9ZM1307.2,2525.9L1312.0,2525.9L1320.7,2546.6L1319.7,2548.6L1299.5,2548.6L1298.5,2546.6ZM1251.8,2474.2L1256.6,2474.2L1265.3,2494.8L1264.3,2496.8L1244.1,2496.8L1243.1,2494.8ZM1199.6,2416.0L1204.4,2416.0L1213.1,2436.7L1212.1,2438.7L1191.9,2438.7L1190.9,2436.7ZM1150.2,2360.8L1155.0,2360.8L1163.7,2381.4L1162.7,2383.4L1142.5,2383.4L1141.5,2381.4ZM1103.7,2308.3L1108.5,2308.3L1117.2,2329.0L1116.2,2331.0L1096.0,2331.0L1095.0,2329.0ZM1059.7,2256.3L1064.5,2256.3L1073.2,2277.0L1072.2,2279.0L1052.0,2279.0L1051.0,2277.0ZM1018.2,2208.3L1023.0,2208.3L1031.7,2229.0L1030.7,2231.0L1010.5,2231.0L1009.5,2229.0ZM979.0,2166.3L983.8,2166.3L992.5,2187.0L991.5,2189.0L971.3,2189.0L970.3,2187.0ZM942.0,2126.5L946.8,2126.5L955.5,2147.2L954.5,2149.2L934.3,2149.2L933.3,2147.2ZM907.1,2102.0L911.9,2102.0L920.6,2122.7L919.6,2124.7L899.4,2124.7L898.4,2122.7ZM874.1,2074.5L878.9,2074.5L887.6,2095.2L886.6,2097.2L866.4,2097.2L865.4,2095.2ZM843.0,2052.8L847.8,2052.8L856.5,2073.4L855.5,2075.4L835.3,2075.4L834.3,2073.4ZM813.6,2039.2L818.4,2039.2L827.1,2059.9L826.1,2061.9L805.9,2061.9L804.9,2059.9ZM785.9,2026.4L790.7,2026.4L799.4,2047.1L798.4,2049.1L778.2,2049.1L777.2,2047.1ZM759.7,2020.3L764.5,2020.3L773.2,2041.0L772.2,2043.0L752.0,2043.0L751.0,2041.0ZM735.0,2020.3L739.8,2020.3L748.5,2041.0L747.5,2043.0L727.3,2043.0L726.3,2041.0ZM711.6,2022.3L716.4,2022.3L725.1,2043.0L724.1,2045.0L703.9,2045.0L702.9,2043.0ZM689.6,2026.5L694.4,2026.5L703.1,2047.2L702.1,2049.2L681.9,2049.2L680.9,2047.2ZM668.8,2034.6L673.6,2034.6L682.3,2055.2L681.3,2057.2L661.1,2057.2L660.1,2055.2ZM649.1,2042.6L653.9,2042.6L662.6,2063.2L661.6,2065.2L641.4,2065.2L640.4,2063.2ZM630.6,2052.9L635.4,2052.9L644.1,2073.6L643.1,2075.6L622.9,2075.6L621.9,2073.6ZM613.1,2062.4L617.9,2062.4L626.6,2083.1L625.6,2085.1L605.4,2085.1L604.4,2083.1ZM596.6,2074.5L601.4,2074.5L610.1,2095.2L609.1,2097.2L588.9,2097.2L587.9,2095.2ZM581.0,2084.5L585.8,2084.5L594.5,2105.2L593.5,2107.2L573.3,2107.2L572.3,2105.2ZM566.2,2096.4L571.0,2096.4L579.7,2117.1L578.7,2119.1L558.5,2119.1L557.5,2117.1ZM552.3,2106.5L557.1,2106.5L565.8,2127.2L564.8,2129.2L544.6,2129.2L543.6,2127.2ZM539.2,2114.8L544.0,2114.8L552.7,2135.4L551.7,2137.4L531.5,2137.4L530.5,2135.4ZM526.8,2124.8L531.6,2124.8L540.3,2145.4L539.3,2147.4L519.1,2147.4L518.1,2145.4ZM515.1,2132.5L519.9,2132.5L528.6,2153.2L527.6,2155.2L507.4,2155.2L506.4,2153.2ZM504.1,2140.8L508.9,2140.8L517.6,2161.4L516.6,2163.4L496.4,2163.4L495.4,2161.4ZM493.7,2146.5L498.5,2146.5L507.2,2167.2L506.2,2169.2L486.0,2169.2L485.0,2167.2ZM483.8,2152.4L488.6,2152.4L497.3,2173.1L496.3,2175.1L476.1,2175.1L475.1,2173.1ZM474.5,2152.7L479.3,2152.7L488.0,2173.3L487.0,2175.3L466.8,2175.3L465.8,2173.3ZM465.7,2158.8L470.5,2158.8L479.2,2179.4L478.2,2181.4L458.0,2181.4L457.0,2179.4Z" fill="#00b050"/>
<path d="M2077.2,2991.8L2082.0,2991.8L2090.7,3012.4L2089.7,3014.4L2069.5,3014.4L2068.5,3012.4ZM1978.8,2956.0L1983.6,2956.0L1992.3,2976.7L1991.3,2978.7L1971.1,2978.7L1970.1,2976.7ZM1885.9,2918.8L1890.7,2918.8L1899.4,2939.4L1898.4,2941.4L1878.2,2941.4L1877.2,2939.4ZM1798.2,2878.7L1803.0,2878.7L1811.7,2899.3L1810.7,2901.3L1790.5,2901.3L1789.5,2899.3ZM1715.4,2835.9L1720.2,2835.9L1728.9,2856.6L1727.9,2858.6L1707.7,2858.6L1706.7,2856.6ZM1637.2,2793.2L1642.0,2793.2L1650.7,2813.9L1649.7,2815.9L1629.5,2815.9L1628.5,2813.9ZM1563.4,2746.8L1568.2,2746.8L1576.9,2767.5L1575.9,2769.5L1555.7,2769.5L1554.7,2767.5ZM1493.7,2698.8L1498.5,2698.8L1507.2,2719.5L1506.2,2721.5L1486.0,2721.5L1485.0,2719.5ZM1427.9,2648.7L1432.7,2648.7L1441.4,2669.3L1440.4,2671.3L1420.2,2671.3L1419.2,2669.3ZM1365.8,2597.0L1370.6,2597.0L1379.3,2617.7L1378.3,2619.7L1358.1,2619.7L1357.1,2617.7ZM1307.2,2542.8L1312.0,2542.8L1320.7,2563.5L1319.7,2565.5L1299.5,2565.5L1298.5,2563.5ZM1251.8,2488.4L1256.6,2488.4L1265.3,2509.1L1264.3,2511.1L1244.1,2511.1L1243.1,2509.1ZM1199.6,2436.2L1204.4,2436.2L1213.1,2456.8L1212.1,2458.8L1191.9,2458.8L1190.9,2456.8ZM1150.2,2384.3L1155.0,2384.3L1163.7,2405.0L1162.7,2407.0L1142.5,2407.0L1141.5,2405.0ZM1103.7,2332.3L1108.5,2332.3L1117.2,2353.0L1116.2,2355.0L1096.0,2355.0L1095.0,2353.0ZM1059.7,2282.2L1064.5,2282.2L1073.2,2302.9L1072.2,2304.9L1052.0,2304.9L1051.0,2302.9ZM1018.2,2236.2L1023.0,2236.2L1031.7,2256.9L1030.7,2258.9L1010.5,2258.9L1009.5,2256.9ZM979.0,2196.4L983.8,2196.4L992.5,2217.1L991.5,2219.1L971.3,2219.1L970.3,2217.1ZM942.0,2158.2L946.8,2158.2L955.5,2178.9L954.5,2180.9L934.3,2180.9L933.3,2178.9ZM907.1,2126.5L911.9,2126.5L920.6,2147.2L919.6,2149.2L899.4,2149.2L898.4,2147.2ZM874.1,2100.4L878.9,2100.4L887.6,2121.1L886.6,2123.1L866.4,2123.1L865.4,2121.1ZM843.0,2088.4L847.8,2088.4L856.5,2109.1L855.5,2111.1L835.3,2111.1L834.3,2109.1ZM813.6,2074.2L818.4,2074.2L827.1,2094.8L826.1,2096.8L805.9,2096.8L804.9,2094.8ZM785.9,2064.0L790.7,2064.0L799.4,2084.7L798.4,2086.7L778.2,2086.7L777.2,2084.7ZM759.7,2060.2L764.5,2060.2L773.2,2080.8L772.2,2082.8L752.0,2082.8L751.0,2080.8ZM735.0,2058.2L739.8,2058.2L748.5,2078.8L747.5,2080.8L727.3,2080.8L726.3,2078.8ZM711.6,2060.2L716.4,2060.2L725.1,2080.8L724.1,2082.8L703.9,2082.8L702.9,2080.8ZM689.6,2066.2L694.4,2066.2L703.1,2086.9L702.1,2088.9L681.9,2088.9L680.9,2086.9ZM668.8,2073.8L673.6,2073.8L682.3,2094.5L681.3,2096.5L661.1,2096.5L660.1,2094.5ZM649.1,2082.2L653.9,2082.2L662.6,2102.9L661.6,2104.9L641.4,2104.9L640.4,2102.9ZM630.6,2092.3L635.4,2092.3L644.1,2113.0L643.1,2115.0L622.9,2115.0L621.9,2113.0ZM613.1,2102.4L617.9,2102.4L626.6,2123.1L625.6,2125.1L605.4,2125.1L604.4,2123.1ZM596.6,2112.8L601.4,2112.8L610.1,2133.4L609.1,2135.4L588.9,2135.4L587.9,2133.4ZM581.0,2122.5L585.8,2122.5L594.5,2143.2L593.5,2145.2L573.3,2145.2L572.3,2143.2ZM566.2,2132.7L571.0,2132.7L579.7,2153.3L578.7,2155.3L558.5,2155.3L557.5,2153.3ZM552.3,2142.5L557.1,2142.5L565.8,2163.2L564.8,2165.2L544.6,2165.2L543.6,2163.2ZM539.2,2152.3L544.0,2152.3L552.7,2173.0L551.7,2175.0L531.5,2175.0L530.5,2173.0ZM526.8,2160.3L531.6,2160.3L540.3,2181.0L539.3,2183.0L519.1,2183.0L518.1,2181.0ZM515.1,2168.3L519.9,2168.3L528.6,2189.0L527.6,2191.0L507.4,2191.0L506.4,2189.0ZM504.1,2176.3L508.9,2176.3L517.6,2197.0L516.6,2199.0L496.4,2199.0L495.4,2197.0ZM493.7,2182.7L498.5,2182.7L507.2,2203.3L506.2,2205.3L486.0,2205.3L485.0,2203.3ZM483.8,2189.8L488.6,2189.8L497.3,2210.5L496.3,2212.5L476.1,2212.5L475.1,2210.5ZM474.5,2189.0L479.3,2189.0L488.0,2209.7L487.0,2211.7L466.8,2211.7L465.8,2209.7ZM465.7,2192.2L470.5,2192.2L479.2,2212.9L478.2,2214.9L458.0,2214.9L457.0,2212.9Z" fill="#8b4bc3"/>
<path d="M2077.2,3052.0L2082.0,3052.0L2090.7,3072.7L2089.7,3074.7L2069.5,3074.7L2068.5,3072.7ZM1978.8,3022.5L1983.6,3022.5L1992.3,3043.2L1991.3,3045.2L1971.1,3045.2L1970.1,3043.2ZM1885.9,2988.3L1890.7,2988.3L1899.4,3009.0L1898.4,3011.0L1878.2,3011.0L1877.2,3009.0ZM1798.2,2952.4L1803.0,2952.4L1811.7,2973.1L1810.7,2975.1L1790.5,2975.1L1789.5,2973.1ZM1715.4,2914.5L1720.2,2914.5L1728.9,2935.2L1727.9,2937.2L1707.7,2937.2L1706.7,2935.2ZM1637.2,2875.0L1642.0,2875.0L1650.7,2895.7L1649.7,2897.7L1629.5,2897.7L1628.5,2895.7ZM1563.4,2834.0L1568.2,2834.0L1576.9,2854.7L1575.9,2856.7L1555.7,2856.7L1554.7,2854.7ZM1493.7,2790.8L1498.5,2790.8L1507.2,2811.4L1506.2,2813.4L1486.0,2813.4L1485.0,2811.4ZM1427.9,2744.0L1432.7,2744.0L1441.4,2764.7L1440.4,2766.7L1420.2,2766.7L1419.2,2764.7ZM1365.8,2698.3L1370.6,2698.3L1379.3,2719.0L1378.3,2721.0L1358.1,2721.0L1357.1,2719.0ZM1307.2,2649.3L1312.0,2649.3L1320.7,2670.0L1319.7,2672.0L1299.5,2672.0L1298.5,2670.0ZM1251.8,2600.3L1256.6,2600.3L1265.3,2621.0L1264.3,2623.0L1244.1,2623.0L1243.1,2621.0ZM1199.6,2552.4L1204.4,2552.4L1213.1,2573.1L1212.1,2575.1L1191.9,2575.1L1190.9,2573.1ZM1150.2,2502.2L1155.0,2502.2L1163.7,2522.9L1162.7,2524.9L1142.5,2524.9L1141.5,2522.9ZM1103.7,2454.4L1108.5,2454.4L1117.2,2475.1L1116.2,2477.1L1096.0,2477.1L1095.0,2475.1ZM1059.7,2408.7L1064.5,2408.7L1073.2,2429.3L1072.2,2431.3L1052.0,2431.3L1051.0,2429.3ZM1018.2,2364.5L1023.0,2364.5L1031.7,2385.2L1030.7,2387.2L1010.5,2387.2L1009.5,2385.2ZM979.0,2324.2L983.8,2324.2L992.5,2344.9L991.5,2346.9L971.3,2346.9L970.3,2344.9ZM942.0,2286.5L946.8,2286.5L955.5,2307.2L954.5,2309.2L934.3,2309.2L933.3,2307.2ZM907.1,2256.3L911.9,2256.3L920.6,2277.0L919.6,2279.0L899.4,2279.0L898.4,2277.0ZM874.1,2230.7L878.9,2230.7L887.6,2251.3L886.6,2253.3L866.4,2253.3L865.4,2251.3ZM843.0,2208.2L847.8,2208.2L856.5,2228.9L855.5,2230.9L835.3,2230.9L834.3,2228.9ZM813.6,2192.5L818.4,2192.5L827.1,2213.2L826.1,2215.2L805.9,2215.2L804.9,2213.2ZM785.9,2182.2L790.7,2182.2L799.4,2202.9L798.4,2204.9L778.2,2204.9L777.2,2202.9ZM759.7,2176.2L764.5,2176.2L773.2,2196.8L772.2,2198.8L752.0,2198.8L751.0,2196.8ZM735.0,2174.5L739.8,2174.5L748.5,2195.2L747.5,2197.2L727.3,2197.2L726.3,2195.2ZM711.6,2176.2L716.4,2176.2L725.1,2196.8L724.1,2198.8L703.9,2198.8L702.9,2196.8ZM689.6,2178.7L694.4,2178.7L703.1,2199.3L702.1,2201.3L681.9,2201.3L680.9,2199.3ZM668.8,2186.3L673.6,2186.3L682.3,2207.0L681.3,2209.0L661.1,2209.0L660.1,2207.0ZM649.1,2192.8L653.9,2192.8L662.6,2213.4L661.6,2215.4L641.4,2215.4L640.4,2213.4ZM630.6,2202.7L635.4,2202.7L644.1,2223.3L643.1,2225.3L622.9,2225.3L621.9,2223.3ZM613.1,2210.5L617.9,2210.5L626.6,2231.2L625.6,2233.2L605.4,2233.2L604.4,2231.2ZM596.6,2222.5L601.4,2222.5L610.1,2243.2L609.1,2245.2L588.9,2245.2L587.9,2243.2ZM581.0,2230.5L585.8,2230.5L594.5,2251.2L593.5,2253.2L573.3,2253.2L572.3,2251.2ZM566.2,2240.5L571.0,2240.5L579.7,2261.2L578.7,2263.2L558.5,2263.2L557.5,2261.2ZM552.3,2250.4L557.1,2250.4L565.8,2271.1L564.8,2273.1L544.6,2273.1L543.6,2271.1ZM539.2,2258.4L544.0,2258.4L552.7,2279.1L551.7,2281.1L531.5,2281.1L530.5,2279.1ZM526.8,2266.8L531.6,2266.8L540.3,2287.4L539.3,2289.4L519.1,2289.4L518.1,2287.4ZM515.1,2274.3L519.9,2274.3L528.6,2295.0L527.6,2297.0L507.4,2297.0L506.4,2295.0ZM504.1,2280.4L508.9,2280.4L517.6,2301.1L516.6,2303.1L496.4,2303.1L495.4,2301.1ZM493.7,2288.8L498.5,2288.8L507.2,2309.4L506.2,2311.4L486.0,2311.4L485.0,2309.4ZM483.8,2291.9L488.6,2291.9L497.3,2312.6L496.3,2314.6L476.1,2314.6L475.1,2312.6ZM474.5,2298.2L479.3,2298.2L488.0,2318.9L487.0,2320.9L466.8,2320.9L465.8,2318.9ZM465.7,2302.2L470.5,2302.2L479.2,2322.9L478.2,2324.9L458.0,2324.9L457.0,2322.9Z" fill="#00a9c8"/>
<text x="271.0" y="1429.9" font-size="76.6" class="t" textLength="73.1" lengthAdjust="spacingAndGlyphs">10</text><text x="271.0" y="1289.1" font-size="76.6" class="t" textLength="73.1" lengthAdjust="spacingAndGlyphs">60</text><text x="237.0" y="1148.3" font-size="76.6" class="t" textLength="107.0" lengthAdjust="spacingAndGlyphs">110</text><text x="234.4" y="1007.5" font-size="76.6" class="t" textLength="109.7" lengthAdjust="spacingAndGlyphs">160</text><text x="234.4" y="866.8" font-size="76.6" class="t" textLength="109.7" lengthAdjust="spacingAndGlyphs">210</text><text x="234.4" y="726.0" font-size="76.6" class="t" textLength="109.7" lengthAdjust="spacingAndGlyphs">260</text><text x="234.4" y="585.2" font-size="76.6" class="t" textLength="109.7" lengthAdjust="spacingAndGlyphs">310</text><text x="234.4" y="444.4" font-size="76.6" class="t" textLength="109.7" lengthAdjust="spacingAndGlyphs">360</text><text x="234.4" y="303.6" font-size="76.6" class="t" textLength="109.7" lengthAdjust="spacingAndGlyphs">410</text><text x="234.4" y="162.9" font-size="76.6" class="t" textLength="109.7" lengthAdjust="spacingAndGlyphs">460</text><text x="385.3" y="1510.9" font-size="77.0" class="t" textLength="36.8" lengthAdjust="spacingAndGlyphs">0</text><text x="643.3" y="1510.9" font-size="77.0" class="t" textLength="110.4" lengthAdjust="spacingAndGlyphs">100</text><text x="941.6" y="1510.9" font-size="77.0" class="t" textLength="110.4" lengthAdjust="spacingAndGlyphs">200</text><text x="1238.0" y="1510.9" font-size="77.0" class="t" textLength="110.4" lengthAdjust="spacingAndGlyphs">300</text><text x="1535.7" y="1510.9" font-size="77.0" class="t" textLength="110.4" lengthAdjust="spacingAndGlyphs">400</text><text x="1830.9" y="1510.9" font-size="77.0" class="t" textLength="110.4" lengthAdjust="spacingAndGlyphs">500</text><text x="2128.0" y="1510.9" font-size="77.0" class="t" textLength="110.4" lengthAdjust="spacingAndGlyphs">600</text><path d="M503.4,88.4L508.9,88.4L522.3,101.3L522.3,106.7L508.9,119.6L503.4,119.6L489.9,106.7L489.9,101.3Z" fill="#ff0000"/><text class="t" y="127.1" font-size="69"><tspan x="533.8" textLength="163.4" lengthAdjust="spacing">blank</tspan></text><path d="M503.4,174.8L508.9,174.8L522.3,187.7L522.3,193.1L508.9,206.0L503.4,206.0L489.9,193.1L489.9,187.7Z" fill="#ff6600"/><text class="t" y="213.5" font-size="69"><tspan x="532.1" textLength="33.1" lengthAdjust="spacingAndGlyphs">0</tspan><tspan x="564.9" textLength="19.2" lengthAdjust="spacingAndGlyphs">.</tspan><tspan x="601.9" textLength="27.7" lengthAdjust="spacingAndGlyphs">1</tspan><tspan x="655.0" textLength="78.5" lengthAdjust="spacingAndGlyphs"> mM</tspan></text><path d="M503.4,261.2L508.9,261.2L522.3,274.1L522.3,279.5L508.9,292.4L503.4,292.4L489.9,279.5L489.9,274.1Z" fill="#008000"/><path d="M505.7,270.6L506.5,270.6L512.3,276.4L512.3,277.2L506.5,283.0L505.7,283.0L499.9,277.2L499.9,276.4Z" fill="#00b050"/><text class="t" y="299.9" font-size="69"><tspan x="535.0" textLength="27.0" lengthAdjust="spacingAndGlyphs">1</tspan><tspan x="587.9" textLength="78.3" lengthAdjust="spacingAndGlyphs"> mM</tspan></text><path d="M503.4,347.2L508.9,347.2L522.3,360.1L522.3,365.5L508.9,378.4L503.4,378.4L489.9,365.5L489.9,360.1Z" fill="#8b4cc4"/><path d="M505.7,356.6L506.5,356.6L512.3,362.4L512.3,363.2L506.5,369.0L505.7,369.0L499.9,363.2L499.9,362.4Z" fill="#ae62ea"/><text class="t" y="385.9" font-size="69"><tspan x="532.0" textLength="31.1" lengthAdjust="spacingAndGlyphs">5</tspan><tspan x="587.9" textLength="78.3" lengthAdjust="spacingAndGlyphs"> mM</tspan></text><path d="M503.4,433.7L508.9,433.7L522.3,446.6L522.3,452.0L508.9,464.9L503.4,464.9L489.9,452.0L489.9,446.6Z" fill="#2cb8cc"/><path d="M505.7,443.1L506.5,443.1L512.3,448.9L512.3,449.7L506.5,455.5L505.7,455.5L499.9,449.7L499.9,448.9Z" fill="#3ee8fa"/><text class="t" y="472.4" font-size="69"><tspan x="534.0" textLength="65.3" lengthAdjust="spacingAndGlyphs">10</tspan><tspan x="621.2" textLength="79.2" lengthAdjust="spacingAndGlyphs"> mM</tspan></text><text><tspan x="1165.6" y="1617.8" font-size="90" font-weight="bold" textLength="43.9" lengthAdjust="spacingAndGlyphs">Z</tspan><tspan x="1209.8" y="1602.0" font-size="80" font-weight="bold" textLength="21.1" lengthAdjust="spacingAndGlyphs">’</tspan><tspan x="1265.7" y="1607.8" font-size="86.5" font-weight="normal" textLength="27.6" lengthAdjust="spacingAndGlyphs">(</tspan><tspan x="1309.9" y="1610.8" font-size="82" font-weight="normal" textLength="53.9" lengthAdjust="spacingAndGlyphs">Ω</tspan><tspan x="1378.8" y="1607.8" font-size="86.5" font-weight="normal" textLength="27.4" lengthAdjust="spacingAndGlyphs">)</tspan></text><text transform="rotate(-90)"><tspan x="-962.3" y="170.9" font-size="90" font-weight="bold" textLength="43.8" lengthAdjust="spacingAndGlyphs">Z</tspan><tspan x="-915.6" y="154.2" font-size="79" font-weight="bold" textLength="36.9" lengthAdjust="spacingAndGlyphs">”</tspan><tspan x="-863.0" y="160.6" font-size="86.5" font-weight="normal" textLength="29.0" lengthAdjust="spacingAndGlyphs">(</tspan><tspan x="-818.2" y="163.9" font-size="82" font-weight="normal" textLength="54.2" lengthAdjust="spacingAndGlyphs">Ω</tspan><tspan x="-749.5" y="160.6" font-size="86.5" font-weight="normal" textLength="28.6" lengthAdjust="spacingAndGlyphs">)</tspan></text><text><tspan x="1142.2" y="1728.1" font-size="85.4" font-weight="normal" textLength="27.0" lengthAdjust="spacingAndGlyphs">(</tspan><tspan x="1169.0" y="1728.5" font-size="89.4" font-weight="bold" textLength="41.9" lengthAdjust="spacingAndGlyphs">a</tspan><tspan x="1210.5" y="1728.1" font-size="85.4" font-weight="normal" textLength="26.0" lengthAdjust="spacingAndGlyphs">)</tspan></text><text x="131.9" y="3214.8" font-size="85.0" class="t" textLength="122.5" lengthAdjust="spacingAndGlyphs">150</text><text x="131.9" y="3060.8" font-size="85.0" class="t" textLength="122.5" lengthAdjust="spacingAndGlyphs">200</text><text x="131.9" y="2906.7" font-size="85.0" class="t" textLength="122.5" lengthAdjust="spacingAndGlyphs">250</text><text x="131.9" y="2752.6" font-size="85.0" class="t" textLength="122.5" lengthAdjust="spacingAndGlyphs">300</text><text x="131.9" y="2598.5" font-size="85.0" class="t" textLength="122.5" lengthAdjust="spacingAndGlyphs">350</text><text x="131.9" y="2444.5" font-size="85.0" class="t" textLength="122.5" lengthAdjust="spacingAndGlyphs">400</text><text x="131.9" y="2290.4" font-size="85.0" class="t" textLength="122.5" lengthAdjust="spacingAndGlyphs">450</text><text x="131.9" y="2136.3" font-size="85.0" class="t" textLength="122.5" lengthAdjust="spacingAndGlyphs">500</text><text x="131.9" y="1982.2" font-size="85.0" class="t" textLength="122.5" lengthAdjust="spacingAndGlyphs">550</text><text x="131.9" y="1828.1" font-size="85.0" class="t" textLength="122.5" lengthAdjust="spacingAndGlyphs">600</text><text x="302.4" y="3292.8" font-size="77.2" class="t" textLength="36.9" lengthAdjust="spacingAndGlyphs">0</text><text x="541.8" y="3292.8" font-size="77.2" class="t" textLength="184.3" lengthAdjust="spacingAndGlyphs">20000</text><text x="856.1" y="3292.8" font-size="77.2" class="t" textLength="184.3" lengthAdjust="spacingAndGlyphs">40000</text><text x="1168.5" y="3292.8" font-size="77.2" class="t" textLength="184.3" lengthAdjust="spacingAndGlyphs">60000</text><text x="1482.1" y="3292.8" font-size="77.2" class="t" textLength="184.3" lengthAdjust="spacingAndGlyphs">80000</text><text x="1775.1" y="3292.8" font-size="77.2" class="t" textLength="221.1" lengthAdjust="spacingAndGlyphs">100000</text><text x="2088.5" y="3292.8" font-size="77.2" class="t" textLength="221.1" lengthAdjust="spacingAndGlyphs">120000</text><path d="M1775.7,1921.2L1780.5,1921.2L1790.1,1942.8L1789.1,1944.8L1767.1,1944.8L1766.1,1942.8Z" fill="#ff0000"/><text class="t" y="1956.8" font-size="70"><tspan x="1806.9" textLength="162.1" lengthAdjust="spacing">blank</tspan></text><path d="M1775.7,2011.1L1780.5,2011.1L1790.1,2032.7L1789.1,2034.7L1767.1,2034.7L1766.1,2032.7Z" fill="#ff6600"/><text class="t" y="2046.7" font-size="70"><tspan x="1805.1" textLength="33.2" lengthAdjust="spacingAndGlyphs">0</tspan><tspan x="1837.0" textLength="18.3" lengthAdjust="spacingAndGlyphs">.</tspan><tspan x="1874.1" textLength="27.0" lengthAdjust="spacingAndGlyphs">1</tspan><tspan x="1903.6" textLength="68.8" lengthAdjust="spacingAndGlyphs">mM</tspan></text><path d="M1775.7,2101.6L1780.5,2101.6L1790.1,2123.2L1789.1,2125.2L1767.1,2125.2L1766.1,2123.2Z" fill="#00b050"/><text class="t" y="2137.2" font-size="70"><tspan x="1807.5" textLength="27.9" lengthAdjust="spacingAndGlyphs">1</tspan><tspan x="1837.3" textLength="68.2" lengthAdjust="spacingAndGlyphs">mM</tspan></text><path d="M1775.7,2191.9L1780.5,2191.9L1790.1,2213.5L1789.1,2215.5L1767.1,2215.5L1766.1,2213.5Z" fill="#8b4bc3"/><text class="t" y="2227.5" font-size="70"><tspan x="1804.9" textLength="31.4" lengthAdjust="spacingAndGlyphs">5</tspan><tspan x="1837.3" textLength="68.2" lengthAdjust="spacingAndGlyphs">mM</tspan></text><path d="M1775.7,2282.1L1780.5,2282.1L1790.1,2303.7L1789.1,2305.7L1767.1,2305.7L1766.1,2303.7Z" fill="#00a9c8"/><text class="t" y="2317.7" font-size="70"><tspan x="1806.7" textLength="64.0" lengthAdjust="spacingAndGlyphs">10</tspan><tspan x="1870.2" textLength="68.8" lengthAdjust="spacingAndGlyphs">mM</tspan></text><text x="962.7" y="3382.9" font-size="86" textLength="580" lengthAdjust="spacing">Frequency (Hz)</text><text transform="rotate(-90)"><tspan x="-2631.3" y="90.1" font-size="89" font-weight="bold" textLength="43.9" lengthAdjust="spacingAndGlyphs">Z</tspan><tspan x="-2574.3" y="80.3" font-size="86.5" font-weight="normal" textLength="28.1" lengthAdjust="spacingAndGlyphs">(</tspan><tspan x="-2530.2" y="84.1" font-size="84" font-weight="normal" textLength="54.1" lengthAdjust="spacingAndGlyphs">Ω</tspan><tspan x="-2461.0" y="80.3" font-size="86.5" font-weight="normal" textLength="28.7" lengthAdjust="spacingAndGlyphs">)</tspan></text><text><tspan x="1137.4" y="3494.7" font-size="86.9" font-weight="normal" textLength="26.3" lengthAdjust="spacingAndGlyphs">(</tspan><tspan x="1165.2" y="3495.2" font-size="90" font-weight="bold" textLength="49.7" lengthAdjust="spacingAndGlyphs">b</tspan><tspan x="1215.5" y="3494.7" font-size="86.9" font-weight="normal" textLength="25.7" lengthAdjust="spacingAndGlyphs">)</tspan></text>
</svg></body></html>
